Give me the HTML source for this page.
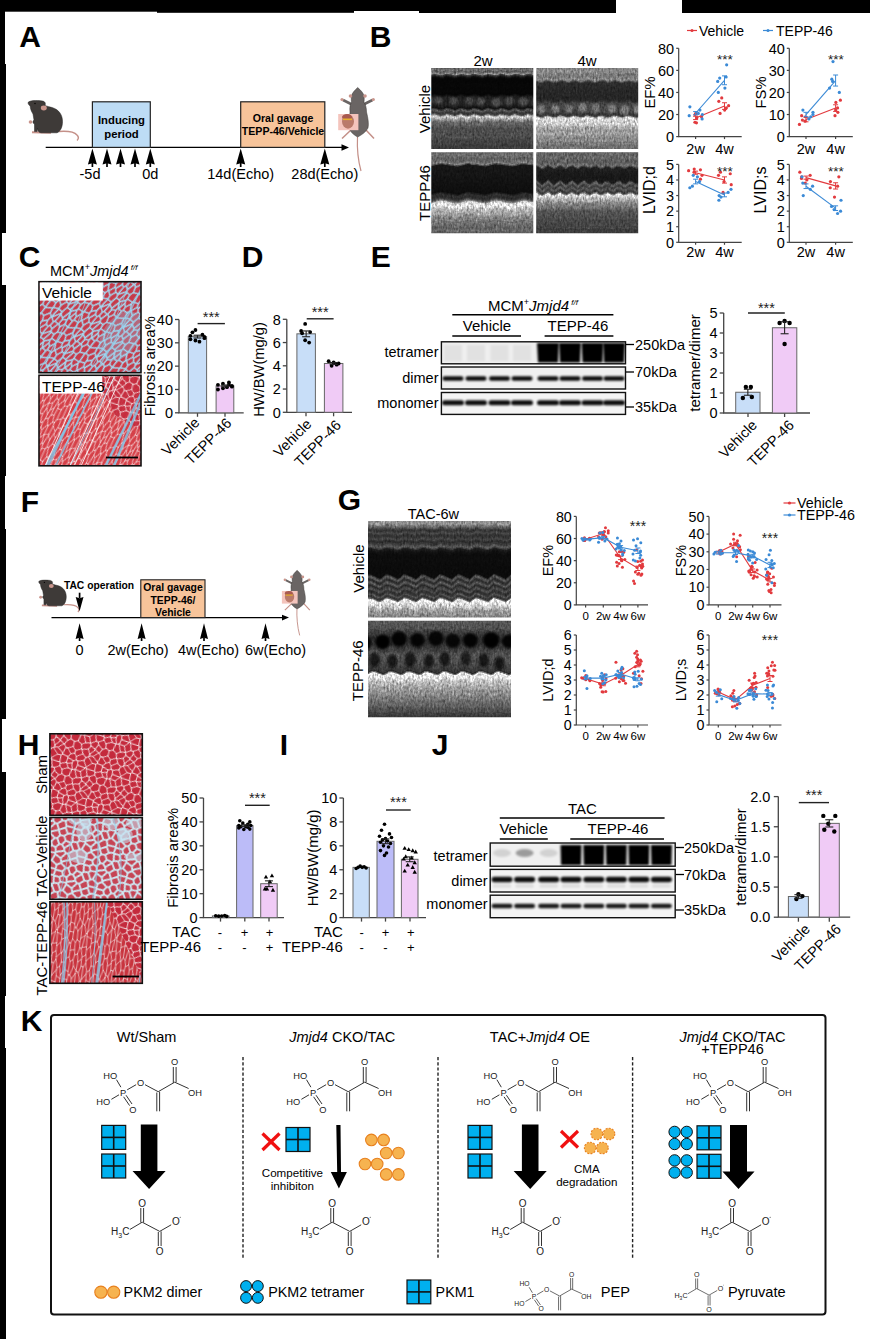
<!DOCTYPE html>
<html><head><meta charset="utf-8"><style>
html,body{margin:0;padding:0;background:#fff;}
body{width:870px;height:1339px;overflow:hidden;}
svg{display:block;font-family:"Liberation Sans", sans-serif;}
</style></head><body>
<svg width="870" height="1339" viewBox="0 0 870 1339">
<defs><filter id="eblur" x="-50%" y="-50%" width="200%" height="200%"><feGaussianBlur stdDeviation="1.3"/></filter>
<filter id="spk1" x="0" y="0" width="100%" height="100%" color-interpolation-filters="sRGB"><feTurbulence type="fractalNoise" baseFrequency="0.55 0.3" numOctaves="2" seed="5" result="t"/><feColorMatrix in="t" type="matrix" values="0.33 0.33 0.33 0 0  0.33 0.33 0.33 0 0  0.33 0.33 0.33 0 0  0 0 0 0 1" result="g"/><feComposite in="SourceGraphic" in2="g" operator="arithmetic" k1="1.7" k2="0.15" k3="0" k4="0"/></filter>
<filter id="noise1" x="0" y="0" width="100%" height="100%"><feTurbulence type="fractalNoise" baseFrequency="0.9 0.35" numOctaves="2" seed="3"/><feColorMatrix type="matrix" values="0 0 0 0 0  0 0 0 0 0  0 0 0 0 0  1.2 1.2 1.2 0 -1.2"/></filter>
<filter id="noise2" x="0" y="0" width="100%" height="100%"><feTurbulence type="fractalNoise" baseFrequency="0.6 0.25" numOctaves="2" seed="9"/><feColorMatrix type="saturate" values="0"/></filter>
<clipPath id="ecb1"><rect x="431.3" y="68" width="102" height="81"/></clipPath>
<linearGradient id="egb1" x1="0" y1="0" x2="0" y2="1"><stop offset="0" stop-color="rgb(95,95,95)"/><stop offset="0.03" stop-color="rgb(110,110,110)"/><stop offset="0.05" stop-color="rgb(85,85,85)"/><stop offset="0.07" stop-color="rgb(150,150,150)"/><stop offset="0.1" stop-color="rgb(40,40,40)"/><stop offset="0.13" stop-color="rgb(8,8,8)"/><stop offset="0.33" stop-color="rgb(8,8,8)"/><stop offset="0.37" stop-color="rgb(35,35,35)"/><stop offset="0.47" stop-color="rgb(35,35,35)"/><stop offset="0.5" stop-color="rgb(20,20,20)"/><stop offset="0.53" stop-color="rgb(95,95,95)"/><stop offset="0.56" stop-color="rgb(50,50,50)"/><stop offset="0.58" stop-color="rgb(80,80,80)"/><stop offset="0.6" stop-color="rgb(220,220,220)"/><stop offset="0.62" stop-color="rgb(180,180,180)"/><stop offset="0.67" stop-color="rgb(105,105,105)"/><stop offset="0.75" stop-color="rgb(75,75,75)"/><stop offset="0.85" stop-color="rgb(80,80,80)"/><stop offset="1" stop-color="rgb(60,60,60)"/></linearGradient>
<clipPath id="ecb2"><rect x="536.2" y="68" width="102" height="81"/></clipPath>
<linearGradient id="egb2" x1="0" y1="0" x2="0" y2="1"><stop offset="0" stop-color="rgb(125,125,125)"/><stop offset="0.05" stop-color="rgb(140,140,140)"/><stop offset="0.1" stop-color="rgb(115,115,115)"/><stop offset="0.15" stop-color="rgb(150,150,150)"/><stop offset="0.18" stop-color="rgb(45,45,45)"/><stop offset="0.4" stop-color="rgb(38,38,38)"/><stop offset="0.44" stop-color="rgb(70,70,70)"/><stop offset="0.55" stop-color="rgb(70,70,70)"/><stop offset="0.59" stop-color="rgb(45,45,45)"/><stop offset="0.62" stop-color="rgb(225,225,225)"/><stop offset="0.68" stop-color="rgb(215,215,215)"/><stop offset="0.74" stop-color="rgb(170,170,170)"/><stop offset="0.9" stop-color="rgb(135,135,135)"/><stop offset="1" stop-color="rgb(110,110,110)"/></linearGradient>
<clipPath id="ecb3"><rect x="431.3" y="152.3" width="102" height="81"/></clipPath>
<linearGradient id="egb3" x1="0" y1="0" x2="0" y2="1"><stop offset="0" stop-color="rgb(95,95,95)"/><stop offset="0.05" stop-color="rgb(110,110,110)"/><stop offset="0.1" stop-color="rgb(90,90,90)"/><stop offset="0.14" stop-color="rgb(130,130,130)"/><stop offset="0.17" stop-color="rgb(25,25,25)"/><stop offset="0.5" stop-color="rgb(15,15,15)"/><stop offset="0.54" stop-color="rgb(55,55,55)"/><stop offset="0.57" stop-color="rgb(40,40,40)"/><stop offset="0.6" stop-color="rgb(90,90,90)"/><stop offset="0.63" stop-color="rgb(240,240,240)"/><stop offset="0.66" stop-color="rgb(220,220,220)"/><stop offset="0.75" stop-color="rgb(165,165,165)"/><stop offset="0.85" stop-color="rgb(115,115,115)"/><stop offset="1" stop-color="rgb(95,95,95)"/></linearGradient>
<clipPath id="ecb4"><rect x="536.2" y="152.3" width="102" height="81"/></clipPath>
<linearGradient id="egb4" x1="0" y1="0" x2="0" y2="1"><stop offset="0" stop-color="rgb(90,90,90)"/><stop offset="0.05" stop-color="rgb(110,110,110)"/><stop offset="0.13" stop-color="rgb(90,90,90)"/><stop offset="0.17" stop-color="rgb(120,120,120)"/><stop offset="0.2" stop-color="rgb(35,35,35)"/><stop offset="0.37" stop-color="rgb(30,30,30)"/><stop offset="0.4" stop-color="rgb(110,110,110)"/><stop offset="0.43" stop-color="rgb(50,50,50)"/><stop offset="0.46" stop-color="rgb(100,100,100)"/><stop offset="0.49" stop-color="rgb(55,55,55)"/><stop offset="0.51" stop-color="rgb(70,70,70)"/><stop offset="0.53" stop-color="rgb(235,235,235)"/><stop offset="0.56" stop-color="rgb(205,205,205)"/><stop offset="0.62" stop-color="rgb(140,140,140)"/><stop offset="0.75" stop-color="rgb(85,85,85)"/><stop offset="1" stop-color="rgb(60,60,60)"/></linearGradient>
<pattern id="p_sham" patternUnits="userSpaceOnUse" width="36" height="36" patternTransform="rotate(15)"><rect width="36" height="36" fill="#c42a3c"/><path d="M-3.1,7.1L-0.8,7.3M-0.8,7.3L0.1,10.1M0.1,10.1L-2.3,14.9M-2.3,14.9L-7.0,13.0M20.7,18.2L21.2,18.5M20.7,18.2L15.3,21.3M21.2,18.5L23.2,22.8M23.2,22.8L17.5,26.9M15.3,21.3L15.0,24.2M17.5,26.9L15.0,24.2M11.9,18.2L7.1,20.9M11.9,18.2L15.3,21.3M7.1,20.9L11.7,25.7M11.7,25.7L15.0,24.2M2.9,36.6L3.8,37.7M2.9,36.6L2.5,29.4M3.8,37.7L9.3,35.3M9.3,35.3L9.8,30.1M2.5,29.4L3.6,28.1M3.6,28.1L9.3,29.2M9.3,29.2L9.8,30.1M-5.6,36.0L2.9,36.6M3.9,40.1L3.8,37.7M-6.4,34.6L-1.2,29.5M-1.2,29.5L2.5,29.4M12.5,39.9L10.1,35.8M10.1,35.8L9.3,35.3M10.1,35.8L15.0,34.5M15.0,34.5L15.8,31.8M15.8,31.8L9.8,30.1M11.7,25.7L9.3,29.2M18.4,30.3L15.8,31.8M18.4,30.3L17.5,26.9M15.0,34.5L16.9,40.6M-1.2,-6.5L-6.4,-1.4M20.1,31.0L21.1,34.9M20.1,31.0L26.0,28.8M21.1,34.9L29.0,35.8M26.0,28.8L29.6,34.6M29.6,34.6L29.6,35.4M29.0,35.8L29.6,35.4M19.7,39.8L21.1,34.9M18.4,30.3L20.1,31.0M27.1,25.4L23.2,22.8M27.1,25.4L26.0,28.8M25.4,40.5L29.0,35.8M29.4,24.2L27.1,25.4M29.4,24.2L34.8,29.5M34.8,29.5L29.6,34.6M3.5,27.0L-2.6,22.6M3.5,27.0L5.2,20.9M-2.6,22.6L2.5,17.8M5.2,20.9L2.7,17.8M2.7,17.8L2.5,17.8M7.1,20.9L5.2,20.9M3.6,28.1L3.5,27.0M5.2,13.3L0.1,10.1M5.2,13.3L2.7,17.8M-1.8,15.6L2.5,17.8M-1.8,15.6L-2.3,14.9M30.4,36.0L38.9,36.6M30.4,36.0L32.9,43.1M39.8,37.7L38.9,36.6M38.5,29.4L38.9,36.6M38.5,29.4L34.8,29.5M29.6,35.4L30.4,36.0M39.6,28.1L38.5,29.4M-1.2,29.5L-6.6,24.2M-1.8,15.6L-6.1,21.5M-2.6,22.6L-6.0,23.2M38.5,-6.6L38.9,0.6M39.8,1.7L38.9,0.6M2.9,0.6L2.5,-6.6M2.9,0.6L3.8,1.7M3.8,1.7L9.3,-0.7M9.3,-0.7L9.8,-5.9M-5.6,-0.0L2.9,0.6M-0.8,7.3L3.9,4.1M3.9,4.1L3.8,1.7M19.5,13.8L23.0,11.3M19.5,13.8L20.7,18.2M28.0,10.4L29.0,13.0M28.0,10.4L27.8,10.3M21.2,18.5L27.4,16.7M27.4,16.7L29.0,13.0M27.8,10.3L23.0,11.3M34.8,-6.5L29.6,-1.4M26.0,-7.2L29.6,-1.4M30.4,-0.0L38.9,0.6M30.4,-0.0L29.6,-0.6M29.6,-1.4L29.6,-0.6M28.0,10.4L32.9,7.1M30.4,-0.0L32.9,7.1M25.4,4.5L27.8,10.3M25.4,4.5L29.0,-0.2M29.6,-0.6L29.0,-0.2M36.1,10.1L35.2,7.3M36.1,10.1L41.2,13.3M35.2,7.3L39.9,4.1M32.9,7.1L35.2,7.3M29.0,13.0L33.7,14.9M33.7,14.9L36.1,10.1M41.2,20.9L38.7,17.8M38.7,17.8L41.2,13.3M30.0,23.2L29.9,21.5M30.0,23.2L33.4,22.6M29.9,21.5L34.2,15.6M33.4,22.6L38.5,17.8M38.5,17.8L34.2,15.6M29.4,24.2L30.0,23.2M27.4,16.7L29.9,21.5M39.5,27.0L33.4,22.6M33.7,14.9L34.2,15.6M38.7,17.8L38.5,17.8M16.5,4.9L12.5,3.9M16.5,4.9L15.3,11.4M12.5,3.9L6.9,7.0M15.3,11.4L11.9,12.8M11.9,12.8L8.0,11.4M8.0,11.4L6.9,7.0M3.9,4.1L6.9,7.0M9.3,-0.7L10.1,-0.2M10.1,-0.2L12.5,3.9M11.9,18.2L11.9,12.8M19.5,13.8L15.3,11.4M5.2,13.3L8.0,11.4M16.9,4.6L15.0,-1.5M16.9,4.6L19.6,3.9M19.6,3.9L19.7,3.8M19.7,3.8L21.1,-1.1M21.1,-1.1L20.1,-5.0M15.0,-1.5L15.8,-4.2M10.1,-0.2L15.0,-1.5M16.5,4.9L16.9,4.6M23.0,11.3L19.6,3.9M25.4,4.5L19.7,3.8M29.0,-0.2L21.1,-1.1" stroke="#f6e8ea" stroke-width="0.9" fill="none" stroke-linecap="round"/></pattern>
<pattern id="p_veh" patternUnits="userSpaceOnUse" width="40" height="30" patternTransform="rotate(-48)"><rect width="40" height="30" fill="#c63a4a"/><path d="M42.0,-0.7L42.6,-4.7M42.0,-0.7L49.9,-1.4M42.0,-0.7L41.8,-0.6M46.5,5.3L41.8,-0.6M-4.8,-0.0L1.8,-0.6M6.5,5.3L1.8,-0.6M6.5,5.3L1.2,6.7M-5.1,3.6L1.2,6.7M46.5,5.3L41.2,6.7M41.2,6.7L34.9,3.6M41.8,-0.6L35.2,-0.0M35.2,-0.0L34.9,3.6M7.0,5.4L12.7,4.1M7.0,5.4L10.1,10.2M10.1,10.2L13.9,9.5M13.9,9.5L16.7,5.4M12.7,4.1L16.0,4.8M16.7,5.4L16.0,4.8M6.5,5.3L7.0,5.4M9.9,-1.4L2.0,-0.7M9.9,-1.4L11.9,-0.7M1.8,-0.6L2.0,-0.7M11.9,-0.7L12.7,4.1M9.8,10.5L-1.0,10.0M9.8,10.5L10.1,10.2M-1.0,10.0L-1.0,10.0M-1.0,10.0L1.2,6.7M15.6,-1.4L22.2,1.0M15.6,-1.4L11.9,-0.7M22.2,1.0L16.0,4.8M-4.8,30.0L1.8,29.4M1.8,29.4L6.5,35.3M-9.7,18.6L-1.8,19.9M-1.8,19.9L-1.9,15.7M-3.5,14.8L-1.9,15.7M-8.3,24.9L-2.9,23.0M-2.9,23.0L-1.0,20.4M-1.0,20.4L-1.8,19.9M1.8,29.4L2.0,29.3M12.7,34.1L11.9,29.3M11.9,29.3L9.9,28.6M2.0,29.3L9.9,28.6M-2.9,23.0L2.6,25.3M2.0,29.3L2.6,25.3M-1.0,10.0L-5.9,9.6M-0.8,10.7L-1.0,10.0M-0.8,10.7L-3.5,14.8M9.9,-1.4L10.0,-5.5M15.6,-1.4L18.2,-4.2M34.3,-0.4L24.6,1.0M34.3,-0.4L31.7,-5.1M23.9,0.8L23.1,-5.3M23.9,0.8L24.6,1.0M35.2,-0.0L34.3,-0.4M22.2,1.0L23.9,0.8M46.5,35.3L41.8,29.4M34.9,33.6L35.2,30.0M41.8,29.4L35.2,30.0M41.2,6.7L39.0,10.0M49.8,10.5L39.0,10.0M39.0,10.0L39.0,10.0M26.9,36.1L24.6,31.0M16.0,34.8L22.2,31.0M22.2,31.0L23.9,30.8M23.9,30.8L24.6,31.0M34.3,29.6L35.2,30.0M34.3,29.6L24.6,31.0M15.6,28.6L11.9,29.3M15.6,28.6L22.2,31.0M31.7,24.9L34.3,29.6M31.7,24.9L27.6,23.7M23.1,24.7L27.6,23.7M23.1,24.7L23.9,30.8M2.0,-0.7L2.6,-4.7M41.8,29.4L42.0,29.3M49.9,28.6L42.0,29.3M15.6,28.6L18.2,25.8M9.9,28.6L10.0,24.5M18.2,25.8L10.0,24.5M23.1,24.7L21.3,24.6M18.2,25.8L21.3,24.6M39.0,10.0L39.2,10.7M39.2,10.7L48.3,15.2M39.2,10.7L36.5,14.8M47.4,15.7L38.1,15.7M38.1,15.7L36.5,14.8M47.1,23.6L42.6,25.3M42.6,25.3L37.1,23.0M44.3,20.1L39.0,20.4M39.0,20.4L37.1,23.0M42.0,29.3L42.6,25.3M31.7,24.9L37.1,23.0M38.2,19.9L38.1,15.7M38.2,19.9L39.0,20.4M2.6,25.3L7.1,23.6M10.0,24.5L9.8,24.1M7.1,23.6L9.8,24.1M-1.0,20.4L4.3,20.1M7.1,23.6L4.3,20.1M34.1,9.6L30.2,11.3M34.1,9.6L29.8,6.1M30.2,11.3L23.1,9.0M26.9,6.1L29.8,6.1M26.9,6.1L23.3,7.6M23.3,7.6L23.1,9.0M34.9,3.6L29.8,6.1M39.0,10.0L34.1,9.6M24.6,1.0L26.9,6.1M16.7,5.4L23.3,7.6M13.9,9.5L20.3,11.6M20.3,11.6L23.1,9.0M28.2,19.4L19.9,14.7M28.2,19.4L30.3,18.6M30.3,18.6L31.9,15.1M19.9,14.7L20.1,14.5M20.1,14.5L29.5,13.9M29.5,13.9L31.9,15.1M27.6,23.7L27.6,20.4M27.6,20.4L28.2,19.4M38.2,19.9L30.3,18.6M36.5,14.8L31.9,15.1M20.3,11.6L20.1,14.5M30.2,11.3L29.5,13.9M15.9,20.8L15.1,21.0M15.9,20.8L16.8,19.3M15.1,21.0L5.4,19.3M16.8,19.3L16.6,15.8M16.6,15.8L9.8,14.8M5.4,19.3L7.4,15.7M9.8,14.8L8.3,15.2M8.3,15.2L7.4,15.7M21.3,24.6L15.9,20.8M9.8,24.1L15.1,21.0M27.6,20.4L16.8,19.3M4.3,20.1L5.4,19.3M19.9,14.7L16.6,15.8M9.8,10.5L9.8,14.8M-1.9,15.7L7.4,15.7M-0.8,10.7L8.3,15.2" stroke="#a4d8f0" stroke-width="1.5" fill="none" stroke-linecap="round"/></pattern>
<pattern id="p_tepp" patternUnits="userSpaceOnUse" width="48" height="30" patternTransform="rotate(-62)"><rect width="48" height="30" fill="#d54048"/><path d="M-3.4,14.4L2.1,15.5M2.1,15.5L3.1,17.2M3.1,17.2L-3.3,18.8M11.4,18.9L3.1,17.2M11.4,18.9L7.8,21.8M-3.3,18.8L3.5,22.4M7.8,21.8L3.5,22.4M-5.2,32.7L2.5,32.9M2.9,36.6L2.5,32.9M8.1,30.2L0.8,29.2M8.1,30.2L5.9,31.9M0.8,29.2L-6.2,30.1M2.5,32.9L5.9,31.9M51.5,22.4L44.7,18.8M51.1,17.2L44.7,18.8M10.5,29.7L11.1,27.3M10.5,29.7L16.0,30.4M26.5,26.7L24.4,28.7M26.5,26.7L15.6,25.7M15.6,25.7L11.1,27.3M16.0,30.4L24.4,28.7M26.5,26.7L31.1,25.8M31.1,25.8L35.9,26.7M37.1,29.0L35.9,26.7M37.1,29.0L31.0,31.4M24.4,28.7L31.0,31.4M36.1,4.6L36.3,6.4M36.1,4.6L42.8,2.7M42.8,2.7L50.5,2.9M40.2,7.2L36.3,6.4M40.2,7.2L50.9,6.6M50.5,2.9L50.9,6.6M4.8,-4.3L11.1,-2.7M15.6,-4.3L11.1,-2.7M37.1,-1.0L35.9,-3.3M37.1,-1.0L41.8,0.1M46.0,-3.1L48.8,-0.8M48.8,-0.8L41.8,0.1M31.0,1.4L37.1,-1.0M31.0,1.4L24.4,-1.3M24.4,-1.3L26.5,-3.3M30.6,2.5L36.1,4.6M30.6,2.5L31.0,1.4M42.8,2.7L41.8,0.1M56.1,0.2L48.8,-0.8M50.5,2.9L53.9,1.9M11.4,18.9L15.7,18.2M2.1,15.5L11.7,12.9M15.7,18.2L16.7,14.9M16.7,14.9L11.7,12.9M11.7,12.9L11.2,11.3M11.2,11.3L9.1,10.7M9.1,10.7L-3.2,11.3M24.4,-1.3L16.0,0.4M11.1,-2.7L10.5,-0.3M16.0,0.4L10.5,-0.3M33.5,12.1L42.7,10.8M33.5,12.1L29.2,11.1M42.7,10.8L40.2,7.2M36.3,6.4L32.4,7.1M32.4,7.1L29.2,11.1M23.4,14.4L16.7,14.9M23.4,14.4L26.3,11.3M11.2,11.3L19.2,10.3M19.2,10.3L26.3,11.3M33.5,12.1L34.1,14.9M34.1,14.9L29.3,15.4M29.3,15.4L23.4,14.4M29.2,11.1L26.3,11.3M-2.0,-3.1L0.8,-0.8M-6.2,0.1L0.8,-0.8M10.5,-0.3L8.1,0.2M8.1,0.2L0.8,-0.8M24.1,19.6L25.3,19.3M24.1,19.6L24.5,22.0M25.3,19.3L37.9,19.2M24.5,22.0L30.4,24.0M30.4,24.0L38.5,21.8M38.5,21.8L37.9,19.2M15.7,18.2L24.1,19.6M29.3,15.4L25.3,19.3M15.6,23.7L7.8,21.8M15.6,23.7L24.5,22.0M34.1,14.9L37.4,15.5M37.4,15.5L38.9,18.8M38.9,18.8L37.9,19.2M31.1,25.8L30.4,24.0M15.6,25.7L15.6,23.7M-7.1,26.2L-2.0,26.9M-7.1,26.2L-2.5,23.0M-2.0,26.9L4.8,25.7M4.8,25.7L3.0,22.6M-2.5,23.0L3.0,22.6M0.8,29.2L-2.0,26.9M-9.5,21.8L-2.5,23.0M8.1,30.2L10.5,29.7M11.1,27.3L4.8,25.7M3.5,22.4L3.0,22.6M44.6,14.4L50.1,15.5M44.6,14.4L44.8,11.3M50.1,15.5L59.7,12.9M44.8,11.3L57.1,10.7M51.1,17.2L50.1,15.5M37.4,15.5L44.6,14.4M44.7,18.8L38.9,18.8M42.7,10.8L44.8,11.3M50.9,6.6L55.6,7.4M35.9,26.7L40.9,26.2M38.5,21.8L45.5,23.0M40.9,26.2L45.5,23.0M45.5,23.0L51.0,22.6M36.1,34.6L42.8,32.7M50.9,36.6L50.5,32.9M42.8,32.7L50.5,32.9M37.1,29.0L41.8,30.1M31.0,31.4L30.6,32.5M30.6,32.5L36.1,34.6M41.8,30.1L42.8,32.7M32.4,7.1L23.6,7.0M19.2,10.3L22.1,7.3M23.6,7.0L22.1,7.3M30.6,2.5L21.2,3.0M23.6,7.0L21.2,3.0M16.0,0.4L20.6,2.9M21.2,3.0L20.6,2.9M12.9,35.0L20.6,32.9M20.6,32.9L21.2,33.0M5.9,31.9L12.9,35.0M16.0,30.4L20.6,32.9M30.6,32.5L21.2,33.0M56.1,30.2L48.8,29.2M48.8,29.2L46.0,26.9M52.8,25.7L46.0,26.9M53.9,31.9L50.5,32.9M41.8,30.1L48.8,29.2M40.9,26.2L46.0,26.9M12.1,6.2L12.9,5.0M12.1,6.2L7.6,7.4M12.9,5.0L5.9,1.9M7.6,7.4L2.9,6.6M2.9,6.6L2.5,2.9M5.9,1.9L2.5,2.9M22.1,7.3L12.1,6.2M20.6,2.9L12.9,5.0M9.1,10.7L7.6,7.4M8.1,0.2L5.9,1.9M-7.8,7.2L2.9,6.6M-5.2,2.7L2.5,2.9" stroke="#f6e4e6" stroke-width="0.7" fill="none" stroke-linecap="round"/></pattern>
<pattern id="p_tacv" patternUnits="userSpaceOnUse" width="32" height="32" patternTransform="rotate(-20)"><rect width="32" height="32" fill="#c64454"/><path d="M-1.7,12.4L2.6,16.6M-1.7,12.4L-6.7,14.8M-5.7,18.9L2.2,17.3M2.2,17.3L2.6,16.6M-1.5,7.5L-1.7,12.4M-1.5,7.5L-5.0,5.4M-1.5,7.5L2.6,6.5M2.6,6.5L2.6,0.2M-4.3,-0.4L2.6,0.2M2.6,6.5L7.2,8.4M2.6,0.2L4.0,-1.1M11.0,3.5L4.0,-1.1M11.0,3.5L10.9,4.2M7.2,8.4L10.9,4.2M4.3,15.8L2.6,16.6M4.3,15.8L7.3,9.0M7.2,8.4L7.3,9.0M20.9,38.2L18.1,31.5M18.1,31.5L18.8,30.8M27.4,31.9L18.8,30.8M27.4,31.9L27.0,37.4M4.0,-1.1L4.9,-6.0M18.1,31.5L13.4,32.0M13.4,32.0L11.0,35.5M15.9,21.5L19.6,27.2M15.9,21.5L10.4,25.9M18.8,30.8L19.6,27.2M13.4,32.0L10.4,25.9M8.5,17.9L8.2,25.4M8.5,17.9L11.2,17.3M15.9,21.5L16.2,20.2M10.4,25.9L8.2,25.4M16.2,20.2L11.2,17.3M8.5,17.9L4.3,15.8M7.3,9.0L11.8,12.4M11.2,17.3L11.8,12.4M13.4,-0.0L11.0,3.5M13.4,-0.0L10.4,-6.1M18.1,-0.5L18.8,-1.2M18.1,-0.5L13.4,-0.0M19.6,-4.8L18.8,-1.2M28.0,-6.4L27.7,-0.4M27.7,-0.4L34.6,0.2M36.0,-1.1L34.6,0.2M27.4,-0.1L27.7,-0.4M27.4,-0.1L18.8,-1.2M27.0,5.4L27.4,-0.1M27.0,5.4L30.5,7.5M30.5,7.5L34.6,6.5M34.6,6.5L34.6,0.2M39.2,8.4L34.6,6.5M27.4,31.9L27.7,31.6M19.6,27.2L26.3,24.3M27.7,31.6L28.0,25.6M26.3,24.3L28.0,25.6M16.2,20.2L17.1,19.5M17.1,19.5L25.4,21.5M26.3,24.3L25.4,21.5M27.7,31.6L34.6,32.2M34.6,32.2L36.0,30.9M36.9,26.0L34.1,24.2M28.0,25.6L34.1,24.2M34.6,32.2L34.6,38.5M2.2,17.3L2.1,24.2M-4.0,25.6L2.1,24.2M11.0,35.5L4.0,30.9M8.2,25.4L4.9,26.0M4.0,30.9L4.9,26.0M2.1,24.2L4.9,26.0M15.8,12.0L18.4,15.2M15.8,12.0L16.6,8.1M18.4,15.2L23.0,13.3M23.0,13.3L23.2,7.1M16.6,8.1L20.9,6.2M23.2,7.1L20.9,6.2M11.8,12.4L15.8,12.0M17.1,19.5L18.4,15.2M10.9,4.2L16.6,8.1M18.1,-0.5L20.9,6.2M27.0,5.4L23.2,7.1M34.6,16.6L34.2,17.3M34.6,16.6L30.3,12.4M34.2,17.3L26.3,18.9M30.3,12.4L25.3,14.8M25.3,14.8L26.3,18.9M36.3,15.8L34.6,16.6M34.1,24.2L34.2,17.3M30.5,7.5L30.3,12.4M25.4,21.5L26.3,18.9M23.0,13.3L25.3,14.8M4.0,30.9L2.6,32.2M-4.3,31.6L2.6,32.2M2.6,38.5L2.6,32.2" stroke="#cfe6f0" stroke-width="1.9" fill="none" stroke-linecap="round"/></pattern>
<pattern id="p_tact" patternUnits="userSpaceOnUse" width="48" height="30" patternTransform="rotate(-82)"><rect width="48" height="30" fill="#c8343e"/><path d="M40.2,-2.8L37.4,-4.2M40.2,-2.8L38.3,0.0M25.0,-3.1L26.1,-0.5M26.1,-0.5L32.4,0.9M38.3,0.0L32.4,0.9M40.2,-2.8L49.0,-3.2M49.0,-3.2L54.4,-0.0M54.4,-0.0L42.2,0.7M38.3,0.0L42.2,0.7M42.2,0.7L45.6,4.6M31.9,2.5L32.4,0.9M31.9,2.5L33.4,3.2M45.6,4.6L33.4,3.2M55.7,2.8L47.6,5.3M45.6,4.6L47.6,5.3M23.6,4.4L31.9,2.5M23.6,4.4L26.2,7.8M26.2,7.8L31.6,7.9M31.6,7.9L34.2,7.3M33.4,3.2L34.2,7.3M59.5,13.5L50.9,15.4M55.7,18.5L50.9,15.4M-2.4,4.6L-5.8,0.7M-2.4,4.6L-14.6,3.2M26.1,-0.5L18.4,0.9M23.6,4.4L21.2,4.1M18.4,0.9L21.2,4.1M26.2,7.8L20.5,9.0M20.5,9.0L17.9,8.9M14.0,6.9L17.9,8.9M14.0,6.9L14.7,4.9M14.7,4.9L21.2,4.1M1.5,11.4L-4.7,11.0M1.5,11.4L7.5,10.8M7.5,10.8L1.3,6.7M-3.4,6.8L-0.6,6.2M-0.6,6.2L1.3,6.7M9.7,11.1L7.5,10.8M9.7,11.1L17.9,8.9M14.0,6.9L1.3,6.7M-0.4,5.3L-2.4,4.6M-0.4,5.3L-0.6,6.2M-0.4,5.3L7.7,2.8M7.7,2.8L14.7,4.9M20.5,9.0L25.3,13.1M31.6,7.9L35.3,11.3M35.3,11.3L25.3,13.1M1.5,11.4L-0.4,15.3M-0.4,15.3L-6.8,15.7M9.7,11.1L11.5,13.5M11.5,13.5L2.9,15.4M-0.4,15.3L2.9,15.4M44.6,6.8L47.4,6.2M44.6,6.8L43.3,11.0M43.3,11.0L49.5,11.4M47.4,6.2L49.3,6.7M49.3,6.7L55.5,10.8M49.5,11.4L55.5,10.8M47.6,5.3L47.4,6.2M34.2,7.3L44.6,6.8M38.7,11.9L35.3,11.3M38.7,11.9L43.3,11.0M47.6,15.3L41.2,15.7M47.6,15.3L49.5,11.4M41.2,15.7L40.7,15.6M40.7,15.6L38.7,11.9M62.0,6.9L49.3,6.7M47.6,15.3L50.9,15.4M55.7,18.5L47.6,19.0M41.2,15.7L40.7,17.5M47.6,19.0L40.7,17.5M26.6,17.6L20.3,18.8M26.6,17.6L28.7,15.4M15.9,14.6L16.0,17.9M15.9,14.6L24.8,13.6M16.0,17.9L20.3,18.8M24.8,13.6L28.7,15.4M40.7,15.6L28.7,15.4M36.3,19.6L40.7,17.5M36.3,19.6L26.6,17.6M11.5,13.5L15.9,14.6M25.3,13.1L24.8,13.6M6.4,-0.0L1.0,-3.2M6.4,-0.0L9.1,0.4M9.3,0.4L9.1,0.4M9.3,0.4L13.6,-2.8M13.6,-2.8L4.1,-5.3M-7.8,-2.8L1.0,-3.2M-5.8,0.7L6.4,-0.0M7.7,2.8L9.1,0.4M18.4,0.9L9.3,0.4M19.6,-4.2L13.6,-2.8M2.9,15.4L7.7,18.5M16.0,17.9L8.9,18.7M8.9,18.7L7.7,18.5M-7.6,22.6L-0.9,22.6M-0.9,22.6L-0.4,19.0M-7.3,17.5L-0.4,19.0M7.7,18.5L-0.4,19.0M18.4,30.9L21.2,34.1M18.4,30.9L9.3,30.4M7.7,32.8L14.7,34.9M7.7,32.8L9.1,30.4M9.1,30.4L9.3,30.4M-0.4,35.3L7.7,32.8M23.6,34.4L31.9,32.5M33.4,33.2L31.9,32.5M6.4,30.0L1.0,26.8M6.4,30.0L-5.8,30.7M1.0,26.8L-7.8,27.2M-2.4,34.6L-5.8,30.7M9.1,30.4L6.4,30.0M9.3,30.4L13.6,27.2M1.0,26.8L4.1,24.7M13.6,27.2L4.1,24.7M8.9,18.7L7.6,22.6M-0.9,22.6L4.1,23.2M7.6,22.6L4.1,23.2M4.1,23.2L4.1,24.7M18.4,30.9L26.1,29.5M31.9,32.5L32.4,30.9M26.1,29.5L32.4,30.9M13.6,27.2L19.6,25.8M7.6,22.6L17.8,23.2M19.6,25.8L17.8,23.2M26.1,29.5L25.0,26.9M19.6,25.8L25.0,26.9M20.3,18.8L22.2,21.6M22.2,21.6L17.8,23.2M54.4,30.0L42.2,30.7M55.7,32.8L47.6,35.3M42.2,30.7L45.6,34.6M32.4,30.9L38.3,30.0M38.3,30.0L42.2,30.7M38.3,30.0L40.2,27.2M54.4,30.0L49.0,26.8M40.2,27.2L49.0,26.8M49.0,26.8L52.1,24.7M47.6,19.0L47.1,22.6M47.1,22.6L52.1,23.2M29.9,25.9L28.8,21.9M29.9,25.9L37.4,25.8M37.4,25.8L40.4,22.6M40.4,22.6L35.9,21.1M35.9,21.1L28.8,21.9M25.0,26.9L29.9,25.9M22.2,21.6L28.8,21.9M40.2,27.2L37.4,25.8M47.1,22.6L40.4,22.6M36.3,19.6L35.9,21.1" stroke="#f2dcde" stroke-width="0.7" fill="none" stroke-linecap="round"/></pattern>
<filter id="bblur" x="-30%" y="-80%" width="160%" height="260%"><feGaussianBlur stdDeviation="0.9"/></filter>
<clipPath id="hcc1"><rect x="39" y="281.7" width="102" height="91"/></clipPath>
<clipPath id="hcc2"><rect x="39" y="375.3" width="102" height="90.5"/></clipPath>
<clipPath id="hcqc2"><path d="M95.1,375.3 L141,375.3 L141,429.6 L115.5,416.03 Z"/></clipPath>
<clipPath id="hch1"><rect x="49.9" y="733.8" width="92.4" height="81.5"/></clipPath>
<clipPath id="hch2"><rect x="49.9" y="817.5" width="92.4" height="81.8"/></clipPath>
<clipPath id="hch3"><rect x="49.9" y="901.8" width="92.4" height="81.5"/></clipPath>
<clipPath id="hcqh3"><path d="M107.19,901.8 L142.3,901.8 L142.3,979.22 Z"/></clipPath>
<clipPath id="ecg1"><rect x="368" y="521" width="143" height="96.5"/></clipPath>
<linearGradient id="egg1" x1="0" y1="0" x2="0" y2="1"><stop offset="0" stop-color="rgb(140,140,140)"/><stop offset="0.04" stop-color="rgb(150,150,150)"/><stop offset="0.07" stop-color="rgb(95,95,95)"/><stop offset="0.1" stop-color="rgb(50,50,50)"/><stop offset="0.13" stop-color="rgb(75,75,75)"/><stop offset="0.16" stop-color="rgb(45,45,45)"/><stop offset="0.19" stop-color="rgb(70,70,70)"/><stop offset="0.22" stop-color="rgb(45,45,45)"/><stop offset="0.25" stop-color="rgb(65,65,65)"/><stop offset="0.27" stop-color="rgb(100,100,100)"/><stop offset="0.3" stop-color="rgb(30,30,30)"/><stop offset="0.33" stop-color="rgb(15,15,15)"/><stop offset="0.57" stop-color="rgb(12,12,12)"/><stop offset="0.6" stop-color="rgb(100,100,100)"/><stop offset="0.63" stop-color="rgb(35,35,35)"/><stop offset="0.66" stop-color="rgb(95,95,95)"/><stop offset="0.69" stop-color="rgb(35,35,35)"/><stop offset="0.72" stop-color="rgb(85,85,85)"/><stop offset="0.75" stop-color="rgb(40,40,40)"/><stop offset="0.78" stop-color="rgb(80,80,80)"/><stop offset="0.81" stop-color="rgb(45,45,45)"/><stop offset="0.83" stop-color="rgb(250,250,250)"/><stop offset="0.87" stop-color="rgb(230,230,230)"/><stop offset="0.92" stop-color="rgb(170,170,170)"/><stop offset="1" stop-color="rgb(130,130,130)"/></linearGradient>
<clipPath id="ecg2"><rect x="368" y="620.7" width="143" height="96.5"/></clipPath>
<linearGradient id="egg2" x1="0" y1="0" x2="0" y2="1"><stop offset="0" stop-color="rgb(90,90,90)"/><stop offset="0.08" stop-color="rgb(85,85,85)"/><stop offset="0.12" stop-color="rgb(65,65,65)"/><stop offset="0.2" stop-color="rgb(45,45,45)"/><stop offset="0.3" stop-color="rgb(60,60,60)"/><stop offset="0.35" stop-color="rgb(85,85,85)"/><stop offset="0.45" stop-color="rgb(70,70,70)"/><stop offset="0.52" stop-color="rgb(55,55,55)"/><stop offset="0.54" stop-color="rgb(30,30,30)"/><stop offset="0.56" stop-color="rgb(250,250,250)"/><stop offset="0.6" stop-color="rgb(215,215,215)"/><stop offset="0.7" stop-color="rgb(160,160,160)"/><stop offset="0.85" stop-color="rgb(105,105,105)"/><stop offset="1" stop-color="rgb(55,55,55)"/></linearGradient></defs>
<rect width="870" height="1339" fill="#fff"/>
<rect x="0" y="0" width="157" height="11.7" fill="#000"/>
<rect x="157" y="0" width="197" height="12.8" fill="#000"/>
<rect x="354" y="0" width="65" height="11" fill="#000"/>
<rect x="419" y="0" width="197" height="13" fill="#000"/>
<rect x="682" y="0" width="188" height="13" fill="#000"/>
<rect x="0" y="0" width="5" height="64" fill="#000"/>
<rect x="0" y="64" width="6" height="169" fill="#000"/>
<rect x="0" y="233" width="2" height="52" fill="#000"/>
<rect x="0" y="285" width="6" height="191" fill="#000"/>
<rect x="0" y="476" width="5" height="53" fill="#000"/>
<rect x="0" y="529" width="6" height="190" fill="#000"/>
<rect x="0" y="719" width="2" height="53" fill="#000"/>
<rect x="0" y="772" width="6" height="224" fill="#000"/>
<rect x="0" y="996" width="5" height="52" fill="#000"/>
<rect x="0" y="1048" width="6" height="291" fill="#000"/>
<text x="19.3" y="46.9" font-size="30" text-anchor="start" font-weight="bold" fill="#000">A</text>
<text x="369.8" y="46.9" font-size="30" text-anchor="start" font-weight="bold" fill="#000">B</text>
<text x="18.8" y="266.9" font-size="30" text-anchor="start" font-weight="bold" fill="#000">C</text>
<text x="241.8" y="266.9" font-size="30" text-anchor="start" font-weight="bold" fill="#000">D</text>
<text x="370.8" y="266.9" font-size="30" text-anchor="start" font-weight="bold" fill="#000">E</text>
<text x="20.8" y="511.9" font-size="30" text-anchor="start" font-weight="bold" fill="#000">F</text>
<text x="337.8" y="509.9" font-size="30" text-anchor="start" font-weight="bold" fill="#000">G</text>
<text x="17.8" y="754.9" font-size="30" text-anchor="start" font-weight="bold" fill="#000">H</text>
<text x="279.8" y="754.9" font-size="30" text-anchor="start" font-weight="bold" fill="#000">I</text>
<text x="431.8" y="754.9" font-size="30" text-anchor="start" font-weight="bold" fill="#000">J</text>
<text x="20.8" y="1030.9" font-size="30" text-anchor="start" font-weight="bold" fill="#000">K</text>
<g transform="translate(24 93) scale(1)">
<path d="M35,38.5 C42,38 50,38.5 53,42 C55,44 54.5,46 53,47.5" fill="none" stroke="#c49088" stroke-width="1.4"/>
<path d="M8,39.2 L27,39.8" fill="none" stroke="#c49088" stroke-width="2"/>
<path d="M4,9.5 C6,7.3 12,7.3 18.5,8 C21,8.3 22,10.5 21,12.5 C24,13.5 26,14 28,14.5 C35,16.5 38.5,22 38.5,28.5 C38.5,34 36.5,38.5 33,39.8 L17,39.8 C14.5,39.5 13.5,37.5 13.5,35 L13.2,38.5 L10.5,38.5 L10.5,31 C8.5,30.5 8.5,28 10,27 L9,21 C7,18 6.3,15 6.2,13.2 C5,12 4,11 4,9.5 Z" fill="#3e3a38" stroke="#222" stroke-width="0.5"/>
<ellipse cx="19.8" cy="15" rx="3" ry="2.4" fill="#c9958c"/>
<circle cx="6.5" cy="29" r="1.8" fill="#c9958c"/>
<circle cx="11" cy="10.5" r="0.7" fill="#000"/>
</g>
<line x1="45.7" y1="147.4" x2="343" y2="147.4" stroke="#000" stroke-width="1.2"/>
<path d="M349,147.5 L341.5,144.3 L341.5,150.7 Z" fill="#000"/>
<rect x="92.4" y="101.8" width="57.9" height="45.6" fill="#bddcf5" stroke="#222" stroke-width="1.2"/>
<text x="121.5" y="124" font-size="11.3" text-anchor="middle" font-weight="bold" fill="#000">Inducing</text>
<text x="121.5" y="137.5" font-size="11.3" text-anchor="middle" font-weight="bold" fill="#000">period</text>
<rect x="240.7" y="101.8" width="84.1" height="45.6" fill="#f7c49a" stroke="#222" stroke-width="1.2"/>
<text x="283" y="122" font-size="10.6" text-anchor="middle" font-weight="bold" fill="#000">Oral gavage</text>
<text x="283" y="134.5" font-size="10.6" text-anchor="middle" font-weight="bold" fill="#000">TEPP-46/Vehicle</text>
<path d="M92.4,148.5 L96.9,164.5 L92.4,163.3 L87.9,164.5 Z" fill="#000"/>
<line x1="92.4" y1="163" x2="92.4" y2="167" stroke="#000" stroke-width="1.7"/>
<path d="M107,148.5 L111.5,164.5 L107,163.3 L102.5,164.5 Z" fill="#000"/>
<line x1="107" y1="163" x2="107" y2="167" stroke="#000" stroke-width="1.7"/>
<path d="M120.5,148.5 L125,164.5 L120.5,163.3 L116,164.5 Z" fill="#000"/>
<line x1="120.5" y1="163" x2="120.5" y2="167" stroke="#000" stroke-width="1.7"/>
<path d="M135,148.5 L139.5,164.5 L135,163.3 L130.5,164.5 Z" fill="#000"/>
<line x1="135" y1="163" x2="135" y2="167" stroke="#000" stroke-width="1.7"/>
<path d="M150.3,148.5 L154.8,164.5 L150.3,163.3 L145.8,164.5 Z" fill="#000"/>
<line x1="150.3" y1="163" x2="150.3" y2="167" stroke="#000" stroke-width="1.7"/>
<path d="M240.7,148.5 L245.2,164.5 L240.7,163.3 L236.2,164.5 Z" fill="#000"/>
<line x1="240.7" y1="163" x2="240.7" y2="167" stroke="#000" stroke-width="1.7"/>
<path d="M324.8,148.5 L329.3,164.5 L324.8,163.3 L320.3,164.5 Z" fill="#000"/>
<line x1="324.8" y1="163" x2="324.8" y2="167" stroke="#000" stroke-width="1.7"/>
<text x="90" y="179" font-size="14.5" text-anchor="middle" fill="#000">-5d</text>
<text x="150.3" y="179" font-size="14.5" text-anchor="middle" fill="#000">0d</text>
<text x="240.7" y="179" font-size="14.5" text-anchor="middle" fill="#000">14d(Echo)</text>
<text x="324.8" y="179" font-size="14.5" text-anchor="middle" fill="#000">28d(Echo)</text>
<g transform="translate(330 82) scale(1)">
<path d="M27.5,55 C27,65 28,78 31,89" fill="none" stroke="#c49088" stroke-width="1.2"/>
<path d="M21,48 L12,56.5 M36,48 L44,56.5" fill="none" stroke="#c49088" stroke-width="1.5"/>
<path d="M22,22.5 L13,18 M33.5,22.5 L42.5,18" fill="none" stroke="#6a6564" stroke-width="2.6"/>
<circle cx="12" cy="17.5" r="1.6" fill="#c9958c"/>
<circle cx="43.3" cy="17.5" r="1.6" fill="#c9958c"/>
<path d="M27.7,5.5 C25,8 22,11 21.5,14 C21,17 21.5,19 21.5,20.5 C20,22 19.5,26 20,30 C19.5,36 19,42 19.5,46 C20,50 24,53 27.7,55 C31.5,53 36,50 38,46 C39,42 38,36 36.5,30 C36.5,26 35.5,22 34,20.5 C34,19 34.5,17 34,14 C33.5,11 30.5,8 27.7,5.5 Z" fill="#6a6564" stroke="#3a3634" stroke-width="0.5"/>
<circle cx="20.5" cy="14" r="1.8" fill="#c9958c"/>
<circle cx="35" cy="14" r="1.8" fill="#c9958c"/>
<rect x="8.2" y="32" width="20.2" height="16.2" fill="#f4c4bc"/>
<ellipse cx="18" cy="39.5" rx="6" ry="7.2" fill="#b97a6a"/>
<ellipse cx="17" cy="35" rx="5" ry="3" fill="#a85a50"/>
<rect x="13" y="36.5" width="9" height="1.6" fill="#e6b030"/>
</g>
<g transform="translate(35.5 574) scale(0.8)">
<path d="M35,38.5 C42,38 50,38.5 53,42 C55,44 54.5,46 53,47.5" fill="none" stroke="#c49088" stroke-width="1.4"/>
<path d="M8,39.2 L27,39.8" fill="none" stroke="#c49088" stroke-width="2"/>
<path d="M4,9.5 C6,7.3 12,7.3 18.5,8 C21,8.3 22,10.5 21,12.5 C24,13.5 26,14 28,14.5 C35,16.5 38.5,22 38.5,28.5 C38.5,34 36.5,38.5 33,39.8 L17,39.8 C14.5,39.5 13.5,37.5 13.5,35 L13.2,38.5 L10.5,38.5 L10.5,31 C8.5,30.5 8.5,28 10,27 L9,21 C7,18 6.3,15 6.2,13.2 C5,12 4,11 4,9.5 Z" fill="#3e3a38" stroke="#222" stroke-width="0.5"/>
<ellipse cx="19.8" cy="15" rx="3" ry="2.4" fill="#c9958c"/>
<circle cx="6.5" cy="29" r="1.8" fill="#c9958c"/>
<circle cx="11" cy="10.5" r="0.7" fill="#000"/>
</g>
<line x1="51.5" y1="617.6" x2="283" y2="617.6" stroke="#000" stroke-width="1.2"/>
<path d="M289,617.6 L282,614.8 L282,620.4 Z" fill="#000"/>
<rect x="140.8" y="579.8" width="64.2" height="37.8" fill="#f7c49a" stroke="#222" stroke-width="1.1"/>
<text x="173" y="591" font-size="10.4" text-anchor="middle" font-weight="bold" fill="#000">Oral gavage</text>
<text x="173" y="603.5" font-size="10.4" text-anchor="middle" font-weight="bold" fill="#000">TEPP-46/</text>
<text x="173" y="616" font-size="10.4" text-anchor="middle" font-weight="bold" fill="#000">Vehicle</text>
<text x="99" y="589" font-size="10.3" text-anchor="middle" font-weight="bold" fill="#000">TAC operation</text>
<line x1="79.6" y1="592.7" x2="79.6" y2="598" stroke="#000" stroke-width="1.7"/>
<path d="M79.6,611.3 L75.7,597 L79.6,598.2 L83.5,597 Z" fill="#000"/>
<path d="M79.6,623.3 L83.6,639 L79.6,637.8 L75.6,639 Z" fill="#000"/>
<line x1="79.6" y1="637.5" x2="79.6" y2="641" stroke="#000" stroke-width="1.7"/>
<path d="M141.6,623.3 L145.6,639 L141.6,637.8 L137.6,639 Z" fill="#000"/>
<line x1="141.6" y1="637.5" x2="141.6" y2="641" stroke="#000" stroke-width="1.7"/>
<path d="M204,623.3 L208,639 L204,637.8 L200,639 Z" fill="#000"/>
<line x1="204" y1="637.5" x2="204" y2="641" stroke="#000" stroke-width="1.7"/>
<path d="M265.5,623.3 L269.5,639 L265.5,637.8 L261.5,639 Z" fill="#000"/>
<line x1="265.5" y1="637.5" x2="265.5" y2="641" stroke="#000" stroke-width="1.7"/>
<text x="79.6" y="654.5" font-size="14.5" text-anchor="middle" fill="#000">0</text>
<text x="138" y="654.5" font-size="14.5" text-anchor="middle" fill="#000">2w(Echo)</text>
<text x="208.5" y="654.5" font-size="14.5" text-anchor="middle" fill="#000">4w(Echo)</text>
<text x="275.5" y="654.5" font-size="14.5" text-anchor="middle" fill="#000">6w(Echo)</text>
<g transform="translate(275.5 566) scale(0.78)">
<path d="M27.5,55 C27,65 28,78 31,89" fill="none" stroke="#c49088" stroke-width="1.2"/>
<path d="M21,48 L12,56.5 M36,48 L44,56.5" fill="none" stroke="#c49088" stroke-width="1.5"/>
<path d="M22,22.5 L13,18 M33.5,22.5 L42.5,18" fill="none" stroke="#6a6564" stroke-width="2.6"/>
<circle cx="12" cy="17.5" r="1.6" fill="#c9958c"/>
<circle cx="43.3" cy="17.5" r="1.6" fill="#c9958c"/>
<path d="M27.7,5.5 C25,8 22,11 21.5,14 C21,17 21.5,19 21.5,20.5 C20,22 19.5,26 20,30 C19.5,36 19,42 19.5,46 C20,50 24,53 27.7,55 C31.5,53 36,50 38,46 C39,42 38,36 36.5,30 C36.5,26 35.5,22 34,20.5 C34,19 34.5,17 34,14 C33.5,11 30.5,8 27.7,5.5 Z" fill="#6a6564" stroke="#3a3634" stroke-width="0.5"/>
<circle cx="20.5" cy="14" r="1.8" fill="#c9958c"/>
<circle cx="35" cy="14" r="1.8" fill="#c9958c"/>
<rect x="8.2" y="32" width="20.2" height="16.2" fill="#f4c4bc"/>
<ellipse cx="18" cy="39.5" rx="6" ry="7.2" fill="#b97a6a"/>
<ellipse cx="17" cy="35" rx="5" ry="3" fill="#a85a50"/>
<rect x="13" y="36.5" width="9" height="1.6" fill="#e6b030"/>
</g>
<text x="483" y="66" font-size="15" text-anchor="middle" fill="#000">2w</text>
<text x="587" y="66" font-size="15" text-anchor="middle" fill="#000">4w</text>
<text x="430" y="109" font-size="15" text-anchor="middle" fill="#000" transform="rotate(-90 430 109)">Vehicle</text>
<text x="430" y="193" font-size="15" text-anchor="middle" fill="#000" transform="rotate(-90 430 193)">TEPP46</text>
<g clip-path="url(#ecb1)"><g filter="url(#spk1)" fill="none">
<rect x="430.3" y="67" width="104" height="83" fill="url(#egb1)"/>
<path d="M428.3,65.1l3,-1 3,-.7 3,0.7 3,0.7 3,-.1 3,-1.3 3,0.4 3,0.7 3,0.6 3,-1 3,-.7 3,0.7 3,0.7 3,-.1 3,-1.3 3,0.4 3,0.7 3,0.6 3,-1 3,-.7 3,0.7 3,0.7 3,-.1 3,-1.3 3,0.4 3,0.7 3,0.6 3,-1 3,-.7 3,0.7 3,0.7 3,-.1 3,-1.3 3,0.4 3,0.7 3,0.6" stroke="rgb(97,97,97)" stroke-width="1.8"/>
<path d="M428.3,66.4l3,-1.1 3,-.6 3,0.7 3,0.7 3,-.1 3,-1.3 3,0.3 3,0.7 3,0.7 3,-1.1 3,-.6 3,0.7 3,0.7 3,-.1 3,-1.3 3,0.3 3,0.7 3,0.7 3,-1.1 3,-.6 3,0.7 3,0.7 3,-.1 3,-1.3 3,0.3 3,0.7 3,0.7 3,-1.1 3,-.6 3,0.7 3,0.7 3,-.1 3,-1.3 3,0.3 3,0.7 3,0.7" stroke="rgb(94,94,94)" stroke-width="1.8"/>
<path d="M428.3,67.7l3,-1.1 3,-.6 3,0.6 3,0.7 3,-.1 3,-1.2 3,0.3 3,0.7 3,0.7 3,-1.1 3,-.6 3,0.6 3,0.7 3,-.1 3,-1.2 3,0.3 3,0.7 3,0.7 3,-1.1 3,-.6 3,0.6 3,0.7 3,-.1 3,-1.2 3,0.3 3,0.7 3,0.7 3,-1.1 3,-.6 3,0.6 3,0.7 3,-.1 3,-1.2 3,0.3 3,0.7 3,0.7" stroke="rgb(94,94,94)" stroke-width="1.8"/>
<path d="M428.3,68.9l3,-1 3,-.7 3,0.7 3,0.7 3,-.1 3,-1.3 3,0.4 3,0.6 3,0.7 3,-1 3,-.7 3,0.7 3,0.7 3,-.1 3,-1.3 3,0.4 3,0.6 3,0.7 3,-1 3,-.7 3,0.7 3,0.7 3,-.1 3,-1.3 3,0.4 3,0.6 3,0.7 3,-1 3,-.7 3,0.7 3,0.7 3,-.1 3,-1.3 3,0.4 3,0.6 3,0.7" stroke="rgb(91,91,91)" stroke-width="1.8"/>
<path d="M428.3,70.2l3,-1.1 3,-.6 3,0.7 3,0.7 3,-.1 3,-1.3 3,0.3 3,0.7 3,0.7 3,-1.1 3,-.6 3,0.7 3,0.7 3,-.1 3,-1.3 3,0.3 3,0.7 3,0.7 3,-1.1 3,-.6 3,0.7 3,0.7 3,-.1 3,-1.3 3,0.3 3,0.7 3,0.7 3,-1.1 3,-.6 3,0.7 3,0.7 3,-.1 3,-1.3 3,0.3 3,0.7 3,0.7" stroke="rgb(105,105,105)" stroke-width="1.8"/>
<path d="M428.3,71.5l3,-1.1 3,-.6 3,0.6 3,0.7 3,-.1 3,-1.2 3,0.3 3,0.7 3,0.7 3,-1.1 3,-.6 3,0.6 3,0.7 3,-.1 3,-1.2 3,0.3 3,0.7 3,0.7 3,-1.1 3,-.6 3,0.6 3,0.7 3,-.1 3,-1.2 3,0.3 3,0.7 3,0.7 3,-1.1 3,-.6 3,0.6 3,0.7 3,-.1 3,-1.2 3,0.3 3,0.7 3,0.7" stroke="rgb(115,115,115)" stroke-width="1.8"/>
<path d="M428.3,72.7l3,-1 3,-.7 3,0.7 3,0.7 3,-.1 3,-1.3 3,0.4 3,0.6 3,0.7 3,-1 3,-.7 3,0.7 3,0.7 3,-.1 3,-1.3 3,0.4 3,0.6 3,0.7 3,-1 3,-.7 3,0.7 3,0.7 3,-.1 3,-1.3 3,0.4 3,0.6 3,0.7 3,-1 3,-.7 3,0.7 3,0.7 3,-.1 3,-1.3 3,0.4 3,0.6 3,0.7" stroke="rgb(88,88,88)" stroke-width="1.8"/>
<path d="M428.3,74.0l3,-1.1 3,-.6 3,0.7 3,0.7 3,-.1 3,-1.3 3,0.3 3,0.7 3,0.7 3,-1.1 3,-.6 3,0.7 3,0.7 3,-.1 3,-1.3 3,0.3 3,0.7 3,0.7 3,-1.1 3,-.6 3,0.7 3,0.7 3,-.1 3,-1.3 3,0.3 3,0.7 3,0.7 3,-1.1 3,-.6 3,0.7 3,0.7 3,-.1 3,-1.3 3,0.3 3,0.7 3,0.7" stroke="rgb(115,115,115)" stroke-width="1.8"/>
<path d="M428.3,75.3l3,-1.1 3,-.6 3,0.6 3,0.7 3,-.1 3,-1.2 3,0.3 3,0.7 3,0.7 3,-1.1 3,-.6 3,0.6 3,0.7 3,-.1 3,-1.2 3,0.3 3,0.7 3,0.7 3,-1.1 3,-.6 3,0.6 3,0.7 3,-.1 3,-1.2 3,0.3 3,0.7 3,0.7 3,-1.1 3,-.6 3,0.6 3,0.7 3,-.1 3,-1.2 3,0.3 3,0.7 3,0.7" stroke="rgb(141,141,141)" stroke-width="1.8"/>
<path d="M428.3,76.5l3,-1 3,-.7 3,0.7 3,0.7 3,-.1 3,-1.3 3,0.4 3,0.6 3,0.7 3,-1 3,-.7 3,0.7 3,0.7 3,-.1 3,-1.3 3,0.4 3,0.6 3,0.7 3,-1 3,-.7 3,0.7 3,0.7 3,-.1 3,-1.3 3,0.4 3,0.6 3,0.7 3,-1 3,-.7 3,0.7 3,0.7 3,-.1 3,-1.3 3,0.4 3,0.6 3,0.7" stroke="rgb(61,61,61)" stroke-width="1.8"/>
<path d="M428.3,77.8l3,-1.1 3,-.6 3,0.7 3,0.6 3,0 3,-1.3 3,0.3 3,0.7 3,0.7 3,-1.1 3,-.6 3,0.7 3,0.6 3,0 3,-1.3 3,0.3 3,0.7 3,0.7 3,-1.1 3,-.6 3,0.7 3,0.6 3,0 3,-1.3 3,0.3 3,0.7 3,0.7 3,-1.1 3,-.6 3,0.7 3,0.6 3,0 3,-1.3 3,0.3 3,0.7 3,0.7" stroke="rgb(29,29,29)" stroke-width="1.8"/>
<path d="M428.3,79.1l3,-1.1 3,-.7 3,0.7 3,0.7 3,-.1 3,-1.3 3,0.4 3,0.7 3,0.7 3,-1.1 3,-.7 3,0.7 3,0.7 3,-.1 3,-1.3 3,0.4 3,0.7 3,0.7 3,-1.1 3,-.7 3,0.7 3,0.7 3,-.1 3,-1.3 3,0.4 3,0.7 3,0.7 3,-1.1 3,-.7 3,0.7 3,0.7 3,-.1 3,-1.3 3,0.4 3,0.7 3,0.7" stroke="rgb(12,12,12)" stroke-width="1.8"/>
<path d="M428.3,80.3l3,-1.1 3,-.6 3,0.7 3,0.7 3,-.1 3,-1.3 3,0.4 3,0.6 3,0.7 3,-1.1 3,-.6 3,0.7 3,0.7 3,-.1 3,-1.3 3,0.4 3,0.6 3,0.7 3,-1.1 3,-.6 3,0.7 3,0.7 3,-.1 3,-1.3 3,0.4 3,0.6 3,0.7 3,-1.1 3,-.6 3,0.7 3,0.7 3,-.1 3,-1.3 3,0.4 3,0.6 3,0.7" stroke="rgb(7,7,7)" stroke-width="1.8"/>
<path d="M428.3,81.6l3,-1.1 3,-.6 3,0.7 3,0.6 3,-.1 3,-1.2 3,0.3 3,0.7 3,0.7 3,-1.1 3,-.6 3,0.7 3,0.6 3,-.1 3,-1.2 3,0.3 3,0.7 3,0.7 3,-1.1 3,-.6 3,0.7 3,0.6 3,-.1 3,-1.2 3,0.3 3,0.7 3,0.7 3,-1.1 3,-.6 3,0.7 3,0.6 3,-.1 3,-1.2 3,0.3 3,0.7 3,0.7" stroke="rgb(7,7,7)" stroke-width="1.8"/>
<path d="M428.3,82.9l3,-1.1 3,-.7 3,0.7 3,0.7 3,-.1 3,-1.3 3,0.4 3,0.7 3,0.7 3,-1.1 3,-.7 3,0.7 3,0.7 3,-.1 3,-1.3 3,0.4 3,0.7 3,0.7 3,-1.1 3,-.7 3,0.7 3,0.7 3,-.1 3,-1.3 3,0.4 3,0.7 3,0.7 3,-1.1 3,-.7 3,0.7 3,0.7 3,-.1 3,-1.3 3,0.4 3,0.7 3,0.7" stroke="rgb(7,7,7)" stroke-width="1.8"/>
<path d="M428.3,84.1l3,-1.1 3,-.6 3,0.7 3,0.7 3,-.1 3,-1.3 3,0.4 3,0.6 3,0.7 3,-1.1 3,-.6 3,0.7 3,0.7 3,-.1 3,-1.3 3,0.4 3,0.6 3,0.7 3,-1.1 3,-.6 3,0.7 3,0.7 3,-.1 3,-1.3 3,0.4 3,0.6 3,0.7 3,-1.1 3,-.6 3,0.7 3,0.7 3,-.1 3,-1.3 3,0.4 3,0.6 3,0.7" stroke="rgb(7,7,7)" stroke-width="1.8"/>
<path d="M428.3,85.4l3,-1.1 3,-.6 3,0.7 3,0.6 3,-.1 3,-1.2 3,0.3 3,0.7 3,0.7 3,-1.1 3,-.6 3,0.7 3,0.6 3,-.1 3,-1.2 3,0.3 3,0.7 3,0.7 3,-1.1 3,-.6 3,0.7 3,0.6 3,-.1 3,-1.2 3,0.3 3,0.7 3,0.7 3,-1.1 3,-.6 3,0.7 3,0.6 3,-.1 3,-1.2 3,0.3 3,0.7 3,0.7" stroke="rgb(8,8,8)" stroke-width="1.8"/>
<path d="M428.3,86.7l3,-1.1 3,-.7 3,0.7 3,0.7 3,-.1 3,-1.3 3,0.4 3,0.7 3,0.7 3,-1.1 3,-.7 3,0.7 3,0.7 3,-.1 3,-1.3 3,0.4 3,0.7 3,0.7 3,-1.1 3,-.7 3,0.7 3,0.7 3,-.1 3,-1.3 3,0.4 3,0.7 3,0.7 3,-1.1 3,-.7 3,0.7 3,0.7 3,-.1 3,-1.3 3,0.4 3,0.7 3,0.7" stroke="rgb(8,8,8)" stroke-width="1.8"/>
<path d="M428.3,87.9l3,-1.1 3,-.6 3,0.7 3,0.7 3,-.1 3,-1.3 3,0.3 3,0.7 3,0.7 3,-1.1 3,-.6 3,0.7 3,0.7 3,-.1 3,-1.3 3,0.3 3,0.7 3,0.7 3,-1.1 3,-.6 3,0.7 3,0.7 3,-.1 3,-1.3 3,0.3 3,0.7 3,0.7 3,-1.1 3,-.6 3,0.7 3,0.7 3,-.1 3,-1.3 3,0.3 3,0.7 3,0.7" stroke="rgb(8,8,8)" stroke-width="1.8"/>
<path d="M428.3,89.2l3,-1.1 3,-.7 3,0.8 3,0.7 3,-.1 3,-1.4 3,0.4 3,0.7 3,0.7 3,-1.1 3,-.7 3,0.8 3,0.7 3,-.1 3,-1.4 3,0.4 3,0.7 3,0.7 3,-1.1 3,-.7 3,0.8 3,0.7 3,-.1 3,-1.4 3,0.4 3,0.7 3,0.7 3,-1.1 3,-.7 3,0.8 3,0.7 3,-.1 3,-1.4 3,0.4 3,0.7 3,0.7" stroke="rgb(7,7,7)" stroke-width="1.8"/>
<path d="M428.3,90.5l3,-1.1 3,-.7 3,0.7 3,0.7 3,-.1 3,-1.3 3,0.4 3,0.7 3,0.7 3,-1.1 3,-.7 3,0.7 3,0.7 3,-.1 3,-1.3 3,0.4 3,0.7 3,0.7 3,-1.1 3,-.7 3,0.7 3,0.7 3,-.1 3,-1.3 3,0.4 3,0.7 3,0.7 3,-1.1 3,-.7 3,0.7 3,0.7 3,-.1 3,-1.3 3,0.4 3,0.7 3,0.7" stroke="rgb(7,7,7)" stroke-width="1.8"/>
<path d="M428.3,91.8l3,-1.2 3,-.7 3,0.8 3,0.7 3,-.1 3,-1.4 3,0.4 3,0.7 3,0.8 3,-1.2 3,-.7 3,0.8 3,0.7 3,-.1 3,-1.4 3,0.4 3,0.7 3,0.8 3,-1.2 3,-.7 3,0.8 3,0.7 3,-.1 3,-1.4 3,0.4 3,0.7 3,0.8 3,-1.2 3,-.7 3,0.8 3,0.7 3,-.1 3,-1.4 3,0.4 3,0.7 3,0.8" stroke="rgb(8,8,8)" stroke-width="1.8"/>
<path d="M428.3,93.1l3,-1.2 3,-.7 3,0.7 3,0.8 3,-.1 3,-1.4 3,0.4 3,0.7 3,0.8 3,-1.2 3,-.7 3,0.7 3,0.8 3,-.1 3,-1.4 3,0.4 3,0.7 3,0.8 3,-1.2 3,-.7 3,0.7 3,0.8 3,-.1 3,-1.4 3,0.4 3,0.7 3,0.8 3,-1.2 3,-.7 3,0.7 3,0.8 3,-.1 3,-1.4 3,0.4 3,0.7 3,0.8" stroke="rgb(8,8,8)" stroke-width="1.8"/>
<path d="M428.3,94.3l3,-1.1 3,-.8 3,0.8 3,0.8 3,-.1 3,-1.5 3,0.4 3,0.8 3,0.7 3,-1.1 3,-.8 3,0.8 3,0.8 3,-.1 3,-1.5 3,0.4 3,0.8 3,0.7 3,-1.1 3,-.8 3,0.8 3,0.8 3,-.1 3,-1.5 3,0.4 3,0.8 3,0.7 3,-1.1 3,-.8 3,0.8 3,0.8 3,-.1 3,-1.5 3,0.4 3,0.8 3,0.7" stroke="rgb(7,7,7)" stroke-width="1.8"/>
<path d="M428.3,95.6l3,-1.2 3,-.7 3,0.8 3,0.7 3,-.1 3,-1.4 3,0.4 3,0.8 3,0.7 3,-1.2 3,-.7 3,0.8 3,0.7 3,-.1 3,-1.4 3,0.4 3,0.8 3,0.7 3,-1.2 3,-.7 3,0.8 3,0.7 3,-.1 3,-1.4 3,0.4 3,0.8 3,0.7 3,-1.2 3,-.7 3,0.8 3,0.7 3,-.1 3,-1.4 3,0.4 3,0.8 3,0.7" stroke="rgb(7,7,7)" stroke-width="1.8"/>
<path d="M428.3,96.9l3,-1.2 3,-.7 3,0.7 3,0.8 3,-.1 3,-1.4 3,0.3 3,0.8 3,0.8 3,-1.2 3,-.7 3,0.7 3,0.8 3,-.1 3,-1.4 3,0.3 3,0.8 3,0.8 3,-1.2 3,-.7 3,0.7 3,0.8 3,-.1 3,-1.4 3,0.3 3,0.8 3,0.8 3,-1.2 3,-.7 3,0.7 3,0.8 3,-.1 3,-1.4 3,0.3 3,0.8 3,0.8" stroke="rgb(16,16,16)" stroke-width="1.8"/>
<path d="M428.3,98.2l3,-1.3 3,-.7 3,0.8 3,0.8 3,-.1 3,-1.5 3,0.4 3,0.8 3,0.8 3,-1.3 3,-.7 3,0.8 3,0.8 3,-.1 3,-1.5 3,0.4 3,0.8 3,0.8 3,-1.3 3,-.7 3,0.8 3,0.8 3,-.1 3,-1.5 3,0.4 3,0.8 3,0.8 3,-1.3 3,-.7 3,0.8 3,0.8 3,-.1 3,-1.5 3,0.4 3,0.8 3,0.8" stroke="rgb(29,29,29)" stroke-width="1.8"/>
<path d="M428.3,99.5l3,-1.3 3,-.7 3,0.8 3,0.8 3,-.1 3,-1.5 3,0.4 3,0.8 3,0.8 3,-1.3 3,-.7 3,0.8 3,0.8 3,-.1 3,-1.5 3,0.4 3,0.8 3,0.8 3,-1.3 3,-.7 3,0.8 3,0.8 3,-.1 3,-1.5 3,0.4 3,0.8 3,0.8 3,-1.3 3,-.7 3,0.8 3,0.8 3,-.1 3,-1.5 3,0.4 3,0.8 3,0.8" stroke="rgb(34,34,34)" stroke-width="1.8"/>
<path d="M428.3,100.7l3,-1.2 3,-.8 3,0.8 3,0.8 3,-.1 3,-1.5 3,0.4 3,0.8 3,0.8 3,-1.2 3,-.8 3,0.8 3,0.8 3,-.1 3,-1.5 3,0.4 3,0.8 3,0.8 3,-1.2 3,-.8 3,0.8 3,0.8 3,-.1 3,-1.5 3,0.4 3,0.8 3,0.8 3,-1.2 3,-.8 3,0.8 3,0.8 3,-.1 3,-1.5 3,0.4 3,0.8 3,0.8" stroke="rgb(33,33,33)" stroke-width="1.8"/>
<path d="M428.3,102.0l3,-1.3 3,-.7 3,0.8 3,0.8 3,-.1 3,-1.5 3,0.4 3,0.8 3,0.8 3,-1.3 3,-.7 3,0.8 3,0.8 3,-.1 3,-1.5 3,0.4 3,0.8 3,0.8 3,-1.3 3,-.7 3,0.8 3,0.8 3,-.1 3,-1.5 3,0.4 3,0.8 3,0.8 3,-1.3 3,-.7 3,0.8 3,0.8 3,-.1 3,-1.5 3,0.4 3,0.8 3,0.8" stroke="rgb(36,36,36)" stroke-width="1.8"/>
<path d="M428.3,103.3l3,-1.3 3,-.8 3,0.9 3,0.8 3,-.1 3,-1.6 3,0.4 3,0.9 3,0.8 3,-1.3 3,-.8 3,0.9 3,0.8 3,-.1 3,-1.6 3,0.4 3,0.9 3,0.8 3,-1.3 3,-.8 3,0.9 3,0.8 3,-.1 3,-1.6 3,0.4 3,0.9 3,0.8 3,-1.3 3,-.8 3,0.9 3,0.8 3,-.1 3,-1.6 3,0.4 3,0.9 3,0.8" stroke="rgb(34,34,34)" stroke-width="1.8"/>
<path d="M428.3,104.6l3,-1.3 3,-.8 3,0.8 3,0.9 3,-.2 3,-1.5 3,0.4 3,0.8 3,0.9 3,-1.3 3,-.8 3,0.8 3,0.9 3,-.2 3,-1.5 3,0.4 3,0.8 3,0.9 3,-1.3 3,-.8 3,0.8 3,0.9 3,-.2 3,-1.5 3,0.4 3,0.8 3,0.9 3,-1.3 3,-.8 3,0.8 3,0.9 3,-.2 3,-1.5 3,0.4 3,0.8 3,0.9" stroke="rgb(35,35,35)" stroke-width="1.8"/>
<path d="M428.3,105.9l3,-1.4 3,-.8 3,0.9 3,0.8 3,-.1 3,-1.6 3,0.5 3,0.8 3,0.9 3,-1.4 3,-.8 3,0.9 3,0.8 3,-.1 3,-1.6 3,0.5 3,0.8 3,0.9 3,-1.4 3,-.8 3,0.9 3,0.8 3,-.1 3,-1.6 3,0.5 3,0.8 3,0.9 3,-1.4 3,-.8 3,0.9 3,0.8 3,-.1 3,-1.6 3,0.5 3,0.8 3,0.9" stroke="rgb(35,35,35)" stroke-width="1.8"/>
<path d="M428.3,107.2l3,-1.4 3,-.8 3,0.8 3,0.9 3,-.1 3,-1.6 3,0.4 3,0.9 3,0.9 3,-1.4 3,-.8 3,0.8 3,0.9 3,-.1 3,-1.6 3,0.4 3,0.9 3,0.9 3,-1.4 3,-.8 3,0.8 3,0.9 3,-.1 3,-1.6 3,0.4 3,0.9 3,0.9 3,-1.4 3,-.8 3,0.8 3,0.9 3,-.1 3,-1.6 3,0.4 3,0.9 3,0.9" stroke="rgb(34,34,34)" stroke-width="1.8"/>
<path d="M428.3,108.4l3,-1.3 3,-.9 3,0.9 3,0.9 3,-.1 3,-1.7 3,0.5 3,0.9 3,0.8 3,-1.3 3,-.9 3,0.9 3,0.9 3,-.1 3,-1.7 3,0.5 3,0.9 3,0.8 3,-1.3 3,-.9 3,0.9 3,0.9 3,-.1 3,-1.7 3,0.5 3,0.9 3,0.8 3,-1.3 3,-.9 3,0.9 3,0.9 3,-.1 3,-1.7 3,0.5 3,0.9 3,0.8" stroke="rgb(25,25,25)" stroke-width="1.8"/>
<path d="M428.3,109.7l3,-1.4 3,-.8 3,0.9 3,0.9 3,-.2 3,-1.6 3,0.4 3,0.9 3,0.9 3,-1.4 3,-.8 3,0.9 3,0.9 3,-.2 3,-1.6 3,0.4 3,0.9 3,0.9 3,-1.4 3,-.8 3,0.9 3,0.9 3,-.2 3,-1.6 3,0.4 3,0.9 3,0.9 3,-1.4 3,-.8 3,0.9 3,0.9 3,-.2 3,-1.6 3,0.4 3,0.9 3,0.9" stroke="rgb(19,19,19)" stroke-width="1.8"/>
<path d="M428.3,111.0l3,-1.4 3,-.8 3,0.8 3,0.9 3,-.1 3,-1.6 3,0.4 3,0.9 3,0.9 3,-1.4 3,-.8 3,0.8 3,0.9 3,-.1 3,-1.6 3,0.4 3,0.9 3,0.9 3,-1.4 3,-.8 3,0.8 3,0.9 3,-.1 3,-1.6 3,0.4 3,0.9 3,0.9 3,-1.4 3,-.8 3,0.8 3,0.9 3,-.1 3,-1.6 3,0.4 3,0.9 3,0.9" stroke="rgb(60,60,60)" stroke-width="1.8"/>
<path d="M428.3,112.2l3,-1.4 3,-.8 3,0.9 3,0.9 3,-.1 3,-1.7 3,0.5 3,0.8 3,0.9 3,-1.4 3,-.8 3,0.9 3,0.9 3,-.1 3,-1.7 3,0.5 3,0.8 3,0.9 3,-1.4 3,-.8 3,0.9 3,0.9 3,-.1 3,-1.7 3,0.5 3,0.8 3,0.9 3,-1.4 3,-.8 3,0.9 3,0.9 3,-.1 3,-1.7 3,0.5 3,0.8 3,0.9" stroke="rgb(91,91,91)" stroke-width="1.8"/>
<path d="M428.3,113.5l3,-1.4 3,-.8 3,0.9 3,0.8 3,-.1 3,-1.6 3,0.4 3,0.9 3,0.9 3,-1.4 3,-.8 3,0.9 3,0.8 3,-.1 3,-1.6 3,0.4 3,0.9 3,0.9 3,-1.4 3,-.8 3,0.9 3,0.8 3,-.1 3,-1.6 3,0.4 3,0.9 3,0.9 3,-1.4 3,-.8 3,0.9 3,0.8 3,-.1 3,-1.6 3,0.4 3,0.9 3,0.9" stroke="rgb(68,68,68)" stroke-width="1.8"/>
<path d="M428.3,114.7l3,-1.3 3,-.8 3,0.8 3,0.9 3,-.1 3,-1.6 3,0.4 3,0.9 3,0.8 3,-1.3 3,-.8 3,0.8 3,0.9 3,-.1 3,-1.6 3,0.4 3,0.9 3,0.8 3,-1.3 3,-.8 3,0.8 3,0.9 3,-.1 3,-1.6 3,0.4 3,0.9 3,0.8 3,-1.3 3,-.8 3,0.8 3,0.9 3,-.1 3,-1.6 3,0.4 3,0.9 3,0.8" stroke="rgb(53,53,53)" stroke-width="1.8"/>
<path d="M428.3,116.0l3,-1.4 3,-.7 3,0.8 3,0.9 3,-.2 3,-1.5 3,0.4 3,0.8 3,0.9 3,-1.4 3,-.7 3,0.8 3,0.9 3,-.2 3,-1.5 3,0.4 3,0.8 3,0.9 3,-1.4 3,-.7 3,0.8 3,0.9 3,-.2 3,-1.5 3,0.4 3,0.8 3,0.9 3,-1.4 3,-.7 3,0.8 3,0.9 3,-.2 3,-1.5 3,0.4 3,0.8 3,0.9" stroke="rgb(76,76,76)" stroke-width="1.8"/>
<path d="M428.3,117.2l3,-1.3 3,-.8 3,0.9 3,0.8 3,-.1 3,-1.6 3,0.5 3,0.8 3,0.8 3,-1.3 3,-.8 3,0.9 3,0.8 3,-.1 3,-1.6 3,0.5 3,0.8 3,0.8 3,-1.3 3,-.8 3,0.9 3,0.8 3,-.1 3,-1.6 3,0.5 3,0.8 3,0.8 3,-1.3 3,-.8 3,0.9 3,0.8 3,-.1 3,-1.6 3,0.5 3,0.8 3,0.8" stroke="rgb(169,169,169)" stroke-width="1.8"/>
<path d="M428.3,118.5l3,-1.3 3,-.8 3,0.8 3,0.9 3,-.1 3,-1.6 3,0.4 3,0.9 3,0.8 3,-1.3 3,-.8 3,0.8 3,0.9 3,-.1 3,-1.6 3,0.4 3,0.9 3,0.8 3,-1.3 3,-.8 3,0.8 3,0.9 3,-.1 3,-1.6 3,0.4 3,0.9 3,0.8 3,-1.3 3,-.8 3,0.8 3,0.9 3,-.1 3,-1.6 3,0.4 3,0.9 3,0.8" stroke="rgb(215,215,215)" stroke-width="1.8"/>
<path d="M428.3,119.8l3,-1.3 3,-.8 3,0.8 3,0.8 3,-.1 3,-1.5 3,0.4 3,0.8 3,0.9 3,-1.3 3,-.8 3,0.8 3,0.8 3,-.1 3,-1.5 3,0.4 3,0.8 3,0.9 3,-1.3 3,-.8 3,0.8 3,0.8 3,-.1 3,-1.5 3,0.4 3,0.8 3,0.9 3,-1.3 3,-.8 3,0.8 3,0.8 3,-.1 3,-1.5 3,0.4 3,0.8 3,0.9" stroke="rgb(183,183,183)" stroke-width="1.8"/>
<path d="M428.3,121.0l3,-1.3 3,-.7 3,0.8 3,0.8 3,-.1 3,-1.5 3,0.4 3,0.8 3,0.8 3,-1.3 3,-.7 3,0.8 3,0.8 3,-.1 3,-1.5 3,0.4 3,0.8 3,0.8 3,-1.3 3,-.7 3,0.8 3,0.8 3,-.1 3,-1.5 3,0.4 3,0.8 3,0.8 3,-1.3 3,-.7 3,0.8 3,0.8 3,-.1 3,-1.5 3,0.4 3,0.8 3,0.8" stroke="rgb(150,150,150)" stroke-width="1.8"/>
<path d="M428.3,122.3l3,-1.3 3,-.8 3,0.8 3,0.9 3,-.2 3,-1.5 3,0.4 3,0.9 3,0.8 3,-1.3 3,-.8 3,0.8 3,0.9 3,-.2 3,-1.5 3,0.4 3,0.9 3,0.8 3,-1.3 3,-.8 3,0.8 3,0.9 3,-.2 3,-1.5 3,0.4 3,0.9 3,0.8 3,-1.3 3,-.8 3,0.8 3,0.9 3,-.2 3,-1.5 3,0.4 3,0.9 3,0.8" stroke="rgb(132,132,132)" stroke-width="1.8"/>
<path d="M428.3,123.5l3,-1.2 3,-.8 3,0.8 3,0.8 3,-.1 3,-1.5 3,0.4 3,0.8 3,0.8 3,-1.2 3,-.8 3,0.8 3,0.8 3,-.1 3,-1.5 3,0.4 3,0.8 3,0.8 3,-1.2 3,-.8 3,0.8 3,0.8 3,-.1 3,-1.5 3,0.4 3,0.8 3,0.8 3,-1.2 3,-.8 3,0.8 3,0.8 3,-.1 3,-1.5 3,0.4 3,0.8 3,0.8" stroke="rgb(104,104,104)" stroke-width="1.8"/>
<path d="M428.3,124.7l3,-1.2 3,-.7 3,0.8 3,0.8 3,-.2 3,-1.4 3,0.4 3,0.8 3,0.7 3,-1.2 3,-.7 3,0.8 3,0.8 3,-.2 3,-1.4 3,0.4 3,0.8 3,0.7 3,-1.2 3,-.7 3,0.8 3,0.8 3,-.2 3,-1.4 3,0.4 3,0.8 3,0.7 3,-1.2 3,-.7 3,0.8 3,0.8 3,-.2 3,-1.4 3,0.4 3,0.8 3,0.7" stroke="rgb(97,97,97)" stroke-width="1.8"/>
<path d="M428.3,126.0l3,-1.2 3,-.7 3,0.7 3,0.8 3,-.1 3,-1.4 3,0.4 3,0.7 3,0.8 3,-1.2 3,-.7 3,0.7 3,0.8 3,-.1 3,-1.4 3,0.4 3,0.7 3,0.8 3,-1.2 3,-.7 3,0.7 3,0.8 3,-.1 3,-1.4 3,0.4 3,0.7 3,0.8 3,-1.2 3,-.7 3,0.7 3,0.8 3,-.1 3,-1.4 3,0.4 3,0.7 3,0.8" stroke="rgb(96,96,96)" stroke-width="1.8"/>
<path d="M428.3,127.2l3,-1.1 3,-.7 3,0.7 3,0.8 3,-.1 3,-1.4 3,0.3 3,0.8 3,0.7 3,-1.1 3,-.7 3,0.7 3,0.8 3,-.1 3,-1.4 3,0.3 3,0.8 3,0.7 3,-1.1 3,-.7 3,0.7 3,0.8 3,-.1 3,-1.4 3,0.3 3,0.8 3,0.7 3,-1.1 3,-.7 3,0.7 3,0.8 3,-.1 3,-1.4 3,0.3 3,0.8 3,0.7" stroke="rgb(88,88,88)" stroke-width="1.8"/>
<path d="M428.3,128.5l3,-1.2 3,-.6 3,0.7 3,0.7 3,-.1 3,-1.3 3,0.3 3,0.7 3,0.8 3,-1.2 3,-.6 3,0.7 3,0.7 3,-.1 3,-1.3 3,0.3 3,0.7 3,0.8 3,-1.2 3,-.6 3,0.7 3,0.7 3,-.1 3,-1.3 3,0.3 3,0.7 3,0.8 3,-1.2 3,-.6 3,0.7 3,0.7 3,-.1 3,-1.3 3,0.3 3,0.7 3,0.8" stroke="rgb(87,87,87)" stroke-width="1.8"/>
<path d="M428.3,129.7l3,-1.1 3,-.6 3,0.7 3,0.7 3,-.1 3,-1.3 3,0.3 3,0.7 3,0.7 3,-1.1 3,-.6 3,0.7 3,0.7 3,-.1 3,-1.3 3,0.3 3,0.7 3,0.7 3,-1.1 3,-.6 3,0.7 3,0.7 3,-.1 3,-1.3 3,0.3 3,0.7 3,0.7 3,-1.1 3,-.6 3,0.7 3,0.7 3,-.1 3,-1.3 3,0.3 3,0.7 3,0.7" stroke="rgb(78,78,78)" stroke-width="1.8"/>
<path d="M428.3,130.9l3,-1 3,-.7 3,0.7 3,0.7 3,-.1 3,-1.3 3,0.4 3,0.7 3,0.6 3,-1 3,-.7 3,0.7 3,0.7 3,-.1 3,-1.3 3,0.4 3,0.7 3,0.6 3,-1 3,-.7 3,0.7 3,0.7 3,-.1 3,-1.3 3,0.4 3,0.7 3,0.6 3,-1 3,-.7 3,0.7 3,0.7 3,-.1 3,-1.3 3,0.4 3,0.7 3,0.6" stroke="rgb(76,76,76)" stroke-width="1.8"/>
<path d="M428.3,132.2l3,-1.1 3,-.6 3,0.7 3,0.7 3,-.1 3,-1.3 3,0.4 3,0.6 3,0.7 3,-1.1 3,-.6 3,0.7 3,0.7 3,-.1 3,-1.3 3,0.4 3,0.6 3,0.7 3,-1.1 3,-.6 3,0.7 3,0.7 3,-.1 3,-1.3 3,0.4 3,0.6 3,0.7 3,-1.1 3,-.6 3,0.7 3,0.7 3,-.1 3,-1.3 3,0.4 3,0.6 3,0.7" stroke="rgb(78,78,78)" stroke-width="1.8"/>
<path d="M428.3,133.4l3,-1 3,-.6 3,0.7 3,0.6 3,-.1 3,-1.2 3,0.3 3,0.7 3,0.6 3,-1 3,-.6 3,0.7 3,0.6 3,-.1 3,-1.2 3,0.3 3,0.7 3,0.6 3,-1 3,-.6 3,0.7 3,0.6 3,-.1 3,-1.2 3,0.3 3,0.7 3,0.6 3,-1 3,-.6 3,0.7 3,0.6 3,-.1 3,-1.2 3,0.3 3,0.7 3,0.6" stroke="rgb(74,74,74)" stroke-width="1.8"/>
<path d="M428.3,134.7l3,-1 3,-.6 3,0.6 3,0.7 3,-.1 3,-1.2 3,0.3 3,0.6 3,0.7 3,-1 3,-.6 3,0.6 3,0.7 3,-.1 3,-1.2 3,0.3 3,0.6 3,0.7 3,-1 3,-.6 3,0.6 3,0.7 3,-.1 3,-1.2 3,0.3 3,0.6 3,0.7 3,-1 3,-.6 3,0.6 3,0.7 3,-.1 3,-1.2 3,0.3 3,0.6 3,0.7" stroke="rgb(82,82,82)" stroke-width="1.8"/>
<path d="M428.3,135.9l3,-.9 3,-.6 3,0.6 3,0.6 3,-.1 3,-1.1 3,0.3 3,0.6 3,0.6 3,-.9 3,-.6 3,0.6 3,0.6 3,-.1 3,-1.1 3,0.3 3,0.6 3,0.6 3,-.9 3,-.6 3,0.6 3,0.6 3,-.1 3,-1.1 3,0.3 3,0.6 3,0.6 3,-.9 3,-.6 3,0.6 3,0.6 3,-.1 3,-1.1 3,0.3 3,0.6 3,0.6" stroke="rgb(75,75,75)" stroke-width="1.8"/>
<path d="M428.3,137.2l3,-1 3,-.5 3,0.6 3,0.6 3,-.1 3,-1.1 3,0.3 3,0.6 3,0.6 3,-1 3,-.5 3,0.6 3,0.6 3,-.1 3,-1.1 3,0.3 3,0.6 3,0.6 3,-1 3,-.5 3,0.6 3,0.6 3,-.1 3,-1.1 3,0.3 3,0.6 3,0.6 3,-1 3,-.5 3,0.6 3,0.6 3,-.1 3,-1.1 3,0.3 3,0.6 3,0.6" stroke="rgb(78,78,78)" stroke-width="1.8"/>
<path d="M428.3,138.4l3,-.9 3,-.5 3,0.5 3,0.6 3,-.1 3,-1 3,0.2 3,0.6 3,0.6 3,-.9 3,-.5 3,0.5 3,0.6 3,-.1 3,-1 3,0.2 3,0.6 3,0.6 3,-.9 3,-.5 3,0.5 3,0.6 3,-.1 3,-1 3,0.2 3,0.6 3,0.6 3,-.9 3,-.5 3,0.5 3,0.6 3,-.1 3,-1 3,0.2 3,0.6 3,0.6" stroke="rgb(80,80,80)" stroke-width="1.8"/>
<path d="M428.3,139.6l3,-.8 3,-.6 3,0.6 3,0.6 3,-.1 3,-1.1 3,0.3 3,0.6 3,0.5 3,-.8 3,-.6 3,0.6 3,0.6 3,-.1 3,-1.1 3,0.3 3,0.6 3,0.5 3,-.8 3,-.6 3,0.6 3,0.6 3,-.1 3,-1.1 3,0.3 3,0.6 3,0.5 3,-.8 3,-.6 3,0.6 3,0.6 3,-.1 3,-1.1 3,0.3 3,0.6 3,0.5" stroke="rgb(70,70,70)" stroke-width="1.8"/>
<path d="M428.3,140.9l3,-.9 3,-.5 3,0.6 3,0.5 3,-.1 3,-1 3,0.3 3,0.5 3,0.6 3,-.9 3,-.5 3,0.6 3,0.5 3,-.1 3,-1 3,0.3 3,0.5 3,0.6 3,-.9 3,-.5 3,0.6 3,0.5 3,-.1 3,-1 3,0.3 3,0.5 3,0.6 3,-.9 3,-.5 3,0.6 3,0.5 3,-.1 3,-1 3,0.3 3,0.5 3,0.6" stroke="rgb(71,71,71)" stroke-width="1.8"/>
<path d="M428.3,142.1l3,-.8 3,-.5 3,0.5 3,0.6 3,-.1 3,-1 3,0.3 3,0.5 3,0.5 3,-.8 3,-.5 3,0.5 3,0.6 3,-.1 3,-1 3,0.3 3,0.5 3,0.5 3,-.8 3,-.5 3,0.5 3,0.6 3,-.1 3,-1 3,0.3 3,0.5 3,0.5 3,-.8 3,-.5 3,0.5 3,0.6 3,-.1 3,-1 3,0.3 3,0.5 3,0.5" stroke="rgb(67,67,67)" stroke-width="1.8"/>
<path d="M428.3,143.4l3,-.8 3,-.5 3,0.5 3,0.5 3,-.1 3,-.9 3,0.3 3,0.5 3,0.5 3,-.8 3,-.5 3,0.5 3,0.5 3,-.1 3,-.9 3,0.3 3,0.5 3,0.5 3,-.8 3,-.5 3,0.5 3,0.5 3,-.1 3,-.9 3,0.3 3,0.5 3,0.5 3,-.8 3,-.5 3,0.5 3,0.5 3,-.1 3,-.9 3,0.3 3,0.5 3,0.5" stroke="rgb(67,67,67)" stroke-width="1.8"/>
<path d="M428.3,144.6l3,-.8 3,-.4 3,0.5 3,0.5 3,-.1 3,-.9 3,0.2 3,0.5 3,0.5 3,-.8 3,-.4 3,0.5 3,0.5 3,-.1 3,-.9 3,0.2 3,0.5 3,0.5 3,-.8 3,-.4 3,0.5 3,0.5 3,-.1 3,-.9 3,0.2 3,0.5 3,0.5 3,-.8 3,-.4 3,0.5 3,0.5 3,-.1 3,-.9 3,0.2 3,0.5 3,0.5" stroke="rgb(68,68,68)" stroke-width="1.8"/>
<path d="M428.3,145.8l3,-.7 3,-.4 3,0.4 3,0.5 3,-.1 3,-.8 3,0.2 3,0.5 3,0.4 3,-.7 3,-.4 3,0.4 3,0.5 3,-.1 3,-.8 3,0.2 3,0.5 3,0.4 3,-.7 3,-.4 3,0.4 3,0.5 3,-.1 3,-.8 3,0.2 3,0.5 3,0.4 3,-.7 3,-.4 3,0.4 3,0.5 3,-.1 3,-.8 3,0.2 3,0.5 3,0.4" stroke="rgb(63,63,63)" stroke-width="1.8"/>
<path d="M428.3,147.1l3,-.7 3,-.4 3,0.4 3,0.5 3,-.1 3,-.8 3,0.2 3,0.4 3,0.5 3,-.7 3,-.4 3,0.4 3,0.5 3,-.1 3,-.8 3,0.2 3,0.4 3,0.5 3,-.7 3,-.4 3,0.4 3,0.5 3,-.1 3,-.8 3,0.2 3,0.4 3,0.5 3,-.7 3,-.4 3,0.4 3,0.5 3,-.1 3,-.8 3,0.2 3,0.4 3,0.5" stroke="rgb(59,59,59)" stroke-width="1.8"/>
<path d="M428.3,148.3l3,-.7 3,-.4 3,0.5 3,0.4 3,-.1 3,-.8 3,0.3 3,0.4 3,0.4 3,-.7 3,-.4 3,0.5 3,0.4 3,-.1 3,-.8 3,0.3 3,0.4 3,0.4 3,-.7 3,-.4 3,0.5 3,0.4 3,-.1 3,-.8 3,0.3 3,0.4 3,0.4 3,-.7 3,-.4 3,0.5 3,0.4 3,-.1 3,-.8 3,0.3 3,0.4 3,0.4" stroke="rgb(62,62,62)" stroke-width="1.8"/>
<path d="M428.3,149.6l3,-.7 3,-.4 3,0.4 3,0.5 3,-.1 3,-.8 3,0.2 3,0.4 3,0.5 3,-.7 3,-.4 3,0.4 3,0.5 3,-.1 3,-.8 3,0.2 3,0.4 3,0.5 3,-.7 3,-.4 3,0.4 3,0.5 3,-.1 3,-.8 3,0.2 3,0.4 3,0.5 3,-.7 3,-.4 3,0.4 3,0.5 3,-.1 3,-.8 3,0.2 3,0.4 3,0.5" stroke="rgb(63,63,63)" stroke-width="1.8"/>
<path d="M428.3,150.8l3,-.6 3,-.4 3,0.4 3,0.4 3,0 3,-.8 3,0.2 3,0.4 3,0.4 3,-.6 3,-.4 3,0.4 3,0.4 3,0 3,-.8 3,0.2 3,0.4 3,0.4 3,-.6 3,-.4 3,0.4 3,0.4 3,0 3,-.8 3,0.2 3,0.4 3,0.4 3,-.6 3,-.4 3,0.4 3,0.4 3,0 3,-.8 3,0.2 3,0.4 3,0.4" stroke="rgb(60,60,60)" stroke-width="1.8"/>
<path d="M428.3,152.1l3,-.7 3,-.3 3,0.4 3,0.4 3,-.1 3,-.7 3,0.2 3,0.4 3,0.4 3,-.7 3,-.3 3,0.4 3,0.4 3,-.1 3,-.7 3,0.2 3,0.4 3,0.4 3,-.7 3,-.3 3,0.4 3,0.4 3,-.1 3,-.7 3,0.2 3,0.4 3,0.4 3,-.7 3,-.3 3,0.4 3,0.4 3,-.1 3,-.7 3,0.2 3,0.4 3,0.4" stroke="rgb(62,62,62)" stroke-width="1.8"/>
<path d="M428.3,153.4l3,-.7 3,-.4 3,0.4 3,0.5 3,-.1 3,-.8 3,0.2 3,0.4 3,0.5 3,-.7 3,-.4 3,0.4 3,0.5 3,-.1 3,-.8 3,0.2 3,0.4 3,0.5 3,-.7 3,-.4 3,0.4 3,0.5 3,-.1 3,-.8 3,0.2 3,0.4 3,0.5 3,-.7 3,-.4 3,0.4 3,0.5 3,-.1 3,-.8 3,0.2 3,0.4 3,0.5" stroke="rgb(61,61,61)" stroke-width="1.8"/>
<ellipse cx="428.13" cy="101.07" rx="4.66" ry="4.14" fill="#7a7a7a" opacity="0.46" filter="url(#eblur)"/>
<ellipse cx="438.57" cy="100.42" rx="4.39" ry="3.9" fill="#7a7a7a" opacity="0.45" filter="url(#eblur)"/>
<ellipse cx="453.77" cy="100.88" rx="4.08" ry="3.63" fill="#7a7a7a" opacity="0.47" filter="url(#eblur)"/>
<ellipse cx="469.77" cy="100.67" rx="4.08" ry="3.62" fill="#7a7a7a" opacity="0.44" filter="url(#eblur)"/>
<ellipse cx="480.58" cy="101.4" rx="4.12" ry="3.67" fill="#7a7a7a" opacity="0.49" filter="url(#eblur)"/>
<ellipse cx="496.61" cy="102.25" rx="4.85" ry="4.31" fill="#7a7a7a" opacity="0.48" filter="url(#eblur)"/>
<ellipse cx="509.44" cy="100.77" rx="4.73" ry="4.2" fill="#7a7a7a" opacity="0.43" filter="url(#eblur)"/>
<ellipse cx="523.52" cy="101.47" rx="4.89" ry="4.35" fill="#7a7a7a" opacity="0.48" filter="url(#eblur)"/>
<ellipse cx="536.29" cy="101.31" rx="4.17" ry="3.71" fill="#7a7a7a" opacity="0.43" filter="url(#eblur)"/>
</g></g>
<g clip-path="url(#ecb2)"><g filter="url(#spk1)" fill="none">
<rect x="535.2" y="67" width="104" height="83" fill="url(#egb2)"/>
<path d="M533.2,63.5l3,0.5 3,0.6 3,0.2 3,-1 3,-.1 3,0.6 3,0.5 3,-.5 3,-.8 3,0.5 3,0.6 3,0.2 3,-1 3,-.1 3,0.6 3,0.5 3,-.5 3,-.8 3,0.5 3,0.6 3,0.2 3,-1 3,-.1 3,0.6 3,0.5 3,-.5 3,-.8 3,0.5 3,0.6 3,0.2 3,-1 3,-.1 3,0.6 3,0.5 3,-.5 3,-.8" stroke="rgb(128,128,128)" stroke-width="1.8"/>
<path d="M533.2,64.7l3,0.6 3,0.5 3,0.3 3,-1.1 3,0 3,0.6 3,0.5 3,-.5 3,-.9 3,0.6 3,0.5 3,0.3 3,-1.1 3,0 3,0.6 3,0.5 3,-.5 3,-.9 3,0.6 3,0.5 3,0.3 3,-1.1 3,0 3,0.6 3,0.5 3,-.5 3,-.9 3,0.6 3,0.5 3,0.3 3,-1.1 3,0 3,0.6 3,0.5 3,-.5 3,-.9" stroke="rgb(126,126,126)" stroke-width="1.8"/>
<path d="M533.2,66.0l3,0.5 3,0.6 3,0.2 3,-1 3,0 3,0.5 3,0.6 3,-.6 3,-.8 3,0.5 3,0.6 3,0.2 3,-1 3,0 3,0.5 3,0.6 3,-.6 3,-.8 3,0.5 3,0.6 3,0.2 3,-1 3,0 3,0.5 3,0.6 3,-.6 3,-.8 3,0.5 3,0.6 3,0.2 3,-1 3,0 3,0.5 3,0.6 3,-.6 3,-.8" stroke="rgb(120,120,120)" stroke-width="1.8"/>
<path d="M533.2,67.3l3,0.5 3,0.6 3,0.2 3,-1 3,-.1 3,0.6 3,0.5 3,-.5 3,-.8 3,0.5 3,0.6 3,0.2 3,-1 3,-.1 3,0.6 3,0.5 3,-.5 3,-.8 3,0.5 3,0.6 3,0.2 3,-1 3,-.1 3,0.6 3,0.5 3,-.5 3,-.8 3,0.5 3,0.6 3,0.2 3,-1 3,-.1 3,0.6 3,0.5 3,-.5 3,-.8" stroke="rgb(126,126,126)" stroke-width="1.8"/>
<path d="M533.2,68.5l3,0.6 3,0.5 3,0.3 3,-1.1 3,0 3,0.6 3,0.5 3,-.5 3,-.9 3,0.6 3,0.5 3,0.3 3,-1.1 3,0 3,0.6 3,0.5 3,-.5 3,-.9 3,0.6 3,0.5 3,0.3 3,-1.1 3,0 3,0.6 3,0.5 3,-.5 3,-.9 3,0.6 3,0.5 3,0.3 3,-1.1 3,0 3,0.6 3,0.5 3,-.5 3,-.9" stroke="rgb(132,132,132)" stroke-width="1.8"/>
<path d="M533.2,69.7l3,0.6 3,0.6 3,0.3 3,-1.1 3,-.1 3,0.6 3,0.6 3,-.6 3,-.9 3,0.6 3,0.6 3,0.3 3,-1.1 3,-.1 3,0.6 3,0.6 3,-.6 3,-.9 3,0.6 3,0.6 3,0.3 3,-1.1 3,-.1 3,0.6 3,0.6 3,-.6 3,-.9 3,0.6 3,0.6 3,0.3 3,-1.1 3,-.1 3,0.6 3,0.6 3,-.6 3,-.9" stroke="rgb(138,138,138)" stroke-width="1.8"/>
<path d="M533.2,71.0l3,0.6 3,0.6 3,0.3 3,-1.2 3,0 3,0.6 3,0.6 3,-.6 3,-.9 3,0.6 3,0.6 3,0.3 3,-1.2 3,0 3,0.6 3,0.6 3,-.6 3,-.9 3,0.6 3,0.6 3,0.3 3,-1.2 3,0 3,0.6 3,0.6 3,-.6 3,-.9 3,0.6 3,0.6 3,0.3 3,-1.2 3,0 3,0.6 3,0.6 3,-.6 3,-.9" stroke="rgb(138,138,138)" stroke-width="1.8"/>
<path d="M533.2,72.2l3,0.6 3,0.7 3,0.3 3,-1.2 3,-.1 3,0.7 3,0.6 3,-.6 3,-1 3,0.6 3,0.7 3,0.3 3,-1.2 3,-.1 3,0.7 3,0.6 3,-.6 3,-1 3,0.6 3,0.7 3,0.3 3,-1.2 3,-.1 3,0.7 3,0.6 3,-.6 3,-1 3,0.6 3,0.7 3,0.3 3,-1.2 3,-.1 3,0.7 3,0.6 3,-.6 3,-1" stroke="rgb(138,138,138)" stroke-width="1.8"/>
<path d="M533.2,73.5l3,0.6 3,0.7 3,0.2 3,-1.2 3,0 3,0.6 3,0.7 3,-.7 3,-.9 3,0.6 3,0.7 3,0.2 3,-1.2 3,0 3,0.6 3,0.7 3,-.7 3,-.9 3,0.6 3,0.7 3,0.2 3,-1.2 3,0 3,0.6 3,0.7 3,-.7 3,-.9 3,0.6 3,0.7 3,0.2 3,-1.2 3,0 3,0.6 3,0.7 3,-.7 3,-.9" stroke="rgb(122,122,122)" stroke-width="1.8"/>
<path d="M533.2,74.7l3,0.7 3,0.6 3,0.3 3,-1.2 3,-.1 3,0.7 3,0.7 3,-.7 3,-1 3,0.7 3,0.6 3,0.3 3,-1.2 3,-.1 3,0.7 3,0.7 3,-.7 3,-1 3,0.7 3,0.6 3,0.3 3,-1.2 3,-.1 3,0.7 3,0.7 3,-.7 3,-1 3,0.7 3,0.6 3,0.3 3,-1.2 3,-.1 3,0.7 3,0.7 3,-.7 3,-1" stroke="rgb(121,121,121)" stroke-width="1.8"/>
<path d="M533.2,75.9l3,0.7 3,0.7 3,0.3 3,-1.3 3,0 3,0.7 3,0.7 3,-.7 3,-1.1 3,0.7 3,0.7 3,0.3 3,-1.3 3,0 3,0.7 3,0.7 3,-.7 3,-1.1 3,0.7 3,0.7 3,0.3 3,-1.3 3,0 3,0.7 3,0.7 3,-.7 3,-1.1 3,0.7 3,0.7 3,0.3 3,-1.3 3,0 3,0.7 3,0.7 3,-.7 3,-1.1" stroke="rgb(122,122,122)" stroke-width="1.8"/>
<path d="M533.2,77.2l3,0.7 3,0.7 3,0.3 3,-1.3 3,-.1 3,0.7 3,0.8 3,-.8 3,-1 3,0.7 3,0.7 3,0.3 3,-1.3 3,-.1 3,0.7 3,0.8 3,-.8 3,-1 3,0.7 3,0.7 3,0.3 3,-1.3 3,-.1 3,0.7 3,0.8 3,-.8 3,-1 3,0.7 3,0.7 3,0.3 3,-1.3 3,-.1 3,0.7 3,0.8 3,-.8 3,-1" stroke="rgb(124,124,124)" stroke-width="1.8"/>
<path d="M533.2,78.4l3,0.7 3,0.8 3,0.3 3,-1.4 3,0 3,0.7 3,0.8 3,-.8 3,-1.1 3,0.7 3,0.8 3,0.3 3,-1.4 3,0 3,0.7 3,0.8 3,-.8 3,-1.1 3,0.7 3,0.8 3,0.3 3,-1.4 3,0 3,0.7 3,0.8 3,-.8 3,-1.1 3,0.7 3,0.8 3,0.3 3,-1.4 3,0 3,0.7 3,0.8 3,-.8 3,-1.1" stroke="rgb(140,140,140)" stroke-width="1.8"/>
<path d="M533.2,79.6l3,0.8 3,0.8 3,0.3 3,-1.4 3,-.1 3,0.8 3,0.7 3,-.7 3,-1.2 3,0.8 3,0.8 3,0.3 3,-1.4 3,-.1 3,0.8 3,0.7 3,-.7 3,-1.2 3,0.8 3,0.8 3,0.3 3,-1.4 3,-.1 3,0.8 3,0.7 3,-.7 3,-1.2 3,0.8 3,0.8 3,0.3 3,-1.4 3,-.1 3,0.8 3,0.7 3,-.7 3,-1.2" stroke="rgb(125,125,125)" stroke-width="1.8"/>
<path d="M533.2,80.9l3,0.8 3,0.7 3,0.4 3,-1.5 3,0 3,0.7 3,0.8 3,-.8 3,-1.1 3,0.8 3,0.7 3,0.4 3,-1.5 3,0 3,0.7 3,0.8 3,-.8 3,-1.1 3,0.8 3,0.7 3,0.4 3,-1.5 3,0 3,0.7 3,0.8 3,-.8 3,-1.1 3,0.8 3,0.7 3,0.4 3,-1.5 3,0 3,0.7 3,0.8 3,-.8 3,-1.1" stroke="rgb(77,77,77)" stroke-width="1.8"/>
<path d="M533.2,82.1l3,0.8 3,0.8 3,0.4 3,-1.5 3,-.1 3,0.8 3,0.8 3,-.8 3,-1.2 3,0.8 3,0.8 3,0.4 3,-1.5 3,-.1 3,0.8 3,0.8 3,-.8 3,-1.2 3,0.8 3,0.8 3,0.4 3,-1.5 3,-.1 3,0.8 3,0.8 3,-.8 3,-1.2 3,0.8 3,0.8 3,0.4 3,-1.5 3,-.1 3,0.8 3,0.8 3,-.8 3,-1.2" stroke="rgb(46,46,46)" stroke-width="1.8"/>
<path d="M533.2,83.4l3,0.8 3,0.8 3,0.3 3,-1.5 3,0 3,0.8 3,0.8 3,-.8 3,-1.2 3,0.8 3,0.8 3,0.3 3,-1.5 3,0 3,0.8 3,0.8 3,-.8 3,-1.2 3,0.8 3,0.8 3,0.3 3,-1.5 3,0 3,0.8 3,0.8 3,-.8 3,-1.2 3,0.8 3,0.8 3,0.3 3,-1.5 3,0 3,0.8 3,0.8 3,-.8 3,-1.2" stroke="rgb(44,44,44)" stroke-width="1.8"/>
<path d="M533.2,84.6l3,0.8 3,0.9 3,0.3 3,-1.5 3,-.1 3,0.9 3,0.8 3,-.8 3,-1.3 3,0.8 3,0.9 3,0.3 3,-1.5 3,-.1 3,0.9 3,0.8 3,-.8 3,-1.3 3,0.8 3,0.9 3,0.3 3,-1.5 3,-.1 3,0.9 3,0.8 3,-.8 3,-1.3 3,0.8 3,0.9 3,0.3 3,-1.5 3,-.1 3,0.9 3,0.8 3,-.8 3,-1.3" stroke="rgb(44,44,44)" stroke-width="1.8"/>
<path d="M533.2,85.9l3,0.8 3,0.8 3,0.4 3,-1.5 3,-.1 3,0.8 3,0.8 3,-.8 3,-1.2 3,0.8 3,0.8 3,0.4 3,-1.5 3,-.1 3,0.8 3,0.8 3,-.8 3,-1.2 3,0.8 3,0.8 3,0.4 3,-1.5 3,-.1 3,0.8 3,0.8 3,-.8 3,-1.2 3,0.8 3,0.8 3,0.4 3,-1.5 3,-.1 3,0.8 3,0.8 3,-.8 3,-1.2" stroke="rgb(44,44,44)" stroke-width="1.8"/>
<path d="M533.2,87.2l3,0.8 3,0.8 3,0.3 3,-1.5 3,0 3,0.8 3,0.8 3,-.8 3,-1.2 3,0.8 3,0.8 3,0.3 3,-1.5 3,0 3,0.8 3,0.8 3,-.8 3,-1.2 3,0.8 3,0.8 3,0.3 3,-1.5 3,0 3,0.8 3,0.8 3,-.8 3,-1.2 3,0.8 3,0.8 3,0.3 3,-1.5 3,0 3,0.8 3,0.8 3,-.8 3,-1.2" stroke="rgb(40,40,40)" stroke-width="1.8"/>
<path d="M533.2,88.4l3,0.8 3,0.9 3,0.3 3,-1.5 3,-.1 3,0.8 3,0.9 3,-.9 3,-1.2 3,0.8 3,0.9 3,0.3 3,-1.5 3,-.1 3,0.8 3,0.9 3,-.9 3,-1.2 3,0.8 3,0.9 3,0.3 3,-1.5 3,-.1 3,0.8 3,0.9 3,-.9 3,-1.2 3,0.8 3,0.9 3,0.3 3,-1.5 3,-.1 3,0.8 3,0.9 3,-.9 3,-1.2" stroke="rgb(41,41,41)" stroke-width="1.8"/>
<path d="M533.2,89.7l3,0.8 3,0.8 3,0.4 3,-1.5 3,-.1 3,0.8 3,0.8 3,-.8 3,-1.2 3,0.8 3,0.8 3,0.4 3,-1.5 3,-.1 3,0.8 3,0.8 3,-.8 3,-1.2 3,0.8 3,0.8 3,0.4 3,-1.5 3,-.1 3,0.8 3,0.8 3,-.8 3,-1.2 3,0.8 3,0.8 3,0.4 3,-1.5 3,-.1 3,0.8 3,0.8 3,-.8 3,-1.2" stroke="rgb(41,41,41)" stroke-width="1.8"/>
<path d="M533.2,90.9l3,0.9 3,0.8 3,0.3 3,-1.5 3,0 3,0.8 3,0.8 3,-.8 3,-1.3 3,0.9 3,0.8 3,0.3 3,-1.5 3,0 3,0.8 3,0.8 3,-.8 3,-1.3 3,0.9 3,0.8 3,0.3 3,-1.5 3,0 3,0.8 3,0.8 3,-.8 3,-1.3 3,0.9 3,0.8 3,0.3 3,-1.5 3,0 3,0.8 3,0.8 3,-.8 3,-1.3" stroke="rgb(42,42,42)" stroke-width="1.8"/>
<path d="M533.2,92.2l3,0.8 3,0.9 3,0.3 3,-1.5 3,-.1 3,0.8 3,0.9 3,-.9 3,-1.2 3,0.8 3,0.9 3,0.3 3,-1.5 3,-.1 3,0.8 3,0.9 3,-.9 3,-1.2 3,0.8 3,0.9 3,0.3 3,-1.5 3,-.1 3,0.8 3,0.9 3,-.9 3,-1.2 3,0.8 3,0.9 3,0.3 3,-1.5 3,-.1 3,0.8 3,0.9 3,-.9 3,-1.2" stroke="rgb(39,39,39)" stroke-width="1.8"/>
<path d="M533.2,93.5l3,0.8 3,0.8 3,0.4 3,-1.6 3,0 3,0.8 3,0.8 3,-.8 3,-1.2 3,0.8 3,0.8 3,0.4 3,-1.6 3,0 3,0.8 3,0.8 3,-.8 3,-1.2 3,0.8 3,0.8 3,0.4 3,-1.6 3,0 3,0.8 3,0.8 3,-.8 3,-1.2 3,0.8 3,0.8 3,0.4 3,-1.6 3,0 3,0.8 3,0.8 3,-.8 3,-1.2" stroke="rgb(40,40,40)" stroke-width="1.8"/>
<path d="M533.2,94.7l3,0.9 3,0.8 3,0.3 3,-1.5 3,0 3,0.8 3,0.8 3,-.8 3,-1.3 3,0.9 3,0.8 3,0.3 3,-1.5 3,0 3,0.8 3,0.8 3,-.8 3,-1.3 3,0.9 3,0.8 3,0.3 3,-1.5 3,0 3,0.8 3,0.8 3,-.8 3,-1.3 3,0.9 3,0.8 3,0.3 3,-1.5 3,0 3,0.8 3,0.8 3,-.8 3,-1.3" stroke="rgb(41,41,41)" stroke-width="1.8"/>
<path d="M533.2,96.0l3,0.8 3,0.9 3,0.3 3,-1.5 3,-.1 3,0.8 3,0.9 3,-.9 3,-1.2 3,0.8 3,0.9 3,0.3 3,-1.5 3,-.1 3,0.8 3,0.9 3,-.9 3,-1.2 3,0.8 3,0.9 3,0.3 3,-1.5 3,-.1 3,0.8 3,0.9 3,-.9 3,-1.2 3,0.8 3,0.9 3,0.3 3,-1.5 3,-.1 3,0.8 3,0.9 3,-.9 3,-1.2" stroke="rgb(37,37,37)" stroke-width="1.8"/>
<path d="M533.2,97.3l3,0.8 3,0.8 3,0.4 3,-1.6 3,0 3,0.8 3,0.8 3,-.8 3,-1.2 3,0.8 3,0.8 3,0.4 3,-1.6 3,0 3,0.8 3,0.8 3,-.8 3,-1.2 3,0.8 3,0.8 3,0.4 3,-1.6 3,0 3,0.8 3,0.8 3,-.8 3,-1.2 3,0.8 3,0.8 3,0.4 3,-1.6 3,0 3,0.8 3,0.8 3,-.8 3,-1.2" stroke="rgb(37,37,37)" stroke-width="1.8"/>
<path d="M533.2,98.5l3,0.9 3,0.8 3,0.3 3,-1.5 3,0 3,0.8 3,0.8 3,-.8 3,-1.3 3,0.9 3,0.8 3,0.3 3,-1.5 3,0 3,0.8 3,0.8 3,-.8 3,-1.3 3,0.9 3,0.8 3,0.3 3,-1.5 3,0 3,0.8 3,0.8 3,-.8 3,-1.3 3,0.9 3,0.8 3,0.3 3,-1.5 3,0 3,0.8 3,0.8 3,-.8 3,-1.3" stroke="rgb(40,40,40)" stroke-width="1.8"/>
<path d="M533.2,99.8l3,0.8 3,0.8 3,0.4 3,-1.5 3,-.1 3,0.8 3,0.9 3,-.9 3,-1.2 3,0.8 3,0.8 3,0.4 3,-1.5 3,-.1 3,0.8 3,0.9 3,-.9 3,-1.2 3,0.8 3,0.8 3,0.4 3,-1.5 3,-.1 3,0.8 3,0.9 3,-.9 3,-1.2 3,0.8 3,0.8 3,0.4 3,-1.5 3,-.1 3,0.8 3,0.9 3,-.9 3,-1.2" stroke="rgb(43,43,43)" stroke-width="1.8"/>
<path d="M533.2,101.1l3,0.8 3,0.8 3,0.4 3,-1.6 3,0 3,0.8 3,0.8 3,-.8 3,-1.2 3,0.8 3,0.8 3,0.4 3,-1.6 3,0 3,0.8 3,0.8 3,-.8 3,-1.2 3,0.8 3,0.8 3,0.4 3,-1.6 3,0 3,0.8 3,0.8 3,-.8 3,-1.2 3,0.8 3,0.8 3,0.4 3,-1.6 3,0 3,0.8 3,0.8 3,-.8 3,-1.2" stroke="rgb(54,54,54)" stroke-width="1.8"/>
<path d="M533.2,102.3l3,0.9 3,0.8 3,0.3 3,-1.5 3,0 3,0.8 3,0.8 3,-.8 3,-1.3 3,0.9 3,0.8 3,0.3 3,-1.5 3,0 3,0.8 3,0.8 3,-.8 3,-1.3 3,0.9 3,0.8 3,0.3 3,-1.5 3,0 3,0.8 3,0.8 3,-.8 3,-1.3 3,0.9 3,0.8 3,0.3 3,-1.5 3,0 3,0.8 3,0.8 3,-.8 3,-1.3" stroke="rgb(68,68,68)" stroke-width="1.8"/>
<path d="M533.2,103.6l3,0.8 3,0.8 3,0.4 3,-1.5 3,-.1 3,0.8 3,0.9 3,-.9 3,-1.2 3,0.8 3,0.8 3,0.4 3,-1.5 3,-.1 3,0.8 3,0.9 3,-.9 3,-1.2 3,0.8 3,0.8 3,0.4 3,-1.5 3,-.1 3,0.8 3,0.9 3,-.9 3,-1.2 3,0.8 3,0.8 3,0.4 3,-1.5 3,-.1 3,0.8 3,0.9 3,-.9 3,-1.2" stroke="rgb(64,64,64)" stroke-width="1.8"/>
<path d="M533.2,104.9l3,0.8 3,0.8 3,0.4 3,-1.6 3,0 3,0.8 3,0.8 3,-.8 3,-1.2 3,0.8 3,0.8 3,0.4 3,-1.6 3,0 3,0.8 3,0.8 3,-.8 3,-1.2 3,0.8 3,0.8 3,0.4 3,-1.6 3,0 3,0.8 3,0.8 3,-.8 3,-1.2 3,0.8 3,0.8 3,0.4 3,-1.6 3,0 3,0.8 3,0.8 3,-.8 3,-1.2" stroke="rgb(71,71,71)" stroke-width="1.8"/>
<path d="M533.2,106.1l3,0.9 3,0.8 3,0.3 3,-1.5 3,-.1 3,0.9 3,0.8 3,-.8 3,-1.3 3,0.9 3,0.8 3,0.3 3,-1.5 3,-.1 3,0.9 3,0.8 3,-.8 3,-1.3 3,0.9 3,0.8 3,0.3 3,-1.5 3,-.1 3,0.9 3,0.8 3,-.8 3,-1.3 3,0.9 3,0.8 3,0.3 3,-1.5 3,-.1 3,0.9 3,0.8 3,-.8 3,-1.3" stroke="rgb(71,71,71)" stroke-width="1.8"/>
<path d="M533.2,107.4l3,0.8 3,0.8 3,0.4 3,-1.5 3,-.1 3,0.8 3,0.9 3,-.9 3,-1.2 3,0.8 3,0.8 3,0.4 3,-1.5 3,-.1 3,0.8 3,0.9 3,-.9 3,-1.2 3,0.8 3,0.8 3,0.4 3,-1.5 3,-.1 3,0.8 3,0.9 3,-.9 3,-1.2 3,0.8 3,0.8 3,0.4 3,-1.5 3,-.1 3,0.8 3,0.9 3,-.9 3,-1.2" stroke="rgb(67,67,67)" stroke-width="1.8"/>
<path d="M533.2,108.7l3,0.8 3,0.8 3,0.4 3,-1.6 3,0 3,0.8 3,0.8 3,-.8 3,-1.2 3,0.8 3,0.8 3,0.4 3,-1.6 3,0 3,0.8 3,0.8 3,-.8 3,-1.2 3,0.8 3,0.8 3,0.4 3,-1.6 3,0 3,0.8 3,0.8 3,-.8 3,-1.2 3,0.8 3,0.8 3,0.4 3,-1.6 3,0 3,0.8 3,0.8 3,-.8 3,-1.2" stroke="rgb(70,70,70)" stroke-width="1.8"/>
<path d="M533.2,109.9l3,0.9 3,0.8 3,0.3 3,-1.5 3,-.1 3,0.9 3,0.8 3,-.8 3,-1.3 3,0.9 3,0.8 3,0.3 3,-1.5 3,-.1 3,0.9 3,0.8 3,-.8 3,-1.3 3,0.9 3,0.8 3,0.3 3,-1.5 3,-.1 3,0.9 3,0.8 3,-.8 3,-1.3 3,0.9 3,0.8 3,0.3 3,-1.5 3,-.1 3,0.9 3,0.8 3,-.8 3,-1.3" stroke="rgb(67,67,67)" stroke-width="1.8"/>
<path d="M533.2,111.2l3,0.8 3,0.8 3,0.4 3,-1.5 3,-.1 3,0.8 3,0.9 3,-.9 3,-1.2 3,0.8 3,0.8 3,0.4 3,-1.5 3,-.1 3,0.8 3,0.9 3,-.9 3,-1.2 3,0.8 3,0.8 3,0.4 3,-1.5 3,-.1 3,0.8 3,0.9 3,-.9 3,-1.2 3,0.8 3,0.8 3,0.4 3,-1.5 3,-.1 3,0.8 3,0.9 3,-.9 3,-1.2" stroke="rgb(69,69,69)" stroke-width="1.8"/>
<path d="M533.2,112.5l3,0.8 3,0.8 3,0.3 3,-1.5 3,0 3,0.8 3,0.8 3,-.8 3,-1.2 3,0.8 3,0.8 3,0.3 3,-1.5 3,0 3,0.8 3,0.8 3,-.8 3,-1.2 3,0.8 3,0.8 3,0.3 3,-1.5 3,0 3,0.8 3,0.8 3,-.8 3,-1.2 3,0.8 3,0.8 3,0.3 3,-1.5 3,0 3,0.8 3,0.8 3,-.8 3,-1.2" stroke="rgb(62,62,62)" stroke-width="1.8"/>
<path d="M533.2,113.8l3,0.8 3,0.8 3,0.3 3,-1.5 3,0 3,0.8 3,0.8 3,-.8 3,-1.2 3,0.8 3,0.8 3,0.3 3,-1.5 3,0 3,0.8 3,0.8 3,-.8 3,-1.2 3,0.8 3,0.8 3,0.3 3,-1.5 3,0 3,0.8 3,0.8 3,-.8 3,-1.2 3,0.8 3,0.8 3,0.3 3,-1.5 3,0 3,0.8 3,0.8 3,-.8 3,-1.2" stroke="rgb(52,52,52)" stroke-width="1.8"/>
<path d="M533.2,115.0l3,0.8 3,0.8 3,0.3 3,-1.4 3,-.1 3,0.8 3,0.8 3,-.8 3,-1.2 3,0.8 3,0.8 3,0.3 3,-1.4 3,-.1 3,0.8 3,0.8 3,-.8 3,-1.2 3,0.8 3,0.8 3,0.3 3,-1.4 3,-.1 3,0.8 3,0.8 3,-.8 3,-1.2 3,0.8 3,0.8 3,0.3 3,-1.4 3,-.1 3,0.8 3,0.8 3,-.8 3,-1.2" stroke="rgb(69,69,69)" stroke-width="1.8"/>
<path d="M533.2,116.3l3,0.8 3,0.8 3,0.3 3,-1.4 3,-.1 3,0.8 3,0.8 3,-.8 3,-1.2 3,0.8 3,0.8 3,0.3 3,-1.4 3,-.1 3,0.8 3,0.8 3,-.8 3,-1.2 3,0.8 3,0.8 3,0.3 3,-1.4 3,-.1 3,0.8 3,0.8 3,-.8 3,-1.2 3,0.8 3,0.8 3,0.3 3,-1.4 3,-.1 3,0.8 3,0.8 3,-.8 3,-1.2" stroke="rgb(167,167,167)" stroke-width="1.8"/>
<path d="M533.2,117.6l3,0.8 3,0.7 3,0.3 3,-1.4 3,0 3,0.7 3,0.8 3,-.8 3,-1.1 3,0.8 3,0.7 3,0.3 3,-1.4 3,0 3,0.7 3,0.8 3,-.8 3,-1.1 3,0.8 3,0.7 3,0.3 3,-1.4 3,0 3,0.7 3,0.8 3,-.8 3,-1.1 3,0.8 3,0.7 3,0.3 3,-1.4 3,0 3,0.7 3,0.8 3,-.8 3,-1.1" stroke="rgb(223,223,223)" stroke-width="1.8"/>
<path d="M533.2,118.9l3,0.7 3,0.8 3,0.3 3,-1.4 3,0 3,0.7 3,0.7 3,-.7 3,-1.1 3,0.7 3,0.8 3,0.3 3,-1.4 3,0 3,0.7 3,0.7 3,-.7 3,-1.1 3,0.7 3,0.8 3,0.3 3,-1.4 3,0 3,0.7 3,0.7 3,-.7 3,-1.1 3,0.7 3,0.8 3,0.3 3,-1.4 3,0 3,0.7 3,0.7 3,-.7 3,-1.1" stroke="rgb(219,219,219)" stroke-width="1.8"/>
<path d="M533.2,120.2l3,0.7 3,0.7 3,0.3 3,-1.3 3,0 3,0.7 3,0.7 3,-.7 3,-1.1 3,0.7 3,0.7 3,0.3 3,-1.3 3,0 3,0.7 3,0.7 3,-.7 3,-1.1 3,0.7 3,0.7 3,0.3 3,-1.3 3,0 3,0.7 3,0.7 3,-.7 3,-1.1 3,0.7 3,0.7 3,0.3 3,-1.3 3,0 3,0.7 3,0.7 3,-.7 3,-1.1" stroke="rgb(210,210,210)" stroke-width="1.8"/>
<path d="M533.2,121.5l3,0.7 3,0.7 3,0.3 3,-1.3 3,-.1 3,0.7 3,0.7 3,-.7 3,-1 3,0.7 3,0.7 3,0.3 3,-1.3 3,-.1 3,0.7 3,0.7 3,-.7 3,-1 3,0.7 3,0.7 3,0.3 3,-1.3 3,-.1 3,0.7 3,0.7 3,-.7 3,-1 3,0.7 3,0.7 3,0.3 3,-1.3 3,-.1 3,0.7 3,0.7 3,-.7 3,-1" stroke="rgb(198,198,198)" stroke-width="1.8"/>
<path d="M533.2,122.8l3,0.7 3,0.6 3,0.3 3,-1.2 3,-.1 3,0.7 3,0.7 3,-.7 3,-1 3,0.7 3,0.6 3,0.3 3,-1.2 3,-.1 3,0.7 3,0.7 3,-.7 3,-1 3,0.7 3,0.6 3,0.3 3,-1.2 3,-.1 3,0.7 3,0.7 3,-.7 3,-1 3,0.7 3,0.6 3,0.3 3,-1.2 3,-.1 3,0.7 3,0.7 3,-.7 3,-1" stroke="rgb(220,220,220)" stroke-width="1.8"/>
<path d="M533.2,124.0l3,0.7 3,0.7 3,0.3 3,-1.3 3,0 3,0.7 3,0.6 3,-.6 3,-1.1 3,0.7 3,0.7 3,0.3 3,-1.3 3,0 3,0.7 3,0.6 3,-.6 3,-1.1 3,0.7 3,0.7 3,0.3 3,-1.3 3,0 3,0.7 3,0.6 3,-.6 3,-1.1 3,0.7 3,0.7 3,0.3 3,-1.3 3,0 3,0.7 3,0.6 3,-.6 3,-1.1" stroke="rgb(207,207,207)" stroke-width="1.8"/>
<path d="M533.2,125.3l3,0.7 3,0.7 3,0.2 3,-1.2 3,0 3,0.6 3,0.7 3,-.7 3,-1 3,0.7 3,0.7 3,0.2 3,-1.2 3,0 3,0.6 3,0.7 3,-.7 3,-1 3,0.7 3,0.7 3,0.2 3,-1.2 3,0 3,0.6 3,0.7 3,-.7 3,-1 3,0.7 3,0.7 3,0.2 3,-1.2 3,0 3,0.6 3,0.7 3,-.7 3,-1" stroke="rgb(190,190,190)" stroke-width="1.8"/>
<path d="M533.2,126.6l3,0.7 3,0.6 3,0.3 3,-1.2 3,-.1 3,0.7 3,0.6 3,-.6 3,-1 3,0.7 3,0.6 3,0.3 3,-1.2 3,-.1 3,0.7 3,0.6 3,-.6 3,-1 3,0.7 3,0.6 3,0.3 3,-1.2 3,-.1 3,0.7 3,0.6 3,-.6 3,-1 3,0.7 3,0.6 3,0.3 3,-1.2 3,-.1 3,0.7 3,0.6 3,-.6 3,-1" stroke="rgb(170,170,170)" stroke-width="1.8"/>
<path d="M533.2,127.9l3,0.6 3,0.7 3,0.2 3,-1.1 3,-.1 3,0.7 3,0.6 3,-.6 3,-1 3,0.6 3,0.7 3,0.2 3,-1.1 3,-.1 3,0.7 3,0.6 3,-.6 3,-1 3,0.6 3,0.7 3,0.2 3,-1.1 3,-.1 3,0.7 3,0.6 3,-.6 3,-1 3,0.6 3,0.7 3,0.2 3,-1.1 3,-.1 3,0.7 3,0.6 3,-.6 3,-1" stroke="rgb(167,167,167)" stroke-width="1.8"/>
<path d="M533.2,129.2l3,0.6 3,0.6 3,0.3 3,-1.2 3,0 3,0.6 3,0.6 3,-.6 3,-.9 3,0.6 3,0.6 3,0.3 3,-1.2 3,0 3,0.6 3,0.6 3,-.6 3,-.9 3,0.6 3,0.6 3,0.3 3,-1.2 3,0 3,0.6 3,0.6 3,-.6 3,-.9 3,0.6 3,0.6 3,0.3 3,-1.2 3,0 3,0.6 3,0.6 3,-.6 3,-.9" stroke="rgb(158,158,158)" stroke-width="1.8"/>
<path d="M533.2,130.5l3,0.6 3,0.6 3,0.2 3,-1.1 3,0 3,0.6 3,0.6 3,-.6 3,-.9 3,0.6 3,0.6 3,0.2 3,-1.1 3,0 3,0.6 3,0.6 3,-.6 3,-.9 3,0.6 3,0.6 3,0.2 3,-1.1 3,0 3,0.6 3,0.6 3,-.6 3,-.9 3,0.6 3,0.6 3,0.2 3,-1.1 3,0 3,0.6 3,0.6 3,-.6 3,-.9" stroke="rgb(155,155,155)" stroke-width="1.8"/>
<path d="M533.2,131.8l3,0.5 3,0.6 3,0.3 3,-1.1 3,-.1 3,0.6 3,0.6 3,-.6 3,-.8 3,0.5 3,0.6 3,0.3 3,-1.1 3,-.1 3,0.6 3,0.6 3,-.6 3,-.8 3,0.5 3,0.6 3,0.3 3,-1.1 3,-.1 3,0.6 3,0.6 3,-.6 3,-.8 3,0.5 3,0.6 3,0.3 3,-1.1 3,-.1 3,0.6 3,0.6 3,-.6 3,-.8" stroke="rgb(162,162,162)" stroke-width="1.8"/>
<path d="M533.2,133.0l3,0.6 3,0.6 3,0.2 3,-1 3,-.1 3,0.6 3,0.6 3,-.6 3,-.9 3,0.6 3,0.6 3,0.2 3,-1 3,-.1 3,0.6 3,0.6 3,-.6 3,-.9 3,0.6 3,0.6 3,0.2 3,-1 3,-.1 3,0.6 3,0.6 3,-.6 3,-.9 3,0.6 3,0.6 3,0.2 3,-1 3,-.1 3,0.6 3,0.6 3,-.6 3,-.9" stroke="rgb(162,162,162)" stroke-width="1.8"/>
<path d="M533.2,134.3l3,0.6 3,0.6 3,0.2 3,-1.1 3,0 3,0.6 3,0.5 3,-.5 3,-.9 3,0.6 3,0.6 3,0.2 3,-1.1 3,0 3,0.6 3,0.5 3,-.5 3,-.9 3,0.6 3,0.6 3,0.2 3,-1.1 3,0 3,0.6 3,0.5 3,-.5 3,-.9 3,0.6 3,0.6 3,0.2 3,-1.1 3,0 3,0.6 3,0.5 3,-.5 3,-.9" stroke="rgb(157,157,157)" stroke-width="1.8"/>
<path d="M533.2,135.6l3,0.6 3,0.5 3,0.2 3,-1 3,0 3,0.5 3,0.6 3,-.6 3,-.8 3,0.6 3,0.5 3,0.2 3,-1 3,0 3,0.5 3,0.6 3,-.6 3,-.8 3,0.6 3,0.5 3,0.2 3,-1 3,0 3,0.5 3,0.6 3,-.6 3,-.8 3,0.6 3,0.5 3,0.2 3,-1 3,0 3,0.5 3,0.6 3,-.6 3,-.8" stroke="rgb(146,146,146)" stroke-width="1.8"/>
<path d="M533.2,136.9l3,0.5 3,0.6 3,0.2 3,-1 3,0 3,0.5 3,0.5 3,-.5 3,-.8 3,0.5 3,0.6 3,0.2 3,-1 3,0 3,0.5 3,0.5 3,-.5 3,-.8 3,0.5 3,0.6 3,0.2 3,-1 3,0 3,0.5 3,0.5 3,-.5 3,-.8 3,0.5 3,0.6 3,0.2 3,-1 3,0 3,0.5 3,0.5 3,-.5 3,-.8" stroke="rgb(144,144,144)" stroke-width="1.8"/>
<path d="M533.2,138.2l3,0.5 3,0.5 3,0.2 3,-.9 3,-.1 3,0.6 3,0.5 3,-.5 3,-.8 3,0.5 3,0.5 3,0.2 3,-.9 3,-.1 3,0.6 3,0.5 3,-.5 3,-.8 3,0.5 3,0.5 3,0.2 3,-.9 3,-.1 3,0.6 3,0.5 3,-.5 3,-.8 3,0.5 3,0.5 3,0.2 3,-.9 3,-.1 3,0.6 3,0.5 3,-.5 3,-.8" stroke="rgb(135,135,135)" stroke-width="1.8"/>
<path d="M533.2,139.5l3,0.5 3,0.5 3,0.2 3,-1 3,0 3,0.5 3,0.5 3,-.5 3,-.7 3,0.5 3,0.5 3,0.2 3,-1 3,0 3,0.5 3,0.5 3,-.5 3,-.7 3,0.5 3,0.5 3,0.2 3,-1 3,0 3,0.5 3,0.5 3,-.5 3,-.7 3,0.5 3,0.5 3,0.2 3,-1 3,0 3,0.5 3,0.5 3,-.5 3,-.7" stroke="rgb(140,140,140)" stroke-width="1.8"/>
<path d="M533.2,140.7l3,0.5 3,0.5 3,0.2 3,-.9 3,0 3,0.5 3,0.5 3,-.5 3,-.8 3,0.5 3,0.5 3,0.2 3,-.9 3,0 3,0.5 3,0.5 3,-.5 3,-.8 3,0.5 3,0.5 3,0.2 3,-.9 3,0 3,0.5 3,0.5 3,-.5 3,-.8 3,0.5 3,0.5 3,0.2 3,-.9 3,0 3,0.5 3,0.5 3,-.5 3,-.8" stroke="rgb(138,138,138)" stroke-width="1.8"/>
<path d="M533.2,142.0l3,0.5 3,0.5 3,0.2 3,-.9 3,0 3,0.5 3,0.4 3,-.4 3,-.8 3,0.5 3,0.5 3,0.2 3,-.9 3,0 3,0.5 3,0.4 3,-.4 3,-.8 3,0.5 3,0.5 3,0.2 3,-.9 3,0 3,0.5 3,0.4 3,-.4 3,-.8 3,0.5 3,0.5 3,0.2 3,-.9 3,0 3,0.5 3,0.4 3,-.4 3,-.8" stroke="rgb(120,120,120)" stroke-width="1.8"/>
<path d="M533.2,143.3l3,0.5 3,0.4 3,0.2 3,-.8 3,-.1 3,0.5 3,0.5 3,-.5 3,-.7 3,0.5 3,0.4 3,0.2 3,-.8 3,-.1 3,0.5 3,0.5 3,-.5 3,-.7 3,0.5 3,0.4 3,0.2 3,-.8 3,-.1 3,0.5 3,0.5 3,-.5 3,-.7 3,0.5 3,0.4 3,0.2 3,-.8 3,-.1 3,0.5 3,0.5 3,-.5 3,-.7" stroke="rgb(126,126,126)" stroke-width="1.8"/>
<path d="M533.2,144.6l3,0.5 3,0.4 3,0.2 3,-.8 3,-.1 3,0.5 3,0.4 3,-.4 3,-.7 3,0.5 3,0.4 3,0.2 3,-.8 3,-.1 3,0.5 3,0.4 3,-.4 3,-.7 3,0.5 3,0.4 3,0.2 3,-.8 3,-.1 3,0.5 3,0.4 3,-.4 3,-.7 3,0.5 3,0.4 3,0.2 3,-.8 3,-.1 3,0.5 3,0.4 3,-.4 3,-.7" stroke="rgb(114,114,114)" stroke-width="1.8"/>
<path d="M533.2,145.9l3,0.4 3,0.5 3,0.1 3,-.8 3,0 3,0.4 3,0.5 3,-.5 3,-.6 3,0.4 3,0.5 3,0.1 3,-.8 3,0 3,0.4 3,0.5 3,-.5 3,-.6 3,0.4 3,0.5 3,0.1 3,-.8 3,0 3,0.4 3,0.5 3,-.5 3,-.6 3,0.4 3,0.5 3,0.1 3,-.8 3,0 3,0.4 3,0.5 3,-.5 3,-.6" stroke="rgb(113,113,113)" stroke-width="1.8"/>
<path d="M533.2,147.2l3,0.4 3,0.4 3,0.2 3,-.8 3,0 3,0.4 3,0.4 3,-.4 3,-.6 3,0.4 3,0.4 3,0.2 3,-.8 3,0 3,0.4 3,0.4 3,-.4 3,-.6 3,0.4 3,0.4 3,0.2 3,-.8 3,0 3,0.4 3,0.4 3,-.4 3,-.6 3,0.4 3,0.4 3,0.2 3,-.8 3,0 3,0.4 3,0.4 3,-.4 3,-.6" stroke="rgb(114,114,114)" stroke-width="1.8"/>
<path d="M533.2,148.5l3,0.4 3,0.4 3,0.1 3,-.7 3,0 3,0.4 3,0.4 3,-.4 3,-.6 3,0.4 3,0.4 3,0.1 3,-.7 3,0 3,0.4 3,0.4 3,-.4 3,-.6 3,0.4 3,0.4 3,0.1 3,-.7 3,0 3,0.4 3,0.4 3,-.4 3,-.6 3,0.4 3,0.4 3,0.1 3,-.7 3,0 3,0.4 3,0.4 3,-.4 3,-.6" stroke="rgb(113,113,113)" stroke-width="1.8"/>
<path d="M533.2,149.7l3,0.4 3,0.4 3,0.2 3,-.7 3,-.1 3,0.4 3,0.4 3,-.4 3,-.6 3,0.4 3,0.4 3,0.2 3,-.7 3,-.1 3,0.4 3,0.4 3,-.4 3,-.6 3,0.4 3,0.4 3,0.2 3,-.7 3,-.1 3,0.4 3,0.4 3,-.4 3,-.6 3,0.4 3,0.4 3,0.2 3,-.7 3,-.1 3,0.4 3,0.4 3,-.4 3,-.6" stroke="rgb(104,104,104)" stroke-width="1.8"/>
<path d="M533.2,151.0l3,0.4 3,0.4 3,0.2 3,-.8 3,0 3,0.4 3,0.4 3,-.4 3,-.6 3,0.4 3,0.4 3,0.2 3,-.8 3,0 3,0.4 3,0.4 3,-.4 3,-.6 3,0.4 3,0.4 3,0.2 3,-.8 3,0 3,0.4 3,0.4 3,-.4 3,-.6 3,0.4 3,0.4 3,0.2 3,-.8 3,0 3,0.4 3,0.4 3,-.4 3,-.6" stroke="rgb(107,107,107)" stroke-width="1.8"/>
<path d="M533.2,152.2l3,0.5 3,0.4 3,0.1 3,-.7 3,0 3,0.4 3,0.4 3,-.4 3,-.7 3,0.5 3,0.4 3,0.1 3,-.7 3,0 3,0.4 3,0.4 3,-.4 3,-.7 3,0.5 3,0.4 3,0.1 3,-.7 3,0 3,0.4 3,0.4 3,-.4 3,-.7 3,0.5 3,0.4 3,0.1 3,-.7 3,0 3,0.4 3,0.4 3,-.4 3,-.7" stroke="rgb(104,104,104)" stroke-width="1.8"/>
<ellipse cx="529.52" cy="108.03" rx="4.38" ry="4.92" fill="#a0a0a0" opacity="0.58" filter="url(#eblur)"/>
<ellipse cx="541.5" cy="109.12" rx="3.76" ry="4.23" fill="#a0a0a0" opacity="0.59" filter="url(#eblur)"/>
<ellipse cx="555.53" cy="108.75" rx="3.86" ry="4.34" fill="#a0a0a0" opacity="0.53" filter="url(#eblur)"/>
<ellipse cx="569.15" cy="108.64" rx="3.66" ry="4.11" fill="#a0a0a0" opacity="0.51" filter="url(#eblur)"/>
<ellipse cx="582.65" cy="107.48" rx="4.31" ry="4.85" fill="#a0a0a0" opacity="0.57" filter="url(#eblur)"/>
<ellipse cx="595.57" cy="108.14" rx="4.25" ry="4.78" fill="#a0a0a0" opacity="0.52" filter="url(#eblur)"/>
<ellipse cx="611.63" cy="108.42" rx="4.34" ry="4.88" fill="#a0a0a0" opacity="0.59" filter="url(#eblur)"/>
<ellipse cx="624.7" cy="110.02" rx="4.37" ry="4.92" fill="#a0a0a0" opacity="0.57" filter="url(#eblur)"/>
<ellipse cx="636.89" cy="109.26" rx="3.99" ry="4.48" fill="#a0a0a0" opacity="0.58" filter="url(#eblur)"/>
<ellipse cx="651" cy="106.09" rx="4.32" ry="4.86" fill="#a0a0a0" opacity="0.57" filter="url(#eblur)"/>
</g></g>
<g clip-path="url(#ecb3)"><g filter="url(#spk1)" fill="none">
<rect x="430.3" y="151.3" width="104" height="83" fill="url(#egb3)"/>
<path d="M428.3,149.3l3,-.1 3,-.6 3,-.6 3,-.4 3,0.3 3,0.3 3,0.4 3,0.3 3,0.3 3,0.2 3,-.6 3,-.7 3,-.6 3,0.3 3,0.4 3,0.3 3,0.3 3,0.3 3,0.4 3,-.6 3,-.6 3,-.6 3,0 3,0.4 3,0.3 3,0.3 3,0.4 3,0.3 3,-.3 3,-.6 3,-.6 3,-.3 3,0.4 3,0.3 3,0.3 3,0.4" stroke="rgb(98,98,98)" stroke-width="1.8"/>
<path d="M428.3,150.6l3,-.1 3,-.6 3,-.7 3,-.4 3,0.4 3,0.3 3,0.3 3,0.4 3,0.3 3,0.1 3,-.6 3,-.6 3,-.6 3,0.3 3,0.3 3,0.3 3,0.4 3,0.3 3,0.3 3,-.5 3,-.6 3,-.6 3,0 3,0.3 3,0.4 3,0.3 3,0.3 3,0.4 3,-.3 3,-.7 3,-.6 3,-.2 3,0.3 3,0.4 3,0.3 3,0.3" stroke="rgb(90,90,90)" stroke-width="1.8"/>
<path d="M428.3,151.9l3,-.2 3,-.6 3,-.6 3,-.4 3,0.3 3,0.4 3,0.3 3,0.3 3,0.4 3,0.1 3,-.6 3,-.6 3,-.6 3,0.3 3,0.3 3,0.3 3,0.3 3,0.4 3,0.3 3,-.5 3,-.7 3,-.6 3,0.1 3,0.3 3,0.3 3,0.4 3,0.3 3,0.3 3,-.3 3,-.6 3,-.6 3,-.2 3,0.3 3,0.3 3,0.4 3,0.3" stroke="rgb(94,94,94)" stroke-width="1.8"/>
<path d="M428.3,153.1l3,-.1 3,-.6 3,-.6 3,-.4 3,0.3 3,0.3 3,0.4 3,0.3 3,0.3 3,0.2 3,-.6 3,-.7 3,-.6 3,0.3 3,0.3 3,0.4 3,0.3 3,0.3 3,0.4 3,-.6 3,-.6 3,-.6 3,0 3,0.4 3,0.3 3,0.3 3,0.4 3,0.3 3,-.3 3,-.6 3,-.6 3,-.3 3,0.4 3,0.3 3,0.3 3,0.4" stroke="rgb(93,93,93)" stroke-width="1.8"/>
<path d="M428.3,154.4l3,-.1 3,-.6 3,-.7 3,-.4 3,0.4 3,0.3 3,0.3 3,0.4 3,0.3 3,0.2 3,-.7 3,-.6 3,-.6 3,0.3 3,0.3 3,0.3 3,0.4 3,0.3 3,0.4 3,-.6 3,-.6 3,-.7 3,0.1 3,0.3 3,0.4 3,0.3 3,0.3 3,0.4 3,-.3 3,-.7 3,-.6 3,-.2 3,0.3 3,0.4 3,0.3 3,0.3" stroke="rgb(103,103,103)" stroke-width="1.8"/>
<path d="M428.3,155.7l3,-.1 3,-.7 3,-.6 3,-.4 3,0.3 3,0.4 3,0.3 3,0.4 3,0.3 3,0.2 3,-.7 3,-.6 3,-.7 3,0.3 3,0.4 3,0.3 3,0.4 3,0.3 3,0.4 3,-.6 3,-.7 3,-.6 3,0 3,0.4 3,0.3 3,0.4 3,0.3 3,0.4 3,-.4 3,-.6 3,-.6 3,-.3 3,0.4 3,0.3 3,0.4 3,0.3" stroke="rgb(112,112,112)" stroke-width="1.8"/>
<path d="M428.3,157.0l3,-.1 3,-.7 3,-.7 3,-.4 3,0.4 3,0.3 3,0.4 3,0.3 3,0.4 3,0.1 3,-.6 3,-.7 3,-.6 3,0.3 3,0.3 3,0.4 3,0.3 3,0.4 3,0.3 3,-.5 3,-.7 3,-.7 3,0.1 3,0.3 3,0.4 3,0.3 3,0.4 3,0.3 3,-.3 3,-.6 3,-.7 3,-.2 3,0.3 3,0.4 3,0.3 3,0.4" stroke="rgb(107,107,107)" stroke-width="1.8"/>
<path d="M428.3,158.3l3,-.2 3,-.6 3,-.7 3,-.5 3,0.4 3,0.4 3,0.3 3,0.4 3,0.4 3,0.1 3,-.7 3,-.6 3,-.7 3,0.3 3,0.4 3,0.3 3,0.4 3,0.4 3,0.3 3,-.6 3,-.6 3,-.7 3,0 3,0.4 3,0.3 3,0.4 3,0.4 3,0.3 3,-.3 3,-.7 3,-.6 3,-.3 3,0.4 3,0.3 3,0.4 3,0.4" stroke="rgb(109,109,109)" stroke-width="1.8"/>
<path d="M428.3,159.5l3,-.1 3,-.7 3,-.7 3,-.4 3,0.4 3,0.3 3,0.4 3,0.4 3,0.3 3,0.2 3,-.7 3,-.7 3,-.7 3,0.4 3,0.3 3,0.4 3,0.4 3,0.3 3,0.4 3,-.6 3,-.7 3,-.7 3,0.1 3,0.3 3,0.4 3,0.4 3,0.3 3,0.4 3,-.3 3,-.7 3,-.7 3,-.2 3,0.3 3,0.4 3,0.4 3,0.4" stroke="rgb(96,96,96)" stroke-width="1.8"/>
<path d="M428.3,160.8l3,-.1 3,-.7 3,-.7 3,-.5 3,0.4 3,0.4 3,0.4 3,0.4 3,0.3 3,0.2 3,-.7 3,-.7 3,-.7 3,0.3 3,0.4 3,0.4 3,0.4 3,0.3 3,0.4 3,-.6 3,-.7 3,-.7 3,0 3,0.4 3,0.4 3,0.3 3,0.4 3,0.4 3,-.3 3,-.7 3,-.7 3,-.3 3,0.4 3,0.4 3,0.3 3,0.4" stroke="rgb(98,98,98)" stroke-width="1.8"/>
<path d="M428.3,162.1l3,-.1 3,-.7 3,-.7 3,-.5 3,0.4 3,0.4 3,0.3 3,0.4 3,0.4 3,0.2 3,-.7 3,-.8 3,-.7 3,0.4 3,0.4 3,0.3 3,0.4 3,0.4 3,0.4 3,-.6 3,-.8 3,-.7 3,0.1 3,0.3 3,0.4 3,0.4 3,0.4 3,0.4 3,-.4 3,-.7 3,-.7 3,-.2 3,0.3 3,0.4 3,0.4 3,0.4" stroke="rgb(100,100,100)" stroke-width="1.8"/>
<path d="M428.3,163.4l3,-.1 3,-.8 3,-.7 3,-.5 3,0.4 3,0.4 3,0.4 3,0.4 3,0.4 3,0.2 3,-.8 3,-.7 3,-.7 3,0.3 3,0.4 3,0.4 3,0.4 3,0.4 3,0.4 3,-.7 3,-.7 3,-.7 3,0 3,0.4 3,0.4 3,0.4 3,0.4 3,0.4 3,-.4 3,-.7 3,-.7 3,-.3 3,0.4 3,0.4 3,0.4 3,0.4" stroke="rgb(109,109,109)" stroke-width="1.8"/>
<path d="M428.3,164.7l3,-.1 3,-.8 3,-.7 3,-.5 3,0.4 3,0.4 3,0.4 3,0.4 3,0.4 3,0.2 3,-.8 3,-.7 3,-.8 3,0.4 3,0.4 3,0.4 3,0.4 3,0.4 3,0.4 3,-.7 3,-.7 3,-.8 3,0.1 3,0.4 3,0.4 3,0.4 3,0.4 3,0.4 3,-.4 3,-.7 3,-.8 3,-.3 3,0.5 3,0.4 3,0.4 3,0.4" stroke="rgb(129,129,129)" stroke-width="1.8"/>
<path d="M428.3,166.0l3,-.2 3,-.7 3,-.8 3,-.5 3,0.4 3,0.4 3,0.4 3,0.5 3,0.4 3,0.1 3,-.7 3,-.8 3,-.7 3,0.3 3,0.4 3,0.4 3,0.4 3,0.5 3,0.4 3,-.7 3,-.8 3,-.7 3,0 3,0.4 3,0.4 3,0.4 3,0.4 3,0.5 3,-.4 3,-.8 3,-.7 3,-.3 3,0.4 3,0.4 3,0.4 3,0.4" stroke="rgb(82,82,82)" stroke-width="1.8"/>
<path d="M428.3,167.3l3,-.2 3,-.8 3,-.7 3,-.5 3,0.4 3,0.4 3,0.4 3,0.4 3,0.4 3,0.2 3,-.7 3,-.8 3,-.8 3,0.4 3,0.4 3,0.4 3,0.4 3,0.4 3,0.5 3,-.7 3,-.8 3,-.8 3,0.1 3,0.4 3,0.4 3,0.4 3,0.4 3,0.4 3,-.3 3,-.8 3,-.8 3,-.3 3,0.5 3,0.4 3,0.4 3,0.4" stroke="rgb(25,25,25)" stroke-width="1.8"/>
<path d="M428.3,168.5l3,-.1 3,-.8 3,-.8 3,-.5 3,0.4 3,0.5 3,0.4 3,0.4 3,0.4 3,0.2 3,-.8 3,-.8 3,-.8 3,0.4 3,0.4 3,0.5 3,0.4 3,0.4 3,0.4 3,-.7 3,-.8 3,-.7 3,0 3,0.4 3,0.4 3,0.5 3,0.4 3,0.4 3,-.4 3,-.7 3,-.8 3,-.3 3,0.4 3,0.4 3,0.5 3,0.4" stroke="rgb(23,23,23)" stroke-width="1.8"/>
<path d="M428.3,169.8l3,-.1 3,-.8 3,-.8 3,-.6 3,0.5 3,0.4 3,0.4 3,0.5 3,0.4 3,0.2 3,-.8 3,-.8 3,-.8 3,0.4 3,0.4 3,0.4 3,0.5 3,0.4 3,0.4 3,-.7 3,-.8 3,-.8 3,0 3,0.5 3,0.4 3,0.4 3,0.5 3,0.4 3,-.4 3,-.8 3,-.8 3,-.3 3,0.5 3,0.4 3,0.4 3,0.5" stroke="rgb(23,23,23)" stroke-width="1.8"/>
<path d="M428.3,171.1l3,-.1 3,-.9 3,-.8 3,-.5 3,0.4 3,0.5 3,0.4 3,0.4 3,0.5 3,0.2 3,-.8 3,-.8 3,-.9 3,0.4 3,0.5 3,0.4 3,0.4 3,0.5 3,0.4 3,-.7 3,-.8 3,-.8 3,0 3,0.4 3,0.5 3,0.4 3,0.4 3,0.5 3,-.4 3,-.8 3,-.8 3,-.3 3,0.4 3,0.5 3,0.4 3,0.4" stroke="rgb(23,23,23)" stroke-width="1.8"/>
<path d="M428.3,172.4l3,-.2 3,-.8 3,-.8 3,-.5 3,0.4 3,0.4 3,0.5 3,0.4 3,0.5 3,0.1 3,-.8 3,-.8 3,-.8 3,0.4 3,0.4 3,0.5 3,0.4 3,0.4 3,0.5 3,-.8 3,-.8 3,-.8 3,0.1 3,0.4 3,0.4 3,0.5 3,0.4 3,0.5 3,-.4 3,-.8 3,-.9 3,-.3 3,0.5 3,0.4 3,0.5 3,0.4" stroke="rgb(22,22,22)" stroke-width="1.8"/>
<path d="M428.3,173.6l3,-.1 3,-.8 3,-.8 3,-.6 3,0.5 3,0.4 3,0.4 3,0.5 3,0.4 3,0.2 3,-.8 3,-.8 3,-.8 3,0.3 3,0.5 3,0.4 3,0.5 3,0.4 3,0.5 3,-.8 3,-.8 3,-.8 3,0 3,0.5 3,0.4 3,0.4 3,0.5 3,0.4 3,-.4 3,-.8 3,-.8 3,-.3 3,0.4 3,0.5 3,0.4 3,0.5" stroke="rgb(23,23,23)" stroke-width="1.8"/>
<path d="M428.3,174.9l3,-.1 3,-.9 3,-.8 3,-.5 3,0.4 3,0.5 3,0.4 3,0.5 3,0.4 3,0.2 3,-.8 3,-.9 3,-.8 3,0.4 3,0.4 3,0.5 3,0.4 3,0.5 3,0.4 3,-.7 3,-.8 3,-.9 3,0.1 3,0.4 3,0.5 3,0.4 3,0.5 3,0.4 3,-.4 3,-.8 3,-.9 3,-.2 3,0.4 3,0.5 3,0.4 3,0.4" stroke="rgb(22,22,22)" stroke-width="1.8"/>
<path d="M428.3,176.2l3,-.1 3,-.9 3,-.8 3,-.6 3,0.5 3,0.4 3,0.5 3,0.4 3,0.5 3,0.2 3,-.9 3,-.8 3,-.8 3,0.4 3,0.4 3,0.5 3,0.4 3,0.5 3,0.4 3,-.7 3,-.9 3,-.8 3,0 3,0.5 3,0.4 3,0.5 3,0.4 3,0.5 3,-.4 3,-.9 3,-.8 3,-.3 3,0.5 3,0.4 3,0.5 3,0.4" stroke="rgb(22,22,22)" stroke-width="1.8"/>
<path d="M428.3,177.5l3,-.2 3,-.8 3,-.9 3,-.5 3,0.4 3,0.5 3,0.4 3,0.5 3,0.5 3,0.2 3,-.9 3,-.8 3,-.9 3,0.4 3,0.5 3,0.4 3,0.5 3,0.4 3,0.5 3,-.8 3,-.8 3,-.9 3,0.1 3,0.4 3,0.5 3,0.5 3,0.4 3,0.5 3,-.4 3,-.9 3,-.8 3,-.3 3,0.4 3,0.5 3,0.4 3,0.5" stroke="rgb(21,21,21)" stroke-width="1.8"/>
<path d="M428.3,178.8l3,-.2 3,-.9 3,-.8 3,-.6 3,0.5 3,0.4 3,0.5 3,0.5 3,0.4 3,0.2 3,-.8 3,-.9 3,-.8 3,0.4 3,0.4 3,0.5 3,0.4 3,0.5 3,0.5 3,-.8 3,-.9 3,-.8 3,0 3,0.5 3,0.5 3,0.4 3,0.5 3,0.4 3,-.4 3,-.8 3,-.9 3,-.3 3,0.5 3,0.4 3,0.5 3,0.5" stroke="rgb(20,20,20)" stroke-width="1.8"/>
<path d="M428.3,180.0l3,-.1 3,-.9 3,-.8 3,-.6 3,0.4 3,0.5 3,0.5 3,0.4 3,0.5 3,0.2 3,-.9 3,-.8 3,-.9 3,0.4 3,0.5 3,0.5 3,0.4 3,0.5 3,0.4 3,-.7 3,-.9 3,-.8 3,0 3,0.5 3,0.4 3,0.5 3,0.5 3,0.4 3,-.4 3,-.9 3,-.8 3,-.3 3,0.4 3,0.5 3,0.5 3,0.4" stroke="rgb(19,19,19)" stroke-width="1.8"/>
<path d="M428.3,181.3l3,-.2 3,-.8 3,-.9 3,-.6 3,0.5 3,0.5 3,0.4 3,0.5 3,0.5 3,0.2 3,-.9 3,-.9 3,-.8 3,0.4 3,0.4 3,0.5 3,0.5 3,0.5 3,0.4 3,-.8 3,-.8 3,-.9 3,0.1 3,0.4 3,0.5 3,0.5 3,0.4 3,0.5 3,-.4 3,-.9 3,-.9 3,-.3 3,0.5 3,0.5 3,0.4 3,0.5" stroke="rgb(19,19,19)" stroke-width="1.8"/>
<path d="M428.3,182.6l3,-.2 3,-.9 3,-.8 3,-.6 3,0.5 3,0.4 3,0.5 3,0.5 3,0.5 3,0.2 3,-.9 3,-.9 3,-.9 3,0.4 3,0.5 3,0.5 3,0.5 3,0.4 3,0.5 3,-.8 3,-.9 3,-.8 3,0 3,0.5 3,0.5 3,0.4 3,0.5 3,0.5 3,-.5 3,-.8 3,-.9 3,-.3 3,0.5 3,0.4 3,0.5 3,0.5" stroke="rgb(20,20,20)" stroke-width="1.8"/>
<path d="M428.3,183.9l3,-.2 3,-.9 3,-.9 3,-.6 3,0.5 3,0.5 3,0.5 3,0.4 3,0.5 3,0.2 3,-.8 3,-.9 3,-.9 3,0.4 3,0.5 3,0.4 3,0.5 3,0.5 3,0.5 3,-.8 3,-.9 3,-.9 3,0.1 3,0.4 3,0.5 3,0.5 3,0.5 3,0.4 3,-.4 3,-.9 3,-.8 3,-.4 3,0.5 3,0.5 3,0.5 3,0.4" stroke="rgb(19,19,19)" stroke-width="1.8"/>
<path d="M428.3,185.1l3,-.1 3,-.9 3,-.9 3,-.6 3,0.5 3,0.5 3,0.4 3,0.5 3,0.5 3,0.2 3,-.9 3,-.9 3,-.9 3,0.5 3,0.4 3,0.5 3,0.5 3,0.5 3,0.5 3,-.8 3,-.9 3,-.9 3,0 3,0.5 3,0.5 3,0.5 3,0.4 3,0.5 3,-.4 3,-.9 3,-.9 3,-.3 3,0.5 3,0.5 3,0.4 3,0.5" stroke="rgb(17,17,17)" stroke-width="1.8"/>
<path d="M428.3,186.4l3,-.2 3,-.9 3,-.8 3,-.6 3,0.4 3,0.5 3,0.5 3,0.5 3,0.5 3,0.2 3,-.9 3,-.9 3,-.9 3,0.4 3,0.5 3,0.5 3,0.5 3,0.4 3,0.5 3,-.8 3,-.9 3,-.9 3,0.1 3,0.5 3,0.4 3,0.5 3,0.5 3,0.5 3,-.4 3,-.9 3,-.9 3,-.3 3,0.4 3,0.5 3,0.5 3,0.5" stroke="rgb(18,18,18)" stroke-width="1.8"/>
<path d="M428.3,187.7l3,-.2 3,-.9 3,-.9 3,-.6 3,0.5 3,0.5 3,0.5 3,0.5 3,0.4 3,0.3 3,-.9 3,-.9 3,-1 3,0.5 3,0.5 3,0.4 3,0.5 3,0.5 3,0.5 3,-.8 3,-.9 3,-.9 3,0 3,0.5 3,0.5 3,0.5 3,0.5 3,0.5 3,-.5 3,-.9 3,-.9 3,-.3 3,0.5 3,0.5 3,0.5 3,0.5" stroke="rgb(17,17,17)" stroke-width="1.8"/>
<path d="M428.3,189.0l3,-.2 3,-.9 3,-.9 3,-.6 3,0.5 3,0.4 3,0.5 3,0.5 3,0.5 3,0.2 3,-.9 3,-.9 3,-.9 3,0.4 3,0.5 3,0.5 3,0.5 3,0.5 3,0.5 3,-.8 3,-.9 3,-1 3,0.1 3,0.5 3,0.5 3,0.5 3,0.5 3,0.5 3,-.5 3,-.9 3,-.9 3,-.3 3,0.5 3,0.4 3,0.5 3,0.5" stroke="rgb(16,16,16)" stroke-width="1.8"/>
<path d="M428.3,190.2l3,-.1 3,-1 3,-.9 3,-.6 3,0.5 3,0.5 3,0.5 3,0.5 3,0.5 3,0.2 3,-.9 3,-.9 3,-.9 3,0.4 3,0.5 3,0.5 3,0.5 3,0.5 3,0.5 3,-.9 3,-.9 3,-.9 3,0.1 3,0.4 3,0.5 3,0.5 3,0.5 3,0.5 3,-.4 3,-.9 3,-1 3,-.3 3,0.5 3,0.5 3,0.5 3,0.5" stroke="rgb(16,16,16)" stroke-width="1.8"/>
<path d="M428.3,191.5l3,-.2 3,-.9 3,-.9 3,-.6 3,0.5 3,0.5 3,0.5 3,0.5 3,0.5 3,0.2 3,-.9 3,-1 3,-.9 3,0.4 3,0.5 3,0.5 3,0.5 3,0.5 3,0.5 3,-.8 3,-.9 3,-.9 3,0 3,0.5 3,0.5 3,0.5 3,0.5 3,0.5 3,-.4 3,-1 3,-.9 3,-.3 3,0.5 3,0.5 3,0.5 3,0.5" stroke="rgb(16,16,16)" stroke-width="1.8"/>
<path d="M428.3,192.8l3,-.2 3,-.9 3,-1 3,-.6 3,0.5 3,0.5 3,0.5 3,0.5 3,0.5 3,0.3 3,-1 3,-.9 3,-.9 3,0.4 3,0.5 3,0.5 3,0.5 3,0.5 3,0.5 3,-.8 3,-1 3,-.9 3,0.1 3,0.5 3,0.5 3,0.5 3,0.5 3,0.5 3,-.5 3,-.9 3,-.9 3,-.4 3,0.5 3,0.5 3,0.5 3,0.5" stroke="rgb(15,15,15)" stroke-width="1.8"/>
<path d="M428.3,194.1l3,-.2 3,-1 3,-.9 3,-.6 3,0.5 3,0.5 3,0.5 3,0.5 3,0.5 3,0.2 3,-.9 3,-.9 3,-1 3,0.5 3,0.5 3,0.5 3,0.5 3,0.5 3,0.5 3,-.8 3,-1 3,-.9 3,0 3,0.5 3,0.5 3,0.5 3,0.5 3,0.6 3,-.5 3,-.9 3,-1 3,-.3 3,0.5 3,0.5 3,0.5 3,0.5" stroke="rgb(14,14,14)" stroke-width="1.8"/>
<path d="M428.3,195.3l3,-.1 3,-1 3,-.9 3,-.7 3,0.6 3,0.5 3,0.5 3,0.5 3,0.5 3,0.2 3,-.9 3,-1 3,-.9 3,0.4 3,0.5 3,0.5 3,0.5 3,0.6 3,0.5 3,-.9 3,-.9 3,-1 3,0.1 3,0.5 3,0.5 3,0.5 3,0.5 3,0.5 3,-.4 3,-1 3,-.9 3,-.4 3,0.6 3,0.5 3,0.5 3,0.5" stroke="rgb(29,29,29)" stroke-width="1.8"/>
<path d="M428.3,196.6l3,-.2 3,-.9 3,-1 3,-.6 3,0.5 3,0.5 3,0.5 3,0.6 3,0.5 3,0.2 3,-1 3,-.9 3,-1 3,0.5 3,0.5 3,0.5 3,0.5 3,0.5 3,0.5 3,-.8 3,-1 3,-.9 3,0 3,0.6 3,0.5 3,0.5 3,0.5 3,0.5 3,-.5 3,-.9 3,-1 3,-.3 3,0.5 3,0.5 3,0.5 3,0.6" stroke="rgb(47,47,47)" stroke-width="1.8"/>
<path d="M428.3,197.9l3,-.2 3,-1 3,-.9 3,-.6 3,0.5 3,0.5 3,0.5 3,0.5 3,0.5 3,0.3 3,-1 3,-1 3,-.9 3,0.4 3,0.5 3,0.6 3,0.5 3,0.5 3,0.5 3,-.8 3,-1 3,-1 3,0.1 3,0.5 3,0.5 3,0.5 3,0.6 3,0.5 3,-.5 3,-.9 3,-1 3,-.3 3,0.5 3,0.5 3,0.5 3,0.5" stroke="rgb(47,47,47)" stroke-width="1.8"/>
<path d="M428.3,199.2l3,-.2 3,-1 3,-1 3,-.6 3,0.5 3,0.5 3,0.6 3,0.5 3,0.5 3,0.2 3,-.9 3,-1 3,-1 3,0.5 3,0.5 3,0.5 3,0.6 3,0.5 3,0.5 3,-.9 3,-.9 3,-1 3,0 3,0.6 3,0.5 3,0.5 3,0.5 3,0.6 3,-.5 3,-1 3,-.9 3,-.4 3,0.5 3,0.6 3,0.5 3,0.5" stroke="rgb(44,44,44)" stroke-width="1.8"/>
<path d="M428.3,200.4l3,-.1 3,-1 3,-1 3,-.6 3,0.5 3,0.5 3,0.5 3,0.6 3,0.5 3,0.2 3,-1 3,-.9 3,-1 3,0.4 3,0.6 3,0.5 3,0.5 3,0.5 3,0.6 3,-.9 3,-1 3,-.9 3,0 3,0.5 3,0.6 3,0.5 3,0.5 3,0.5 3,-.4 3,-1 3,-1 3,-.3 3,0.5 3,0.5 3,0.5 3,0.6" stroke="rgb(53,53,53)" stroke-width="1.8"/>
<path d="M428.3,201.7l3,-.2 3,-1 3,-.9 3,-.7 3,0.5 3,0.6 3,0.5 3,0.5 3,0.6 3,0.2 3,-1 3,-1 3,-1 3,0.5 3,0.5 3,0.6 3,0.5 3,0.5 3,0.6 3,-.9 3,-1 3,-1 3,0.1 3,0.5 3,0.5 3,0.6 3,0.5 3,0.5 3,-.5 3,-.9 3,-1 3,-.4 3,0.6 3,0.5 3,0.5 3,0.5" stroke="rgb(78,78,78)" stroke-width="1.8"/>
<path d="M428.3,203.0l3,-.2 3,-1 3,-1 3,-.6 3,0.5 3,0.5 3,0.6 3,0.5 3,0.5 3,0.3 3,-1 3,-1 3,-1 3,0.5 3,0.5 3,0.5 3,0.6 3,0.5 3,0.5 3,-.9 3,-.9 3,-1 3,0 3,0.6 3,0.5 3,0.5 3,0.5 3,0.6 3,-.5 3,-1 3,-1 3,-.3 3,0.5 3,0.5 3,0.6 3,0.5" stroke="rgb(126,126,126)" stroke-width="1.8"/>
<path d="M428.3,204.2l3,-.2 3,-.9 3,-1 3,-.6 3,0.5 3,0.5 3,0.5 3,0.6 3,0.5 3,0.2 3,-1 3,-.9 3,-1 3,0.5 3,0.5 3,0.5 3,0.5 3,0.5 3,0.6 3,-.9 3,-1 3,-.9 3,0 3,0.5 3,0.6 3,0.5 3,0.5 3,0.5 3,-.5 3,-.9 3,-1 3,-.3 3,0.5 3,0.5 3,0.5 3,0.6" stroke="rgb(213,213,213)" stroke-width="1.8"/>
<path d="M428.3,205.5l3,-.2 3,-1 3,-.9 3,-.6 3,0.5 3,0.5 3,0.5 3,0.5 3,0.5 3,0.2 3,-.9 3,-1 3,-.9 3,0.4 3,0.5 3,0.6 3,0.5 3,0.5 3,0.5 3,-.9 3,-.9 3,-1 3,0.1 3,0.5 3,0.5 3,0.5 3,0.5 3,0.6 3,-.5 3,-.9 3,-1 3,-.3 3,0.5 3,0.5 3,0.5 3,0.5" stroke="rgb(225,225,225)" stroke-width="1.8"/>
<path d="M428.3,206.7l3,-.2 3,-.9 3,-.9 3,-.6 3,0.5 3,0.5 3,0.5 3,0.5 3,0.5 3,0.2 3,-.9 3,-1 3,-.9 3,0.4 3,0.5 3,0.5 3,0.5 3,0.5 3,0.5 3,-.8 3,-.9 3,-1 3,0.1 3,0.5 3,0.5 3,0.5 3,0.5 3,0.5 3,-.4 3,-1 3,-.9 3,-.3 3,0.5 3,0.5 3,0.5 3,0.5" stroke="rgb(235,235,235)" stroke-width="1.8"/>
<path d="M428.3,207.9l3,-.1 3,-.9 3,-1 3,-.6 3,0.5 3,0.5 3,0.5 3,0.5 3,0.5 3,0.2 3,-.9 3,-.9 3,-.9 3,0.4 3,0.5 3,0.5 3,0.5 3,0.5 3,0.5 3,-.8 3,-1 3,-.9 3,0.1 3,0.5 3,0.5 3,0.5 3,0.5 3,0.4 3,-.4 3,-.9 3,-.9 3,-.4 3,0.5 3,0.5 3,0.5 3,0.5" stroke="rgb(233,233,233)" stroke-width="1.8"/>
<path d="M428.3,209.2l3,-.2 3,-.9 3,-.9 3,-.6 3,0.5 3,0.5 3,0.5 3,0.5 3,0.5 3,0.2 3,-.9 3,-.9 3,-.9 3,0.4 3,0.5 3,0.5 3,0.4 3,0.5 3,0.5 3,-.8 3,-.9 3,-.9 3,0.1 3,0.4 3,0.5 3,0.5 3,0.5 3,0.5 3,-.4 3,-1 3,-.9 3,-.3 3,0.5 3,0.5 3,0.5 3,0.5" stroke="rgb(206,206,206)" stroke-width="1.8"/>
<path d="M428.3,210.4l3,-.1 3,-.9 3,-.9 3,-.6 3,0.5 3,0.5 3,0.5 3,0.4 3,0.5 3,0.2 3,-.9 3,-.9 3,-.9 3,0.5 3,0.4 3,0.5 3,0.5 3,0.5 3,0.5 3,-.8 3,-.9 3,-.9 3,0 3,0.5 3,0.5 3,0.5 3,0.5 3,0.4 3,-.4 3,-.9 3,-.9 3,-.3 3,0.5 3,0.5 3,0.4 3,0.5" stroke="rgb(193,193,193)" stroke-width="1.8"/>
<path d="M428.3,211.7l3,-.2 3,-.8 3,-.9 3,-.6 3,0.5 3,0.4 3,0.5 3,0.5 3,0.5 3,0.2 3,-.9 3,-.9 3,-.9 3,0.4 3,0.5 3,0.5 3,0.5 3,0.4 3,0.5 3,-.8 3,-.9 3,-.8 3,0 3,0.5 3,0.5 3,0.4 3,0.5 3,0.5 3,-.4 3,-.9 3,-.9 3,-.3 3,0.5 3,0.4 3,0.5 3,0.5" stroke="rgb(175,175,175)" stroke-width="1.8"/>
<path d="M428.3,212.9l3,-.1 3,-.9 3,-.8 3,-.6 3,0.5 3,0.4 3,0.5 3,0.4 3,0.5 3,0.2 3,-.8 3,-.9 3,-.9 3,0.4 3,0.5 3,0.5 3,0.4 3,0.5 3,0.5 3,-.8 3,-.9 3,-.8 3,0 3,0.5 3,0.4 3,0.5 3,0.5 3,0.4 3,-.4 3,-.9 3,-.8 3,-.3 3,0.4 3,0.5 3,0.5 3,0.4" stroke="rgb(174,174,174)" stroke-width="1.8"/>
<path d="M428.3,214.2l3,-.2 3,-.8 3,-.9 3,-.5 3,0.4 3,0.5 3,0.4 3,0.5 3,0.5 3,0.2 3,-.9 3,-.8 3,-.9 3,0.4 3,0.5 3,0.4 3,0.5 3,0.4 3,0.5 3,-.8 3,-.8 3,-.9 3,0.1 3,0.4 3,0.5 3,0.5 3,0.4 3,0.5 3,-.4 3,-.9 3,-.8 3,-.3 3,0.4 3,0.5 3,0.4 3,0.5" stroke="rgb(164,164,164)" stroke-width="1.8"/>
<path d="M428.3,215.4l3,-.1 3,-.9 3,-.8 3,-.5 3,0.4 3,0.5 3,0.4 3,0.5 3,0.4 3,0.2 3,-.8 3,-.9 3,-.8 3,0.4 3,0.4 3,0.5 3,0.4 3,0.5 3,0.4 3,-.7 3,-.8 3,-.9 3,0.1 3,0.4 3,0.5 3,0.4 3,0.5 3,0.4 3,-.4 3,-.8 3,-.9 3,-.2 3,0.4 3,0.5 3,0.4 3,0.4" stroke="rgb(168,168,168)" stroke-width="1.8"/>
<path d="M428.3,216.7l3,-.2 3,-.8 3,-.8 3,-.5 3,0.4 3,0.4 3,0.5 3,0.4 3,0.5 3,0.1 3,-.8 3,-.8 3,-.8 3,0.4 3,0.4 3,0.5 3,0.4 3,0.4 3,0.5 3,-.8 3,-.8 3,-.8 3,0.1 3,0.4 3,0.4 3,0.5 3,0.4 3,0.5 3,-.4 3,-.9 3,-.8 3,-.3 3,0.5 3,0.4 3,0.5 3,0.4" stroke="rgb(155,155,155)" stroke-width="1.8"/>
<path d="M428.3,217.9l3,-.1 3,-.8 3,-.8 3,-.6 3,0.5 3,0.4 3,0.4 3,0.5 3,0.4 3,0.2 3,-.8 3,-.8 3,-.8 3,0.4 3,0.4 3,0.4 3,0.5 3,0.4 3,0.4 3,-.7 3,-.8 3,-.8 3,0 3,0.5 3,0.4 3,0.4 3,0.5 3,0.4 3,-.4 3,-.8 3,-.8 3,-.3 3,0.5 3,0.4 3,0.4 3,0.5" stroke="rgb(138,138,138)" stroke-width="1.8"/>
<path d="M428.3,219.2l3,-.2 3,-.8 3,-.8 3,-.5 3,0.5 3,0.4 3,0.4 3,0.4 3,0.5 3,0.1 3,-.8 3,-.7 3,-.8 3,0.3 3,0.5 3,0.4 3,0.4 3,0.4 3,0.5 3,-.7 3,-.8 3,-.8 3,0 3,0.4 3,0.5 3,0.4 3,0.4 3,0.5 3,-.4 3,-.8 3,-.8 3,-.3 3,0.4 3,0.5 3,0.4 3,0.4" stroke="rgb(135,135,135)" stroke-width="1.8"/>
<path d="M428.3,220.4l3,-.1 3,-.8 3,-.8 3,-.5 3,0.4 3,0.4 3,0.5 3,0.4 3,0.4 3,0.2 3,-.8 3,-.8 3,-.7 3,0.3 3,0.4 3,0.5 3,0.4 3,0.4 3,0.4 3,-.7 3,-.8 3,-.7 3,0 3,0.4 3,0.4 3,0.5 3,0.4 3,0.4 3,-.4 3,-.8 3,-.7 3,-.3 3,0.4 3,0.4 3,0.4 3,0.5" stroke="rgb(125,125,125)" stroke-width="1.8"/>
<path d="M428.3,221.7l3,-.2 3,-.7 3,-.8 3,-.5 3,0.4 3,0.4 3,0.4 3,0.4 3,0.4 3,0.2 3,-.7 3,-.8 3,-.8 3,0.4 3,0.4 3,0.4 3,0.4 3,0.4 3,0.4 3,-.6 3,-.8 3,-.8 3,0.1 3,0.4 3,0.4 3,0.4 3,0.4 3,0.4 3,-.3 3,-.8 3,-.7 3,-.3 3,0.4 3,0.4 3,0.4 3,0.4" stroke="rgb(129,129,129)" stroke-width="1.8"/>
<path d="M428.3,222.9l3,-.1 3,-.8 3,-.7 3,-.5 3,0.4 3,0.4 3,0.4 3,0.4 3,0.4 3,0.2 3,-.8 3,-.7 3,-.8 3,0.4 3,0.4 3,0.4 3,0.4 3,0.4 3,0.4 3,-.7 3,-.7 3,-.8 3,0.1 3,0.4 3,0.4 3,0.4 3,0.4 3,0.4 3,-.4 3,-.7 3,-.8 3,-.2 3,0.4 3,0.4 3,0.4 3,0.4" stroke="rgb(107,107,107)" stroke-width="1.8"/>
<path d="M428.3,224.2l3,-.2 3,-.7 3,-.7 3,-.5 3,0.4 3,0.4 3,0.4 3,0.4 3,0.3 3,0.2 3,-.7 3,-.7 3,-.8 3,0.4 3,0.4 3,0.4 3,0.3 3,0.4 3,0.4 3,-.6 3,-.8 3,-.7 3,0.1 3,0.4 3,0.3 3,0.4 3,0.4 3,0.4 3,-.3 3,-.8 3,-.7 3,-.2 3,0.3 3,0.4 3,0.4 3,0.4" stroke="rgb(119,119,119)" stroke-width="1.8"/>
<path d="M428.3,225.4l3,-.1 3,-.7 3,-.8 3,-.4 3,0.3 3,0.4 3,0.4 3,0.4 3,0.4 3,0.2 3,-.8 3,-.7 3,-.7 3,0.3 3,0.4 3,0.4 3,0.4 3,0.4 3,0.4 3,-.7 3,-.7 3,-.7 3,0 3,0.4 3,0.4 3,0.4 3,0.4 3,0.4 3,-.4 3,-.7 3,-.7 3,-.3 3,0.4 3,0.4 3,0.4 3,0.4" stroke="rgb(111,111,111)" stroke-width="1.8"/>
<path d="M428.3,226.6l3,-.1 3,-.7 3,-.7 3,-.5 3,0.4 3,0.4 3,0.4 3,0.4 3,0.3 3,0.2 3,-.7 3,-.7 3,-.7 3,0.3 3,0.4 3,0.4 3,0.4 3,0.3 3,0.4 3,-.6 3,-.7 3,-.7 3,0 3,0.4 3,0.4 3,0.4 3,0.3 3,0.4 3,-.3 3,-.7 3,-.7 3,-.3 3,0.4 3,0.4 3,0.4 3,0.3" stroke="rgb(107,107,107)" stroke-width="1.8"/>
<path d="M428.3,227.9l3,-.1 3,-.7 3,-.7 3,-.5 3,0.4 3,0.4 3,0.3 3,0.4 3,0.4 3,0.2 3,-.7 3,-.7 3,-.7 3,0.3 3,0.4 3,0.4 3,0.3 3,0.4 3,0.4 3,-.7 3,-.6 3,-.7 3,0 3,0.4 3,0.4 3,0.3 3,0.4 3,0.4 3,-.4 3,-.7 3,-.6 3,-.3 3,0.4 3,0.4 3,0.3 3,0.4" stroke="rgb(103,103,103)" stroke-width="1.8"/>
<path d="M428.3,229.1l3,-.1 3,-.7 3,-.6 3,-.5 3,0.4 3,0.3 3,0.4 3,0.4 3,0.3 3,0.2 3,-.7 3,-.7 3,-.6 3,0.3 3,0.4 3,0.3 3,0.4 3,0.3 3,0.4 3,-.6 3,-.7 3,-.6 3,0 3,0.4 3,0.3 3,0.4 3,0.3 3,0.4 3,-.3 3,-.7 3,-.7 3,-.2 3,0.4 3,0.3 3,0.4 3,0.3" stroke="rgb(96,96,96)" stroke-width="1.8"/>
<path d="M428.3,230.4l3,-.1 3,-.7 3,-.7 3,-.4 3,0.4 3,0.3 3,0.4 3,0.3 3,0.4 3,0.1 3,-.6 3,-.7 3,-.6 3,0.3 3,0.3 3,0.4 3,0.3 3,0.4 3,0.3 3,-.5 3,-.7 3,-.7 3,0.1 3,0.3 3,0.4 3,0.3 3,0.4 3,0.4 3,-.4 3,-.6 3,-.7 3,-.2 3,0.3 3,0.4 3,0.3 3,0.4" stroke="rgb(102,102,102)" stroke-width="1.8"/>
<path d="M428.3,231.6l3,-.1 3,-.6 3,-.7 3,-.4 3,0.3 3,0.4 3,0.3 3,0.4 3,0.3 3,0.2 3,-.7 3,-.6 3,-.6 3,0.3 3,0.3 3,0.3 3,0.4 3,0.3 3,0.4 3,-.6 3,-.6 3,-.7 3,0.1 3,0.3 3,0.4 3,0.3 3,0.4 3,0.3 3,-.3 3,-.7 3,-.6 3,-.2 3,0.3 3,0.4 3,0.3 3,0.4" stroke="rgb(109,109,109)" stroke-width="1.8"/>
<path d="M428.3,232.9l3,-.1 3,-.7 3,-.6 3,-.4 3,0.3 3,0.4 3,0.3 3,0.3 3,0.4 3,0.1 3,-.6 3,-.6 3,-.7 3,0.3 3,0.4 3,0.3 3,0.4 3,0.3 3,0.3 3,-.5 3,-.7 3,-.6 3,0 3,0.4 3,0.3 3,0.4 3,0.3 3,0.3 3,-.3 3,-.6 3,-.6 3,-.2 3,0.3 3,0.3 3,0.4 3,0.3" stroke="rgb(97,97,97)" stroke-width="1.8"/>
<path d="M428.3,234.1l3,-.1 3,-.6 3,-.6 3,-.4 3,0.3 3,0.3 3,0.4 3,0.3 3,0.3 3,0.2 3,-.6 3,-.7 3,-.6 3,0.3 3,0.3 3,0.4 3,0.3 3,0.3 3,0.4 3,-.6 3,-.6 3,-.6 3,0 3,0.4 3,0.3 3,0.3 3,0.4 3,0.3 3,-.3 3,-.6 3,-.6 3,-.3 3,0.4 3,0.3 3,0.3 3,0.4" stroke="rgb(92,92,92)" stroke-width="1.8"/>
<path d="M428.3,235.4l3,-.1 3,-.6 3,-.7 3,-.4 3,0.4 3,0.3 3,0.3 3,0.4 3,0.3 3,0.1 3,-.6 3,-.6 3,-.6 3,0.3 3,0.3 3,0.3 3,0.4 3,0.3 3,0.3 3,-.5 3,-.6 3,-.6 3,0 3,0.3 3,0.4 3,0.3 3,0.3 3,0.4 3,-.3 3,-.7 3,-.6 3,-.2 3,0.3 3,0.4 3,0.3 3,0.3" stroke="rgb(100,100,100)" stroke-width="1.8"/>
<path d="M428.3,236.7l3,-.2 3,-.6 3,-.6 3,-.4 3,0.3 3,0.4 3,0.3 3,0.3 3,0.4 3,0.1 3,-.6 3,-.6 3,-.6 3,0.2 3,0.4 3,0.3 3,0.3 3,0.4 3,0.3 3,-.5 3,-.7 3,-.6 3,0.1 3,0.3 3,0.3 3,0.4 3,0.3 3,0.3 3,-.3 3,-.6 3,-.6 3,-.2 3,0.3 3,0.3 3,0.4 3,0.3" stroke="rgb(90,90,90)" stroke-width="1.8"/>
<path d="M428.3,237.9l3,-.1 3,-.6 3,-.6 3,-.4 3,0.3 3,0.3 3,0.4 3,0.3 3,0.3 3,0.2 3,-.6 3,-.7 3,-.6 3,0.3 3,0.3 3,0.4 3,0.3 3,0.3 3,0.4 3,-.6 3,-.6 3,-.6 3,0 3,0.4 3,0.3 3,0.3 3,0.4 3,0.3 3,-.3 3,-.6 3,-.6 3,-.3 3,0.4 3,0.3 3,0.3 3,0.4" stroke="rgb(93,93,93)" stroke-width="1.8"/>
</g></g>
<g clip-path="url(#ecb4)"><g filter="url(#spk1)" fill="none">
<rect x="535.2" y="151.3" width="104" height="83" fill="url(#egb4)"/>
<path d="M533.2,148.5l3,-.8 3,0.8 3,0.8 3,-.8 3,-.7 3,0.8 3,0.6 3,-.8 3,-.6 3,0.8 3,0.6 3,-.8 3,-.5 3,0.8 3,0.4 3,-.8 3,-.4 3,0.8 3,0.4 3,-.9 3,-.2 3,0.8 3,0.2 3,-.8 3,-.2 3,0.8 3,0.2 3,-.9 3,0 3,0.8 3,0 3,-.8 3,0 3,0.9 3,-.2 3,-.8" stroke="rgb(93,93,93)" stroke-width="1.8"/>
<path d="M533.2,149.8l3,-.8 3,0.8 3,0.7 3,-.8 3,-.7 3,0.8 3,0.7 3,-.8 3,-.6 3,0.8 3,0.5 3,-.8 3,-.5 3,0.8 3,0.5 3,-.8 3,-.4 3,0.8 3,0.3 3,-.8 3,-.3 3,0.9 3,0.2 3,-.8 3,-.2 3,0.8 3,0.1 3,-.8 3,-.1 3,0.9 3,0 3,-.9 3,0.1 3,0.8 3,-.1 3,-.8" stroke="rgb(91,91,91)" stroke-width="1.8"/>
<path d="M533.2,151.0l3,-.8 3,0.8 3,0.8 3,-.8 3,-.7 3,0.8 3,0.7 3,-.9 3,-.6 3,0.9 3,0.5 3,-.8 3,-.5 3,0.8 3,0.4 3,-.8 3,-.3 3,0.8 3,0.3 3,-.8 3,-.3 3,0.8 3,0.2 3,-.8 3,-.1 3,0.8 3,0.1 3,-.8 3,-.1 3,0.8 3,0 3,-.8 3,0.1 3,0.8 3,-.1 3,-.8" stroke="rgb(93,93,93)" stroke-width="1.8"/>
<path d="M533.2,152.3l3,-.8 3,0.8 3,0.8 3,-.8 3,-.7 3,0.8 3,0.6 3,-.8 3,-.6 3,0.8 3,0.6 3,-.8 3,-.5 3,0.8 3,0.4 3,-.8 3,-.4 3,0.8 3,0.4 3,-.9 3,-.2 3,0.8 3,0.2 3,-.8 3,-.2 3,0.8 3,0.1 3,-.8 3,0 3,0.8 3,0 3,-.8 3,0 3,0.8 3,-.1 3,-.8" stroke="rgb(86,86,86)" stroke-width="1.8"/>
<path d="M533.2,153.6l3,-.9 3,0.9 3,0.8 3,-.9 3,-.8 3,0.9 3,0.8 3,-.9 3,-.7 3,0.9 3,0.6 3,-.9 3,-.5 3,0.9 3,0.4 3,-.9 3,-.4 3,0.9 3,0.4 3,-.9 3,-.3 3,0.9 3,0.2 3,-.9 3,-.2 3,0.9 3,0.2 3,-.9 3,-.1 3,0.9 3,0 3,-.9 3,0.1 3,0.9 3,-.2 3,-.9" stroke="rgb(102,102,102)" stroke-width="1.8"/>
<path d="M533.2,154.8l3,-.9 3,0.9 3,1 3,-1 3,-.9 3,1 3,0.8 3,-1 3,-.7 3,1 3,0.6 3,-.9 3,-.6 3,0.9 3,0.6 3,-1 3,-.5 3,1 3,0.4 3,-1 3,-.3 3,1 3,0.2 3,-.9 3,-.2 3,0.9 3,0.2 3,-1 3,-.1 3,1 3,0 3,-1 3,0.1 3,1 3,-.2 3,-.9" stroke="rgb(103,103,103)" stroke-width="1.8"/>
<path d="M533.2,156.1l3,-1.1 3,1.1 3,1 3,-1.1 3,-.9 3,1.1 3,0.8 3,-1 3,-.8 3,1.1 3,0.7 3,-1.1 3,-.6 3,1 3,0.6 3,-1.1 3,-.5 3,1.1 3,0.4 3,-1 3,-.4 3,1.1 3,0.3 3,-1.1 3,-.2 3,1 3,0.2 3,-1.1 3,-.1 3,1.1 3,0 3,-1.1 3,0.1 3,1.1 3,-.2 3,-1" stroke="rgb(100,100,100)" stroke-width="1.8"/>
<path d="M533.2,157.4l3,-1.2 3,1.2 3,1.1 3,-1.2 3,-1 3,1.2 3,0.9 3,-1.2 3,-.8 3,1.1 3,0.8 3,-1.1 3,-.7 3,1.1 3,0.6 3,-1.1 3,-.6 3,1.2 3,0.5 3,-1.2 3,-.4 3,1.2 3,0.3 3,-1.2 3,-.2 3,1.1 3,0.2 3,-1.2 3,0 3,1.1 3,0 3,-1.1 3,0 3,1.2 3,-.2 3,-1.1" stroke="rgb(105,105,105)" stroke-width="1.8"/>
<path d="M533.2,158.6l3,-1.2 3,1.2 3,1.2 3,-1.2 3,-1.1 3,1.2 3,1 3,-1.2 3,-.9 3,1.2 3,0.8 3,-1.2 3,-.7 3,1.2 3,0.7 3,-1.3 3,-.6 3,1.3 3,0.5 3,-1.3 3,-.4 3,1.3 3,0.3 3,-1.2 3,-.3 3,1.2 3,0.2 3,-1.2 3,-.1 3,1.2 3,0 3,-1.2 3,0.1 3,1.2 3,-.2 3,-1.2" stroke="rgb(103,103,103)" stroke-width="1.8"/>
<path d="M533.2,159.9l3,-1.3 3,1.3 3,1.2 3,-1.3 3,-1.1 3,1.3 3,1.1 3,-1.4 3,-.9 3,1.3 3,0.9 3,-1.3 3,-.8 3,1.3 3,0.7 3,-1.3 3,-.7 3,1.4 3,0.5 3,-1.3 3,-.5 3,1.4 3,0.3 3,-1.3 3,-.3 3,1.3 3,0.2 3,-1.3 3,-.1 3,1.3 3,0 3,-1.3 3,0.1 3,1.3 3,-.2 3,-1.3" stroke="rgb(96,96,96)" stroke-width="1.8"/>
<path d="M533.2,161.2l3,-1.4 3,1.4 3,1.3 3,-1.4 3,-1.2 3,1.4 3,1.1 3,-1.4 3,-1 3,1.4 3,0.9 3,-1.4 3,-.8 3,1.4 3,0.7 3,-1.4 3,-.6 3,1.4 3,0.5 3,-1.4 3,-.5 3,1.5 3,0.3 3,-1.4 3,-.3 3,1.4 3,0.2 3,-1.4 3,-.1 3,1.4 3,0 3,-1.4 3,0.1 3,1.4 3,-.2 3,-1.4" stroke="rgb(95,95,95)" stroke-width="1.8"/>
<path d="M533.2,162.4l3,-1.4 3,1.4 3,1.4 3,-1.4 3,-1.3 3,1.4 3,1.2 3,-1.4 3,-1.1 3,1.4 3,1 3,-1.4 3,-.9 3,1.4 3,0.8 3,-1.4 3,-.7 3,1.4 3,0.6 3,-1.4 3,-.5 3,1.4 3,0.4 3,-1.4 3,-.3 3,1.4 3,0.2 3,-1.4 3,-.1 3,1.4 3,0 3,-1.4 3,0.1 3,1.4 3,-.2 3,-1.4" stroke="rgb(92,92,92)" stroke-width="1.8"/>
<path d="M533.2,163.7l3,-1.6 3,1.6 3,1.5 3,-1.6 3,-1.4 3,1.6 3,1.3 3,-1.6 3,-1.1 3,1.5 3,1.1 3,-1.6 3,-.9 3,1.5 3,0.9 3,-1.6 3,-.7 3,1.5 3,0.7 3,-1.6 3,-.5 3,1.5 3,0.5 3,-1.6 3,-.3 3,1.5 3,0.3 3,-1.6 3,-.1 3,1.6 3,0 3,-1.6 3,0.1 3,1.6 3,-.3 3,-1.5" stroke="rgb(93,93,93)" stroke-width="1.8"/>
<path d="M533.2,165.0l3,-1.7 3,1.7 3,1.5 3,-1.6 3,-1.5 3,1.7 3,1.3 3,-1.6 3,-1.3 3,1.7 3,1.1 3,-1.6 3,-1 3,1.6 3,0.9 3,-1.7 3,-.7 3,1.6 3,0.7 3,-1.7 3,-.5 3,1.6 3,0.5 3,-1.7 3,-.3 3,1.6 3,0.3 3,-1.7 3,-.1 3,1.7 3,0 3,-1.7 3,0.1 3,1.7 3,-.3 3,-1.6" stroke="rgb(108,108,108)" stroke-width="1.8"/>
<path d="M533.2,166.3l3,-1.8 3,1.8 3,1.6 3,-1.8 3,-1.5 3,1.8 3,1.4 3,-1.8 3,-1.3 3,1.8 3,1.1 3,-1.7 3,-1 3,1.7 3,0.9 3,-1.7 3,-.8 3,1.7 3,0.7 3,-1.7 3,-.6 3,1.7 3,0.5 3,-1.7 3,-.4 3,1.7 3,0.3 3,-1.8 3,-.1 3,1.8 3,0 3,-1.8 3,0.1 3,1.8 3,-.3 3,-1.7" stroke="rgb(109,109,109)" stroke-width="1.8"/>
<path d="M533.2,167.5l3,-1.8 3,1.8 3,1.7 3,-1.8 3,-1.6 3,1.8 3,1.5 3,-1.8 3,-1.4 3,1.9 3,1.2 3,-1.8 3,-1.1 3,1.8 3,0.9 3,-1.8 3,-.8 3,1.8 3,0.7 3,-1.8 3,-.6 3,1.8 3,0.5 3,-1.8 3,-.4 3,1.8 3,0.3 3,-1.8 3,-.1 3,1.8 3,0 3,-1.8 3,0.1 3,1.8 3,-.3 3,-1.8" stroke="rgb(68,68,68)" stroke-width="1.8"/>
<path d="M533.2,168.8l3,-1.9 3,1.9 3,1.7 3,-1.8 3,-1.7 3,1.9 3,1.5 3,-1.9 3,-1.4 3,1.9 3,1.3 3,-1.9 3,-1.1 3,1.9 3,1 3,-1.9 3,-.9 3,1.9 3,0.7 3,-1.8 3,-.7 3,1.9 3,0.5 3,-1.9 3,-.3 3,1.8 3,0.3 3,-1.9 3,-.1 3,1.9 3,0 3,-1.9 3,0.1 3,1.9 3,-.3 3,-1.8" stroke="rgb(35,35,35)" stroke-width="1.8"/>
<path d="M533.2,170.1l3,-2 3,2 3,1.8 3,-2 3,-1.7 3,2 3,1.6 3,-2 3,-1.4 3,1.9 3,1.3 3,-1.9 3,-1.2 3,1.9 3,1.1 3,-2 3,-.9 3,2 3,0.8 3,-2 3,-.7 3,2 3,0.5 3,-1.9 3,-.4 3,1.9 3,0.3 3,-2 3,-.1 3,2 3,0 3,-2 3,0.1 3,2 3,-.3 3,-1.9" stroke="rgb(34,34,34)" stroke-width="1.8"/>
<path d="M533.2,171.3l3,-2 3,2 3,1.9 3,-2 3,-1.8 3,2.1 3,1.6 3,-2.1 3,-1.4 3,2 3,1.3 3,-2 3,-1.2 3,2 3,1.1 3,-2 3,-1 3,2.1 3,0.8 3,-2.1 3,-.6 3,2 3,0.5 3,-2 3,-.4 3,2 3,0.3 3,-2 3,-.2 3,2.1 3,0 3,-2.1 3,0.2 3,2 3,-.3 3,-2" stroke="rgb(33,33,33)" stroke-width="1.8"/>
<path d="M533.2,172.6l3,-2.1 3,2.1 3,2 3,-2.2 3,-1.8 3,2.1 3,1.7 3,-2.1 3,-1.5 3,2.1 3,1.4 3,-2.1 3,-1.3 3,2.1 3,1.1 3,-2.1 3,-1 3,2.1 3,0.9 3,-2.1 3,-.7 3,2.1 3,0.6 3,-2.2 3,-.4 3,2.1 3,0.3 3,-2.1 3,-.1 3,2.1 3,0 3,-2.1 3,0.1 3,2.1 3,-.3 3,-2.1" stroke="rgb(32,32,32)" stroke-width="1.8"/>
<path d="M533.2,173.9l3,-2.2 3,2.2 3,2 3,-2.2 3,-1.9 3,2.2 3,1.8 3,-2.2 3,-1.6 3,2.1 3,1.5 3,-2.2 3,-1.3 3,2.2 3,1.2 3,-2.2 3,-1.1 3,2.2 3,0.9 3,-2.2 3,-.7 3,2.2 3,0.6 3,-2.2 3,-.5 3,2.2 3,0.3 3,-2.2 3,-.1 3,2.2 3,0 3,-2.2 3,0.1 3,2.2 3,-.3 3,-2.2" stroke="rgb(34,34,34)" stroke-width="1.8"/>
<path d="M533.2,175.1l3,-2.2 3,2.2 3,2.1 3,-2.2 3,-2 3,2.3 3,1.8 3,-2.3 3,-1.6 3,2.2 3,1.5 3,-2.2 3,-1.4 3,2.3 3,1.2 3,-2.3 3,-1 3,2.2 3,0.9 3,-2.2 3,-.8 3,2.3 3,0.6 3,-2.3 3,-.4 3,2.2 3,0.3 3,-2.2 3,-.2 3,2.3 3,0 3,-2.3 3,0.2 3,2.2 3,-.3 3,-2.2" stroke="rgb(32,32,32)" stroke-width="1.8"/>
<path d="M533.2,176.4l3,-2.4 3,2.4 3,2.2 3,-2.4 3,-2 3,2.3 3,1.9 3,-2.3 3,-1.7 3,2.3 3,1.6 3,-2.4 3,-1.4 3,2.4 3,1.2 3,-2.3 3,-1.1 3,2.3 3,0.9 3,-2.3 3,-.8 3,2.4 3,0.6 3,-2.4 3,-.4 3,2.3 3,0.3 3,-2.3 3,-.2 3,2.4 3,0 3,-2.4 3,0.2 3,2.3 3,-.3 3,-2.3" stroke="rgb(32,32,32)" stroke-width="1.8"/>
<path d="M533.2,177.7l3,-2.5 3,2.5 3,2.2 3,-2.4 3,-2.1 3,2.4 3,2 3,-2.5 3,-1.7 3,2.4 3,1.6 3,-2.4 3,-1.5 3,2.4 3,1.3 3,-2.4 3,-1.1 3,2.4 3,1 3,-2.5 3,-.8 3,2.5 3,0.6 3,-2.4 3,-.5 3,2.4 3,0.3 3,-2.4 3,-.1 3,2.4 3,0 3,-2.4 3,0.1 3,2.4 3,-.3 3,-2.4" stroke="rgb(30,30,30)" stroke-width="1.8"/>
<path d="M533.2,178.9l3,-2.5 3,2.5 3,2.3 3,-2.4 3,-2.2 3,2.5 3,2 3,-2.5 3,-1.8 3,2.5 3,1.6 3,-2.5 3,-1.5 3,2.5 3,1.4 3,-2.5 3,-1.2 3,2.5 3,1 3,-2.5 3,-.8 3,2.5 3,0.6 3,-2.5 3,-.5 3,2.5 3,0.4 3,-2.5 3,-.2 3,2.5 3,0 3,-2.5 3,0.2 3,2.5 3,-.4 3,-2.5" stroke="rgb(30,30,30)" stroke-width="1.8"/>
<path d="M533.2,180.2l3,-2.6 3,2.6 3,2.4 3,-2.6 3,-2.2 3,2.6 3,2 3,-2.6 3,-1.8 3,2.5 3,1.7 3,-2.5 3,-1.6 3,2.6 3,1.4 3,-2.6 3,-1.2 3,2.6 3,1 3,-2.6 3,-.8 3,2.5 3,0.7 3,-2.5 3,-.6 3,2.6 3,0.4 3,-2.6 3,-.2 3,2.6 3,0 3,-2.6 3,0.2 3,2.6 3,-.4 3,-2.6" stroke="rgb(30,30,30)" stroke-width="1.8"/>
<path d="M533.2,181.5l3,-2.7 3,2.7 3,2.4 3,-2.6 3,-2.3 3,2.6 3,2.1 3,-2.6 3,-1.9 3,2.6 3,1.8 3,-2.7 3,-1.6 3,2.7 3,1.4 3,-2.7 3,-1.2 3,2.7 3,1 3,-2.6 3,-.9 3,2.6 3,0.7 3,-2.6 3,-.5 3,2.6 3,0.4 3,-2.7 3,-.2 3,2.7 3,0 3,-2.7 3,0.2 3,2.7 3,-.4 3,-2.6" stroke="rgb(28,28,28)" stroke-width="1.8"/>
<path d="M533.2,182.7l3,-2.7 3,2.7 3,2.6 3,-2.8 3,-2.3 3,2.7 3,2.2 3,-2.7 3,-2 3,2.7 3,1.8 3,-2.7 3,-1.7 3,2.8 3,1.4 3,-2.7 3,-1.3 3,2.7 3,1.1 3,-2.7 3,-.9 3,2.7 3,0.8 3,-2.8 3,-.5 3,2.7 3,0.4 3,-2.8 3,-.1 3,2.7 3,0 3,-2.7 3,0.1 3,2.8 3,-.4 3,-2.7" stroke="rgb(44,44,44)" stroke-width="1.8"/>
<path d="M533.2,184.0l3,-2.8 3,2.8 3,2.6 3,-2.8 3,-2.4 3,2.8 3,2.2 3,-2.8 3,-2 3,2.8 3,1.8 3,-2.8 3,-1.7 3,2.8 3,1.5 3,-2.8 3,-1.3 3,2.8 3,1.2 3,-2.8 3,-1 3,2.8 3,0.8 3,-2.8 3,-.6 3,2.8 3,0.4 3,-2.8 3,-.2 3,2.8 3,0 3,-2.8 3,0.2 3,2.8 3,-.4 3,-2.8" stroke="rgb(90,90,90)" stroke-width="1.8"/>
<path d="M533.2,185.3l3,-2.9 3,2.9 3,2.6 3,-2.8 3,-2.5 3,2.8 3,2.3 3,-2.8 3,-2.1 3,2.8 3,1.9 3,-2.8 3,-1.7 3,2.8 3,1.5 3,-2.8 3,-1.3 3,2.8 3,1.1 3,-2.8 3,-.9 3,2.8 3,0.7 3,-2.8 3,-.5 3,2.8 3,0.4 3,-2.9 3,-.1 3,2.8 3,0 3,-2.8 3,0.1 3,2.9 3,-.4 3,-2.8" stroke="rgb(96,96,96)" stroke-width="1.8"/>
<path d="M533.2,186.5l3,-2.7 3,2.7 3,2.6 3,-2.8 3,-2.3 3,2.7 3,2.2 3,-2.7 3,-2 3,2.7 3,1.8 3,-2.7 3,-1.7 3,2.8 3,1.4 3,-2.7 3,-1.3 3,2.7 3,1.1 3,-2.7 3,-.9 3,2.7 3,0.7 3,-2.7 3,-.5 3,2.7 3,0.4 3,-2.7 3,-.2 3,2.7 3,0 3,-2.7 3,0.2 3,2.7 3,-.4 3,-2.7" stroke="rgb(68,68,68)" stroke-width="1.8"/>
<path d="M533.2,187.8l3,-2.6 3,2.6 3,2.4 3,-2.6 3,-2.3 3,2.7 3,2.1 3,-2.7 3,-1.9 3,2.6 3,1.8 3,-2.6 3,-1.6 3,2.6 3,1.4 3,-2.6 3,-1.2 3,2.6 3,1 3,-2.6 3,-.9 3,2.7 3,0.7 3,-2.7 3,-.5 3,2.6 3,0.4 3,-2.6 3,-.2 3,2.6 3,0 3,-2.6 3,0.2 3,2.6 3,-.4 3,-2.6" stroke="rgb(61,61,61)" stroke-width="1.8"/>
<path d="M533.2,189.0l3,-2.5 3,2.5 3,2.4 3,-2.5 3,-2.2 3,2.5 3,2 3,-2.5 3,-1.8 3,2.5 3,1.7 3,-2.6 3,-1.5 3,2.5 3,1.4 3,-2.5 3,-1.2 3,2.5 3,1 3,-2.5 3,-.8 3,2.5 3,0.7 3,-2.6 3,-.5 3,2.6 3,0.3 3,-2.5 3,-.2 3,2.5 3,0 3,-2.5 3,0.2 3,2.5 3,-.3 3,-2.6" stroke="rgb(87,87,87)" stroke-width="1.8"/>
<path d="M533.2,190.3l3,-2.4 3,2.4 3,2.3 3,-2.5 3,-2.1 3,2.5 3,1.9 3,-2.4 3,-1.8 3,2.4 3,1.7 3,-2.5 3,-1.4 3,2.4 3,1.3 3,-2.4 3,-1.2 3,2.5 3,0.9 3,-2.4 3,-.8 3,2.4 3,0.7 3,-2.5 3,-.4 3,2.4 3,0.3 3,-2.4 3,-.2 3,2.4 3,0 3,-2.4 3,0.2 3,2.4 3,-.3 3,-2.4" stroke="rgb(86,86,86)" stroke-width="1.8"/>
<path d="M533.2,191.6l3,-2.4 3,2.4 3,2.2 3,-2.4 3,-2 3,2.3 3,1.9 3,-2.3 3,-1.7 3,2.3 3,1.5 3,-2.3 3,-1.4 3,2.3 3,1.3 3,-2.3 3,-1.1 3,2.3 3,0.9 3,-2.3 3,-.8 3,2.4 3,0.6 3,-2.4 3,-.4 3,2.3 3,0.3 3,-2.3 3,-.2 3,2.4 3,0 3,-2.4 3,0.2 3,2.3 3,-.3 3,-2.3" stroke="rgb(63,63,63)" stroke-width="1.8"/>
<path d="M533.2,192.8l3,-2.2 3,2.2 3,2.1 3,-2.2 3,-2 3,2.3 3,1.8 3,-2.3 3,-1.6 3,2.2 3,1.5 3,-2.2 3,-1.4 3,2.3 3,1.2 3,-2.3 3,-1 3,2.2 3,0.9 3,-2.2 3,-.8 3,2.3 3,0.6 3,-2.3 3,-.4 3,2.2 3,0.3 3,-2.2 3,-.2 3,2.3 3,0 3,-2.3 3,0.2 3,2.2 3,-.3 3,-2.2" stroke="rgb(59,59,59)" stroke-width="1.8"/>
<path d="M533.2,194.1l3,-2 3,2 3,1.9 3,-2 3,-1.8 3,2 3,1.6 3,-2 3,-1.4 3,2 3,1.3 3,-2 3,-1.2 3,2 3,1.1 3,-2 3,-1 3,2 3,0.8 3,-2 3,-.6 3,2 3,0.5 3,-2 3,-.4 3,2 3,0.3 3,-2 3,-.2 3,2 3,0 3,-2 3,0.2 3,2 3,-.3 3,-2" stroke="rgb(116,116,116)" stroke-width="1.8"/>
<path d="M533.2,195.4l3,-1.8 3,1.8 3,1.6 3,-1.8 3,-1.5 3,1.8 3,1.4 3,-1.8 3,-1.3 3,1.8 3,1.2 3,-1.8 3,-1 3,1.7 3,1 3,-1.8 3,-.8 3,1.7 3,0.7 3,-1.7 3,-.6 3,1.7 3,0.5 3,-1.7 3,-.4 3,1.8 3,0.2 3,-1.8 3,-.1 3,1.8 3,0 3,-1.8 3,0.1 3,1.8 3,-.2 3,-1.8" stroke="rgb(228,228,228)" stroke-width="1.8"/>
<path d="M533.2,196.6l3,-1.5 3,1.5 3,1.4 3,-1.5 3,-1.3 3,1.5 3,1.2 3,-1.5 3,-1.1 3,1.5 3,1 3,-1.5 3,-.9 3,1.5 3,0.8 3,-1.5 3,-.7 3,1.5 3,0.6 3,-1.5 3,-.5 3,1.5 3,0.4 3,-1.5 3,-.3 3,1.5 3,0.2 3,-1.5 3,-.1 3,1.5 3,0 3,-1.5 3,0.1 3,1.5 3,-.2 3,-1.5" stroke="rgb(218,218,218)" stroke-width="1.8"/>
<path d="M533.2,197.9l3,-1.3 3,1.3 3,1.2 3,-1.3 3,-1.1 3,1.3 3,1 3,-1.3 3,-1 3,1.4 3,0.8 3,-1.3 3,-.8 3,1.3 3,0.8 3,-1.4 3,-.6 3,1.3 3,0.6 3,-1.4 3,-.4 3,1.3 3,0.4 3,-1.3 3,-.3 3,1.3 3,0.2 3,-1.3 3,-.1 3,1.3 3,0 3,-1.3 3,0.1 3,1.3 3,-.2 3,-1.3" stroke="rgb(196,196,196)" stroke-width="1.8"/>
<path d="M533.2,199.1l3,-1.2 3,1.2 3,1.3 3,-1.3 3,-1.2 3,1.3 3,1.1 3,-1.3 3,-1 3,1.3 3,0.9 3,-1.3 3,-.8 3,1.3 3,0.7 3,-1.3 3,-.6 3,1.3 3,0.5 3,-1.3 3,-.4 3,1.3 3,0.3 3,-1.3 3,-.2 3,1.3 3,0.1 3,-1.3 3,0 3,1.3 3,0 3,-1.3 3,0 3,1.3 3,-.1 3,-1.3" stroke="rgb(178,178,178)" stroke-width="1.8"/>
<path d="M533.2,200.4l3,-1.3 3,1.3 3,1.2 3,-1.3 3,-1.1 3,1.3 3,1 3,-1.3 3,-.9 3,1.3 3,0.8 3,-1.2 3,-.8 3,1.3 3,0.6 3,-1.2 3,-.6 3,1.3 3,0.5 3,-1.3 3,-.4 3,1.2 3,0.4 3,-1.3 3,-.2 3,1.2 3,0.2 3,-1.3 3,-.1 3,1.3 3,0 3,-1.3 3,0.1 3,1.3 3,-.2 3,-1.2" stroke="rgb(173,173,173)" stroke-width="1.8"/>
<path d="M533.2,201.7l3,-1.3 3,1.3 3,1.1 3,-1.2 3,-1.1 3,1.3 3,1 3,-1.3 3,-.9 3,1.2 3,0.9 3,-1.3 3,-.7 3,1.2 3,0.7 3,-1.3 3,-.5 3,1.2 3,0.5 3,-1.2 3,-.4 3,1.2 3,0.3 3,-1.2 3,-.3 3,1.3 3,0.1 3,-1.2 3,-.1 3,1.3 3,0 3,-1.3 3,0.1 3,1.2 3,-.1 3,-1.3" stroke="rgb(165,165,165)" stroke-width="1.8"/>
<path d="M533.2,202.9l3,-1.2 3,1.2 3,1.2 3,-1.2 3,-1.1 3,1.2 3,1 3,-1.2 3,-.9 3,1.2 3,0.8 3,-1.2 3,-.7 3,1.2 3,0.6 3,-1.2 3,-.5 3,1.2 3,0.5 3,-1.3 3,-.4 3,1.3 3,0.3 3,-1.2 3,-.3 3,1.2 3,0.2 3,-1.2 3,-.1 3,1.2 3,0 3,-1.2 3,0.1 3,1.2 3,-.2 3,-1.2" stroke="rgb(136,136,136)" stroke-width="1.8"/>
<path d="M533.2,204.2l3,-1.2 3,1.2 3,1.1 3,-1.2 3,-1 3,1.2 3,0.9 3,-1.1 3,-.9 3,1.2 3,0.8 3,-1.2 3,-.7 3,1.1 3,0.7 3,-1.2 3,-.6 3,1.2 3,0.5 3,-1.2 3,-.4 3,1.2 3,0.3 3,-1.2 3,-.2 3,1.2 3,0.1 3,-1.1 3,-.1 3,1.2 3,0 3,-1.2 3,0.1 3,1.1 3,-.1 3,-1.2" stroke="rgb(131,131,131)" stroke-width="1.8"/>
<path d="M533.2,205.5l3,-1.2 3,1.2 3,1.1 3,-1.2 3,-1 3,1.2 3,0.9 3,-1.2 3,-.8 3,1.1 3,0.8 3,-1.2 3,-.7 3,1.2 3,0.6 3,-1.1 3,-.6 3,1.2 3,0.5 3,-1.2 3,-.4 3,1.2 3,0.3 3,-1.2 3,-.2 3,1.1 3,0.2 3,-1.2 3,0 3,1.1 3,0 3,-1.1 3,0 3,1.2 3,-.2 3,-1.1" stroke="rgb(124,124,124)" stroke-width="1.8"/>
<path d="M533.2,206.7l3,-1.1 3,1.1 3,1.1 3,-1.1 3,-1 3,1.1 3,0.9 3,-1.1 3,-.8 3,1.1 3,0.8 3,-1.2 3,-.7 3,1.2 3,0.6 3,-1.2 3,-.5 3,1.1 3,0.5 3,-1.1 3,-.4 3,1.1 3,0.3 3,-1.1 3,-.2 3,1.1 3,0.1 3,-1.1 3,-.1 3,1.2 3,0 3,-1.2 3,0.1 3,1.1 3,-.1 3,-1.1" stroke="rgb(123,123,123)" stroke-width="1.8"/>
<path d="M533.2,208.0l3,-1.1 3,1.1 3,1 3,-1.1 3,-.9 3,1.1 3,0.9 3,-1.1 3,-.9 3,1.2 3,0.7 3,-1.1 3,-.7 3,1.1 3,0.6 3,-1.1 3,-.5 3,1.1 3,0.4 3,-1.1 3,-.3 3,1.1 3,0.3 3,-1.1 3,-.3 3,1.2 3,0.1 3,-1.1 3,-.1 3,1.1 3,0 3,-1.1 3,0.1 3,1.1 3,-.1 3,-1.2" stroke="rgb(110,110,110)" stroke-width="1.8"/>
<path d="M533.2,209.3l3,-1.1 3,1.1 3,1 3,-1.1 3,-.9 3,1 3,0.9 3,-1.1 3,-.8 3,1.1 3,0.7 3,-1 3,-.7 3,1.1 3,0.6 3,-1.1 3,-.5 3,1.1 3,0.4 3,-1.1 3,-.4 3,1.1 3,0.3 3,-1.1 3,-.2 3,1.1 3,0.2 3,-1.1 3,-.1 3,1.1 3,0 3,-1.1 3,0.1 3,1.1 3,-.2 3,-1.1" stroke="rgb(102,102,102)" stroke-width="1.8"/>
<path d="M533.2,210.5l3,-1 3,1 3,1 3,-1 3,-1 3,1.1 3,0.9 3,-1.1 3,-.8 3,1.1 3,0.7 3,-1.1 3,-.6 3,1 3,0.6 3,-1 3,-.5 3,1 3,0.4 3,-1 3,-.4 3,1.1 3,0.3 3,-1.1 3,-.2 3,1.1 3,0.1 3,-1.1 3,0 3,1 3,0 3,-1 3,0 3,1.1 3,-.1 3,-1.1" stroke="rgb(93,93,93)" stroke-width="1.8"/>
<path d="M533.2,211.8l3,-1 3,1 3,1 3,-1.1 3,-.9 3,1.1 3,0.8 3,-1 3,-.8 3,1 3,0.7 3,-1 3,-.6 3,1 3,0.6 3,-1.1 3,-.5 3,1.1 3,0.4 3,-1 3,-.4 3,1 3,0.3 3,-1 3,-.2 3,1 3,0.2 3,-1.1 3,-.1 3,1.1 3,0 3,-1.1 3,0.1 3,1.1 3,-.2 3,-1" stroke="rgb(84,84,84)" stroke-width="1.8"/>
<path d="M533.2,213.1l3,-1 3,1 3,0.9 3,-1 3,-.9 3,1 3,0.8 3,-1 3,-.7 3,1 3,0.7 3,-1 3,-.6 3,1 3,0.5 3,-1 3,-.5 3,1 3,0.4 3,-1 3,-.3 3,1 3,0.3 3,-1 3,-.2 3,1 3,0.1 3,-1 3,-.1 3,1 3,0 3,-1 3,0.1 3,1 3,-.1 3,-1" stroke="rgb(85,85,85)" stroke-width="1.8"/>
<path d="M533.2,214.3l3,-1 3,1 3,1 3,-1 3,-.9 3,1 3,0.8 3,-1 3,-.7 3,1 3,0.6 3,-1 3,-.6 3,1 3,0.6 3,-1 3,-.5 3,1 3,0.4 3,-1 3,-.3 3,1 3,0.2 3,-1 3,-.2 3,1 3,0.2 3,-1 3,-.1 3,1 3,0 3,-1 3,0.1 3,1 3,-.2 3,-1" stroke="rgb(80,80,80)" stroke-width="1.8"/>
<path d="M533.2,215.6l3,-1 3,1 3,0.9 3,-1 3,-.8 3,1 3,0.7 3,-.9 3,-.7 3,0.9 3,0.7 3,-1 3,-.6 3,1 3,0.5 3,-1 3,-.4 3,1 3,0.3 3,-.9 3,-.3 3,0.9 3,0.3 3,-1 3,-.2 3,1 3,0.1 3,-1 3,0 3,0.9 3,0 3,-.9 3,0 3,1 3,-.1 3,-1" stroke="rgb(81,81,81)" stroke-width="1.8"/>
<path d="M533.2,216.9l3,-1 3,1 3,0.8 3,-.9 3,-.8 3,0.9 3,0.8 3,-1 3,-.7 3,1 3,0.6 3,-.9 3,-.6 3,1 3,0.5 3,-1 3,-.4 3,0.9 3,0.4 3,-1 3,-.3 3,1 3,0.2 3,-.9 3,-.2 3,0.9 3,0.2 3,-1 3,0 3,0.9 3,0 3,-.9 3,0 3,1 3,-.2 3,-.9" stroke="rgb(77,77,77)" stroke-width="1.8"/>
<path d="M533.2,218.1l3,-.9 3,0.9 3,0.9 3,-.9 3,-.8 3,0.9 3,0.7 3,-.9 3,-.7 3,0.9 3,0.7 3,-1 3,-.5 3,0.9 3,0.5 3,-.9 3,-.4 3,0.9 3,0.3 3,-.9 3,-.3 3,0.9 3,0.3 3,-.9 3,-.2 3,0.9 3,0.1 3,-.9 3,-.1 3,1 3,0 3,-1 3,0.1 3,0.9 3,-.1 3,-.9" stroke="rgb(81,81,81)" stroke-width="1.8"/>
<path d="M533.2,219.4l3,-.9 3,0.9 3,0.8 3,-.9 3,-.7 3,0.9 3,0.7 3,-.9 3,-.7 3,0.9 3,0.6 3,-.9 3,-.5 3,0.9 3,0.4 3,-.8 3,-.5 3,0.9 3,0.4 3,-.9 3,-.3 3,0.9 3,0.2 3,-.9 3,-.1 3,0.8 3,0.2 3,-.9 3,-.1 3,0.9 3,0 3,-.9 3,0.1 3,0.9 3,-.2 3,-.8" stroke="rgb(76,76,76)" stroke-width="1.8"/>
<path d="M533.2,220.7l3,-.9 3,0.9 3,0.8 3,-.9 3,-.7 3,0.8 3,0.7 3,-.9 3,-.6 3,0.9 3,0.5 3,-.8 3,-.5 3,0.8 3,0.5 3,-.9 3,-.4 3,0.9 3,0.3 3,-.8 3,-.3 3,0.8 3,0.3 3,-.9 3,-.2 3,0.9 3,0.1 3,-.8 3,-.1 3,0.9 3,0 3,-.9 3,0.1 3,0.8 3,-.1 3,-.9" stroke="rgb(69,69,69)" stroke-width="1.8"/>
<path d="M533.2,221.9l3,-.8 3,0.8 3,0.8 3,-.8 3,-.8 3,0.9 3,0.6 3,-.8 3,-.6 3,0.8 3,0.6 3,-.8 3,-.5 3,0.8 3,0.4 3,-.8 3,-.4 3,0.8 3,0.4 3,-.9 3,-.2 3,0.8 3,0.2 3,-.8 3,-.2 3,0.9 3,0.1 3,-.9 3,0 3,0.8 3,0 3,-.8 3,0 3,0.9 3,-.1 3,-.9" stroke="rgb(73,73,73)" stroke-width="1.8"/>
<path d="M533.2,223.2l3,-.8 3,0.8 3,0.7 3,-.8 3,-.7 3,0.8 3,0.7 3,-.8 3,-.6 3,0.8 3,0.5 3,-.8 3,-.5 3,0.9 3,0.4 3,-.8 3,-.4 3,0.8 3,0.3 3,-.8 3,-.3 3,0.9 3,0.2 3,-.8 3,-.2 3,0.8 3,0.1 3,-.8 3,0 3,0.8 3,0 3,-.8 3,0 3,0.8 3,-.1 3,-.8" stroke="rgb(70,70,70)" stroke-width="1.8"/>
<path d="M533.2,224.5l3,-.8 3,0.8 3,0.7 3,-.8 3,-.7 3,0.8 3,0.6 3,-.8 3,-.5 3,0.8 3,0.5 3,-.8 3,-.5 3,0.8 3,0.4 3,-.8 3,-.3 3,0.8 3,0.3 3,-.8 3,-.3 3,0.8 3,0.2 3,-.8 3,-.1 3,0.8 3,0.1 3,-.8 3,-.1 3,0.8 3,0 3,-.8 3,0.1 3,0.8 3,-.1 3,-.8" stroke="rgb(71,71,71)" stroke-width="1.8"/>
<path d="M533.2,225.7l3,-.7 3,0.7 3,0.7 3,-.7 3,-.7 3,0.8 3,0.6 3,-.8 3,-.5 3,0.7 3,0.5 3,-.7 3,-.5 3,0.8 3,0.4 3,-.8 3,-.3 3,0.7 3,0.3 3,-.7 3,-.3 3,0.8 3,0.2 3,-.8 3,-.1 3,0.7 3,0.1 3,-.7 3,-.1 3,0.8 3,0 3,-.8 3,0.1 3,0.7 3,-.1 3,-.7" stroke="rgb(74,74,74)" stroke-width="1.8"/>
<path d="M533.2,227.0l3,-.8 3,0.8 3,0.7 3,-.8 3,-.6 3,0.7 3,0.6 3,-.7 3,-.6 3,0.8 3,0.5 3,-.8 3,-.4 3,0.7 3,0.4 3,-.7 3,-.4 3,0.8 3,0.3 3,-.8 3,-.2 3,0.7 3,0.2 3,-.7 3,-.2 3,0.8 3,0.1 3,-.8 3,0 3,0.7 3,0 3,-.7 3,0 3,0.8 3,-.1 3,-.8" stroke="rgb(65,65,65)" stroke-width="1.8"/>
<path d="M533.2,228.2l3,-.7 3,0.7 3,0.7 3,-.7 3,-.6 3,0.7 3,0.6 3,-.7 3,-.6 3,0.7 3,0.5 3,-.7 3,-.4 3,0.7 3,0.4 3,-.7 3,-.4 3,0.7 3,0.3 3,-.7 3,-.2 3,0.7 3,0.2 3,-.7 3,-.2 3,0.7 3,0.1 3,-.7 3,0 3,0.7 3,0 3,-.7 3,0 3,0.7 3,-.1 3,-.7" stroke="rgb(72,72,72)" stroke-width="1.8"/>
<path d="M533.2,229.5l3,-.7 3,0.7 3,0.7 3,-.7 3,-.6 3,0.7 3,0.5 3,-.7 3,-.5 3,0.7 3,0.5 3,-.7 3,-.4 3,0.7 3,0.3 3,-.7 3,-.3 3,0.7 3,0.3 3,-.7 3,-.2 3,0.6 3,0.2 3,-.7 3,-.1 3,0.7 3,0.1 3,-.7 3,-.1 3,0.7 3,0 3,-.7 3,0.1 3,0.7 3,-.1 3,-.7" stroke="rgb(59,59,59)" stroke-width="1.8"/>
<path d="M533.2,230.8l3,-.7 3,0.7 3,0.6 3,-.7 3,-.5 3,0.6 3,0.6 3,-.7 3,-.5 3,0.7 3,0.4 3,-.7 3,-.3 3,0.6 3,0.4 3,-.7 3,-.3 3,0.7 3,0.2 3,-.6 3,-.3 3,0.7 3,0.2 3,-.7 3,-.1 3,0.6 3,0.1 3,-.6 3,-.1 3,0.7 3,0 3,-.7 3,0.1 3,0.6 3,-.1 3,-.6" stroke="rgb(62,62,62)" stroke-width="1.8"/>
<path d="M533.2,232.0l3,-.6 3,0.6 3,0.6 3,-.6 3,-.5 3,0.6 3,0.5 3,-.6 3,-.5 3,0.6 3,0.5 3,-.7 3,-.4 3,0.7 3,0.3 3,-.6 3,-.3 3,0.6 3,0.3 3,-.7 3,-.2 3,0.7 3,0.1 3,-.6 3,-.1 3,0.6 3,0.1 3,-.7 3,0 3,0.6 3,0 3,-.6 3,0 3,0.7 3,-.1 3,-.6" stroke="rgb(64,64,64)" stroke-width="1.8"/>
<path d="M533.2,233.3l3,-.6 3,0.6 3,0.6 3,-.6 3,-.6 3,0.7 3,0.4 3,-.6 3,-.4 3,0.6 3,0.4 3,-.6 3,-.4 3,0.6 3,0.4 3,-.7 3,-.2 3,0.6 3,0.2 3,-.6 3,-.2 3,0.6 3,0.2 3,-.6 3,-.2 3,0.7 3,0 3,-.6 3,0 3,0.6 3,0 3,-.6 3,0 3,0.6 3,0 3,-.7" stroke="rgb(60,60,60)" stroke-width="1.8"/>
<path d="M533.2,234.6l3,-.6 3,0.6 3,0.5 3,-.6 3,-.5 3,0.6 3,0.5 3,-.6 3,-.5 3,0.7 3,0.4 3,-.6 3,-.4 3,0.6 3,0.3 3,-.6 3,-.3 3,0.6 3,0.3 3,-.6 3,-.2 3,0.6 3,0.1 3,-.6 3,-.1 3,0.6 3,0.1 3,-.6 3,0 3,0.6 3,0 3,-.6 3,0 3,0.6 3,-.1 3,-.6" stroke="rgb(57,57,57)" stroke-width="1.8"/>
<path d="M533.2,235.8l3,-.6 3,0.6 3,0.6 3,-.6 3,-.5 3,0.6 3,0.5 3,-.6 3,-.5 3,0.6 3,0.4 3,-.6 3,-.3 3,0.6 3,0.3 3,-.6 3,-.3 3,0.6 3,0.2 3,-.6 3,-.2 3,0.6 3,0.2 3,-.6 3,-.1 3,0.6 3,0.1 3,-.6 3,-.1 3,0.6 3,0 3,-.6 3,0.1 3,0.6 3,-.1 3,-.6" stroke="rgb(59,59,59)" stroke-width="1.8"/>
<path d="M533.2,237.1l3,-.6 3,0.6 3,0.6 3,-.6 3,-.6 3,0.6 3,0.5 3,-.6 3,-.4 3,0.6 3,0.4 3,-.6 3,-.4 3,0.6 3,0.4 3,-.7 3,-.2 3,0.6 3,0.2 3,-.6 3,-.2 3,0.6 3,0.2 3,-.6 3,-.2 3,0.7 3,0 3,-.6 3,0 3,0.6 3,0 3,-.6 3,0 3,0.6 3,0 3,-.7" stroke="rgb(59,59,59)" stroke-width="1.8"/>
<ellipse cx="529.92" cy="175.36" rx="4.52" ry="5.02" fill="#141414" opacity="0.7" filter="url(#eblur)"/>
<ellipse cx="543.43" cy="175.73" rx="4.3" ry="4.78" fill="#141414" opacity="0.75" filter="url(#eblur)"/>
<ellipse cx="554.34" cy="175.09" rx="4.17" ry="4.63" fill="#141414" opacity="0.71" filter="url(#eblur)"/>
<ellipse cx="565.3" cy="175.98" rx="4.68" ry="5.2" fill="#141414" opacity="0.7" filter="url(#eblur)"/>
<ellipse cx="576.93" cy="175.67" rx="4.6" ry="5.12" fill="#141414" opacity="0.79" filter="url(#eblur)"/>
<ellipse cx="589.7" cy="173.51" rx="4.45" ry="4.95" fill="#141414" opacity="0.79" filter="url(#eblur)"/>
<ellipse cx="601.86" cy="176.25" rx="4.2" ry="4.66" fill="#141414" opacity="0.77" filter="url(#eblur)"/>
<ellipse cx="610.59" cy="177.63" rx="4.9" ry="5.44" fill="#141414" opacity="0.72" filter="url(#eblur)"/>
<ellipse cx="623.59" cy="175.21" rx="4.42" ry="4.91" fill="#141414" opacity="0.71" filter="url(#eblur)"/>
<ellipse cx="635.41" cy="175.72" rx="4.72" ry="5.25" fill="#141414" opacity="0.69" filter="url(#eblur)"/>
<ellipse cx="649.42" cy="176.94" rx="4.7" ry="5.23" fill="#141414" opacity="0.74" filter="url(#eblur)"/>
</g></g>
<line x1="687" y1="30.5" x2="697" y2="30.5" stroke="#e23a3e" stroke-width="1.2"/>
<circle cx="692" cy="30.5" r="1.5" fill="#e23a3e"/>
<text x="699" y="35.5" font-size="14" text-anchor="start" fill="#000">Vehicle</text>
<line x1="763" y1="30.5" x2="773" y2="30.5" stroke="#3b8ad6" stroke-width="1.2"/>
<circle cx="768" cy="30.5" r="1.5" fill="#3b8ad6"/>
<text x="776" y="35.5" font-size="14" text-anchor="start" fill="#000">TEPP-46</text>
<path d="M678.7,48.3 L678.7,136.6 L741.7,136.6" fill="none" stroke="#444" stroke-width="1.2"/>
<line x1="676.2" y1="136.6" x2="678.7" y2="136.6" stroke="#444" stroke-width="1.2"/>
<text x="674.2" y="141.82" font-size="14.5" text-anchor="end" fill="#000">0</text>
<line x1="676.2" y1="114.52" x2="678.7" y2="114.52" stroke="#444" stroke-width="1.2"/>
<text x="674.2" y="119.74" font-size="14.5" text-anchor="end" fill="#000">20</text>
<line x1="676.2" y1="92.45" x2="678.7" y2="92.45" stroke="#444" stroke-width="1.2"/>
<text x="674.2" y="97.67" font-size="14.5" text-anchor="end" fill="#000">40</text>
<line x1="676.2" y1="70.38" x2="678.7" y2="70.38" stroke="#444" stroke-width="1.2"/>
<text x="674.2" y="75.59" font-size="14.5" text-anchor="end" fill="#000">60</text>
<line x1="676.2" y1="48.3" x2="678.7" y2="48.3" stroke="#444" stroke-width="1.2"/>
<text x="674.2" y="53.52" font-size="14.5" text-anchor="end" fill="#000">80</text>
<line x1="695.6" y1="136.6" x2="695.6" y2="139.1" stroke="#444" stroke-width="1.2"/>
<text x="695.6" y="153.5" font-size="14.5" text-anchor="middle" fill="#000">2w</text>
<line x1="724.5" y1="136.6" x2="724.5" y2="139.1" stroke="#444" stroke-width="1.2"/>
<text x="724.5" y="153.5" font-size="14.5" text-anchor="middle" fill="#000">4w</text>
<text x="655" y="92.45" font-size="14.8" text-anchor="middle" fill="#000" transform="rotate(-90 655 92.45)">EF%</text>
<circle cx="694.93" cy="122.25" r="1.6" fill="#e23a3e"/>
<circle cx="696.44" cy="122.8" r="1.6" fill="#e23a3e"/>
<circle cx="701.54" cy="116.73" r="1.6" fill="#e23a3e"/>
<circle cx="695.12" cy="114.52" r="1.6" fill="#e23a3e"/>
<circle cx="695.71" cy="113.42" r="1.6" fill="#e23a3e"/>
<circle cx="696.82" cy="117.84" r="1.6" fill="#e23a3e"/>
<circle cx="720.09" cy="113.42" r="1.6" fill="#e23a3e"/>
<circle cx="724.67" cy="110.11" r="1.6" fill="#e23a3e"/>
<circle cx="726.32" cy="107.9" r="1.6" fill="#e23a3e"/>
<circle cx="728.6" cy="105.69" r="1.6" fill="#e23a3e"/>
<circle cx="718.82" cy="101.28" r="1.6" fill="#e23a3e"/>
<circle cx="721.75" cy="97.97" r="1.6" fill="#e23a3e"/>
<path d="M695.6,117.93 L724.5,106.06" fill="none" stroke="#e23a3e" stroke-width="1.1"/>
<line x1="695.6" y1="119.58" x2="695.6" y2="116.27" stroke="#e23a3e" stroke-width="1"/>
<line x1="693.1" y1="116.27" x2="698.1" y2="116.27" stroke="#e23a3e" stroke-width="1"/>
<line x1="693.1" y1="119.58" x2="698.1" y2="119.58" stroke="#e23a3e" stroke-width="1"/>
<line x1="724.5" y1="109.37" x2="724.5" y2="102.75" stroke="#e23a3e" stroke-width="1"/>
<line x1="722" y1="102.75" x2="727" y2="102.75" stroke="#e23a3e" stroke-width="1"/>
<line x1="722" y1="109.37" x2="727" y2="109.37" stroke="#e23a3e" stroke-width="1"/>
<circle cx="689.87" cy="106.8" r="1.6" fill="#3b8ad6"/>
<circle cx="699.94" cy="110.11" r="1.6" fill="#3b8ad6"/>
<circle cx="698.31" cy="113.42" r="1.6" fill="#3b8ad6"/>
<circle cx="689.19" cy="115.63" r="1.6" fill="#3b8ad6"/>
<circle cx="702.35" cy="114.52" r="1.6" fill="#3b8ad6"/>
<circle cx="702.11" cy="118.94" r="1.6" fill="#3b8ad6"/>
<circle cx="726.65" cy="64.86" r="1.6" fill="#3b8ad6"/>
<circle cx="726.12" cy="77" r="1.6" fill="#3b8ad6"/>
<circle cx="719.7" cy="78.1" r="1.6" fill="#3b8ad6"/>
<circle cx="717.71" cy="81.41" r="1.6" fill="#3b8ad6"/>
<circle cx="724.9" cy="88.03" r="1.6" fill="#3b8ad6"/>
<circle cx="718.33" cy="92.45" r="1.6" fill="#3b8ad6"/>
<path d="M695.6,113.24 L724.5,80.31" fill="none" stroke="#3b8ad6" stroke-width="1.1"/>
<line x1="695.6" y1="114.89" x2="695.6" y2="111.58" stroke="#3b8ad6" stroke-width="1"/>
<line x1="693.1" y1="111.58" x2="698.1" y2="111.58" stroke="#3b8ad6" stroke-width="1"/>
<line x1="693.1" y1="114.89" x2="698.1" y2="114.89" stroke="#3b8ad6" stroke-width="1"/>
<line x1="724.5" y1="84.72" x2="724.5" y2="75.89" stroke="#3b8ad6" stroke-width="1"/>
<line x1="722" y1="75.89" x2="727" y2="75.89" stroke="#3b8ad6" stroke-width="1"/>
<line x1="722" y1="84.72" x2="727" y2="84.72" stroke="#3b8ad6" stroke-width="1"/>
<text x="725" y="64" font-size="13.5" text-anchor="middle" fill="#222">***</text>
<path d="M789.3,48.3 L789.3,136.6 L852.8,136.6" fill="none" stroke="#444" stroke-width="1.2"/>
<line x1="786.8" y1="136.6" x2="789.3" y2="136.6" stroke="#444" stroke-width="1.2"/>
<text x="784.8" y="141.82" font-size="14.5" text-anchor="end" fill="#000">0</text>
<line x1="786.8" y1="114.52" x2="789.3" y2="114.52" stroke="#444" stroke-width="1.2"/>
<text x="784.8" y="119.74" font-size="14.5" text-anchor="end" fill="#000">10</text>
<line x1="786.8" y1="92.45" x2="789.3" y2="92.45" stroke="#444" stroke-width="1.2"/>
<text x="784.8" y="97.67" font-size="14.5" text-anchor="end" fill="#000">20</text>
<line x1="786.8" y1="70.38" x2="789.3" y2="70.38" stroke="#444" stroke-width="1.2"/>
<text x="784.8" y="75.59" font-size="14.5" text-anchor="end" fill="#000">30</text>
<line x1="786.8" y1="48.3" x2="789.3" y2="48.3" stroke="#444" stroke-width="1.2"/>
<text x="784.8" y="53.52" font-size="14.5" text-anchor="end" fill="#000">40</text>
<line x1="806" y1="136.6" x2="806" y2="139.1" stroke="#444" stroke-width="1.2"/>
<text x="806" y="153.5" font-size="14.5" text-anchor="middle" fill="#000">2w</text>
<line x1="835.6" y1="136.6" x2="835.6" y2="139.1" stroke="#444" stroke-width="1.2"/>
<text x="835.6" y="153.5" font-size="14.5" text-anchor="middle" fill="#000">4w</text>
<text x="766" y="92.45" font-size="14.8" text-anchor="middle" fill="#000" transform="rotate(-90 766 92.45)">FS%</text>
<circle cx="801.66" cy="115.63" r="1.6" fill="#e23a3e"/>
<circle cx="802.39" cy="120.04" r="1.6" fill="#e23a3e"/>
<circle cx="799.42" cy="124.46" r="1.6" fill="#e23a3e"/>
<circle cx="805.5" cy="116.73" r="1.6" fill="#e23a3e"/>
<circle cx="805.17" cy="121.15" r="1.6" fill="#e23a3e"/>
<circle cx="840.39" cy="100.18" r="1.6" fill="#e23a3e"/>
<circle cx="835.87" cy="102.38" r="1.6" fill="#e23a3e"/>
<circle cx="837.56" cy="107.9" r="1.6" fill="#e23a3e"/>
<circle cx="835.6" cy="110.11" r="1.6" fill="#e23a3e"/>
<circle cx="837.87" cy="112.32" r="1.6" fill="#e23a3e"/>
<circle cx="835" cy="115.63" r="1.6" fill="#e23a3e"/>
<path d="M806,119.6 L835.6,108.09" fill="none" stroke="#e23a3e" stroke-width="1.1"/>
<line x1="806" y1="121.81" x2="806" y2="117.39" stroke="#e23a3e" stroke-width="1"/>
<line x1="803.5" y1="117.39" x2="808.5" y2="117.39" stroke="#e23a3e" stroke-width="1"/>
<line x1="803.5" y1="121.81" x2="808.5" y2="121.81" stroke="#e23a3e" stroke-width="1"/>
<line x1="835.6" y1="111.4" x2="835.6" y2="104.78" stroke="#e23a3e" stroke-width="1"/>
<line x1="833.1" y1="104.78" x2="838.1" y2="104.78" stroke="#e23a3e" stroke-width="1"/>
<line x1="833.1" y1="111.4" x2="838.1" y2="111.4" stroke="#e23a3e" stroke-width="1"/>
<circle cx="802.89" cy="110.11" r="1.6" fill="#3b8ad6"/>
<circle cx="812.97" cy="112.32" r="1.6" fill="#3b8ad6"/>
<circle cx="812.94" cy="114.52" r="1.6" fill="#3b8ad6"/>
<circle cx="810.76" cy="116.73" r="1.6" fill="#3b8ad6"/>
<circle cx="808.91" cy="118.94" r="1.6" fill="#3b8ad6"/>
<circle cx="833.01" cy="61.55" r="1.6" fill="#3b8ad6"/>
<circle cx="831.82" cy="79.2" r="1.6" fill="#3b8ad6"/>
<circle cx="832.65" cy="81.41" r="1.6" fill="#3b8ad6"/>
<circle cx="829.58" cy="88.03" r="1.6" fill="#3b8ad6"/>
<circle cx="839.33" cy="92.45" r="1.6" fill="#3b8ad6"/>
<path d="M806,114.52 L835.6,80.53" fill="none" stroke="#3b8ad6" stroke-width="1.1"/>
<line x1="806" y1="116.73" x2="806" y2="112.32" stroke="#3b8ad6" stroke-width="1"/>
<line x1="803.5" y1="112.32" x2="808.5" y2="112.32" stroke="#3b8ad6" stroke-width="1"/>
<line x1="803.5" y1="116.73" x2="808.5" y2="116.73" stroke="#3b8ad6" stroke-width="1"/>
<line x1="835.6" y1="86.05" x2="835.6" y2="75.01" stroke="#3b8ad6" stroke-width="1"/>
<line x1="833.1" y1="75.01" x2="838.1" y2="75.01" stroke="#3b8ad6" stroke-width="1"/>
<line x1="833.1" y1="86.05" x2="838.1" y2="86.05" stroke="#3b8ad6" stroke-width="1"/>
<text x="836" y="64" font-size="13.5" text-anchor="middle" fill="#222">***</text>
<path d="M678.7,164.4 L678.7,242.3 L741.7,242.3" fill="none" stroke="#444" stroke-width="1.2"/>
<line x1="676.2" y1="242.3" x2="678.7" y2="242.3" stroke="#444" stroke-width="1.2"/>
<text x="674.2" y="247.52" font-size="14.5" text-anchor="end" fill="#000">0</text>
<line x1="676.2" y1="226.72" x2="678.7" y2="226.72" stroke="#444" stroke-width="1.2"/>
<text x="674.2" y="231.94" font-size="14.5" text-anchor="end" fill="#000">1</text>
<line x1="676.2" y1="211.14" x2="678.7" y2="211.14" stroke="#444" stroke-width="1.2"/>
<text x="674.2" y="216.36" font-size="14.5" text-anchor="end" fill="#000">2</text>
<line x1="676.2" y1="195.56" x2="678.7" y2="195.56" stroke="#444" stroke-width="1.2"/>
<text x="674.2" y="200.78" font-size="14.5" text-anchor="end" fill="#000">3</text>
<line x1="676.2" y1="179.98" x2="678.7" y2="179.98" stroke="#444" stroke-width="1.2"/>
<text x="674.2" y="185.2" font-size="14.5" text-anchor="end" fill="#000">4</text>
<line x1="676.2" y1="164.4" x2="678.7" y2="164.4" stroke="#444" stroke-width="1.2"/>
<text x="674.2" y="169.62" font-size="14.5" text-anchor="end" fill="#000">5</text>
<line x1="695.6" y1="242.3" x2="695.6" y2="244.8" stroke="#444" stroke-width="1.2"/>
<text x="695.6" y="257" font-size="14.5" text-anchor="middle" fill="#000">2w</text>
<line x1="724.5" y1="242.3" x2="724.5" y2="244.8" stroke="#444" stroke-width="1.2"/>
<text x="724.5" y="257" font-size="14.5" text-anchor="middle" fill="#000">4w</text>
<text x="655" y="190" font-size="16" text-anchor="middle" fill="#000" transform="rotate(-90 655 190)">LVID;d</text>
<circle cx="694.21" cy="169.07" r="1.6" fill="#e23a3e"/>
<circle cx="700.45" cy="169.85" r="1.6" fill="#e23a3e"/>
<circle cx="694.01" cy="172.19" r="1.6" fill="#e23a3e"/>
<circle cx="702.01" cy="175.31" r="1.6" fill="#e23a3e"/>
<circle cx="700.46" cy="179.2" r="1.6" fill="#e23a3e"/>
<circle cx="688.61" cy="170.63" r="1.6" fill="#e23a3e"/>
<circle cx="720.44" cy="172.19" r="1.6" fill="#e23a3e"/>
<circle cx="730.24" cy="173.75" r="1.6" fill="#e23a3e"/>
<circle cx="724.08" cy="181.54" r="1.6" fill="#e23a3e"/>
<circle cx="731.23" cy="184.65" r="1.6" fill="#e23a3e"/>
<circle cx="723.06" cy="192.44" r="1.6" fill="#e23a3e"/>
<circle cx="718.52" cy="175.31" r="1.6" fill="#e23a3e"/>
<path d="M695.6,172.71 L724.5,179.98" fill="none" stroke="#e23a3e" stroke-width="1.1"/>
<line x1="695.6" y1="174.27" x2="695.6" y2="171.15" stroke="#e23a3e" stroke-width="1"/>
<line x1="693.1" y1="171.15" x2="698.1" y2="171.15" stroke="#e23a3e" stroke-width="1"/>
<line x1="693.1" y1="174.27" x2="698.1" y2="174.27" stroke="#e23a3e" stroke-width="1"/>
<line x1="724.5" y1="183.1" x2="724.5" y2="176.86" stroke="#e23a3e" stroke-width="1"/>
<line x1="722" y1="176.86" x2="727" y2="176.86" stroke="#e23a3e" stroke-width="1"/>
<line x1="722" y1="183.1" x2="727" y2="183.1" stroke="#e23a3e" stroke-width="1"/>
<circle cx="697.41" cy="176.86" r="1.6" fill="#3b8ad6"/>
<circle cx="699.5" cy="181.54" r="1.6" fill="#3b8ad6"/>
<circle cx="692.38" cy="186.21" r="1.6" fill="#3b8ad6"/>
<circle cx="689.82" cy="187.77" r="1.6" fill="#3b8ad6"/>
<circle cx="693.26" cy="175.31" r="1.6" fill="#3b8ad6"/>
<circle cx="731" cy="189.33" r="1.6" fill="#3b8ad6"/>
<circle cx="728.11" cy="192.44" r="1.6" fill="#3b8ad6"/>
<circle cx="719.15" cy="195.56" r="1.6" fill="#3b8ad6"/>
<circle cx="720.95" cy="197.12" r="1.6" fill="#3b8ad6"/>
<circle cx="718.91" cy="200.23" r="1.6" fill="#3b8ad6"/>
<path d="M695.6,181.54 L724.5,194.94" fill="none" stroke="#3b8ad6" stroke-width="1.1"/>
<line x1="695.6" y1="183.88" x2="695.6" y2="179.2" stroke="#3b8ad6" stroke-width="1"/>
<line x1="693.1" y1="179.2" x2="698.1" y2="179.2" stroke="#3b8ad6" stroke-width="1"/>
<line x1="693.1" y1="183.88" x2="698.1" y2="183.88" stroke="#3b8ad6" stroke-width="1"/>
<line x1="724.5" y1="196.81" x2="724.5" y2="193.07" stroke="#3b8ad6" stroke-width="1"/>
<line x1="722" y1="193.07" x2="727" y2="193.07" stroke="#3b8ad6" stroke-width="1"/>
<line x1="722" y1="196.81" x2="727" y2="196.81" stroke="#3b8ad6" stroke-width="1"/>
<text x="725" y="176" font-size="13.5" text-anchor="middle" fill="#222">***</text>
<path d="M789.3,164.4 L789.3,242.3 L852.8,242.3" fill="none" stroke="#444" stroke-width="1.2"/>
<line x1="786.8" y1="242.3" x2="789.3" y2="242.3" stroke="#444" stroke-width="1.2"/>
<text x="784.8" y="247.52" font-size="14.5" text-anchor="end" fill="#000">0</text>
<line x1="786.8" y1="226.72" x2="789.3" y2="226.72" stroke="#444" stroke-width="1.2"/>
<text x="784.8" y="231.94" font-size="14.5" text-anchor="end" fill="#000">1</text>
<line x1="786.8" y1="211.14" x2="789.3" y2="211.14" stroke="#444" stroke-width="1.2"/>
<text x="784.8" y="216.36" font-size="14.5" text-anchor="end" fill="#000">2</text>
<line x1="786.8" y1="195.56" x2="789.3" y2="195.56" stroke="#444" stroke-width="1.2"/>
<text x="784.8" y="200.78" font-size="14.5" text-anchor="end" fill="#000">3</text>
<line x1="786.8" y1="179.98" x2="789.3" y2="179.98" stroke="#444" stroke-width="1.2"/>
<text x="784.8" y="185.2" font-size="14.5" text-anchor="end" fill="#000">4</text>
<line x1="786.8" y1="164.4" x2="789.3" y2="164.4" stroke="#444" stroke-width="1.2"/>
<text x="784.8" y="169.62" font-size="14.5" text-anchor="end" fill="#000">5</text>
<line x1="806" y1="242.3" x2="806" y2="244.8" stroke="#444" stroke-width="1.2"/>
<text x="806" y="257" font-size="14.5" text-anchor="middle" fill="#000">2w</text>
<line x1="835.6" y1="242.3" x2="835.6" y2="244.8" stroke="#444" stroke-width="1.2"/>
<text x="835.6" y="257" font-size="14.5" text-anchor="middle" fill="#000">4w</text>
<text x="766" y="190" font-size="16" text-anchor="middle" fill="#000" transform="rotate(-90 766 190)">LVID;s</text>
<circle cx="799.84" cy="172.19" r="1.6" fill="#e23a3e"/>
<circle cx="810.16" cy="175.31" r="1.6" fill="#e23a3e"/>
<circle cx="801.49" cy="178.42" r="1.6" fill="#e23a3e"/>
<circle cx="806.83" cy="179.98" r="1.6" fill="#e23a3e"/>
<circle cx="805.26" cy="183.1" r="1.6" fill="#e23a3e"/>
<circle cx="801.67" cy="176.86" r="1.6" fill="#e23a3e"/>
<circle cx="838.85" cy="176.86" r="1.6" fill="#e23a3e"/>
<circle cx="830.43" cy="181.54" r="1.6" fill="#e23a3e"/>
<circle cx="837.61" cy="186.21" r="1.6" fill="#e23a3e"/>
<circle cx="830.23" cy="187.77" r="1.6" fill="#e23a3e"/>
<circle cx="834.49" cy="197.12" r="1.6" fill="#e23a3e"/>
<path d="M806,177.64 L835.6,185.9" fill="none" stroke="#e23a3e" stroke-width="1.1"/>
<line x1="806" y1="179.2" x2="806" y2="176.09" stroke="#e23a3e" stroke-width="1"/>
<line x1="803.5" y1="176.09" x2="808.5" y2="176.09" stroke="#e23a3e" stroke-width="1"/>
<line x1="803.5" y1="179.2" x2="808.5" y2="179.2" stroke="#e23a3e" stroke-width="1"/>
<line x1="835.6" y1="189.02" x2="835.6" y2="182.78" stroke="#e23a3e" stroke-width="1"/>
<line x1="833.1" y1="182.78" x2="838.1" y2="182.78" stroke="#e23a3e" stroke-width="1"/>
<line x1="833.1" y1="189.02" x2="838.1" y2="189.02" stroke="#e23a3e" stroke-width="1"/>
<circle cx="801.98" cy="176.86" r="1.6" fill="#3b8ad6"/>
<circle cx="802.78" cy="183.1" r="1.6" fill="#3b8ad6"/>
<circle cx="812.59" cy="186.21" r="1.6" fill="#3b8ad6"/>
<circle cx="810.25" cy="189.33" r="1.6" fill="#3b8ad6"/>
<circle cx="803.26" cy="195.56" r="1.6" fill="#3b8ad6"/>
<circle cx="840.99" cy="200.23" r="1.6" fill="#3b8ad6"/>
<circle cx="831.55" cy="206.47" r="1.6" fill="#3b8ad6"/>
<circle cx="834.12" cy="209.58" r="1.6" fill="#3b8ad6"/>
<circle cx="840.56" cy="211.14" r="1.6" fill="#3b8ad6"/>
<circle cx="837.59" cy="213.48" r="1.6" fill="#3b8ad6"/>
<path d="M806,186.21 L835.6,208.18" fill="none" stroke="#3b8ad6" stroke-width="1.1"/>
<line x1="806" y1="188.55" x2="806" y2="183.88" stroke="#3b8ad6" stroke-width="1"/>
<line x1="803.5" y1="183.88" x2="808.5" y2="183.88" stroke="#3b8ad6" stroke-width="1"/>
<line x1="803.5" y1="188.55" x2="808.5" y2="188.55" stroke="#3b8ad6" stroke-width="1"/>
<line x1="835.6" y1="210.52" x2="835.6" y2="205.84" stroke="#3b8ad6" stroke-width="1"/>
<line x1="833.1" y1="205.84" x2="838.1" y2="205.84" stroke="#3b8ad6" stroke-width="1"/>
<line x1="833.1" y1="210.52" x2="838.1" y2="210.52" stroke="#3b8ad6" stroke-width="1"/>
<text x="836" y="176" font-size="13.5" text-anchor="middle" fill="#222">***</text>
<text x="50" y="276" font-size="14.5" fill="#000">MCM<tspan font-size="9" dy="-6">+</tspan><tspan dy="6" font-style="italic">Jmjd4</tspan><tspan font-size="8" dy="-6" font-style="italic"> f/f</tspan></text>
<g clip-path="url(#hcc1)">
<rect x="39" y="281.7" width="102" height="91" fill="url(#p_veh)"/>
<path d="M91.97,377.7 Q125.04,327.2 146.11,276.7" fill="none" stroke="#90d0ec" stroke-width="1.52" opacity="0.7"/>
<path d="M136.9,377.7 Q163.23,327.2 177.56,276.7" fill="none" stroke="#90d0ec" stroke-width="0.82" opacity="0.7"/>
<path d="M135.28,377.7 Q167.57,327.2 187.87,276.7" fill="none" stroke="#90d0ec" stroke-width="0.99" opacity="0.7"/>
<path d="M51.79,377.7 Q78.79,327.2 93.8,276.7" fill="none" stroke="#90d0ec" stroke-width="1.01" opacity="0.7"/>
<path d="M35.2,377.7 Q66.6,327.2 86,276.7" fill="none" stroke="#90d0ec" stroke-width="1.35" opacity="0.7"/>
<path d="M86.23,377.7 Q114.83,327.2 131.43,276.7" fill="none" stroke="#90d0ec" stroke-width="0.93" opacity="0.7"/>
<ellipse cx="120.6" cy="336.3" rx="18" ry="28" fill="#8fd0ee" opacity="0.3" transform="rotate(35 120.6 336.3)"/>
</g>
<rect x="39" y="281.7" width="102" height="91" fill="none" stroke="#111" stroke-width="1.6"/>
<g clip-path="url(#hcc2)">
<rect x="39" y="375.3" width="102" height="90.5" fill="url(#p_tepp)"/>
<rect x="39" y="375.3" width="102" height="90.5" fill="url(#p_sham)" opacity="0.9" clip-path="url(#hcqc2)"/>
<path d="M43.01,470.8 L96.01,370.3" fill="none" stroke="#80c8ea" stroke-width="1.91" opacity="0.8"/>
<path d="M67.62,470.8 L117.54,370.3" fill="none" stroke="#80c8ea" stroke-width="0.9" opacity="0.8"/>
<path d="M111.77,470.8 L154.45,370.3" fill="none" stroke="#80c8ea" stroke-width="2.56" opacity="0.8"/>
<path d="M45.74,470.8 L93.94,370.3" fill="none" stroke="#80c8ea" stroke-width="2.18" opacity="0.8"/>
<path d="M53.21,470.8 L103.13,370.3" fill="none" stroke="#80c8ea" stroke-width="1.68" opacity="0.8"/>
<path d="M103.25,470.8 L152.56,370.3" fill="none" stroke="#80c8ea" stroke-width="2.52" opacity="0.8"/>
<path d="M67.65,470.8 L112.65,370.3" fill="none" stroke="#fff" stroke-width="1" opacity="0.85"/>
<path d="M72.08,470.8 L117.08,370.3" fill="none" stroke="#fff" stroke-width="1" opacity="0.85"/>
<path d="M43.03,470.8 L88.03,370.3" fill="none" stroke="#fff" stroke-width="1" opacity="0.85"/>
<path d="M78.91,470.8 L123.91,370.3" fill="none" stroke="#fff" stroke-width="1" opacity="0.85"/>
</g>
<rect x="39" y="375.3" width="102" height="90.5" fill="none" stroke="#111" stroke-width="1.6"/>
<rect x="39.8" y="282.5" width="63" height="18" fill="#fff"/>
<text x="42" y="298" font-size="15.5" text-anchor="start" fill="#000">Vehicle</text>
<rect x="39.8" y="376.1" width="62.5" height="17.5" fill="#fff"/>
<text x="42" y="391.5" font-size="15.5" text-anchor="start" fill="#000">TEPP-46</text>
<line x1="106" y1="457.5" x2="138" y2="457.5" stroke="#000" stroke-width="1.8"/>
<path d="M179,319.5 L179,412.8 L243.7,412.8" fill="none" stroke="#444" stroke-width="1.3"/>
<line x1="175" y1="412.8" x2="179" y2="412.8" stroke="#444" stroke-width="1.3"/>
<text x="173" y="418.02" font-size="14.5" text-anchor="end" fill="#000">0</text>
<line x1="175" y1="389.48" x2="179" y2="389.48" stroke="#444" stroke-width="1.3"/>
<text x="173" y="394.7" font-size="14.5" text-anchor="end" fill="#000">10</text>
<line x1="175" y1="366.15" x2="179" y2="366.15" stroke="#444" stroke-width="1.3"/>
<text x="173" y="371.37" font-size="14.5" text-anchor="end" fill="#000">20</text>
<line x1="175" y1="342.82" x2="179" y2="342.82" stroke="#444" stroke-width="1.3"/>
<text x="173" y="348.05" font-size="14.5" text-anchor="end" fill="#000">30</text>
<line x1="175" y1="319.5" x2="179" y2="319.5" stroke="#444" stroke-width="1.3"/>
<text x="173" y="324.72" font-size="14.5" text-anchor="end" fill="#000">40</text>
<line x1="197.5" y1="412.8" x2="197.5" y2="416.8" stroke="#444" stroke-width="1.3"/>
<line x1="225" y1="412.8" x2="225" y2="416.8" stroke="#444" stroke-width="1.3"/>
<text x="155" y="366.15" font-size="15" text-anchor="middle" fill="#000" transform="rotate(-90 155 366.15)">Fibrosis area%</text>
<rect x="188.3" y="336.61" width="18.3" height="76.19" fill="#c8def8" stroke="#666" stroke-width="1"/>
<circle cx="195.45" cy="330" r="1.9" fill="#000"/>
<circle cx="192.45" cy="332.33" r="1.9" fill="#000"/>
<circle cx="202.45" cy="334.66" r="1.9" fill="#000"/>
<circle cx="190.45" cy="335.83" r="1.9" fill="#000"/>
<circle cx="204.45" cy="338.16" r="1.9" fill="#000"/>
<circle cx="195.45" cy="340.49" r="1.9" fill="#000"/>
<circle cx="199.45" cy="341.66" r="1.9" fill="#000"/>
<circle cx="190.45" cy="339.33" r="1.9" fill="#000"/>
<circle cx="204.45" cy="336.99" r="1.9" fill="#000"/>
<line x1="197.45" y1="338" x2="197.45" y2="335.21" stroke="#222" stroke-width="1.1"/>
<line x1="193.45" y1="335.21" x2="201.45" y2="335.21" stroke="#222" stroke-width="1.1"/>
<line x1="193.45" y1="338" x2="201.45" y2="338" stroke="#222" stroke-width="1.1"/>
<rect x="216.1" y="385.92" width="17.7" height="26.88" fill="#f0cbf6" stroke="#666" stroke-width="1"/>
<circle cx="228.95" cy="382.48" r="1.9" fill="#000"/>
<circle cx="222.95" cy="383.64" r="1.9" fill="#000"/>
<circle cx="217.95" cy="384.81" r="1.9" fill="#000"/>
<circle cx="231.95" cy="385.98" r="1.9" fill="#000"/>
<circle cx="226.95" cy="387.14" r="1.9" fill="#000"/>
<circle cx="222.95" cy="388.31" r="1.9" fill="#000"/>
<circle cx="217.95" cy="389.48" r="1.9" fill="#000"/>
<circle cx="231.95" cy="386.68" r="1.9" fill="#000"/>
<circle cx="228.95" cy="384.81" r="1.9" fill="#000"/>
<line x1="224.95" y1="386.86" x2="224.95" y2="384.99" stroke="#222" stroke-width="1.1"/>
<line x1="220.95" y1="384.99" x2="228.95" y2="384.99" stroke="#222" stroke-width="1.1"/>
<line x1="220.95" y1="386.86" x2="228.95" y2="386.86" stroke="#222" stroke-width="1.1"/>
<line x1="197.6" y1="323.6" x2="224.9" y2="323.6" stroke="#222" stroke-width="1.4"/>
<text x="211.25" y="322" font-size="14.5" text-anchor="middle" fill="#222">***</text>
<text x="200.5" y="423.5" font-size="14.5" text-anchor="end" fill="#000" transform="rotate(-45 200.5 423.5)">Vehicle</text>
<text x="232.5" y="424" font-size="14.5" text-anchor="end" fill="#000" transform="rotate(-45 232.5 424)">TEPP-46</text>
<path d="M286.8,319.3 L286.8,412.3 L352,412.3" fill="none" stroke="#444" stroke-width="1.3"/>
<line x1="282.8" y1="412.3" x2="286.8" y2="412.3" stroke="#444" stroke-width="1.3"/>
<text x="280.8" y="417.52" font-size="14.5" text-anchor="end" fill="#000">0</text>
<line x1="282.8" y1="389.05" x2="286.8" y2="389.05" stroke="#444" stroke-width="1.3"/>
<text x="280.8" y="394.27" font-size="14.5" text-anchor="end" fill="#000">2</text>
<line x1="282.8" y1="365.8" x2="286.8" y2="365.8" stroke="#444" stroke-width="1.3"/>
<text x="280.8" y="371.02" font-size="14.5" text-anchor="end" fill="#000">4</text>
<line x1="282.8" y1="342.55" x2="286.8" y2="342.55" stroke="#444" stroke-width="1.3"/>
<text x="280.8" y="347.77" font-size="14.5" text-anchor="end" fill="#000">6</text>
<line x1="282.8" y1="319.3" x2="286.8" y2="319.3" stroke="#444" stroke-width="1.3"/>
<text x="280.8" y="324.52" font-size="14.5" text-anchor="end" fill="#000">8</text>
<line x1="306" y1="412.3" x2="306" y2="416.3" stroke="#444" stroke-width="1.3"/>
<line x1="333.6" y1="412.3" x2="333.6" y2="416.3" stroke="#444" stroke-width="1.3"/>
<text x="264" y="369.5" font-size="14.7" text-anchor="middle" fill="#000" transform="rotate(-90 264 369.5)">HW/BW(mg/g)</text>
<rect x="296.9" y="333.83" width="18.5" height="78.47" fill="#c8def8" stroke="#666" stroke-width="1"/>
<circle cx="305.15" cy="323.95" r="1.9" fill="#000"/>
<circle cx="301.15" cy="330.93" r="1.9" fill="#000"/>
<circle cx="310.15" cy="332.09" r="1.9" fill="#000"/>
<circle cx="302.15" cy="333.25" r="1.9" fill="#000"/>
<circle cx="309.15" cy="342.55" r="1.9" fill="#000"/>
<circle cx="305.15" cy="340.23" r="1.9" fill="#000"/>
<line x1="306.15" y1="336.74" x2="306.15" y2="330.93" stroke="#222" stroke-width="1.1"/>
<line x1="302.15" y1="330.93" x2="310.15" y2="330.93" stroke="#222" stroke-width="1.1"/>
<line x1="302.15" y1="336.74" x2="310.15" y2="336.74" stroke="#222" stroke-width="1.1"/>
<rect x="324.4" y="363.48" width="18.5" height="48.82" fill="#f0cbf6" stroke="#666" stroke-width="1"/>
<circle cx="328.65" cy="361.15" r="1.9" fill="#000"/>
<circle cx="333.65" cy="362.31" r="1.9" fill="#000"/>
<circle cx="338.65" cy="363.48" r="1.9" fill="#000"/>
<circle cx="331.65" cy="365.8" r="1.9" fill="#000"/>
<circle cx="336.65" cy="364.64" r="1.9" fill="#000"/>
<line x1="333.65" y1="364.41" x2="333.65" y2="362.55" stroke="#222" stroke-width="1.1"/>
<line x1="329.65" y1="362.55" x2="337.65" y2="362.55" stroke="#222" stroke-width="1.1"/>
<line x1="329.65" y1="364.41" x2="337.65" y2="364.41" stroke="#222" stroke-width="1.1"/>
<line x1="306.7" y1="318.8" x2="333.6" y2="318.8" stroke="#222" stroke-width="1.4"/>
<text x="320.15" y="317" font-size="14.5" text-anchor="middle" fill="#222">***</text>
<text x="312.5" y="425" font-size="14.5" text-anchor="end" fill="#000" transform="rotate(-45 312.5 425)">Vehicle</text>
<text x="342" y="426" font-size="14.5" text-anchor="end" fill="#000" transform="rotate(-45 342 426)">TEPP-46</text>
<text x="488" y="310.5" font-size="15" fill="#000">MCM<tspan font-size="9" dy="-5.5">+</tspan><tspan dy="5.5" font-style="italic">Jmjd4</tspan><tspan font-size="8" dy="-5.5" font-style="italic"> f/f</tspan></text>
<line x1="452.3" y1="314.8" x2="613.4" y2="314.8" stroke="#000" stroke-width="1.5"/>
<text x="487" y="331" font-size="15" text-anchor="middle" fill="#000">Vehicle</text>
<line x1="452.3" y1="336" x2="521" y2="336" stroke="#000" stroke-width="1.5"/>
<text x="578" y="331" font-size="15" text-anchor="middle" fill="#000">TEPP-46</text>
<line x1="544.6" y1="336" x2="613.4" y2="336" stroke="#000" stroke-width="1.5"/>
<rect x="441.4" y="341.8" width="184.1" height="22" fill="#efefef" stroke="#111" stroke-width="1.4"/>
<rect x="441.4" y="367" width="184.1" height="22" fill="#f0f0f0" stroke="#111" stroke-width="1.4"/>
<rect x="441.4" y="392.5" width="184.1" height="21.9" fill="#f4f4f4" stroke="#111" stroke-width="1.4"/>
<rect x="444" y="345" width="18" height="16" fill="#d8d8d8" opacity="0.6" filter="url(#bblur)"/>
<rect x="442.5" y="376.25" width="21" height="4.5" rx="2.25" fill="#000" opacity="0.95" filter="url(#bblur)"/>
<rect x="442" y="400.3" width="22" height="5" rx="2.5" fill="#000" opacity="0.95" filter="url(#bblur)"/>
<rect x="467" y="345" width="18" height="16" fill="#d8d8d8" opacity="0.6" filter="url(#bblur)"/>
<rect x="465.5" y="376.25" width="21" height="4.5" rx="2.25" fill="#000" opacity="0.95" filter="url(#bblur)"/>
<rect x="465" y="400.3" width="22" height="5" rx="2.5" fill="#000" opacity="0.95" filter="url(#bblur)"/>
<rect x="490.5" y="345" width="18" height="16" fill="#d8d8d8" opacity="0.6" filter="url(#bblur)"/>
<rect x="489" y="376.25" width="21" height="4.5" rx="2.25" fill="#000" opacity="0.95" filter="url(#bblur)"/>
<rect x="488.5" y="400.3" width="22" height="5" rx="2.5" fill="#000" opacity="0.95" filter="url(#bblur)"/>
<rect x="513" y="345" width="18" height="16" fill="#d8d8d8" opacity="0.6" filter="url(#bblur)"/>
<rect x="511.5" y="376.25" width="21" height="4.5" rx="2.25" fill="#000" opacity="0.95" filter="url(#bblur)"/>
<rect x="511" y="400.3" width="22" height="5" rx="2.5" fill="#000" opacity="0.95" filter="url(#bblur)"/>
<path d="M537,343 L559,343 L558,362.5 L538,362.5 Z" fill="#000" filter="url(#bblur)"/>
<rect x="537.5" y="376.25" width="21" height="4.5" rx="2.25" fill="#000" opacity="0.95" filter="url(#bblur)"/>
<rect x="537" y="400.3" width="22" height="5" rx="2.5" fill="#000" opacity="0.95" filter="url(#bblur)"/>
<path d="M559,343 L581,343 L580,362.5 L560,362.5 Z" fill="#000" filter="url(#bblur)"/>
<rect x="559.5" y="376.25" width="21" height="4.5" rx="2.25" fill="#000" opacity="0.95" filter="url(#bblur)"/>
<rect x="559" y="400.3" width="22" height="5" rx="2.5" fill="#000" opacity="0.95" filter="url(#bblur)"/>
<path d="M581.5,343 L603.5,343 L602.5,362.5 L582.5,362.5 Z" fill="#000" filter="url(#bblur)"/>
<rect x="582" y="376.25" width="21" height="4.5" rx="2.25" fill="#000" opacity="0.95" filter="url(#bblur)"/>
<rect x="581.5" y="400.3" width="22" height="5" rx="2.5" fill="#000" opacity="0.95" filter="url(#bblur)"/>
<path d="M603,343 L625,343 L624,362.5 L604,362.5 Z" fill="#000" filter="url(#bblur)"/>
<rect x="603.5" y="376.25" width="21" height="4.5" rx="2.25" fill="#000" opacity="0.95" filter="url(#bblur)"/>
<rect x="603" y="400.3" width="22" height="5" rx="2.5" fill="#000" opacity="0.95" filter="url(#bblur)"/>
<text x="438.5" y="357" font-size="14.5" text-anchor="end" fill="#000">tetramer</text>
<text x="438.5" y="383" font-size="14.5" text-anchor="end" fill="#000">dimer</text>
<text x="438.5" y="407.5" font-size="14.5" text-anchor="end" fill="#000">monomer</text>
<line x1="626" y1="344.5" x2="634" y2="344.5" stroke="#000" stroke-width="1.3"/>
<text x="635" y="349.5" font-size="14.5" text-anchor="start" fill="#000">250kDa</text>
<line x1="626" y1="372" x2="634" y2="372" stroke="#000" stroke-width="1.3"/>
<text x="635" y="377" font-size="14.5" text-anchor="start" fill="#000">70kDa</text>
<line x1="626" y1="407" x2="634" y2="407" stroke="#000" stroke-width="1.3"/>
<text x="635" y="412" font-size="14.5" text-anchor="start" fill="#000">35kDa</text>
<path d="M723.7,313 L723.7,413 L810,413" fill="none" stroke="#444" stroke-width="1.3"/>
<line x1="719.7" y1="413" x2="723.7" y2="413" stroke="#444" stroke-width="1.3"/>
<text x="717.7" y="418.22" font-size="14.5" text-anchor="end" fill="#000">0</text>
<line x1="719.7" y1="393" x2="723.7" y2="393" stroke="#444" stroke-width="1.3"/>
<text x="717.7" y="398.22" font-size="14.5" text-anchor="end" fill="#000">1</text>
<line x1="719.7" y1="373" x2="723.7" y2="373" stroke="#444" stroke-width="1.3"/>
<text x="717.7" y="378.22" font-size="14.5" text-anchor="end" fill="#000">2</text>
<line x1="719.7" y1="353" x2="723.7" y2="353" stroke="#444" stroke-width="1.3"/>
<text x="717.7" y="358.22" font-size="14.5" text-anchor="end" fill="#000">3</text>
<line x1="719.7" y1="333" x2="723.7" y2="333" stroke="#444" stroke-width="1.3"/>
<text x="717.7" y="338.22" font-size="14.5" text-anchor="end" fill="#000">4</text>
<line x1="719.7" y1="313" x2="723.7" y2="313" stroke="#444" stroke-width="1.3"/>
<text x="717.7" y="318.22" font-size="14.5" text-anchor="end" fill="#000">5</text>
<line x1="748" y1="413" x2="748" y2="417" stroke="#444" stroke-width="1.3"/>
<line x1="784.6" y1="413" x2="784.6" y2="417" stroke="#444" stroke-width="1.3"/>
<text x="700" y="363" font-size="15" text-anchor="middle" fill="#000" transform="rotate(-90 700 363)">tetramer/dimer</text>
<rect x="735.7" y="392.25" width="24.3" height="20.75" fill="#c8def8" stroke="#666" stroke-width="1"/>
<circle cx="745.85" cy="387" r="2.2" fill="#000"/>
<circle cx="750.85" cy="387" r="2.2" fill="#000"/>
<circle cx="742.85" cy="398" r="2.2" fill="#000"/>
<circle cx="751.85" cy="397" r="2.2" fill="#000"/>
<line x1="747.85" y1="395.25" x2="747.85" y2="389.25" stroke="#222" stroke-width="1.1"/>
<line x1="743.85" y1="389.25" x2="751.85" y2="389.25" stroke="#222" stroke-width="1.1"/>
<line x1="743.85" y1="395.25" x2="751.85" y2="395.25" stroke="#222" stroke-width="1.1"/>
<rect x="772.4" y="327.75" width="24.4" height="85.25" fill="#f0cbf6" stroke="#666" stroke-width="1"/>
<circle cx="784.6" cy="321" r="2.2" fill="#000"/>
<circle cx="779.6" cy="323" r="2.2" fill="#000"/>
<circle cx="789.6" cy="323" r="2.2" fill="#000"/>
<circle cx="784.6" cy="344" r="2.2" fill="#000"/>
<line x1="784.6" y1="333.75" x2="784.6" y2="321.75" stroke="#222" stroke-width="1.1"/>
<line x1="780.6" y1="321.75" x2="788.6" y2="321.75" stroke="#222" stroke-width="1.1"/>
<line x1="780.6" y1="333.75" x2="788.6" y2="333.75" stroke="#222" stroke-width="1.1"/>
<line x1="748" y1="313" x2="784.8" y2="313" stroke="#222" stroke-width="1.4"/>
<text x="766.4" y="313" font-size="14.5" text-anchor="middle" fill="#222">***</text>
<text x="758" y="426" font-size="14.5" text-anchor="end" fill="#000" transform="rotate(-45 758 426)">Vehicle</text>
<text x="795" y="426" font-size="14.5" text-anchor="end" fill="#000" transform="rotate(-45 795 426)">TEPP-46</text>
<g clip-path="url(#hch1)">
<rect x="49.9" y="733.8" width="92.4" height="81.5" fill="url(#p_sham)"/>
</g>
<rect x="49.9" y="733.8" width="92.4" height="81.5" fill="none" stroke="#111" stroke-width="1.6"/>
<g clip-path="url(#hch2)">
<rect x="49.9" y="817.5" width="92.4" height="81.8" fill="url(#p_tacv)"/>
<ellipse cx="122.78" cy="834.2" rx="5.36" ry="7.28" fill="#c4e4f2" opacity="0.55"/>
<ellipse cx="84.3" cy="831.52" rx="8.06" ry="8.87" fill="#c4e4f2" opacity="0.55"/>
<ellipse cx="80.23" cy="820.28" rx="12.04" ry="5.19" fill="#c4e4f2" opacity="0.55"/>
<ellipse cx="86.45" cy="824.84" rx="5.36" ry="4.98" fill="#c4e4f2" opacity="0.55"/>
<ellipse cx="137.48" cy="856.96" rx="13.56" ry="3.43" fill="#c4e4f2" opacity="0.55"/>
<ellipse cx="111.38" cy="822.38" rx="7.89" ry="7.24" fill="#c4e4f2" opacity="0.55"/>
<ellipse cx="124.88" cy="835.56" rx="7.93" ry="7.87" fill="#c4e4f2" opacity="0.55"/>
<ellipse cx="78.49" cy="856.09" rx="9.79" ry="6.86" fill="#c4e4f2" opacity="0.55"/>
<ellipse cx="134.01" cy="823.08" rx="8.23" ry="5.17" fill="#c4e4f2" opacity="0.55"/>
<path d="M58.04,904.3 Q68.04,858.4 76.29,812.5" fill="none" stroke="#90d0ec" stroke-width="1.09" opacity="0.6"/>
<path d="M91.69,904.3 Q101.69,858.4 96.52,812.5" fill="none" stroke="#90d0ec" stroke-width="1.77" opacity="0.6"/>
<path d="M117.27,904.3 Q127.27,858.4 111.31,812.5" fill="none" stroke="#90d0ec" stroke-width="1.19" opacity="0.6"/>
</g>
<rect x="49.9" y="817.5" width="92.4" height="81.8" fill="none" stroke="#111" stroke-width="1.6"/>
<g clip-path="url(#hch3)">
<rect x="49.9" y="901.8" width="92.4" height="81.5" fill="url(#p_tact)"/>
<path d="M97,988.3 Q103,942.55 107.63,896.8" fill="none" stroke="#86c8e8" stroke-width="1.52" opacity="0.75"/>
<path d="M138.66,988.3 Q144.66,942.55 145.36,896.8" fill="none" stroke="#86c8e8" stroke-width="1.23" opacity="0.75"/>
<path d="M62.9,988.3 Q68.9,942.55 66.64,896.8" fill="none" stroke="#86c8e8" stroke-width="1.71" opacity="0.75"/>
<path d="M95.42,988.3 Q101.42,942.55 107.38,896.8" fill="none" stroke="#86c8e8" stroke-width="1.72" opacity="0.75"/>
<path d="M61.09,988.3 Q67.09,942.55 63.68,896.8" fill="none" stroke="#86c8e8" stroke-width="1.61" opacity="0.75"/>
<path d="M91.05,988.3 Q97.05,942.55 94.41,896.8" fill="none" stroke="#86c8e8" stroke-width="0.99" opacity="0.75"/>
<rect x="49.9" y="901.8" width="92.4" height="81.5" fill="url(#p_sham)" clip-path="url(#hcqh3)"/>
</g>
<rect x="49.9" y="901.8" width="92.4" height="81.5" fill="none" stroke="#111" stroke-width="1.6"/>
<line x1="112.6" y1="976.5" x2="139" y2="976.5" stroke="#000" stroke-width="1.8"/>
<text x="46.5" y="774.5" font-size="15" text-anchor="middle" fill="#000" transform="rotate(-90 46.5 774.5)">Sham</text>
<text x="46.5" y="856" font-size="14.8" text-anchor="middle" fill="#000" transform="rotate(-90 46.5 856)">TAC-Vehicle</text>
<text x="46.5" y="948.5" font-size="14.9" text-anchor="middle" fill="#000" transform="rotate(-90 46.5 948.5)">TAC-TEPP-46</text>
<path d="M203.5,798 L203.5,917.6 L284,917.6" fill="none" stroke="#444" stroke-width="1.3"/>
<line x1="199.5" y1="917.6" x2="203.5" y2="917.6" stroke="#444" stroke-width="1.3"/>
<text x="197.5" y="922.82" font-size="14.5" text-anchor="end" fill="#000">0</text>
<line x1="199.5" y1="893.68" x2="203.5" y2="893.68" stroke="#444" stroke-width="1.3"/>
<text x="197.5" y="898.9" font-size="14.5" text-anchor="end" fill="#000">10</text>
<line x1="199.5" y1="869.76" x2="203.5" y2="869.76" stroke="#444" stroke-width="1.3"/>
<text x="197.5" y="874.98" font-size="14.5" text-anchor="end" fill="#000">20</text>
<line x1="199.5" y1="845.84" x2="203.5" y2="845.84" stroke="#444" stroke-width="1.3"/>
<text x="197.5" y="851.06" font-size="14.5" text-anchor="end" fill="#000">30</text>
<line x1="199.5" y1="821.92" x2="203.5" y2="821.92" stroke="#444" stroke-width="1.3"/>
<text x="197.5" y="827.14" font-size="14.5" text-anchor="end" fill="#000">40</text>
<line x1="199.5" y1="798" x2="203.5" y2="798" stroke="#444" stroke-width="1.3"/>
<text x="197.5" y="803.22" font-size="14.5" text-anchor="end" fill="#000">50</text>
<line x1="220.5" y1="917.6" x2="220.5" y2="921.6" stroke="#444" stroke-width="1.3"/>
<line x1="244.8" y1="917.6" x2="244.8" y2="921.6" stroke="#444" stroke-width="1.3"/>
<line x1="269" y1="917.6" x2="269" y2="921.6" stroke="#444" stroke-width="1.3"/>
<text x="178" y="857.8" font-size="15" text-anchor="middle" fill="#000" transform="rotate(-90 178 857.8)">Fibrosis area%</text>
<rect x="212.4" y="915.93" width="16.6" height="1.67" fill="#d0e0f8" stroke="#666" stroke-width="1"/>
<circle cx="215.7" cy="915.69" r="1.8" fill="#000"/>
<circle cx="218.7" cy="916.16" r="1.8" fill="#000"/>
<circle cx="221.7" cy="915.93" r="1.8" fill="#000"/>
<circle cx="224.7" cy="915.45" r="1.8" fill="#000"/>
<circle cx="226.7" cy="916.4" r="1.8" fill="#000"/>
<rect x="236.6" y="825.69" width="16.4" height="91.91" fill="#bcbcf8" stroke="#666" stroke-width="1"/>
<circle cx="239.8" cy="820.72" r="1.8" fill="#000"/>
<circle cx="249.8" cy="821.92" r="1.8" fill="#000"/>
<circle cx="242.8" cy="823.12" r="1.8" fill="#000"/>
<circle cx="247.8" cy="824.31" r="1.8" fill="#000"/>
<circle cx="238.8" cy="825.51" r="1.8" fill="#000"/>
<circle cx="250.8" cy="825.51" r="1.8" fill="#000"/>
<circle cx="240.8" cy="826.7" r="1.8" fill="#000"/>
<circle cx="245.8" cy="826.7" r="1.8" fill="#000"/>
<circle cx="238.8" cy="827.9" r="1.8" fill="#000"/>
<circle cx="249.8" cy="829.1" r="1.8" fill="#000"/>
<circle cx="243.8" cy="829.57" r="1.8" fill="#000"/>
<circle cx="247.8" cy="827.18" r="1.8" fill="#000"/>
<line x1="244.8" y1="826.64" x2="244.8" y2="824.73" stroke="#222" stroke-width="1.1"/>
<line x1="240.8" y1="824.73" x2="248.8" y2="824.73" stroke="#222" stroke-width="1.1"/>
<line x1="240.8" y1="826.64" x2="248.8" y2="826.64" stroke="#222" stroke-width="1.1"/>
<rect x="260.7" y="883.71" width="16.5" height="33.89" fill="#f0cbf6" stroke="#666" stroke-width="1"/>
<path d="M265.95,874.64 L268.15,878.54 L263.75,878.54 Z" fill="#000"/>
<path d="M271.95,873.44 L274.15,877.34 L269.75,877.34 Z" fill="#000"/>
<path d="M269.95,879.42 L272.15,883.32 L267.75,883.32 Z" fill="#000"/>
<path d="M264.95,886.6 L267.15,890.5 L262.75,890.5 Z" fill="#000"/>
<path d="M266.95,886.6 L269.15,890.5 L264.75,890.5 Z" fill="#000"/>
<path d="M272.95,887.79 L275.15,891.69 L270.75,891.69 Z" fill="#000"/>
<line x1="268.95" y1="886.58" x2="268.95" y2="880.84" stroke="#222" stroke-width="1.1"/>
<line x1="264.95" y1="880.84" x2="272.95" y2="880.84" stroke="#222" stroke-width="1.1"/>
<line x1="264.95" y1="886.58" x2="272.95" y2="886.58" stroke="#222" stroke-width="1.1"/>
<line x1="245" y1="805.3" x2="269.7" y2="805.3" stroke="#222" stroke-width="1.4"/>
<text x="257.35" y="803" font-size="14.5" text-anchor="middle" fill="#222">***</text>
<text x="201" y="936.5" font-size="15" text-anchor="end" fill="#000">TAC</text>
<text x="220" y="936.5" font-size="13" text-anchor="middle" fill="#000">-</text>
<text x="244.5" y="936.5" font-size="13" text-anchor="middle" fill="#000">+</text>
<text x="269.5" y="936.5" font-size="13" text-anchor="middle" fill="#000">+</text>
<text x="201" y="952" font-size="15" text-anchor="end" fill="#000">TEPP-46</text>
<text x="220" y="952" font-size="13" text-anchor="middle" fill="#000">-</text>
<text x="244.5" y="952" font-size="13" text-anchor="middle" fill="#000">-</text>
<text x="269.5" y="952" font-size="13" text-anchor="middle" fill="#000">+</text>
<path d="M343.4,798 L343.4,917.6 L426,917.6" fill="none" stroke="#444" stroke-width="1.3"/>
<line x1="339.4" y1="917.6" x2="343.4" y2="917.6" stroke="#444" stroke-width="1.3"/>
<text x="337.4" y="922.82" font-size="14.5" text-anchor="end" fill="#000">0</text>
<line x1="339.4" y1="893.68" x2="343.4" y2="893.68" stroke="#444" stroke-width="1.3"/>
<text x="337.4" y="898.9" font-size="14.5" text-anchor="end" fill="#000">2</text>
<line x1="339.4" y1="869.76" x2="343.4" y2="869.76" stroke="#444" stroke-width="1.3"/>
<text x="337.4" y="874.98" font-size="14.5" text-anchor="end" fill="#000">4</text>
<line x1="339.4" y1="845.84" x2="343.4" y2="845.84" stroke="#444" stroke-width="1.3"/>
<text x="337.4" y="851.06" font-size="14.5" text-anchor="end" fill="#000">6</text>
<line x1="339.4" y1="821.92" x2="343.4" y2="821.92" stroke="#444" stroke-width="1.3"/>
<text x="337.4" y="827.14" font-size="14.5" text-anchor="end" fill="#000">8</text>
<line x1="339.4" y1="798" x2="343.4" y2="798" stroke="#444" stroke-width="1.3"/>
<text x="337.4" y="803.22" font-size="14.5" text-anchor="end" fill="#000">10</text>
<line x1="361.5" y1="917.6" x2="361.5" y2="921.6" stroke="#444" stroke-width="1.3"/>
<line x1="385.5" y1="917.6" x2="385.5" y2="921.6" stroke="#444" stroke-width="1.3"/>
<line x1="410" y1="917.6" x2="410" y2="921.6" stroke="#444" stroke-width="1.3"/>
<text x="318" y="857.8" font-size="15" text-anchor="middle" fill="#000" transform="rotate(-90 318 857.8)">HW/BW(mg/g)</text>
<rect x="353" y="867.37" width="16.3" height="50.23" fill="#c8def8" stroke="#666" stroke-width="1"/>
<circle cx="356.15" cy="868.56" r="1.8" fill="#000"/>
<circle cx="358.15" cy="867.37" r="1.8" fill="#000"/>
<circle cx="360.15" cy="866.17" r="1.8" fill="#000"/>
<circle cx="362.15" cy="867.37" r="1.8" fill="#000"/>
<circle cx="364.15" cy="866.77" r="1.8" fill="#000"/>
<circle cx="366.15" cy="867.97" r="1.8" fill="#000"/>
<rect x="377" y="841.3" width="17" height="76.3" fill="#bcbcf8" stroke="#666" stroke-width="1"/>
<circle cx="384.5" cy="824.31" r="1.8" fill="#000"/>
<circle cx="381.5" cy="830.29" r="1.8" fill="#000"/>
<circle cx="389.5" cy="833.88" r="1.8" fill="#000"/>
<circle cx="379.5" cy="836.27" r="1.8" fill="#000"/>
<circle cx="391.5" cy="837.47" r="1.8" fill="#000"/>
<circle cx="382.5" cy="839.86" r="1.8" fill="#000"/>
<circle cx="387.5" cy="841.06" r="1.8" fill="#000"/>
<circle cx="380.5" cy="842.25" r="1.8" fill="#000"/>
<circle cx="390.5" cy="843.45" r="1.8" fill="#000"/>
<circle cx="383.5" cy="845.84" r="1.8" fill="#000"/>
<circle cx="388.5" cy="847.04" r="1.8" fill="#000"/>
<circle cx="380.5" cy="850.62" r="1.8" fill="#000"/>
<circle cx="386.5" cy="853.02" r="1.8" fill="#000"/>
<circle cx="384.5" cy="855.41" r="1.8" fill="#000"/>
<circle cx="385.5" cy="838.66" r="1.8" fill="#000"/>
<line x1="385.5" y1="843.69" x2="385.5" y2="838.9" stroke="#222" stroke-width="1.1"/>
<line x1="381.5" y1="838.9" x2="389.5" y2="838.9" stroke="#222" stroke-width="1.1"/>
<line x1="381.5" y1="843.69" x2="389.5" y2="843.69" stroke="#222" stroke-width="1.1"/>
<rect x="401.4" y="859.3" width="16.6" height="58.3" fill="#f0cbf6" stroke="#666" stroke-width="1"/>
<path d="M404.7,845.93 L406.9,849.83 L402.5,849.83 Z" fill="#000"/>
<path d="M408.7,847.13 L410.9,851.03 L406.5,851.03 Z" fill="#000"/>
<path d="M412.7,848.32 L414.9,852.22 L410.5,852.22 Z" fill="#000"/>
<path d="M415.7,849.52 L417.9,853.42 L413.5,853.42 Z" fill="#000"/>
<path d="M405.7,854.3 L407.9,858.2 L403.5,858.2 Z" fill="#000"/>
<path d="M411.7,855.5 L413.9,859.4 L409.5,859.4 Z" fill="#000"/>
<path d="M403.7,856.7 L405.9,860.6 L401.5,860.6 Z" fill="#000"/>
<path d="M414.7,860.28 L416.9,864.18 L412.5,864.18 Z" fill="#000"/>
<path d="M407.7,862.68 L409.9,866.58 L405.5,866.58 Z" fill="#000"/>
<path d="M412.7,865.07 L414.9,868.97 L410.5,868.97 Z" fill="#000"/>
<path d="M404.7,868.66 L406.9,872.56 L402.5,872.56 Z" fill="#000"/>
<path d="M414.7,869.85 L416.9,873.75 L412.5,873.75 Z" fill="#000"/>
<line x1="409.7" y1="861.69" x2="409.7" y2="856.9" stroke="#222" stroke-width="1.1"/>
<line x1="405.7" y1="856.9" x2="413.7" y2="856.9" stroke="#222" stroke-width="1.1"/>
<line x1="405.7" y1="861.69" x2="413.7" y2="861.69" stroke="#222" stroke-width="1.1"/>
<line x1="386" y1="810" x2="410.7" y2="810" stroke="#222" stroke-width="1.4"/>
<text x="398.35" y="807" font-size="14.5" text-anchor="middle" fill="#222">***</text>
<text x="342.8" y="936.5" font-size="15" text-anchor="end" fill="#000">TAC</text>
<text x="361.7" y="936.5" font-size="13" text-anchor="middle" fill="#000">-</text>
<text x="385.5" y="936.5" font-size="13" text-anchor="middle" fill="#000">+</text>
<text x="410.7" y="936.5" font-size="13" text-anchor="middle" fill="#000">+</text>
<text x="342.8" y="952" font-size="15" text-anchor="end" fill="#000">TEPP-46</text>
<text x="361.7" y="952" font-size="13" text-anchor="middle" fill="#000">-</text>
<text x="385.5" y="952" font-size="13" text-anchor="middle" fill="#000">-</text>
<text x="410.7" y="952" font-size="13" text-anchor="middle" fill="#000">+</text>
<text x="582.5" y="813.5" font-size="15" text-anchor="middle" fill="#000">TAC</text>
<line x1="499.8" y1="818" x2="664.6" y2="818" stroke="#000" stroke-width="1.5"/>
<text x="523.6" y="834" font-size="15" text-anchor="middle" fill="#000">Vehicle</text>
<line x1="499.8" y1="838.9" x2="547.8" y2="838.9" stroke="#000" stroke-width="1.5"/>
<text x="618" y="834" font-size="15" text-anchor="middle" fill="#000">TEPP-46</text>
<line x1="570.3" y1="838.9" x2="664" y2="838.9" stroke="#000" stroke-width="1.5"/>
<rect x="490.2" y="843" width="185" height="23.2" fill="#f0f0f0" stroke="#111" stroke-width="1.4"/>
<rect x="490.2" y="869.4" width="185" height="22.6" fill="#f2f2f2" stroke="#111" stroke-width="1.4"/>
<rect x="490.2" y="895.2" width="185" height="22.5" fill="#f4f4f4" stroke="#111" stroke-width="1.4"/>
<ellipse cx="502" cy="853" rx="9" ry="4" fill="#000" opacity="0.12" filter="url(#bblur)"/>
<rect x="491.5" y="876.75" width="21" height="5.5" rx="2.75" fill="#000" opacity="0.95" filter="url(#bblur)"/>
<rect x="493" y="884.5" width="18" height="3" fill="#000" opacity="0.1" filter="url(#bblur)"/>
<rect x="491.5" y="903.75" width="21" height="4.5" rx="2.25" fill="#000" opacity="0.9" filter="url(#bblur)"/>
<ellipse cx="524.6" cy="853" rx="9" ry="4" fill="#000" opacity="0.35" filter="url(#bblur)"/>
<rect x="514.1" y="876.75" width="21" height="5.5" rx="2.75" fill="#000" opacity="0.95" filter="url(#bblur)"/>
<rect x="515.6" y="884.5" width="18" height="3" fill="#000" opacity="0.1" filter="url(#bblur)"/>
<rect x="514.1" y="903.75" width="21" height="4.5" rx="2.25" fill="#000" opacity="0.9" filter="url(#bblur)"/>
<ellipse cx="548.7" cy="853" rx="9" ry="4" fill="#000" opacity="0.12" filter="url(#bblur)"/>
<rect x="538.2" y="876.75" width="21" height="5.5" rx="2.75" fill="#000" opacity="0.95" filter="url(#bblur)"/>
<rect x="539.7" y="884.5" width="18" height="3" fill="#000" opacity="0.1" filter="url(#bblur)"/>
<rect x="538.2" y="903.75" width="21" height="4.5" rx="2.25" fill="#000" opacity="0.9" filter="url(#bblur)"/>
<path d="M560.5,845 L581.5,845 L581,865 L561,865 Z" fill="#000" filter="url(#bblur)"/>
<rect x="560.5" y="876.75" width="21" height="5.5" rx="2.75" fill="#000" opacity="0.95" filter="url(#bblur)"/>
<rect x="562" y="884.5" width="18" height="3" fill="#000" opacity="0.1" filter="url(#bblur)"/>
<rect x="560.5" y="903.75" width="21" height="4.5" rx="2.25" fill="#000" opacity="0.9" filter="url(#bblur)"/>
<path d="M583.3,845 L604.3,845 L603.8,865 L583.8,865 Z" fill="#000" filter="url(#bblur)"/>
<rect x="583.3" y="876.75" width="21" height="5.5" rx="2.75" fill="#000" opacity="0.95" filter="url(#bblur)"/>
<rect x="584.8" y="884.5" width="18" height="3" fill="#000" opacity="0.1" filter="url(#bblur)"/>
<rect x="583.3" y="903.75" width="21" height="4.5" rx="2.25" fill="#000" opacity="0.9" filter="url(#bblur)"/>
<path d="M605.8,845 L626.8,845 L626.3,865 L606.3,865 Z" fill="#000" filter="url(#bblur)"/>
<rect x="605.8" y="876.75" width="21" height="5.5" rx="2.75" fill="#000" opacity="0.95" filter="url(#bblur)"/>
<rect x="607.3" y="884.5" width="18" height="3" fill="#000" opacity="0.1" filter="url(#bblur)"/>
<rect x="605.8" y="903.75" width="21" height="4.5" rx="2.25" fill="#000" opacity="0.9" filter="url(#bblur)"/>
<path d="M628.4,845 L649.4,845 L648.9,865 L628.9,865 Z" fill="#000" filter="url(#bblur)"/>
<rect x="628.4" y="876.75" width="21" height="5.5" rx="2.75" fill="#000" opacity="0.95" filter="url(#bblur)"/>
<rect x="629.9" y="884.5" width="18" height="3" fill="#000" opacity="0.1" filter="url(#bblur)"/>
<rect x="628.4" y="903.75" width="21" height="4.5" rx="2.25" fill="#000" opacity="0.9" filter="url(#bblur)"/>
<path d="M650.9,845 L671.9,845 L671.4,865 L651.4,865 Z" fill="#000" filter="url(#bblur)"/>
<rect x="650.9" y="876.75" width="21" height="5.5" rx="2.75" fill="#000" opacity="0.95" filter="url(#bblur)"/>
<rect x="652.4" y="884.5" width="18" height="3" fill="#000" opacity="0.1" filter="url(#bblur)"/>
<rect x="650.9" y="903.75" width="21" height="4.5" rx="2.25" fill="#000" opacity="0.9" filter="url(#bblur)"/>
<text x="487.6" y="861" font-size="14.5" text-anchor="end" fill="#000">tetramer</text>
<text x="487.6" y="886" font-size="14.5" text-anchor="end" fill="#000">dimer</text>
<text x="487.6" y="908.5" font-size="14.5" text-anchor="end" fill="#000">monomer</text>
<line x1="675.7" y1="847.5" x2="684" y2="847.5" stroke="#000" stroke-width="1.3"/>
<text x="684" y="852.5" font-size="14.5" text-anchor="start" fill="#000">250kDa</text>
<line x1="675.7" y1="874.5" x2="684" y2="874.5" stroke="#000" stroke-width="1.3"/>
<text x="684" y="879.5" font-size="14.5" text-anchor="start" fill="#000">70kDa</text>
<line x1="675.7" y1="910" x2="684" y2="910" stroke="#000" stroke-width="1.3"/>
<text x="684" y="915" font-size="14.5" text-anchor="start" fill="#000">35kDa</text>
<path d="M778.3,796.6 L778.3,917.2 L850.2,917.2" fill="none" stroke="#444" stroke-width="1.3"/>
<line x1="773.8" y1="917.2" x2="778.3" y2="917.2" stroke="#444" stroke-width="1.3"/>
<text x="770.3" y="922.42" font-size="14.5" text-anchor="end" fill="#000">0.0</text>
<line x1="773.8" y1="887.05" x2="778.3" y2="887.05" stroke="#444" stroke-width="1.3"/>
<text x="770.3" y="892.27" font-size="14.5" text-anchor="end" fill="#000">0.5</text>
<line x1="773.8" y1="856.9" x2="778.3" y2="856.9" stroke="#444" stroke-width="1.3"/>
<text x="770.3" y="862.12" font-size="14.5" text-anchor="end" fill="#000">1.0</text>
<line x1="773.8" y1="826.75" x2="778.3" y2="826.75" stroke="#444" stroke-width="1.3"/>
<text x="770.3" y="831.97" font-size="14.5" text-anchor="end" fill="#000">1.5</text>
<line x1="773.8" y1="796.6" x2="778.3" y2="796.6" stroke="#444" stroke-width="1.3"/>
<text x="770.3" y="801.82" font-size="14.5" text-anchor="end" fill="#000">2.0</text>
<line x1="798.4" y1="917.2" x2="798.4" y2="921.7" stroke="#444" stroke-width="1.3"/>
<line x1="829.3" y1="917.2" x2="829.3" y2="921.7" stroke="#444" stroke-width="1.3"/>
<text x="746" y="856.9" font-size="15" text-anchor="middle" fill="#000" transform="rotate(-90 746 856.9)">tetramer/dimer</text>
<rect x="788.4" y="896.5" width="20" height="20.7" fill="#c8def8" stroke="#666" stroke-width="1"/>
<circle cx="798.4" cy="894.29" r="2.2" fill="#000"/>
<circle cx="802.4" cy="896.1" r="2.2" fill="#000"/>
<circle cx="796.4" cy="899.11" r="2.2" fill="#000"/>
<line x1="798.4" y1="898.31" x2="798.4" y2="894.69" stroke="#222" stroke-width="1.1"/>
<line x1="794.4" y1="894.69" x2="802.4" y2="894.69" stroke="#222" stroke-width="1.1"/>
<line x1="794.4" y1="898.31" x2="802.4" y2="898.31" stroke="#222" stroke-width="1.1"/>
<rect x="819.3" y="823.37" width="20" height="93.83" fill="#f0cbf6" stroke="#666" stroke-width="1"/>
<circle cx="823.3" cy="815.9" r="2.2" fill="#000"/>
<circle cx="835.3" cy="815.9" r="2.2" fill="#000"/>
<circle cx="828.3" cy="823.74" r="2.2" fill="#000"/>
<circle cx="824.3" cy="829.76" r="2.2" fill="#000"/>
<circle cx="834.3" cy="831.57" r="2.2" fill="#000"/>
<line x1="829.3" y1="826.99" x2="829.3" y2="819.76" stroke="#222" stroke-width="1.1"/>
<line x1="825.3" y1="819.76" x2="833.3" y2="819.76" stroke="#222" stroke-width="1.1"/>
<line x1="825.3" y1="826.99" x2="833.3" y2="826.99" stroke="#222" stroke-width="1.1"/>
<line x1="798.8" y1="802.6" x2="829" y2="802.6" stroke="#222" stroke-width="1.4"/>
<text x="813.9" y="800" font-size="14.5" text-anchor="middle" fill="#222">***</text>
<text x="811" y="930" font-size="14.5" text-anchor="end" fill="#000" transform="rotate(-45 811 930)">Vehicle</text>
<text x="842" y="930" font-size="14.5" text-anchor="end" fill="#000" transform="rotate(-45 842 930)">TEPP-46</text>
<rect x="51" y="1015" width="774.5" height="299.5" rx="3" fill="none" stroke="#111" stroke-width="2"/>
<text x="146.6" y="1042" font-size="14.5" text-anchor="middle" fill="#000">Wt/Sham</text>
<text x="342.3" y="1042" font-size="14.5" text-anchor="middle" fill="#000"><tspan font-style="italic">Jmjd4</tspan> CKO/TAC</text>
<text x="539.9" y="1042" font-size="14.5" text-anchor="middle" fill="#000">TAC+<tspan font-style="italic">Jmjd4</tspan> OE</text>
<text x="732.5" y="1041.5" font-size="14.5" text-anchor="middle" fill="#000"><tspan font-style="italic">Jmjd4</tspan> CKO/TAC</text>
<text x="732.5" y="1054" font-size="14.5" text-anchor="middle" fill="#000">+TEPP46</text>
<line x1="243" y1="1057" x2="243" y2="1258" stroke="#222" stroke-width="1.4" stroke-dasharray="3.2 2"/>
<line x1="438" y1="1057" x2="438" y2="1258" stroke="#222" stroke-width="1.4" stroke-dasharray="3.2 2"/>
<line x1="632.6" y1="1057" x2="632.6" y2="1258" stroke="#222" stroke-width="1.4" stroke-dasharray="3.2 2"/>
<g transform="translate(0 0) scale(1)">
<line x1="116.5" y1="1079.7" x2="120.9" y2="1087.2" stroke="#333" stroke-width="1"/>
<line x1="119" y1="1094.8" x2="111.4" y2="1099.3" stroke="#333" stroke-width="1"/>
<line x1="127.2" y1="1089.8" x2="136.1" y2="1084.7" stroke="#333" stroke-width="1"/>
<line x1="145" y1="1084.7" x2="158.2" y2="1091.7" stroke="#333" stroke-width="1"/>
<line x1="158.2" y1="1091.7" x2="174.7" y2="1082.2" stroke="#333" stroke-width="1"/>
<line x1="174.7" y1="1082.2" x2="188.6" y2="1088.5" stroke="#333" stroke-width="1"/>
<line x1="123.6" y1="1096.8" x2="129.6" y2="1105.6" stroke="#333" stroke-width="1"/>
<line x1="126" y1="1095.2" x2="132" y2="1104" stroke="#333" stroke-width="1"/>
<line x1="156.8" y1="1092.5" x2="156.8" y2="1111.3" stroke="#333" stroke-width="1"/>
<line x1="159.6" y1="1091.7" x2="159.6" y2="1111.3" stroke="#333" stroke-width="1"/>
<line x1="173.3" y1="1083" x2="173.3" y2="1067" stroke="#333" stroke-width="1"/>
<line x1="176.1" y1="1082.2" x2="176.1" y2="1067" stroke="#333" stroke-width="1"/>
<text x="110.2" y="1078.55" font-size="9.3" text-anchor="middle" fill="#222">HO</text>
<text x="123.1" y="1096.05" font-size="9.3" text-anchor="middle" fill="#222">P</text>
<text x="103.2" y="1105.15" font-size="9.3" text-anchor="middle" fill="#222">HO</text>
<text x="132.9" y="1112.75" font-size="9.3" text-anchor="middle" fill="#222">O</text>
<text x="140.5" y="1085.55" font-size="9.3" text-anchor="middle" fill="#222">O</text>
<text x="174.7" y="1065.35" font-size="9.3" text-anchor="middle" fill="#222">O</text>
<text x="194.9" y="1095.65" font-size="9.3" text-anchor="middle" fill="#222">OH</text>
</g>
<g transform="translate(0 0) scale(1)">
<line x1="129.8" y1="1229.5" x2="142.2" y2="1222.2" stroke="#333" stroke-width="1"/>
<line x1="142.2" y1="1222.2" x2="159.7" y2="1231.4" stroke="#333" stroke-width="1"/>
<line x1="159.7" y1="1231.4" x2="171.2" y2="1224.8" stroke="#333" stroke-width="1"/>
<line x1="158.3" y1="1232" x2="158.3" y2="1246" stroke="#333" stroke-width="1"/>
<line x1="161.1" y1="1231.4" x2="161.1" y2="1246" stroke="#333" stroke-width="1"/>
<line x1="140.8" y1="1208" x2="140.8" y2="1222.5" stroke="#333" stroke-width="1"/>
<line x1="143.6" y1="1208" x2="143.6" y2="1222.5" stroke="#333" stroke-width="1"/>
<text x="142.2" y="1206.5" font-size="10" text-anchor="middle" fill="#222">O</text>
<text x="175.8" y="1225.3" font-size="10" text-anchor="middle" fill="#222">O</text>
<circle cx="180.2" cy="1217.2" r="0.5" fill="#222"/>
<text x="159.7" y="1254.7" font-size="10" text-anchor="middle" fill="#222">O</text>
<text x="111" y="1235.4" font-size="10" fill="#222">H<tspan font-size="7" dy="2.5">3</tspan><tspan dy="-2.5">C</tspan></text>
</g>
<g transform="translate(190 0) scale(1)">
<line x1="116.5" y1="1079.7" x2="120.9" y2="1087.2" stroke="#333" stroke-width="1"/>
<line x1="119" y1="1094.8" x2="111.4" y2="1099.3" stroke="#333" stroke-width="1"/>
<line x1="127.2" y1="1089.8" x2="136.1" y2="1084.7" stroke="#333" stroke-width="1"/>
<line x1="145" y1="1084.7" x2="158.2" y2="1091.7" stroke="#333" stroke-width="1"/>
<line x1="158.2" y1="1091.7" x2="174.7" y2="1082.2" stroke="#333" stroke-width="1"/>
<line x1="174.7" y1="1082.2" x2="188.6" y2="1088.5" stroke="#333" stroke-width="1"/>
<line x1="123.6" y1="1096.8" x2="129.6" y2="1105.6" stroke="#333" stroke-width="1"/>
<line x1="126" y1="1095.2" x2="132" y2="1104" stroke="#333" stroke-width="1"/>
<line x1="156.8" y1="1092.5" x2="156.8" y2="1111.3" stroke="#333" stroke-width="1"/>
<line x1="159.6" y1="1091.7" x2="159.6" y2="1111.3" stroke="#333" stroke-width="1"/>
<line x1="173.3" y1="1083" x2="173.3" y2="1067" stroke="#333" stroke-width="1"/>
<line x1="176.1" y1="1082.2" x2="176.1" y2="1067" stroke="#333" stroke-width="1"/>
<text x="110.2" y="1078.55" font-size="9.3" text-anchor="middle" fill="#222">HO</text>
<text x="123.1" y="1096.05" font-size="9.3" text-anchor="middle" fill="#222">P</text>
<text x="103.2" y="1105.15" font-size="9.3" text-anchor="middle" fill="#222">HO</text>
<text x="132.9" y="1112.75" font-size="9.3" text-anchor="middle" fill="#222">O</text>
<text x="140.5" y="1085.55" font-size="9.3" text-anchor="middle" fill="#222">O</text>
<text x="174.7" y="1065.35" font-size="9.3" text-anchor="middle" fill="#222">O</text>
<text x="194.9" y="1095.65" font-size="9.3" text-anchor="middle" fill="#222">OH</text>
</g>
<g transform="translate(190 0) scale(1)">
<line x1="129.8" y1="1229.5" x2="142.2" y2="1222.2" stroke="#333" stroke-width="1"/>
<line x1="142.2" y1="1222.2" x2="159.7" y2="1231.4" stroke="#333" stroke-width="1"/>
<line x1="159.7" y1="1231.4" x2="171.2" y2="1224.8" stroke="#333" stroke-width="1"/>
<line x1="158.3" y1="1232" x2="158.3" y2="1246" stroke="#333" stroke-width="1"/>
<line x1="161.1" y1="1231.4" x2="161.1" y2="1246" stroke="#333" stroke-width="1"/>
<line x1="140.8" y1="1208" x2="140.8" y2="1222.5" stroke="#333" stroke-width="1"/>
<line x1="143.6" y1="1208" x2="143.6" y2="1222.5" stroke="#333" stroke-width="1"/>
<text x="142.2" y="1206.5" font-size="10" text-anchor="middle" fill="#222">O</text>
<text x="175.8" y="1225.3" font-size="10" text-anchor="middle" fill="#222">O</text>
<circle cx="180.2" cy="1217.2" r="0.5" fill="#222"/>
<text x="159.7" y="1254.7" font-size="10" text-anchor="middle" fill="#222">O</text>
<text x="111" y="1235.4" font-size="10" fill="#222">H<tspan font-size="7" dy="2.5">3</tspan><tspan dy="-2.5">C</tspan></text>
</g>
<g transform="translate(380.4 0) scale(1)">
<line x1="116.5" y1="1079.7" x2="120.9" y2="1087.2" stroke="#333" stroke-width="1"/>
<line x1="119" y1="1094.8" x2="111.4" y2="1099.3" stroke="#333" stroke-width="1"/>
<line x1="127.2" y1="1089.8" x2="136.1" y2="1084.7" stroke="#333" stroke-width="1"/>
<line x1="145" y1="1084.7" x2="158.2" y2="1091.7" stroke="#333" stroke-width="1"/>
<line x1="158.2" y1="1091.7" x2="174.7" y2="1082.2" stroke="#333" stroke-width="1"/>
<line x1="174.7" y1="1082.2" x2="188.6" y2="1088.5" stroke="#333" stroke-width="1"/>
<line x1="123.6" y1="1096.8" x2="129.6" y2="1105.6" stroke="#333" stroke-width="1"/>
<line x1="126" y1="1095.2" x2="132" y2="1104" stroke="#333" stroke-width="1"/>
<line x1="156.8" y1="1092.5" x2="156.8" y2="1111.3" stroke="#333" stroke-width="1"/>
<line x1="159.6" y1="1091.7" x2="159.6" y2="1111.3" stroke="#333" stroke-width="1"/>
<line x1="173.3" y1="1083" x2="173.3" y2="1067" stroke="#333" stroke-width="1"/>
<line x1="176.1" y1="1082.2" x2="176.1" y2="1067" stroke="#333" stroke-width="1"/>
<text x="110.2" y="1078.55" font-size="9.3" text-anchor="middle" fill="#222">HO</text>
<text x="123.1" y="1096.05" font-size="9.3" text-anchor="middle" fill="#222">P</text>
<text x="103.2" y="1105.15" font-size="9.3" text-anchor="middle" fill="#222">HO</text>
<text x="132.9" y="1112.75" font-size="9.3" text-anchor="middle" fill="#222">O</text>
<text x="140.5" y="1085.55" font-size="9.3" text-anchor="middle" fill="#222">O</text>
<text x="174.7" y="1065.35" font-size="9.3" text-anchor="middle" fill="#222">O</text>
<text x="194.9" y="1095.65" font-size="9.3" text-anchor="middle" fill="#222">OH</text>
</g>
<g transform="translate(380.4 0) scale(1)">
<line x1="129.8" y1="1229.5" x2="142.2" y2="1222.2" stroke="#333" stroke-width="1"/>
<line x1="142.2" y1="1222.2" x2="159.7" y2="1231.4" stroke="#333" stroke-width="1"/>
<line x1="159.7" y1="1231.4" x2="171.2" y2="1224.8" stroke="#333" stroke-width="1"/>
<line x1="158.3" y1="1232" x2="158.3" y2="1246" stroke="#333" stroke-width="1"/>
<line x1="161.1" y1="1231.4" x2="161.1" y2="1246" stroke="#333" stroke-width="1"/>
<line x1="140.8" y1="1208" x2="140.8" y2="1222.5" stroke="#333" stroke-width="1"/>
<line x1="143.6" y1="1208" x2="143.6" y2="1222.5" stroke="#333" stroke-width="1"/>
<text x="142.2" y="1206.5" font-size="10" text-anchor="middle" fill="#222">O</text>
<text x="175.8" y="1225.3" font-size="10" text-anchor="middle" fill="#222">O</text>
<circle cx="180.2" cy="1217.2" r="0.5" fill="#222"/>
<text x="159.7" y="1254.7" font-size="10" text-anchor="middle" fill="#222">O</text>
<text x="111" y="1235.4" font-size="10" fill="#222">H<tspan font-size="7" dy="2.5">3</tspan><tspan dy="-2.5">C</tspan></text>
</g>
<g transform="translate(589.9 0) scale(1)">
<line x1="116.5" y1="1079.7" x2="120.9" y2="1087.2" stroke="#333" stroke-width="1"/>
<line x1="119" y1="1094.8" x2="111.4" y2="1099.3" stroke="#333" stroke-width="1"/>
<line x1="127.2" y1="1089.8" x2="136.1" y2="1084.7" stroke="#333" stroke-width="1"/>
<line x1="145" y1="1084.7" x2="158.2" y2="1091.7" stroke="#333" stroke-width="1"/>
<line x1="158.2" y1="1091.7" x2="174.7" y2="1082.2" stroke="#333" stroke-width="1"/>
<line x1="174.7" y1="1082.2" x2="188.6" y2="1088.5" stroke="#333" stroke-width="1"/>
<line x1="123.6" y1="1096.8" x2="129.6" y2="1105.6" stroke="#333" stroke-width="1"/>
<line x1="126" y1="1095.2" x2="132" y2="1104" stroke="#333" stroke-width="1"/>
<line x1="156.8" y1="1092.5" x2="156.8" y2="1111.3" stroke="#333" stroke-width="1"/>
<line x1="159.6" y1="1091.7" x2="159.6" y2="1111.3" stroke="#333" stroke-width="1"/>
<line x1="173.3" y1="1083" x2="173.3" y2="1067" stroke="#333" stroke-width="1"/>
<line x1="176.1" y1="1082.2" x2="176.1" y2="1067" stroke="#333" stroke-width="1"/>
<text x="110.2" y="1078.55" font-size="9.3" text-anchor="middle" fill="#222">HO</text>
<text x="123.1" y="1096.05" font-size="9.3" text-anchor="middle" fill="#222">P</text>
<text x="103.2" y="1105.15" font-size="9.3" text-anchor="middle" fill="#222">HO</text>
<text x="132.9" y="1112.75" font-size="9.3" text-anchor="middle" fill="#222">O</text>
<text x="140.5" y="1085.55" font-size="9.3" text-anchor="middle" fill="#222">O</text>
<text x="174.7" y="1065.35" font-size="9.3" text-anchor="middle" fill="#222">O</text>
<text x="194.9" y="1095.65" font-size="9.3" text-anchor="middle" fill="#222">OH</text>
</g>
<g transform="translate(589.9 0) scale(1)">
<line x1="129.8" y1="1229.5" x2="142.2" y2="1222.2" stroke="#333" stroke-width="1"/>
<line x1="142.2" y1="1222.2" x2="159.7" y2="1231.4" stroke="#333" stroke-width="1"/>
<line x1="159.7" y1="1231.4" x2="171.2" y2="1224.8" stroke="#333" stroke-width="1"/>
<line x1="158.3" y1="1232" x2="158.3" y2="1246" stroke="#333" stroke-width="1"/>
<line x1="161.1" y1="1231.4" x2="161.1" y2="1246" stroke="#333" stroke-width="1"/>
<line x1="140.8" y1="1208" x2="140.8" y2="1222.5" stroke="#333" stroke-width="1"/>
<line x1="143.6" y1="1208" x2="143.6" y2="1222.5" stroke="#333" stroke-width="1"/>
<text x="142.2" y="1206.5" font-size="10" text-anchor="middle" fill="#222">O</text>
<text x="175.8" y="1225.3" font-size="10" text-anchor="middle" fill="#222">O</text>
<circle cx="180.2" cy="1217.2" r="0.5" fill="#222"/>
<text x="159.7" y="1254.7" font-size="10" text-anchor="middle" fill="#222">O</text>
<text x="111" y="1235.4" font-size="10" fill="#222">H<tspan font-size="7" dy="2.5">3</tspan><tspan dy="-2.5">C</tspan></text>
</g>
<rect x="101.7" y="1125.4" width="24" height="24" fill="#00b0ef" stroke="#111" stroke-width="1.2"/>
<line x1="113.7" y1="1125.4" x2="113.7" y2="1149.4" stroke="#111" stroke-width="1.6"/>
<line x1="101.7" y1="1137.4" x2="125.7" y2="1137.4" stroke="#111" stroke-width="1.6"/>
<rect x="101.7" y="1154" width="24" height="24" fill="#00b0ef" stroke="#111" stroke-width="1.2"/>
<line x1="113.7" y1="1154" x2="113.7" y2="1178" stroke="#111" stroke-width="1.6"/>
<line x1="101.7" y1="1166" x2="125.7" y2="1166" stroke="#111" stroke-width="1.6"/>
<path d="M140.8,1124.5 L157.4,1124.5 L157.4,1171 L165.65,1171 L149.1,1189 L132.55,1171 L140.8,1171 Z" fill="#000"/>
<line x1="262.5" y1="1133.5" x2="279.5" y2="1150" stroke="#f01010" stroke-width="3.2"/>
<line x1="262.5" y1="1150" x2="279.5" y2="1133.5" stroke="#f01010" stroke-width="3.2"/>
<rect x="286" y="1127.5" width="24" height="24" fill="#00b0ef" stroke="#111" stroke-width="1.2"/>
<line x1="298" y1="1127.5" x2="298" y2="1151.5" stroke="#111" stroke-width="1.6"/>
<line x1="286" y1="1139.5" x2="310" y2="1139.5" stroke="#111" stroke-width="1.6"/>
<path d="M336.3,1125 L340.5,1125 L341,1172 L346.9,1172 L338.9,1188.5 L330.8,1172 L337.2,1172 Z" fill="#000"/>
<text x="292.4" y="1177" font-size="11.6" text-anchor="middle" fill="#000">Competitive</text>
<text x="292.4" y="1189.5" font-size="11.6" text-anchor="middle" fill="#000">inhibiton</text>
<circle cx="371.4" cy="1139.9" r="5.8" fill="#f6b350" stroke="#e8801e" stroke-width="1.1"/>
<circle cx="383.6" cy="1139.9" r="5.8" fill="#f6b350" stroke="#e8801e" stroke-width="1.1"/>
<circle cx="386.2" cy="1153" r="5.8" fill="#f6b350" stroke="#e8801e" stroke-width="1.1"/>
<circle cx="398.4" cy="1153" r="5.8" fill="#f6b350" stroke="#e8801e" stroke-width="1.1"/>
<circle cx="365" cy="1164" r="5.8" fill="#f6b350" stroke="#e8801e" stroke-width="1.1"/>
<circle cx="377.2" cy="1164" r="5.8" fill="#f6b350" stroke="#e8801e" stroke-width="1.1"/>
<circle cx="386.2" cy="1174.4" r="5.8" fill="#f6b350" stroke="#e8801e" stroke-width="1.1"/>
<circle cx="398.4" cy="1174.4" r="5.8" fill="#f6b350" stroke="#e8801e" stroke-width="1.1"/>
<rect x="468" y="1125.4" width="24" height="24" fill="#00b0ef" stroke="#111" stroke-width="1.2"/>
<line x1="480" y1="1125.4" x2="480" y2="1149.4" stroke="#111" stroke-width="1.6"/>
<line x1="468" y1="1137.4" x2="492" y2="1137.4" stroke="#111" stroke-width="1.6"/>
<rect x="468" y="1154" width="24" height="24" fill="#00b0ef" stroke="#111" stroke-width="1.2"/>
<line x1="480" y1="1154" x2="480" y2="1178" stroke="#111" stroke-width="1.6"/>
<line x1="468" y1="1166" x2="492" y2="1166" stroke="#111" stroke-width="1.6"/>
<path d="M521.9,1124.5 L538.5,1124.5 L538.5,1171 L546.75,1171 L530.2,1189 L513.65,1171 L521.9,1171 Z" fill="#000"/>
<line x1="561" y1="1131" x2="578" y2="1147.5" stroke="#f01010" stroke-width="3.2"/>
<line x1="561" y1="1147.5" x2="578" y2="1131" stroke="#f01010" stroke-width="3.2"/>
<circle cx="596.8" cy="1134" r="5.8" fill="#f6b350" stroke="#e8801e" stroke-width="1.1" stroke-dasharray="2 1.3"/>
<circle cx="609" cy="1134" r="5.8" fill="#f6b350" stroke="#e8801e" stroke-width="1.1" stroke-dasharray="2 1.3"/>
<circle cx="590.2" cy="1148" r="5.8" fill="#f6b350" stroke="#e8801e" stroke-width="1.1" stroke-dasharray="2 1.3"/>
<circle cx="602.4" cy="1148" r="5.8" fill="#f6b350" stroke="#e8801e" stroke-width="1.1" stroke-dasharray="2 1.3"/>
<text x="586.8" y="1173" font-size="11.6" text-anchor="middle" fill="#000">CMA</text>
<text x="586.8" y="1185.5" font-size="11.6" text-anchor="middle" fill="#000">degradation</text>
<circle cx="674.58" cy="1131.88" r="5.67" fill="#00b0ef" stroke="#111" stroke-width="1"/>
<circle cx="674.58" cy="1144.03" r="5.67" fill="#00b0ef" stroke="#111" stroke-width="1"/>
<circle cx="686.73" cy="1131.88" r="5.67" fill="#00b0ef" stroke="#111" stroke-width="1"/>
<circle cx="686.73" cy="1144.03" r="5.67" fill="#00b0ef" stroke="#111" stroke-width="1"/>
<circle cx="674.58" cy="1160.38" r="5.67" fill="#00b0ef" stroke="#111" stroke-width="1"/>
<circle cx="674.58" cy="1172.53" r="5.67" fill="#00b0ef" stroke="#111" stroke-width="1"/>
<circle cx="686.73" cy="1160.38" r="5.67" fill="#00b0ef" stroke="#111" stroke-width="1"/>
<circle cx="686.73" cy="1172.53" r="5.67" fill="#00b0ef" stroke="#111" stroke-width="1"/>
<rect x="697" y="1125.8" width="24" height="24" fill="#00b0ef" stroke="#111" stroke-width="1.2"/>
<line x1="709" y1="1125.8" x2="709" y2="1149.8" stroke="#111" stroke-width="1.6"/>
<line x1="697" y1="1137.8" x2="721" y2="1137.8" stroke="#111" stroke-width="1.6"/>
<rect x="697" y="1154.3" width="24" height="24" fill="#00b0ef" stroke="#111" stroke-width="1.2"/>
<line x1="709" y1="1154.3" x2="709" y2="1178.3" stroke="#111" stroke-width="1.6"/>
<line x1="697" y1="1166.3" x2="721" y2="1166.3" stroke="#111" stroke-width="1.6"/>
<path d="M730,1125 L747,1125 L747,1171.5 L754.55,1171.5 L738.5,1189 L722.45,1171.5 L730,1171.5 Z" fill="#000"/>
<circle cx="100.9" cy="1292.2" r="6.1" fill="#f6b350" stroke="#e8801e" stroke-width="1.1"/>
<circle cx="113.7" cy="1292.2" r="6.1" fill="#f6b350" stroke="#e8801e" stroke-width="1.1"/>
<text x="123.6" y="1297.2" font-size="14.3" text-anchor="start" fill="#000">PKM2 dimer</text>
<circle cx="246.07" cy="1286.08" r="5.47" fill="#00b0ef" stroke="#111" stroke-width="1"/>
<circle cx="246.07" cy="1297.83" r="5.47" fill="#00b0ef" stroke="#111" stroke-width="1"/>
<circle cx="257.82" cy="1286.08" r="5.47" fill="#00b0ef" stroke="#111" stroke-width="1"/>
<circle cx="257.82" cy="1297.83" r="5.47" fill="#00b0ef" stroke="#111" stroke-width="1"/>
<text x="268.2" y="1297.2" font-size="14.3" text-anchor="start" fill="#000">PKM2 tetramer</text>
<rect x="407" y="1280" width="23.8" height="23.8" fill="#00b0ef" stroke="#111" stroke-width="1.2"/>
<line x1="418.9" y1="1280" x2="418.9" y2="1303.8" stroke="#111" stroke-width="1.6"/>
<line x1="407" y1="1291.9" x2="430.8" y2="1291.9" stroke="#111" stroke-width="1.6"/>
<text x="435.6" y="1297.2" font-size="14.3" text-anchor="start" fill="#000">PKM1</text>
<g transform="translate(444.11 499.09) scale(0.73)">
<line x1="116.5" y1="1079.7" x2="120.9" y2="1087.2" stroke="#333" stroke-width="1"/>
<line x1="119" y1="1094.8" x2="111.4" y2="1099.3" stroke="#333" stroke-width="1"/>
<line x1="127.2" y1="1089.8" x2="136.1" y2="1084.7" stroke="#333" stroke-width="1"/>
<line x1="145" y1="1084.7" x2="158.2" y2="1091.7" stroke="#333" stroke-width="1"/>
<line x1="158.2" y1="1091.7" x2="174.7" y2="1082.2" stroke="#333" stroke-width="1"/>
<line x1="174.7" y1="1082.2" x2="188.6" y2="1088.5" stroke="#333" stroke-width="1"/>
<line x1="123.6" y1="1096.8" x2="129.6" y2="1105.6" stroke="#333" stroke-width="1"/>
<line x1="126" y1="1095.2" x2="132" y2="1104" stroke="#333" stroke-width="1"/>
<line x1="156.8" y1="1092.5" x2="156.8" y2="1111.3" stroke="#333" stroke-width="1"/>
<line x1="159.6" y1="1091.7" x2="159.6" y2="1111.3" stroke="#333" stroke-width="1"/>
<line x1="173.3" y1="1083" x2="173.3" y2="1067" stroke="#333" stroke-width="1"/>
<line x1="176.1" y1="1082.2" x2="176.1" y2="1067" stroke="#333" stroke-width="1"/>
<text x="110.2" y="1078.55" font-size="9.3" text-anchor="middle" fill="#222">HO</text>
<text x="123.1" y="1096.05" font-size="9.3" text-anchor="middle" fill="#222">P</text>
<text x="103.2" y="1105.15" font-size="9.3" text-anchor="middle" fill="#222">HO</text>
<text x="132.9" y="1112.75" font-size="9.3" text-anchor="middle" fill="#222">O</text>
<text x="140.5" y="1085.55" font-size="9.3" text-anchor="middle" fill="#222">O</text>
<text x="174.7" y="1065.35" font-size="9.3" text-anchor="middle" fill="#222">O</text>
<text x="194.9" y="1095.65" font-size="9.3" text-anchor="middle" fill="#222">OH</text>
</g>
<text x="600.8" y="1296.5" font-size="14.6" text-anchor="start" fill="#000">PEP</text>
<g transform="translate(595.69 420.83) scale(0.71)">
<line x1="129.8" y1="1229.5" x2="142.2" y2="1222.2" stroke="#333" stroke-width="1"/>
<line x1="142.2" y1="1222.2" x2="159.7" y2="1231.4" stroke="#333" stroke-width="1"/>
<line x1="159.7" y1="1231.4" x2="171.2" y2="1224.8" stroke="#333" stroke-width="1"/>
<line x1="158.3" y1="1232" x2="158.3" y2="1246" stroke="#333" stroke-width="1"/>
<line x1="161.1" y1="1231.4" x2="161.1" y2="1246" stroke="#333" stroke-width="1"/>
<line x1="140.8" y1="1208" x2="140.8" y2="1222.5" stroke="#333" stroke-width="1"/>
<line x1="143.6" y1="1208" x2="143.6" y2="1222.5" stroke="#333" stroke-width="1"/>
<text x="142.2" y="1206.5" font-size="10" text-anchor="middle" fill="#222">O</text>
<text x="175.8" y="1225.3" font-size="10" text-anchor="middle" fill="#222">O</text>
<circle cx="180.2" cy="1217.2" r="0.5" fill="#222"/>
<text x="159.7" y="1254.7" font-size="10" text-anchor="middle" fill="#222">O</text>
<text x="111" y="1235.4" font-size="10" fill="#222">H<tspan font-size="7" dy="2.5">3</tspan><tspan dy="-2.5">C</tspan></text>
</g>
<text x="728" y="1297" font-size="14.6" text-anchor="start" fill="#000">Pyruvate</text>
<text x="433.4" y="518.5" font-size="14.5" text-anchor="middle" fill="#000">TAC-6w</text>
<text x="363.5" y="568.5" font-size="15" text-anchor="middle" fill="#000" transform="rotate(-90 363.5 568.5)">Vehicle</text>
<text x="363.5" y="670.8" font-size="15" text-anchor="middle" fill="#000" transform="rotate(-90 363.5 670.8)">TEPP-46</text>
<g clip-path="url(#ecg1)"><g filter="url(#spk1)" fill="none">
<rect x="367" y="520" width="145" height="98.5" fill="url(#egg1)"/>
<path d="M365.0,517.4l3,-.5 3,0 3,0.3 3,0.2 3,0.3 3,-.4 3,-.4 3,0 3,0.3 3,0.2 3,0.3 3,-.4 3,-.4 3,0 3,0.3 3,0.3 3,0.2 3,-.4 3,-.5 3,0.1 3,0.3 3,0.3 3,0.2 3,-.4 3,-.5 3,0.2 3,0.2 3,0.3 3,0.2 3,-.4 3,-.5 3,0.2 3,0.2 3,0.3 3,0.2 3,-.4 3,-.5 3,0.2 3,0.2 3,0.3 3,0.2 3,-.4 3,-.5 3,0.2 3,0.2 3,0.3 3,0.2 3,-.5 3,-.4" stroke="rgb(128,128,128)" stroke-width="1.8"/>
<path d="M365.0,518.6l3,-.5 3,0.1 3,0.2 3,0.3 3,0.2 3,-.3 3,-.5 3,0.1 3,0.2 3,0.3 3,0.3 3,-.4 3,-.5 3,0.1 3,0.2 3,0.3 3,0.3 3,-.4 3,-.5 3,0.1 3,0.3 3,0.2 3,0.3 3,-.4 3,-.5 3,0.1 3,0.3 3,0.2 3,0.3 3,-.5 3,-.4 3,0.1 3,0.3 3,0.2 3,0.3 3,-.5 3,-.5 3,0.2 3,0.3 3,0.2 3,0.3 3,-.5 3,-.5 3,0.2 3,0.3 3,0.3 3,0.2 3,-.5 3,-.5" stroke="rgb(143,143,143)" stroke-width="1.8"/>
<path d="M365.0,519.9l3,-.5 3,0 3,0.3 3,0.2 3,0.3 3,-.3 3,-.5 3,0 3,0.3 3,0.3 3,0.2 3,-.4 3,-.4 3,0 3,0.3 3,0.3 3,0.2 3,-.4 3,-.5 3,0.2 3,0.2 3,0.3 3,0.2 3,-.4 3,-.5 3,0.2 3,0.2 3,0.3 3,0.2 3,-.4 3,-.5 3,0.2 3,0.2 3,0.3 3,0.2 3,-.4 3,-.5 3,0.2 3,0.2 3,0.3 3,0.2 3,-.4 3,-.5 3,0.2 3,0.2 3,0.3 3,0.2 3,-.5 3,-.4" stroke="rgb(138,138,138)" stroke-width="1.8"/>
<path d="M365.0,521.1l3,-.5 3,0.1 3,0.2 3,0.3 3,0.3 3,-.4 3,-.5 3,0.1 3,0.2 3,0.3 3,0.3 3,-.4 3,-.5 3,0.1 3,0.3 3,0.2 3,0.3 3,-.4 3,-.5 3,0.1 3,0.3 3,0.2 3,0.3 3,-.4 3,-.5 3,0.1 3,0.3 3,0.2 3,0.3 3,-.5 3,-.4 3,0.1 3,0.3 3,0.2 3,0.3 3,-.5 3,-.5 3,0.2 3,0.3 3,0.2 3,0.3 3,-.5 3,-.5 3,0.2 3,0.3 3,0.3 3,0.2 3,-.5 3,-.5" stroke="rgb(139,139,139)" stroke-width="1.8"/>
<path d="M365.0,522.4l3,-.5 3,0 3,0.3 3,0.3 3,0.2 3,-.3 3,-.5 3,0 3,0.3 3,0.3 3,0.2 3,-.4 3,-.5 3,0.1 3,0.3 3,0.3 3,0.3 3,-.5 3,-.5 3,0.1 3,0.3 3,0.3 3,0.3 3,-.5 3,-.5 3,0.2 3,0.2 3,0.3 3,0.3 3,-.5 3,-.5 3,0.2 3,0.2 3,0.3 3,0.3 3,-.5 3,-.5 3,0.2 3,0.2 3,0.3 3,0.3 3,-.5 3,-.5 3,0.2 3,0.3 3,0.2 3,0.3 3,-.6 3,-.5" stroke="rgb(147,147,147)" stroke-width="1.8"/>
<path d="M365.0,523.6l3,-.5 3,0 3,0.3 3,0.3 3,0.3 3,-.4 3,-.5 3,0.1 3,0.2 3,0.3 3,0.3 3,-.4 3,-.5 3,0.1 3,0.3 3,0.2 3,0.3 3,-.4 3,-.5 3,0.1 3,0.3 3,0.3 3,0.2 3,-.4 3,-.6 3,0.2 3,0.3 3,0.3 3,0.3 3,-.5 3,-.6 3,0.2 3,0.3 3,0.3 3,0.3 3,-.6 3,-.5 3,0.2 3,0.3 3,0.3 3,0.3 3,-.6 3,-.5 3,0.2 3,0.3 3,0.3 3,0.2 3,-.5 3,-.5" stroke="rgb(148,148,148)" stroke-width="1.8"/>
<path d="M365.0,524.9l3,-.6 3,0.1 3,0.3 3,0.3 3,0.3 3,-.4 3,-.6 3,0.1 3,0.3 3,0.3 3,0.3 3,-.4 3,-.6 3,0.1 3,0.3 3,0.3 3,0.3 3,-.5 3,-.5 3,0.1 3,0.3 3,0.3 3,0.3 3,-.5 3,-.5 3,0.1 3,0.3 3,0.3 3,0.3 3,-.5 3,-.6 3,0.2 3,0.3 3,0.3 3,0.3 3,-.5 3,-.6 3,0.2 3,0.3 3,0.4 3,0.2 3,-.5 3,-.6 3,0.3 3,0.3 3,0.3 3,0.2 3,-.5 3,-.6" stroke="rgb(145,145,145)" stroke-width="1.8"/>
<path d="M365.0,526.2l3,-.6 3,0 3,0.3 3,0.4 3,0.3 3,-.5 3,-.6 3,0.1 3,0.3 3,0.4 3,0.3 3,-.5 3,-.6 3,0.1 3,0.4 3,0.3 3,0.3 3,-.5 3,-.6 3,0.1 3,0.4 3,0.3 3,0.3 3,-.5 3,-.6 3,0.2 3,0.3 3,0.3 3,0.3 3,-.5 3,-.6 3,0.2 3,0.3 3,0.3 3,0.3 3,-.6 3,-.5 3,0.2 3,0.3 3,0.3 3,0.3 3,-.6 3,-.6 3,0.3 3,0.3 3,0.3 3,0.3 3,-.6 3,-.6" stroke="rgb(118,118,118)" stroke-width="1.8"/>
<path d="M365.0,527.4l3,-.6 3,0.1 3,0.3 3,0.3 3,0.4 3,-.5 3,-.6 3,0.1 3,0.3 3,0.3 3,0.4 3,-.5 3,-.6 3,0.1 3,0.3 3,0.3 3,0.4 3,-.5 3,-.7 3,0.2 3,0.3 3,0.4 3,0.3 3,-.6 3,-.6 3,0.2 3,0.3 3,0.4 3,0.3 3,-.6 3,-.6 3,0.2 3,0.3 3,0.4 3,0.3 3,-.6 3,-.6 3,0.2 3,0.4 3,0.3 3,0.3 3,-.6 3,-.6 3,0.2 3,0.4 3,0.3 3,0.3 3,-.6 3,-.7" stroke="rgb(102,102,102)" stroke-width="1.8"/>
<path d="M365.0,528.7l3,-.7 3,0.1 3,0.3 3,0.4 3,0.3 3,-.4 3,-.7 3,0.1 3,0.3 3,0.4 3,0.4 3,-.6 3,-.6 3,0.1 3,0.4 3,0.3 3,0.4 3,-.6 3,-.6 3,0.1 3,0.4 3,0.3 3,0.4 3,-.6 3,-.7 3,0.2 3,0.4 3,0.3 3,0.4 3,-.6 3,-.7 3,0.2 3,0.4 3,0.3 3,0.4 3,-.6 3,-.7 3,0.3 3,0.3 3,0.4 3,0.3 3,-.7 3,-.6 3,0.3 3,0.3 3,0.4 3,0.3 3,-.7 3,-.6" stroke="rgb(83,83,83)" stroke-width="1.8"/>
<path d="M365.0,529.9l3,-.6 3,0 3,0.4 3,0.4 3,0.3 3,-.5 3,-.7 3,0.1 3,0.4 3,0.4 3,0.3 3,-.5 3,-.7 3,0.1 3,0.4 3,0.4 3,0.3 3,-.5 3,-.7 3,0.2 3,0.3 3,0.4 3,0.4 3,-.6 3,-.7 3,0.2 3,0.3 3,0.4 3,0.4 3,-.7 3,-.6 3,0.2 3,0.3 3,0.4 3,0.4 3,-.7 3,-.7 3,0.3 3,0.4 3,0.3 3,0.4 3,-.7 3,-.7 3,0.3 3,0.4 3,0.3 3,0.3 3,-.6 3,-.7" stroke="rgb(60,60,60)" stroke-width="1.8"/>
<path d="M365.0,531.2l3,-.7 3,0.1 3,0.3 3,0.4 3,0.4 3,-.5 3,-.7 3,0.1 3,0.3 3,0.4 3,0.4 3,-.5 3,-.8 3,0.2 3,0.4 3,0.3 3,0.4 3,-.6 3,-.7 3,0.2 3,0.4 3,0.4 3,0.3 3,-.6 3,-.7 3,0.2 3,0.4 3,0.4 3,0.4 3,-.7 3,-.7 3,0.2 3,0.4 3,0.4 3,0.4 3,-.7 3,-.7 3,0.2 3,0.4 3,0.4 3,0.4 3,-.8 3,-.7 3,0.3 3,0.4 3,0.4 3,0.3 3,-.7 3,-.7" stroke="rgb(52,52,52)" stroke-width="1.8"/>
<path d="M365.0,532.5l3,-.8 3,0.1 3,0.4 3,0.4 3,0.4 3,-.6 3,-.7 3,0.1 3,0.4 3,0.4 3,0.4 3,-.6 3,-.7 3,0.1 3,0.4 3,0.4 3,0.4 3,-.6 3,-.7 3,0.1 3,0.4 3,0.4 3,0.4 3,-.6 3,-.8 3,0.2 3,0.4 3,0.4 3,0.4 3,-.7 3,-.7 3,0.3 3,0.4 3,0.3 3,0.4 3,-.7 3,-.7 3,0.3 3,0.4 3,0.4 3,0.3 3,-.7 3,-.7 3,0.3 3,0.4 3,0.4 3,0.3 3,-.7 3,-.8" stroke="rgb(63,63,63)" stroke-width="1.8"/>
<path d="M365.0,533.7l3,-.7 3,0 3,0.4 3,0.4 3,0.5 3,-.6 3,-.8 3,0.1 3,0.4 3,0.5 3,0.4 3,-.6 3,-.8 3,0.1 3,0.5 3,0.4 3,0.4 3,-.6 3,-.8 3,0.2 3,0.4 3,0.4 3,0.4 3,-.7 3,-.7 3,0.2 3,0.4 3,0.4 3,0.4 3,-.7 3,-.8 3,0.3 3,0.4 3,0.4 3,0.4 3,-.7 3,-.8 3,0.3 3,0.4 3,0.4 3,0.4 3,-.8 3,-.7 3,0.3 3,0.4 3,0.4 3,0.4 3,-.8 3,-.7" stroke="rgb(73,73,73)" stroke-width="1.8"/>
<path d="M365.0,535.0l3,-.8 3,0.1 3,0.4 3,0.4 3,0.4 3,-.5 3,-.8 3,0.1 3,0.4 3,0.4 3,0.5 3,-.7 3,-.8 3,0.2 3,0.4 3,0.4 3,0.5 3,-.7 3,-.8 3,0.2 3,0.4 3,0.5 3,0.4 3,-.7 3,-.8 3,0.2 3,0.4 3,0.5 3,0.4 3,-.7 3,-.8 3,0.2 3,0.5 3,0.4 3,0.4 3,-.8 3,-.8 3,0.3 3,0.5 3,0.4 3,0.4 3,-.8 3,-.8 3,0.4 3,0.4 3,0.4 3,0.4 3,-.8 3,-.8" stroke="rgb(60,60,60)" stroke-width="1.8"/>
<path d="M365.0,536.2l3,-.8 3,0.1 3,0.4 3,0.5 3,0.4 3,-.6 3,-.8 3,0.1 3,0.4 3,0.5 3,0.4 3,-.6 3,-.8 3,0.1 3,0.5 3,0.4 3,0.5 3,-.7 3,-.9 3,0.2 3,0.5 3,0.4 3,0.5 3,-.8 3,-.8 3,0.2 3,0.5 3,0.4 3,0.5 3,-.8 3,-.8 3,0.3 3,0.4 3,0.5 3,0.4 3,-.8 3,-.8 3,0.3 3,0.4 3,0.5 3,0.4 3,-.8 3,-.9 3,0.4 3,0.4 3,0.5 3,0.4 3,-.9 3,-.8" stroke="rgb(50,50,50)" stroke-width="1.8"/>
<path d="M365.0,537.5l3,-.8 3,0 3,0.5 3,0.4 3,0.5 3,-.6 3,-.9 3,0.1 3,0.5 3,0.5 3,0.4 3,-.6 3,-.9 3,0.2 3,0.4 3,0.5 3,0.4 3,-.7 3,-.8 3,0.2 3,0.4 3,0.5 3,0.5 3,-.8 3,-.9 3,0.3 3,0.4 3,0.5 3,0.5 3,-.8 3,-.9 3,0.3 3,0.5 3,0.4 3,0.5 3,-.9 3,-.8 3,0.3 3,0.5 3,0.4 3,0.5 3,-.9 3,-.8 3,0.3 3,0.5 3,0.5 3,0.3 3,-.8 3,-.9" stroke="rgb(52,52,52)" stroke-width="1.8"/>
<path d="M365.0,538.8l3,-.9 3,0.1 3,0.4 3,0.5 3,0.5 3,-.7 3,-.8 3,0.1 3,0.4 3,0.5 3,0.5 3,-.7 3,-.9 3,0.2 3,0.5 3,0.4 3,0.5 3,-.7 3,-.9 3,0.2 3,0.5 3,0.5 3,0.4 3,-.7 3,-.9 3,0.2 3,0.5 3,0.5 3,0.4 3,-.8 3,-.9 3,0.3 3,0.5 3,0.5 3,0.5 3,-.9 3,-.9 3,0.4 3,0.4 3,0.5 3,0.4 3,-.8 3,-.9 3,0.4 3,0.4 3,0.5 3,0.4 3,-.9 3,-.9" stroke="rgb(62,62,62)" stroke-width="1.8"/>
<path d="M365.0,540.0l3,-.9 3,0.1 3,0.5 3,0.5 3,0.5 3,-.7 3,-.9 3,0.1 3,0.5 3,0.5 3,0.5 3,-.7 3,-.9 3,0.1 3,0.5 3,0.5 3,0.5 3,-.8 3,-.9 3,0.2 3,0.5 3,0.5 3,0.5 3,-.8 3,-.9 3,0.3 3,0.4 3,0.5 3,0.5 3,-.8 3,-.9 3,0.3 3,0.5 3,0.5 3,0.4 3,-.9 3,-.9 3,0.4 3,0.5 3,0.5 3,0.4 3,-.9 3,-.9 3,0.4 3,0.5 3,0.5 3,0.4 3,-.9 3,-.9" stroke="rgb(71,71,71)" stroke-width="1.8"/>
<path d="M365.0,541.3l3,-1 3,0.1 3,0.5 3,0.5 3,0.5 3,-.6 3,-1 3,0.1 3,0.5 3,0.6 3,0.5 3,-.8 3,-.9 3,0.2 3,0.5 3,0.5 3,0.5 3,-.8 3,-.9 3,0.2 3,0.5 3,0.5 3,0.5 3,-.8 3,-1 3,0.3 3,0.5 3,0.5 3,0.5 3,-.9 3,-.9 3,0.3 3,0.5 3,0.5 3,0.5 3,-.9 3,-.9 3,0.3 3,0.5 3,0.5 3,0.5 3,-.9 3,-1 3,0.4 3,0.5 3,0.6 3,0.4 3,-1 3,-.9" stroke="rgb(53,53,53)" stroke-width="1.8"/>
<path d="M365.0,542.6l3,-1 3,0.1 3,0.5 3,0.5 3,0.5 3,-.7 3,-1 3,0.2 3,0.5 3,0.5 3,0.5 3,-.7 3,-1 3,0.2 3,0.5 3,0.5 3,0.6 3,-.8 3,-1 3,0.2 3,0.5 3,0.6 3,0.5 3,-.9 3,-.9 3,0.2 3,0.6 3,0.5 3,0.5 3,-.9 3,-1 3,0.3 3,0.6 3,0.5 3,0.5 3,-.9 3,-1 3,0.4 3,0.5 3,0.5 3,0.5 3,-1 3,-.9 3,0.4 3,0.5 3,0.5 3,0.5 3,-1 3,-1" stroke="rgb(45,45,45)" stroke-width="1.8"/>
<path d="M365.0,543.8l3,-1 3,0.1 3,0.5 3,0.6 3,0.5 3,-.7 3,-1 3,0.1 3,0.5 3,0.6 3,0.5 3,-.8 3,-1 3,0.2 3,0.6 3,0.5 3,0.5 3,-.8 3,-1 3,0.2 3,0.6 3,0.5 3,0.6 3,-.9 3,-1 3,0.3 3,0.5 3,0.5 3,0.6 3,-1 3,-1 3,0.4 3,0.5 3,0.6 3,0.5 3,-1 3,-1 3,0.4 3,0.5 3,0.6 3,0.5 3,-1 3,-1 3,0.4 3,0.6 3,0.5 3,0.4 3,-1 3,-1" stroke="rgb(56,56,56)" stroke-width="1.8"/>
<path d="M365.0,545.1l3,-1.1 3,0.1 3,0.6 3,0.5 3,0.6 3,-.8 3,-1 3,0.1 3,0.6 3,0.6 3,0.5 3,-.8 3,-1 3,0.2 3,0.5 3,0.6 3,0.5 3,-.8 3,-1.1 3,0.3 3,0.5 3,0.6 3,0.5 3,-.9 3,-1 3,0.3 3,0.6 3,0.5 3,0.6 3,-1 3,-1 3,0.3 3,0.6 3,0.5 3,0.6 3,-1 3,-1.1 3,0.4 3,0.6 3,0.5 3,0.6 3,-1.1 3,-1 3,0.5 3,0.5 3,0.6 3,0.4 3,-1 3,-1" stroke="rgb(62,62,62)" stroke-width="1.8"/>
<path d="M365.0,546.3l3,-1 3,0.1 3,0.5 3,0.6 3,0.6 3,-.8 3,-1.1 3,0.2 3,0.5 3,0.6 3,0.6 3,-.8 3,-1.1 3,0.2 3,0.6 3,0.5 3,0.6 3,-.9 3,-1 3,0.2 3,0.6 3,0.6 3,0.5 3,-.9 3,-1.1 3,0.3 3,0.6 3,0.6 3,0.5 3,-.9 3,-1.1 3,0.4 3,0.5 3,0.6 3,0.6 3,-1.1 3,-1 3,0.4 3,0.5 3,0.6 3,0.5 3,-1 3,-1.1 3,0.5 3,0.6 3,0.5 3,0.5 3,-1 3,-1.1" stroke="rgb(80,80,80)" stroke-width="1.8"/>
<path d="M365.0,547.6l3,-1.1 3,0.1 3,0.6 3,0.6 3,0.6 3,-.8 3,-1.1 3,0.1 3,0.6 3,0.6 3,0.6 3,-.9 3,-1.1 3,0.2 3,0.6 3,0.6 3,0.6 3,-.9 3,-1.1 3,0.3 3,0.5 3,0.6 3,0.6 3,-1 3,-1 3,0.3 3,0.6 3,0.5 3,0.6 3,-1 3,-1.1 3,0.4 3,0.6 3,0.6 3,0.5 3,-1 3,-1.1 3,0.4 3,0.6 3,0.6 3,0.5 3,-1.1 3,-1 3,0.4 3,0.6 3,0.6 3,0.5 3,-1.1 3,-1.1" stroke="rgb(88,88,88)" stroke-width="1.8"/>
<path d="M365.0,548.9l3,-1.2 3,0.1 3,0.6 3,0.6 3,0.6 3,-.8 3,-1.1 3,0.1 3,0.6 3,0.7 3,0.6 3,-.9 3,-1.1 3,0.2 3,0.6 3,0.6 3,0.6 3,-1 3,-1.1 3,0.3 3,0.6 3,0.6 3,0.6 3,-1 3,-1.1 3,0.3 3,0.6 3,0.6 3,0.6 3,-1 3,-1.1 3,0.3 3,0.6 3,0.6 3,0.6 3,-1.1 3,-1.1 3,0.4 3,0.6 3,0.7 3,0.5 3,-1.1 3,-1.1 3,0.5 3,0.6 3,0.6 3,0.5 3,-1.1 3,-1.2" stroke="rgb(62,62,62)" stroke-width="1.8"/>
<path d="M365.0,550.1l3,-1.1 3,0.1 3,0.6 3,0.6 3,0.6 3,-.8 3,-1.2 3,0.2 3,0.6 3,0.6 3,0.6 3,-.9 3,-1.1 3,0.2 3,0.6 3,0.6 3,0.7 3,-1 3,-1.1 3,0.2 3,0.6 3,0.7 3,0.6 3,-1 3,-1.2 3,0.3 3,0.7 3,0.6 3,0.6 3,-1.1 3,-1.1 3,0.4 3,0.6 3,0.6 3,0.6 3,-1.1 3,-1.2 3,0.5 3,0.6 3,0.6 3,0.6 3,-1.2 3,-1.1 3,0.5 3,0.6 3,0.6 3,0.6 3,-1.2 3,-1.1" stroke="rgb(30,30,30)" stroke-width="1.8"/>
<path d="M365.0,551.4l3,-1.2 3,0.1 3,0.6 3,0.7 3,0.6 3,-.9 3,-1.2 3,0.2 3,0.6 3,0.7 3,0.6 3,-.9 3,-1.2 3,0.2 3,0.7 3,0.6 3,0.7 3,-1 3,-1.2 3,0.2 3,0.7 3,0.6 3,0.7 3,-1.1 3,-1.2 3,0.4 3,0.6 3,0.7 3,0.6 3,-1.1 3,-1.2 3,0.4 3,0.6 3,0.7 3,0.6 3,-1.2 3,-1.2 3,0.5 3,0.7 3,0.6 3,0.6 3,-1.2 3,-1.2 3,0.5 3,0.7 3,0.6 3,0.6 3,-1.2 3,-1.2" stroke="rgb(24,24,24)" stroke-width="1.8"/>
<path d="M365.0,552.7l3,-1.3 3,0.1 3,0.7 3,0.7 3,0.6 3,-.9 3,-1.3 3,0.2 3,0.7 3,0.7 3,0.7 3,-1 3,-1.3 3,0.2 3,0.7 3,0.7 3,0.7 3,-1.1 3,-1.2 3,0.3 3,0.6 3,0.7 3,0.7 3,-1.1 3,-1.3 3,0.4 3,0.7 3,0.6 3,0.7 3,-1.2 3,-1.2 3,0.4 3,0.7 3,0.7 3,0.7 3,-1.3 3,-1.3 3,0.5 3,0.7 3,0.7 3,0.6 3,-1.2 3,-1.3 3,0.5 3,0.7 3,0.7 3,0.6 3,-1.3 3,-1.3" stroke="rgb(18,18,18)" stroke-width="1.8"/>
<path d="M365.0,553.9l3,-1.3 3,0.1 3,0.7 3,0.7 3,0.8 3,-1 3,-1.4 3,0.2 3,0.7 3,0.8 3,0.7 3,-1.1 3,-1.3 3,0.2 3,0.8 3,0.7 3,0.7 3,-1.1 3,-1.4 3,0.4 3,0.7 3,0.7 3,0.7 3,-1.2 3,-1.3 3,0.4 3,0.7 3,0.7 3,0.8 3,-1.3 3,-1.3 3,0.4 3,0.7 3,0.8 3,0.7 3,-1.3 3,-1.4 3,0.5 3,0.8 3,0.7 3,0.7 3,-1.4 3,-1.3 3,0.6 3,0.7 3,0.7 3,0.6 3,-1.3 3,-1.4" stroke="rgb(16,16,16)" stroke-width="1.8"/>
<path d="M365.0,555.2l3,-1.4 3,0.1 3,0.8 3,0.7 3,0.8 3,-1.1 3,-1.4 3,0.2 3,0.8 3,0.7 3,0.8 3,-1.1 3,-1.4 3,0.3 3,0.7 3,0.8 3,0.7 3,-1.1 3,-1.5 3,0.4 3,0.7 3,0.8 3,0.7 3,-1.2 3,-1.4 3,0.4 3,0.8 3,0.7 3,0.8 3,-1.3 3,-1.4 3,0.4 3,0.8 3,0.7 3,0.8 3,-1.4 3,-1.4 3,0.6 3,0.7 3,0.8 3,0.7 3,-1.4 3,-1.4 3,0.6 3,0.7 3,0.8 3,0.6 3,-1.4 3,-1.4" stroke="rgb(13,13,13)" stroke-width="1.8"/>
<path d="M365.0,556.5l3,-1.5 3,0.1 3,0.8 3,0.8 3,0.8 3,-1.1 3,-1.5 3,0.2 3,0.8 3,0.8 3,0.8 3,-1.1 3,-1.5 3,0.3 3,0.8 3,0.7 3,0.8 3,-1.2 3,-1.5 3,0.4 3,0.8 3,0.8 3,0.8 3,-1.3 3,-1.5 3,0.4 3,0.8 3,0.8 3,0.8 3,-1.4 3,-1.5 3,0.5 3,0.8 3,0.8 3,0.8 3,-1.4 3,-1.5 3,0.6 3,0.8 3,0.8 3,0.7 3,-1.5 3,-1.5 3,0.7 3,0.8 3,0.8 3,0.6 3,-1.4 3,-1.5" stroke="rgb(13,13,13)" stroke-width="1.8"/>
<path d="M365.0,557.7l3,-1.5 3,0.1 3,0.8 3,0.9 3,0.8 3,-1.1 3,-1.6 3,0.2 3,0.9 3,0.8 3,0.8 3,-1.2 3,-1.5 3,0.3 3,0.8 3,0.8 3,0.9 3,-1.3 3,-1.6 3,0.4 3,0.8 3,0.9 3,0.8 3,-1.4 3,-1.5 3,0.4 3,0.9 3,0.8 3,0.8 3,-1.4 3,-1.6 3,0.6 3,0.8 3,0.8 3,0.8 3,-1.5 3,-1.5 3,0.6 3,0.8 3,0.8 3,0.8 3,-1.5 3,-1.6 3,0.7 3,0.8 3,0.9 3,0.7 3,-1.6 3,-1.5" stroke="rgb(13,13,13)" stroke-width="1.8"/>
<path d="M365.0,559.0l3,-1.6 3,0.1 3,0.9 3,0.9 3,0.8 3,-1.1 3,-1.7 3,0.3 3,0.8 3,0.9 3,0.9 3,-1.3 3,-1.6 3,0.3 3,0.8 3,0.9 3,0.9 3,-1.4 3,-1.6 3,0.4 3,0.9 3,0.8 3,0.9 3,-1.4 3,-1.6 3,0.4 3,0.9 3,0.9 3,0.8 3,-1.5 3,-1.6 3,0.6 3,0.8 3,0.9 3,0.9 3,-1.6 3,-1.6 3,0.6 3,0.9 3,0.8 3,0.8 3,-1.6 3,-1.6 3,0.7 3,0.9 3,0.9 3,0.7 3,-1.6 3,-1.6" stroke="rgb(13,13,13)" stroke-width="1.8"/>
<path d="M365.0,560.3l3,-1.7 3,0.1 3,0.9 3,0.9 3,0.9 3,-1.2 3,-1.7 3,0.3 3,0.9 3,0.9 3,0.9 3,-1.3 3,-1.7 3,0.3 3,0.9 3,0.9 3,0.9 3,-1.4 3,-1.7 3,0.4 3,0.9 3,0.9 3,0.9 3,-1.4 3,-1.7 3,0.5 3,0.9 3,0.9 3,0.9 3,-1.6 3,-1.7 3,0.6 3,0.9 3,0.9 3,0.9 3,-1.7 3,-1.6 3,0.6 3,0.9 3,0.9 3,0.9 3,-1.7 3,-1.7 3,0.7 3,0.9 3,0.9 3,0.8 3,-1.7 3,-1.6" stroke="rgb(14,14,14)" stroke-width="1.8"/>
<path d="M365.0,561.5l3,-1.7 3,0.1 3,1 3,0.9 3,1 3,-1.3 3,-1.8 3,0.3 3,0.9 3,0.9 3,1 3,-1.4 3,-1.7 3,0.3 3,0.9 3,1 3,0.9 3,-1.4 3,-1.8 3,0.4 3,1 3,0.9 3,0.9 3,-1.5 3,-1.7 3,0.5 3,0.9 3,0.9 3,1 3,-1.6 3,-1.8 3,0.6 3,0.9 3,1 3,0.9 3,-1.7 3,-1.7 3,0.6 3,1 3,0.9 3,0.9 3,-1.8 3,-1.7 3,0.8 3,0.9 3,0.9 3,0.8 3,-1.7 3,-1.8" stroke="rgb(14,14,14)" stroke-width="1.8"/>
<path d="M365.0,562.8l3,-1.8 3,0.2 3,0.9 3,1 3,1 3,-1.3 3,-1.8 3,0.2 3,1 3,0.9 3,1 3,-1.4 3,-1.8 3,0.3 3,1 3,1 3,0.9 3,-1.5 3,-1.8 3,0.5 3,0.9 3,1 3,1 3,-1.6 3,-1.8 3,0.5 3,1 3,0.9 3,1 3,-1.7 3,-1.8 3,0.6 3,1 3,1 3,0.9 3,-1.7 3,-1.9 3,0.7 3,1 3,1 3,0.9 3,-1.8 3,-1.8 3,0.8 3,1 3,0.9 3,0.8 3,-1.8 3,-1.8" stroke="rgb(13,13,13)" stroke-width="1.8"/>
<path d="M365.0,564.1l3,-1.9 3,0.2 3,1 3,1 3,1 3,-1.4 3,-1.8 3,0.2 3,1 3,1 3,1 3,-1.4 3,-1.9 3,0.3 3,1 3,1 3,1.1 3,-1.6 3,-1.9 3,0.5 3,1 3,1 3,1 3,-1.7 3,-1.8 3,0.5 3,1 3,1 3,1 3,-1.7 3,-1.9 3,0.6 3,1 3,1 3,1.1 3,-1.9 3,-1.9 3,0.8 3,1 3,1 3,0.9 3,-1.9 3,-1.8 3,0.8 3,1 3,1 3,0.9 3,-1.9 3,-1.9" stroke="rgb(13,13,13)" stroke-width="1.8"/>
<path d="M365.0,565.4l3,-2 3,0.2 3,1 3,1.1 3,1 3,-1.4 3,-1.9 3,0.2 3,1.1 3,1 3,1 3,-1.5 3,-1.9 3,0.3 3,1.1 3,1 3,1.1 3,-1.6 3,-2 3,0.5 3,1 3,1.1 3,1 3,-1.7 3,-1.9 3,0.5 3,1.1 3,1 3,1 3,-1.8 3,-1.9 3,0.6 3,1.1 3,1 3,1.1 3,-1.9 3,-2 3,0.8 3,1 3,1.1 3,0.9 3,-1.9 3,-1.9 3,0.8 3,1.1 3,1 3,0.9 3,-2 3,-1.9" stroke="rgb(12,12,12)" stroke-width="1.8"/>
<path d="M365.0,566.6l3,-2 3,0.2 3,1.1 3,1 3,1.1 3,-1.4 3,-2 3,0.2 3,1.1 3,1.1 3,1.1 3,-1.6 3,-2 3,0.4 3,1 3,1.1 3,1.1 3,-1.7 3,-2 3,0.5 3,1.1 3,1 3,1.1 3,-1.7 3,-2 3,0.5 3,1.1 3,1.1 3,1.1 3,-1.9 3,-2 3,0.7 3,1 3,1.1 3,1.1 3,-2 3,-2 3,0.8 3,1.1 3,1.1 3,1 3,-2 3,-2 3,0.8 3,1.1 3,1.1 3,0.9 3,-2 3,-2" stroke="rgb(13,13,13)" stroke-width="1.8"/>
<path d="M365.0,567.9l3,-2.1 3,0.2 3,1.1 3,1.1 3,1.1 3,-1.5 3,-2 3,0.2 3,1.1 3,1.2 3,1.1 3,-1.6 3,-2.1 3,0.4 3,1.1 3,1.1 3,1.1 3,-1.7 3,-2.1 3,0.5 3,1.1 3,1.1 3,1.1 3,-1.8 3,-2.1 3,0.6 3,1.2 3,1.1 3,1.1 3,-1.9 3,-2.1 3,0.7 3,1.1 3,1.1 3,1.1 3,-2 3,-2.1 3,0.8 3,1.1 3,1.1 3,1.1 3,-2.1 3,-2.1 3,1 3,1.1 3,1.1 3,0.9 3,-2.1 3,-2" stroke="rgb(12,12,12)" stroke-width="1.8"/>
<path d="M365.0,569.2l3,-2.2 3,0.2 3,1.2 3,1.1 3,1.2 3,-1.6 3,-2.1 3,0.2 3,1.2 3,1.1 3,1.2 3,-1.7 3,-2.1 3,0.4 3,1.1 3,1.2 3,1.1 3,-1.7 3,-2.2 3,0.5 3,1.2 3,1.1 3,1.2 3,-1.9 3,-2.2 3,0.7 3,1.1 3,1.2 3,1.1 3,-2 3,-2.1 3,0.7 3,1.1 3,1.2 3,1.1 3,-2.1 3,-2.1 3,0.8 3,1.2 3,1.1 3,1.1 3,-2.1 3,-2.2 3,1 3,1.1 3,1.2 3,0.9 3,-2.1 3,-2.1" stroke="rgb(12,12,12)" stroke-width="1.8"/>
<path d="M365.0,570.4l3,-2.2 3,0.2 3,1.2 3,1.2 3,1.2 3,-1.6 3,-2.2 3,0.2 3,1.2 3,1.2 3,1.2 3,-1.7 3,-2.2 3,0.4 3,1.2 3,1.2 3,1.1 3,-1.8 3,-2.2 3,0.5 3,1.2 3,1.2 3,1.2 3,-2 3,-2.2 3,0.7 3,1.2 3,1.1 3,1.2 3,-2 3,-2.2 3,0.7 3,1.2 3,1.2 3,1.2 3,-2.2 3,-2.2 3,0.8 3,1.2 3,1.2 3,1.1 3,-2.2 3,-2.2 3,1 3,1.2 3,1.2 3,1 3,-2.3 3,-2.2" stroke="rgb(12,12,12)" stroke-width="1.8"/>
<path d="M365.0,571.7l3,-2.3 3,0.2 3,1.2 3,1.3 3,1.2 3,-1.7 3,-2.2 3,0.3 3,1.2 3,1.2 3,1.2 3,-1.7 3,-2.3 3,0.4 3,1.2 3,1.2 3,1.3 3,-1.9 3,-2.3 3,0.5 3,1.3 3,1.2 3,1.2 3,-2 3,-2.3 3,0.7 3,1.2 3,1.2 3,1.2 3,-2.1 3,-2.2 3,0.7 3,1.2 3,1.3 3,1.2 3,-2.2 3,-2.3 3,0.9 3,1.2 3,1.2 3,1.1 3,-2.2 3,-2.3 3,1 3,1.2 3,1.2 3,1.1 3,-2.3 3,-2.3" stroke="rgb(12,12,12)" stroke-width="1.8"/>
<path d="M365.0,573.0l3,-2.4 3,0.2 3,1.3 3,1.2 3,1.3 3,-1.7 3,-2.3 3,0.3 3,1.2 3,1.3 3,1.2 3,-1.8 3,-2.3 3,0.4 3,1.3 3,1.2 3,1.3 3,-2 3,-2.3 3,0.6 3,1.2 3,1.3 3,1.2 3,-2 3,-2.4 3,0.7 3,1.3 3,1.2 3,1.3 3,-2.2 3,-2.3 3,0.7 3,1.3 3,1.3 3,1.2 3,-2.3 3,-2.3 3,0.9 3,1.2 3,1.3 3,1.2 3,-2.4 3,-2.3 3,1 3,1.3 3,1.2 3,1.1 3,-2.3 3,-2.4" stroke="rgb(12,12,12)" stroke-width="1.8"/>
<path d="M365.0,574.2l3,-2.4 3,0.2 3,1.3 3,1.3 3,1.3 3,-1.7 3,-2.4 3,0.3 3,1.3 3,1.3 3,1.3 3,-1.9 3,-2.4 3,0.4 3,1.3 3,1.3 3,1.3 3,-2 3,-2.4 3,0.6 3,1.3 3,1.3 3,1.2 3,-2.1 3,-2.4 3,0.7 3,1.3 3,1.3 3,1.3 3,-2.3 3,-2.4 3,0.9 3,1.2 3,1.3 3,1.3 3,-2.3 3,-2.4 3,0.9 3,1.3 3,1.3 3,1.2 3,-2.4 3,-2.4 3,1 3,1.3 3,1.3 3,1.1 3,-2.4 3,-2.4" stroke="rgb(13,13,13)" stroke-width="1.8"/>
<path d="M365.0,575.5l3,-2.5 3,0.2 3,1.4 3,1.3 3,1.3 3,-1.8 3,-2.4 3,0.3 3,1.3 3,1.3 3,1.4 3,-1.9 3,-2.5 3,0.4 3,1.4 3,1.3 3,1.3 3,-2 3,-2.5 3,0.6 3,1.3 3,1.3 3,1.4 3,-2.2 3,-2.5 3,0.7 3,1.4 3,1.3 3,1.3 3,-2.3 3,-2.5 3,0.9 3,1.3 3,1.3 3,1.4 3,-2.5 3,-2.4 3,0.9 3,1.3 3,1.4 3,1.2 3,-2.5 3,-2.4 3,1.1 3,1.3 3,1.3 3,1.1 3,-2.4 3,-2.5" stroke="rgb(12,12,12)" stroke-width="1.8"/>
<path d="M365.0,576.8l3,-2.5 3,0.2 3,1.3 3,1.4 3,1.3 3,-1.8 3,-2.5 3,0.3 3,1.4 3,1.3 3,1.4 3,-2 3,-2.5 3,0.4 3,1.4 3,1.4 3,1.3 3,-2.1 3,-2.5 3,0.6 3,1.4 3,1.3 3,1.4 3,-2.3 3,-2.5 3,0.7 3,1.4 3,1.4 3,1.3 3,-2.3 3,-2.6 3,0.9 3,1.3 3,1.4 3,1.4 3,-2.5 3,-2.6 3,1 3,1.4 3,1.4 3,1.2 3,-2.5 3,-2.5 3,1.1 3,1.3 3,1.4 3,1.1 3,-2.5 3,-2.5" stroke="rgb(15,15,15)" stroke-width="1.8"/>
<path d="M365.0,578.1l3,-2.6 3,0.2 3,1.4 3,1.4 3,1.4 3,-1.9 3,-2.6 3,0.3 3,1.4 3,1.4 3,1.4 3,-2 3,-2.6 3,0.5 3,1.4 3,1.4 3,1.4 3,-2.2 3,-2.6 3,0.6 3,1.4 3,1.4 3,1.4 3,-2.3 3,-2.6 3,0.7 3,1.5 3,1.4 3,1.4 3,-2.5 3,-2.6 3,0.9 3,1.4 3,1.4 3,1.4 3,-2.6 3,-2.6 3,1 3,1.4 3,1.4 3,1.4 3,-2.6 3,-2.7 3,1.2 3,1.4 3,1.4 3,1.2 3,-2.6 3,-2.6" stroke="rgb(54,54,54)" stroke-width="1.8"/>
<path d="M365.0,579.3l3,-2.6 3,0.2 3,1.4 3,1.4 3,1.5 3,-2 3,-2.6 3,0.3 3,1.5 3,1.4 3,1.4 3,-2.1 3,-2.6 3,0.5 3,1.4 3,1.4 3,1.5 3,-2.2 3,-2.7 3,0.6 3,1.5 3,1.4 3,1.4 3,-2.3 3,-2.7 3,0.8 3,1.4 3,1.4 3,1.5 3,-2.5 3,-2.7 3,0.9 3,1.4 3,1.5 3,1.4 3,-2.6 3,-2.7 3,1.1 3,1.4 3,1.4 3,1.4 3,-2.7 3,-2.7 3,1.2 3,1.4 3,1.5 3,1.2 3,-2.7 3,-2.7" stroke="rgb(87,87,87)" stroke-width="1.8"/>
<path d="M365.0,580.6l3,-2.7 3,0.2 3,1.5 3,1.4 3,1.4 3,-1.9 3,-2.7 3,0.4 3,1.4 3,1.4 3,1.5 3,-2.1 3,-2.7 3,0.5 3,1.5 3,1.4 3,1.4 3,-2.2 3,-2.6 3,0.6 3,1.4 3,1.4 3,1.5 3,-2.4 3,-2.6 3,0.7 3,1.5 3,1.4 3,1.4 3,-2.5 3,-2.6 3,0.9 3,1.4 3,1.4 3,1.5 3,-2.7 3,-2.6 3,1 3,1.4 3,1.5 3,1.3 3,-2.6 3,-2.7 3,1.2 3,1.4 3,1.4 3,1.2 3,-2.6 3,-2.7" stroke="rgb(80,80,80)" stroke-width="1.8"/>
<path d="M365.0,581.8l3,-2.6 3,0.2 3,1.4 3,1.4 3,1.4 3,-1.9 3,-2.6 3,0.4 3,1.4 3,1.4 3,1.4 3,-2.1 3,-2.6 3,0.5 3,1.4 3,1.4 3,1.4 3,-2.1 3,-2.7 3,0.6 3,1.5 3,1.4 3,1.4 3,-2.3 3,-2.7 3,0.8 3,1.4 3,1.4 3,1.4 3,-2.4 3,-2.6 3,0.8 3,1.5 3,1.4 3,1.4 3,-2.6 3,-2.6 3,1 3,1.4 3,1.4 3,1.3 3,-2.6 3,-2.6 3,1.1 3,1.4 3,1.5 3,1.2 3,-2.7 3,-2.6" stroke="rgb(47,47,47)" stroke-width="1.8"/>
<path d="M365.0,583.1l3,-2.6 3,0.2 3,1.4 3,1.4 3,1.4 3,-1.9 3,-2.6 3,0.3 3,1.4 3,1.4 3,1.4 3,-2 3,-2.6 3,0.5 3,1.4 3,1.4 3,1.4 3,-2.2 3,-2.6 3,0.6 3,1.4 3,1.4 3,1.4 3,-2.3 3,-2.6 3,0.8 3,1.4 3,1.4 3,1.4 3,-2.5 3,-2.6 3,0.9 3,1.4 3,1.4 3,1.4 3,-2.6 3,-2.5 3,1 3,1.4 3,1.4 3,1.3 3,-2.6 3,-2.6 3,1.1 3,1.4 3,1.4 3,1.2 3,-2.6 3,-2.6" stroke="rgb(46,46,46)" stroke-width="1.8"/>
<path d="M365.0,584.3l3,-2.6 3,0.3 3,1.3 3,1.4 3,1.4 3,-1.9 3,-2.5 3,0.3 3,1.4 3,1.4 3,1.3 3,-2 3,-2.5 3,0.4 3,1.4 3,1.4 3,1.4 3,-2.1 3,-2.6 3,0.6 3,1.4 3,1.4 3,1.3 3,-2.2 3,-2.6 3,0.7 3,1.4 3,1.4 3,1.4 3,-2.4 3,-2.6 3,0.9 3,1.4 3,1.3 3,1.4 3,-2.5 3,-2.6 3,1 3,1.4 3,1.4 3,1.3 3,-2.6 3,-2.6 3,1.2 3,1.4 3,1.3 3,1.2 3,-2.6 3,-2.5" stroke="rgb(73,73,73)" stroke-width="1.8"/>
<path d="M365.0,585.6l3,-2.6 3,0.2 3,1.4 3,1.4 3,1.3 3,-1.8 3,-2.6 3,0.4 3,1.3 3,1.4 3,1.4 3,-2 3,-2.5 3,0.4 3,1.4 3,1.3 3,1.4 3,-2.1 3,-2.5 3,0.6 3,1.3 3,1.4 3,1.4 3,-2.3 3,-2.5 3,0.7 3,1.4 3,1.3 3,1.4 3,-2.4 3,-2.5 3,0.9 3,1.3 3,1.4 3,1.4 3,-2.5 3,-2.6 3,1 3,1.4 3,1.3 3,1.3 3,-2.5 3,-2.6 3,1.1 3,1.4 3,1.4 3,1.1 3,-2.5 3,-2.6" stroke="rgb(92,92,92)" stroke-width="1.8"/>
<path d="M365.0,586.8l3,-2.5 3,0.2 3,1.3 3,1.4 3,1.3 3,-1.8 3,-2.5 3,0.3 3,1.4 3,1.3 3,1.4 3,-2 3,-2.5 3,0.5 3,1.3 3,1.4 3,1.3 3,-2 3,-2.6 3,0.6 3,1.4 3,1.3 3,1.4 3,-2.2 3,-2.5 3,0.7 3,1.3 3,1.4 3,1.3 3,-2.3 3,-2.5 3,0.8 3,1.4 3,1.3 3,1.4 3,-2.5 3,-2.5 3,1 3,1.3 3,1.4 3,1.2 3,-2.5 3,-2.5 3,1.1 3,1.4 3,1.3 3,1.1 3,-2.5 3,-2.5" stroke="rgb(65,65,65)" stroke-width="1.8"/>
<path d="M365.0,588.1l3,-2.5 3,0.2 3,1.3 3,1.3 3,1.4 3,-1.8 3,-2.5 3,0.3 3,1.3 3,1.4 3,1.3 3,-1.9 3,-2.5 3,0.5 3,1.3 3,1.3 3,1.4 3,-2.1 3,-2.5 3,0.6 3,1.3 3,1.4 3,1.3 3,-2.2 3,-2.5 3,0.7 3,1.4 3,1.3 3,1.4 3,-2.4 3,-2.4 3,0.8 3,1.3 3,1.4 3,1.3 3,-2.4 3,-2.5 3,0.9 3,1.4 3,1.3 3,1.3 3,-2.5 3,-2.5 3,1.1 3,1.3 3,1.4 3,1.1 3,-2.5 3,-2.5" stroke="rgb(41,41,41)" stroke-width="1.8"/>
<path d="M365.0,589.3l3,-2.5 3,0.2 3,1.4 3,1.3 3,1.3 3,-1.8 3,-2.4 3,0.3 3,1.3 3,1.3 3,1.3 3,-1.9 3,-2.4 3,0.4 3,1.4 3,1.3 3,1.3 3,-2 3,-2.5 3,0.6 3,1.3 3,1.3 3,1.3 3,-2.1 3,-2.5 3,0.7 3,1.3 3,1.4 3,1.3 3,-2.3 3,-2.5 3,0.9 3,1.3 3,1.3 3,1.3 3,-2.4 3,-2.4 3,0.9 3,1.3 3,1.3 3,1.3 3,-2.5 3,-2.4 3,1.1 3,1.3 3,1.3 3,1.1 3,-2.5 3,-2.4" stroke="rgb(56,56,56)" stroke-width="1.8"/>
<path d="M365.0,590.5l3,-2.4 3,0.2 3,1.3 3,1.3 3,1.3 3,-1.7 3,-2.5 3,0.4 3,1.3 3,1.3 3,1.3 3,-1.9 3,-2.4 3,0.4 3,1.3 3,1.3 3,1.3 3,-2 3,-2.4 3,0.5 3,1.3 3,1.4 3,1.3 3,-2.2 3,-2.4 3,0.7 3,1.3 3,1.3 3,1.3 3,-2.3 3,-2.4 3,0.8 3,1.3 3,1.3 3,1.3 3,-2.3 3,-2.5 3,1 3,1.3 3,1.3 3,1.2 3,-2.4 3,-2.4 3,1 3,1.3 3,1.3 3,1.1 3,-2.4 3,-2.4" stroke="rgb(73,73,73)" stroke-width="1.8"/>
<path d="M365.0,591.8l3,-2.4 3,0.2 3,1.3 3,1.3 3,1.2 3,-1.7 3,-2.4 3,0.3 3,1.3 3,1.3 3,1.3 3,-1.9 3,-2.4 3,0.5 3,1.3 3,1.2 3,1.3 3,-1.9 3,-2.4 3,0.5 3,1.3 3,1.3 3,1.3 3,-2.1 3,-2.4 3,0.7 3,1.2 3,1.3 3,1.3 3,-2.2 3,-2.4 3,0.8 3,1.3 3,1.3 3,1.3 3,-2.4 3,-2.4 3,0.9 3,1.3 3,1.3 3,1.2 3,-2.4 3,-2.4 3,1.1 3,1.3 3,1.3 3,1 3,-2.3 3,-2.4" stroke="rgb(77,77,77)" stroke-width="1.8"/>
<path d="M365.0,593.0l3,-2.3 3,0.2 3,1.2 3,1.3 3,1.3 3,-1.7 3,-2.4 3,0.3 3,1.3 3,1.2 3,1.3 3,-1.8 3,-2.4 3,0.4 3,1.3 3,1.3 3,1.3 3,-2 3,-2.4 3,0.6 3,1.3 3,1.2 3,1.3 3,-2.1 3,-2.3 3,0.6 3,1.3 3,1.3 3,1.2 3,-2.2 3,-2.3 3,0.8 3,1.2 3,1.3 3,1.3 3,-2.3 3,-2.4 3,0.9 3,1.3 3,1.3 3,1.1 3,-2.3 3,-2.4 3,1.1 3,1.2 3,1.3 3,1.1 3,-2.4 3,-2.4" stroke="rgb(52,52,52)" stroke-width="1.8"/>
<path d="M365.0,594.3l3,-2.3 3,0.1 3,1.3 3,1.2 3,1.3 3,-1.7 3,-2.3 3,0.3 3,1.2 3,1.3 3,1.2 3,-1.8 3,-2.3 3,0.4 3,1.3 3,1.2 3,1.3 3,-2 3,-2.3 3,0.6 3,1.2 3,1.3 3,1.2 3,-2 3,-2.4 3,0.7 3,1.3 3,1.2 3,1.3 3,-2.2 3,-2.3 3,0.7 3,1.3 3,1.3 3,1.2 3,-2.3 3,-2.3 3,0.9 3,1.2 3,1.3 3,1.2 3,-2.4 3,-2.3 3,1 3,1.3 3,1.2 3,1.1 3,-2.3 3,-2.4" stroke="rgb(47,47,47)" stroke-width="1.8"/>
<path d="M365.0,595.5l3,-2.3 3,0.2 3,1.2 3,1.3 3,1.2 3,-1.7 3,-2.3 3,0.4 3,1.2 3,1.2 3,1.3 3,-1.8 3,-2.3 3,0.4 3,1.2 3,1.3 3,1.2 3,-1.9 3,-2.3 3,0.5 3,1.3 3,1.2 3,1.2 3,-2 3,-2.3 3,0.7 3,1.2 3,1.3 3,1.2 3,-2.2 3,-2.3 3,0.8 3,1.3 3,1.2 3,1.2 3,-2.2 3,-2.3 3,0.9 3,1.2 3,1.2 3,1.2 3,-2.3 3,-2.3 3,1 3,1.2 3,1.3 3,1 3,-2.3 3,-2.3" stroke="rgb(61,61,61)" stroke-width="1.8"/>
<path d="M365.0,596.8l3,-2.3 3,0.2 3,1.2 3,1.2 3,1.2 3,-1.6 3,-2.3 3,0.3 3,1.2 3,1.3 3,1.2 3,-1.8 3,-2.2 3,0.4 3,1.2 3,1.2 3,1.2 3,-1.9 3,-2.2 3,0.5 3,1.2 3,1.2 3,1.3 3,-2 3,-2.3 3,0.6 3,1.3 3,1.2 3,1.2 3,-2.1 3,-2.3 3,0.8 3,1.2 3,1.2 3,1.3 3,-2.3 3,-2.3 3,0.9 3,1.2 3,1.3 3,1.1 3,-2.3 3,-2.2 3,1 3,1.2 3,1.2 3,1 3,-2.2 3,-2.3" stroke="rgb(85,85,85)" stroke-width="1.8"/>
<path d="M365.0,598.0l3,-2.2 3,0.2 3,1.2 3,1.2 3,1.2 3,-1.7 3,-2.2 3,0.3 3,1.2 3,1.2 3,1.2 3,-1.7 3,-2.3 3,0.4 3,1.2 3,1.2 3,1.3 3,-1.9 3,-2.2 3,0.5 3,1.2 3,1.2 3,1.2 3,-2 3,-2.2 3,0.6 3,1.2 3,1.2 3,1.2 3,-2.1 3,-2.2 3,0.8 3,1.2 3,1.2 3,1.2 3,-2.2 3,-2.3 3,0.9 3,1.2 3,1.2 3,1.1 3,-2.2 3,-2.2 3,0.9 3,1.2 3,1.2 3,1.1 3,-2.3 3,-2.2" stroke="rgb(61,61,61)" stroke-width="1.8"/>
<path d="M365.0,599.3l3,-2.2 3,0.1 3,1.2 3,1.2 3,1.2 3,-1.6 3,-2.2 3,0.3 3,1.2 3,1.1 3,1.2 3,-1.7 3,-2.2 3,0.4 3,1.2 3,1.2 3,1.2 3,-1.9 3,-2.2 3,0.5 3,1.2 3,1.2 3,1.2 3,-1.9 3,-2.2 3,0.6 3,1.2 3,1.2 3,1.2 3,-2.1 3,-2.2 3,0.7 3,1.2 3,1.2 3,1.2 3,-2.2 3,-2.2 3,0.9 3,1.2 3,1.1 3,1.2 3,-2.3 3,-2.2 3,1 3,1.2 3,1.2 3,1 3,-2.2 3,-2.2" stroke="rgb(51,51,51)" stroke-width="1.8"/>
<path d="M365.0,600.5l3,-2.2 3,0.2 3,1.2 3,1.1 3,1.2 3,-1.6 3,-2.1 3,0.2 3,1.2 3,1.2 3,1.2 3,-1.7 3,-2.2 3,0.4 3,1.2 3,1.1 3,1.2 3,-1.8 3,-2.2 3,0.5 3,1.2 3,1.2 3,1.1 3,-1.9 3,-2.2 3,0.7 3,1.1 3,1.2 3,1.2 3,-2.1 3,-2.1 3,0.7 3,1.2 3,1.1 3,1.2 3,-2.1 3,-2.2 3,0.8 3,1.2 3,1.2 3,1.1 3,-2.2 3,-2.2 3,1 3,1.1 3,1.2 3,1 3,-2.2 3,-2.2" stroke="rgb(108,108,108)" stroke-width="1.8"/>
<path d="M365.0,601.8l3,-2.2 3,0.2 3,1.1 3,1.2 3,1.1 3,-1.5 3,-2.2 3,0.3 3,1.2 3,1.1 3,1.2 3,-1.7 3,-2.1 3,0.4 3,1.1 3,1.2 3,1.1 3,-1.8 3,-2.1 3,0.5 3,1.1 3,1.2 3,1.2 3,-1.9 3,-2.2 3,0.6 3,1.2 3,1.1 3,1.2 3,-2 3,-2.2 3,0.8 3,1.1 3,1.2 3,1.1 3,-2.1 3,-2.1 3,0.8 3,1.2 3,1.1 3,1.1 3,-2.1 3,-2.2 3,0.9 3,1.2 3,1.2 3,0.9 3,-2.1 3,-2.2" stroke="rgb(234,234,234)" stroke-width="1.8"/>
<path d="M365.0,603.0l3,-2.1 3,0.1 3,1.2 3,1.1 3,1.2 3,-1.6 3,-2.1 3,0.3 3,1.1 3,1.2 3,1.1 3,-1.6 3,-2.2 3,0.4 3,1.2 3,1.1 3,1.1 3,-1.7 3,-2.1 3,0.5 3,1.1 3,1.1 3,1.2 3,-1.9 3,-2.1 3,0.6 3,1.1 3,1.2 3,1.1 3,-2 3,-2.1 3,0.7 3,1.2 3,1.1 3,1.2 3,-2.1 3,-2.1 3,0.8 3,1.1 3,1.2 3,1 3,-2.1 3,-2.1 3,0.9 3,1.2 3,1.1 3,1 3,-2.2 3,-2.1" stroke="rgb(242,242,242)" stroke-width="1.8"/>
<path d="M365.0,604.2l3,-2 3,0.1 3,1.1 3,1.2 3,1.1 3,-1.5 3,-2.1 3,0.3 3,1.1 3,1.1 3,1.1 3,-1.6 3,-2.1 3,0.4 3,1.1 3,1.1 3,1.2 3,-1.8 3,-2 3,0.4 3,1.2 3,1.1 3,1.1 3,-1.8 3,-2.1 3,0.6 3,1.1 3,1.1 3,1.1 3,-1.9 3,-2.1 3,0.7 3,1.1 3,1.2 3,1.1 3,-2.1 3,-2 3,0.8 3,1.1 3,1.1 3,1 3,-2 3,-2.1 3,0.9 3,1.1 3,1.1 3,1 3,-2.1 3,-2.1" stroke="rgb(227,227,227)" stroke-width="1.8"/>
<path d="M365.0,605.5l3,-2 3,0.1 3,1.1 3,1.1 3,1.1 3,-1.5 3,-2 3,0.3 3,1 3,1.1 3,1.1 3,-1.6 3,-2 3,0.4 3,1.1 3,1.1 3,1.1 3,-1.7 3,-2 3,0.4 3,1.1 3,1.1 3,1.1 3,-1.8 3,-2 3,0.6 3,1.1 3,1 3,1.1 3,-1.9 3,-2 3,0.7 3,1.1 3,1.1 3,1.1 3,-2 3,-2 3,0.7 3,1.1 3,1.1 3,1 3,-2 3,-2 3,0.9 3,1.1 3,1 3,1 3,-2.1 3,-2" stroke="rgb(222,222,222)" stroke-width="1.8"/>
<path d="M365.0,606.7l3,-1.9 3,0.1 3,1.1 3,1 3,1.1 3,-1.4 3,-2 3,0.3 3,1 3,1.1 3,1 3,-1.5 3,-2 3,0.4 3,1 3,1.1 3,1.1 3,-1.7 3,-1.9 3,0.4 3,1.1 3,1 3,1.1 3,-1.7 3,-2 3,0.6 3,1 3,1.1 3,1 3,-1.8 3,-2 3,0.7 3,1 3,1.1 3,1.1 3,-2 3,-1.9 3,0.7 3,1.1 3,1 3,1 3,-1.9 3,-2 3,0.9 3,1 3,1.1 3,0.9 3,-2 3,-2" stroke="rgb(211,211,211)" stroke-width="1.8"/>
<path d="M365.0,608.0l3,-1.9 3,0.1 3,1 3,1.1 3,1 3,-1.4 3,-1.9 3,0.2 3,1.1 3,1 3,1 3,-1.5 3,-1.9 3,0.4 3,1 3,1 3,1 3,-1.5 3,-1.9 3,0.4 3,1 3,1.1 3,1 3,-1.7 3,-1.9 3,0.5 3,1.1 3,1 3,1 3,-1.8 3,-1.9 3,0.7 3,1 3,1 3,1 3,-1.8 3,-1.9 3,0.7 3,1 3,1.1 3,0.9 3,-1.9 3,-1.9 3,0.8 3,1.1 3,1 3,0.9 3,-1.9 3,-2" stroke="rgb(191,191,191)" stroke-width="1.8"/>
<path d="M365.0,609.2l3,-1.8 3,0.1 3,1 3,1 3,1 3,-1.4 3,-1.8 3,0.2 3,1 3,1 3,1 3,-1.4 3,-1.9 3,0.4 3,1 3,1 3,0.9 3,-1.5 3,-1.8 3,0.4 3,1 3,1 3,1 3,-1.7 3,-1.8 3,0.5 3,1 3,1 3,1 3,-1.7 3,-1.9 3,0.7 3,1 3,0.9 3,1 3,-1.8 3,-1.8 3,0.7 3,1 3,1 3,0.9 3,-1.8 3,-1.9 3,0.8 3,1 3,1 3,0.8 3,-1.8 3,-1.8" stroke="rgb(193,193,193)" stroke-width="1.8"/>
<path d="M365.0,610.4l3,-1.8 3,0.2 3,1 3,0.9 3,1 3,-1.3 3,-1.8 3,0.2 3,1 3,0.9 3,1 3,-1.4 3,-1.8 3,0.4 3,0.9 3,1 3,0.9 3,-1.4 3,-1.8 3,0.4 3,0.9 3,1 3,1 3,-1.6 3,-1.8 3,0.5 3,1 3,0.9 3,1 3,-1.7 3,-1.7 3,0.6 3,0.9 3,1 3,0.9 3,-1.7 3,-1.8 3,0.7 3,0.9 3,1 3,0.9 3,-1.8 3,-1.8 3,0.8 3,1 3,0.9 3,0.8 3,-1.7 3,-1.8" stroke="rgb(162,162,162)" stroke-width="1.8"/>
<path d="M365.0,611.7l3,-1.8 3,0.2 3,0.9 3,0.9 3,1 3,-1.3 3,-1.7 3,0.2 3,0.9 3,1 3,0.9 3,-1.3 3,-1.8 3,0.3 3,1 3,0.9 3,0.9 3,-1.4 3,-1.7 3,0.4 3,0.9 3,0.9 3,1 3,-1.6 3,-1.7 3,0.5 3,0.9 3,1 3,0.9 3,-1.6 3,-1.7 3,0.5 3,1 3,0.9 3,0.9 3,-1.7 3,-1.7 3,0.7 3,0.9 3,0.9 3,0.9 3,-1.7 3,-1.8 3,0.8 3,0.9 3,1 3,0.7 3,-1.7 3,-1.7" stroke="rgb(153,153,153)" stroke-width="1.8"/>
<path d="M365.0,612.9l3,-1.7 3,0.2 3,0.9 3,0.9 3,0.9 3,-1.2 3,-1.7 3,0.2 3,0.9 3,0.9 3,0.9 3,-1.3 3,-1.7 3,0.3 3,0.9 3,0.9 3,0.9 3,-1.4 3,-1.6 3,0.4 3,0.9 3,0.9 3,0.9 3,-1.5 3,-1.7 3,0.5 3,0.9 3,0.9 3,0.9 3,-1.6 3,-1.6 3,0.5 3,0.9 3,0.9 3,0.9 3,-1.6 3,-1.7 3,0.7 3,0.9 3,0.9 3,0.8 3,-1.7 3,-1.6 3,0.7 3,0.9 3,0.9 3,0.7 3,-1.6 3,-1.7" stroke="rgb(146,146,146)" stroke-width="1.8"/>
<path d="M365.0,614.1l3,-1.6 3,0.2 3,0.8 3,0.9 3,0.9 3,-1.2 3,-1.6 3,0.2 3,0.9 3,0.8 3,0.9 3,-1.3 3,-1.6 3,0.3 3,0.9 3,0.9 3,0.8 3,-1.3 3,-1.6 3,0.4 3,0.8 3,0.9 3,0.9 3,-1.5 3,-1.6 3,0.5 3,0.8 3,0.9 3,0.9 3,-1.5 3,-1.6 3,0.5 3,0.9 3,0.8 3,0.9 3,-1.6 3,-1.6 3,0.6 3,0.9 3,0.9 3,0.8 3,-1.6 3,-1.6 3,0.7 3,0.8 3,0.9 3,0.7 3,-1.6 3,-1.6" stroke="rgb(152,152,152)" stroke-width="1.8"/>
<path d="M365.0,615.4l3,-1.6 3,0.2 3,0.8 3,0.8 3,0.9 3,-1.2 3,-1.5 3,0.2 3,0.8 3,0.9 3,0.8 3,-1.2 3,-1.6 3,0.3 3,0.9 3,0.8 3,0.8 3,-1.3 3,-1.5 3,0.3 3,0.9 3,0.8 3,0.9 3,-1.4 3,-1.6 3,0.5 3,0.8 3,0.8 3,0.9 3,-1.5 3,-1.5 3,0.5 3,0.8 3,0.9 3,0.8 3,-1.5 3,-1.6 3,0.6 3,0.9 3,0.8 3,0.8 3,-1.6 3,-1.5 3,0.7 3,0.8 3,0.8 3,0.7 3,-1.5 3,-1.6" stroke="rgb(152,152,152)" stroke-width="1.8"/>
<path d="M365.0,616.6l3,-1.5 3,0.2 3,0.8 3,0.8 3,0.8 3,-1.1 3,-1.5 3,0.2 3,0.8 3,0.8 3,0.8 3,-1.2 3,-1.5 3,0.3 3,0.8 3,0.8 3,0.8 3,-1.2 3,-1.5 3,0.3 3,0.8 3,0.8 3,0.8 3,-1.3 3,-1.5 3,0.5 3,0.8 3,0.8 3,0.8 3,-1.4 3,-1.5 3,0.5 3,0.8 3,0.8 3,0.8 3,-1.5 3,-1.5 3,0.6 3,0.8 3,0.8 3,0.8 3,-1.5 3,-1.5 3,0.6 3,0.8 3,0.8 3,0.7 3,-1.5 3,-1.5" stroke="rgb(127,127,127)" stroke-width="1.8"/>
<path d="M365.0,617.9l3,-1.5 3,0.1 3,0.8 3,0.8 3,0.8 3,-1.1 3,-1.4 3,0.2 3,0.7 3,0.8 3,0.8 3,-1.1 3,-1.5 3,0.3 3,0.8 3,0.7 3,0.8 3,-1.2 3,-1.4 3,0.3 3,0.8 3,0.8 3,0.7 3,-1.2 3,-1.5 3,0.4 3,0.8 3,0.8 3,0.8 3,-1.4 3,-1.4 3,0.5 3,0.7 3,0.8 3,0.8 3,-1.4 3,-1.5 3,0.6 3,0.8 3,0.7 3,0.8 3,-1.5 3,-1.4 3,0.6 3,0.8 3,0.8 3,0.6 3,-1.4 3,-1.5" stroke="rgb(127,127,127)" stroke-width="1.8"/>
<path d="M365.0,619.1l3,-1.4 3,0.1 3,0.8 3,0.7 3,0.8 3,-1 3,-1.5 3,0.2 3,0.8 3,0.8 3,0.7 3,-1.1 3,-1.4 3,0.2 3,0.8 3,0.8 3,0.8 3,-1.2 3,-1.5 3,0.4 3,0.7 3,0.8 3,0.8 3,-1.3 3,-1.4 3,0.4 3,0.8 3,0.7 3,0.8 3,-1.3 3,-1.5 3,0.5 3,0.8 3,0.8 3,0.7 3,-1.4 3,-1.4 3,0.6 3,0.7 3,0.8 3,0.7 3,-1.4 3,-1.5 3,0.7 3,0.8 3,0.7 3,0.7 3,-1.5 3,-1.4" stroke="rgb(136,136,136)" stroke-width="1.8"/>
<path d="M365.0,620.4l3,-1.5 3,0.1 3,0.8 3,0.8 3,0.8 3,-1.1 3,-1.4 3,0.2 3,0.7 3,0.8 3,0.8 3,-1.1 3,-1.5 3,0.3 3,0.8 3,0.7 3,0.8 3,-1.2 3,-1.4 3,0.3 3,0.8 3,0.8 3,0.7 3,-1.2 3,-1.5 3,0.5 3,0.7 3,0.8 3,0.8 3,-1.4 3,-1.4 3,0.5 3,0.8 3,0.7 3,0.8 3,-1.4 3,-1.5 3,0.6 3,0.8 3,0.8 3,0.7 3,-1.5 3,-1.4 3,0.6 3,0.8 3,0.8 3,0.6 3,-1.4 3,-1.4" stroke="rgb(131,131,131)" stroke-width="1.8"/>
<path d="M365.0,621.6l3,-1.4 3,0.1 3,0.8 3,0.7 3,0.8 3,-1 3,-1.5 3,0.2 3,0.8 3,0.8 3,0.7 3,-1.1 3,-1.4 3,0.3 3,0.7 3,0.8 3,0.8 3,-1.2 3,-1.5 3,0.4 3,0.8 3,0.7 3,0.8 3,-1.3 3,-1.4 3,0.4 3,0.8 3,0.8 3,0.7 3,-1.3 3,-1.5 3,0.5 3,0.8 3,0.8 3,0.8 3,-1.5 3,-1.4 3,0.6 3,0.7 3,0.8 3,0.7 3,-1.4 3,-1.4 3,0.6 3,0.8 3,0.7 3,0.7 3,-1.5 3,-1.4" stroke="rgb(133,133,133)" stroke-width="1.8"/>
</g></g>
<g clip-path="url(#ecg2)"><g filter="url(#spk1)" fill="none">
<rect x="367" y="619.7" width="145" height="98.5" fill="url(#egg2)"/>
<path d="M365.0,617.3l3,-.1 3,-.5 3,-.1 3,0.2 3,0.3 3,0.2 3,-.2 3,-.4 3,-.1 3,0.2 3,0.3 3,0.3 3,-.3 3,-.5 3,0 3,0.2 3,0.3 3,0.3 3,-.3 3,-.5 3,0 3,0.3 3,0.2 3,0.3 3,-.3 3,-.5 3,0 3,0.3 3,0.2 3,0.3 3,-.3 3,-.5 3,0 3,0.3 3,0.2 3,0.3 3,-.3 3,-.5 3,0 3,0.3 3,0.2 3,0.3 3,-.4 3,-.4 3,0 3,0.3 3,0.2 3,0.3 3,-.4" stroke="rgb(92,92,92)" stroke-width="1.8"/>
<path d="M365.0,618.6l3,-.2 3,-.5 3,-.1 3,0.3 3,0.2 3,0.3 3,-.2 3,-.5 3,-.1 3,0.3 3,0.2 3,0.3 3,-.2 3,-.5 3,-.1 3,0.3 3,0.3 3,0.2 3,-.2 3,-.5 3,0 3,0.2 3,0.3 3,0.2 3,-.3 3,-.4 3,0 3,0.2 3,0.3 3,0.2 3,-.3 3,-.5 3,0.1 3,0.2 3,0.3 3,0.2 3,-.3 3,-.5 3,0.1 3,0.2 3,0.3 3,0.2 3,-.3 3,-.5 3,0.1 3,0.2 3,0.3 3,0.3 3,-.4" stroke="rgb(88,88,88)" stroke-width="1.8"/>
<path d="M365.0,619.8l3,-.1 3,-.5 3,-.1 3,0.2 3,0.3 3,0.3 3,-.3 3,-.4 3,-.1 3,0.2 3,0.3 3,0.3 3,-.3 3,-.4 3,-.1 3,0.3 3,0.2 3,0.3 3,-.3 3,-.5 3,0 3,0.3 3,0.2 3,0.3 3,-.3 3,-.5 3,0 3,0.3 3,0.2 3,0.3 3,-.3 3,-.5 3,0 3,0.3 3,0.2 3,0.3 3,-.3 3,-.5 3,0 3,0.3 3,0.2 3,0.3 3,-.4 3,-.4 3,0 3,0.3 3,0.3 3,0.2 3,-.4" stroke="rgb(90,90,90)" stroke-width="1.8"/>
<path d="M365.0,621.1l3,-.2 3,-.5 3,-.1 3,0.3 3,0.2 3,0.3 3,-.2 3,-.5 3,-.1 3,0.3 3,0.3 3,0.2 3,-.2 3,-.5 3,-.1 3,0.3 3,0.3 3,0.2 3,-.2 3,-.5 3,0 3,0.2 3,0.3 3,0.2 3,-.2 3,-.5 3,0 3,0.2 3,0.3 3,0.2 3,-.3 3,-.4 3,0 3,0.2 3,0.3 3,0.2 3,-.3 3,-.5 3,0.1 3,0.2 3,0.3 3,0.3 3,-.4 3,-.5 3,0.1 3,0.2 3,0.3 3,0.3 3,-.4" stroke="rgb(90,90,90)" stroke-width="1.8"/>
<path d="M365.0,622.5l3,-.3 3,-.6 3,-.1 3,0.3 3,0.3 3,0.4 3,-.3 3,-.6 3,-.1 3,0.3 3,0.4 3,0.3 3,-.3 3,-.6 3,-.1 3,0.3 3,0.4 3,0.3 3,-.3 3,-.7 3,0 3,0.3 3,0.4 3,0.3 3,-.4 3,-.6 3,0 3,0.4 3,0.3 3,0.3 3,-.4 3,-.6 3,0 3,0.4 3,0.3 3,0.3 3,-.4 3,-.6 3,0 3,0.4 3,0.3 3,0.3 3,-.4 3,-.6 3,0.1 3,0.3 3,0.3 3,0.4 3,-.5" stroke="rgb(89,89,89)" stroke-width="1.8"/>
<path d="M365.0,623.8l3,-.3 3,-.7 3,-.2 3,0.4 3,0.4 3,0.4 3,-.3 3,-.7 3,-.2 3,0.4 3,0.5 3,0.4 3,-.4 3,-.8 3,-.1 3,0.5 3,0.4 3,0.4 3,-.4 3,-.8 3,0 3,0.4 3,0.4 3,0.4 3,-.5 3,-.7 3,0 3,0.4 3,0.4 3,0.4 3,-.5 3,-.7 3,0 3,0.4 3,0.4 3,0.4 3,-.5 3,-.8 3,0.1 3,0.4 3,0.4 3,0.4 3,-.5 3,-.8 3,0.1 3,0.4 3,0.4 3,0.4 3,-.6" stroke="rgb(89,89,89)" stroke-width="1.8"/>
<path d="M365.0,625.2l3,-.3 3,-.9 3,-.2 3,0.5 3,0.4 3,0.5 3,-.4 3,-.9 3,-.1 3,0.5 3,0.5 3,0.4 3,-.4 3,-.9 3,-.1 3,0.5 3,0.5 3,0.5 3,-.5 3,-.9 3,-.1 3,0.5 3,0.5 3,0.5 3,-.6 3,-.9 3,0 3,0.5 3,0.5 3,0.5 3,-.6 3,-.9 3,0 3,0.5 3,0.5 3,0.5 3,-.6 3,-.9 3,0.1 3,0.4 3,0.5 3,0.5 3,-.6 3,-.9 3,0.1 3,0.5 3,0.4 3,0.5 3,-.7" stroke="rgb(84,84,84)" stroke-width="1.8"/>
<path d="M365.0,626.6l3,-.4 3,-1.1 3,-.2 3,0.6 3,0.5 3,0.6 3,-.5 3,-1 3,-.2 3,0.6 3,0.6 3,0.5 3,-.5 3,-1 3,-.2 3,0.6 3,0.6 3,0.5 3,-.5 3,-1.1 3,0 3,0.5 3,0.6 3,0.6 3,-.7 3,-1 3,0 3,0.5 3,0.6 3,0.6 3,-.7 3,-1 3,0 3,0.6 3,0.5 3,0.6 3,-.7 3,-1.1 3,0.1 3,0.6 3,0.5 3,0.6 3,-.8 3,-1 3,0.1 3,0.6 3,0.6 3,0.5 3,-.8" stroke="rgb(86,86,86)" stroke-width="1.8"/>
<path d="M365.0,627.9l3,-.4 3,-1.2 3,-.2 3,0.6 3,0.6 3,0.7 3,-.5 3,-1.2 3,-.2 3,0.6 3,0.7 3,0.6 3,-.6 3,-1.2 3,-.1 3,0.6 3,0.7 3,0.6 3,-.6 3,-1.2 3,-.1 3,0.7 3,0.6 3,0.6 3,-.7 3,-1.1 3,-.1 3,0.7 3,0.6 3,0.7 3,-.8 3,-1.2 3,0.1 3,0.6 3,0.6 3,0.7 3,-.8 3,-1.2 3,0.1 3,0.6 3,0.7 3,0.6 3,-.9 3,-1.2 3,0.2 3,0.6 3,0.7 3,0.6 3,-.9" stroke="rgb(80,80,80)" stroke-width="1.8"/>
<path d="M365.0,629.3l3,-.5 3,-1.3 3,-.3 3,0.7 3,0.7 3,0.7 3,-.5 3,-1.4 3,-.2 3,0.7 3,0.7 3,0.8 3,-.7 3,-1.3 3,-.2 3,0.8 3,0.7 3,0.7 3,-.7 3,-1.3 3,-.1 3,0.7 3,0.7 3,0.7 3,-.8 3,-1.3 3,0 3,0.7 3,0.7 3,0.7 3,-.8 3,-1.3 3,0 3,0.7 3,0.7 3,0.8 3,-1 3,-1.3 3,0.1 3,0.8 3,0.7 3,0.7 3,-1 3,-1.3 3,0.2 3,0.7 3,0.7 3,0.7 3,-1" stroke="rgb(83,83,83)" stroke-width="1.8"/>
<path d="M365.0,630.7l3,-.6 3,-1.4 3,-.4 3,0.8 3,0.8 3,0.8 3,-.6 3,-1.5 3,-.2 3,0.8 3,0.7 3,0.8 3,-.7 3,-1.4 3,-.2 3,0.8 3,0.8 3,0.8 3,-.8 3,-1.5 3,-.1 3,0.8 3,0.8 3,0.8 3,-.9 3,-1.4 3,-.1 3,0.8 3,0.8 3,0.8 3,-.9 3,-1.5 3,0.1 3,0.8 3,0.8 3,0.7 3,-1 3,-1.4 3,0.1 3,0.8 3,0.8 3,0.8 3,-1.1 3,-1.5 3,0.2 3,0.8 3,0.8 3,0.8 3,-1.2" stroke="rgb(82,82,82)" stroke-width="1.8"/>
<path d="M365.0,632.1l3,-.7 3,-1.6 3,-.3 3,0.9 3,0.8 3,0.9 3,-.7 3,-1.6 3,-.3 3,0.9 3,0.8 3,0.9 3,-.8 3,-1.6 3,-.2 3,0.9 3,0.9 3,0.8 3,-.8 3,-1.6 3,-.1 3,0.8 3,0.9 3,0.9 3,-1 3,-1.6 3,0 3,0.9 3,0.8 3,0.9 3,-1 3,-1.6 3,0 3,0.9 3,0.9 3,0.8 3,-1.1 3,-1.6 3,0.2 3,0.8 3,0.9 3,0.9 3,-1.2 3,-1.6 3,0.2 3,0.9 3,0.8 3,0.9 3,-1.3" stroke="rgb(65,65,65)" stroke-width="1.8"/>
<path d="M365.0,633.4l3,-.6 3,-1.8 3,-.4 3,1 3,0.9 3,1 3,-.8 3,-1.7 3,-.3 3,0.9 3,0.9 3,1 3,-.9 3,-1.7 3,-.2 3,0.9 3,1 3,0.9 3,-.9 3,-1.8 3,-.1 3,1 3,0.9 3,0.9 3,-1 3,-1.7 3,0 3,0.9 3,0.9 3,1 3,-1.1 3,-1.8 3,0.1 3,0.9 3,1 3,0.9 3,-1.2 3,-1.7 3,0.1 3,1 3,0.9 3,0.9 3,-1.2 3,-1.8 3,0.3 3,0.9 3,0.9 3,1 3,-1.4" stroke="rgb(68,68,68)" stroke-width="1.8"/>
<path d="M365.0,634.8l3,-.7 3,-1.9 3,-.4 3,1 3,1 3,1 3,-.8 3,-1.9 3,-.3 3,1 3,1 3,1.1 3,-.9 3,-1.9 3,-.3 3,1.1 3,1 3,1 3,-1 3,-1.9 3,-.1 3,1 3,1 3,1 3,-1.1 3,-1.9 3,0 3,1 3,1 3,1.1 3,-1.2 3,-1.9 3,0 3,1.1 3,1 3,1 3,-1.3 3,-1.9 3,0.2 3,1 3,1 3,1 3,-1.4 3,-1.9 3,0.3 3,1 3,1 3,1.1 3,-1.5" stroke="rgb(61,61,61)" stroke-width="1.8"/>
<path d="M365.0,636.2l3,-.8 3,-2 3,-.5 3,1.1 3,1.1 3,1.1 3,-.9 3,-2 3,-.3 3,1.1 3,1 3,1.1 3,-.9 3,-2.1 3,-.2 3,1.1 3,1.1 3,1.1 3,-1.1 3,-2 3,-.2 3,1.1 3,1.1 3,1.1 3,-1.2 3,-2 3,0 3,1.1 3,1.1 3,1 3,-1.2 3,-2.1 3,0.1 3,1.1 3,1.1 3,1.1 3,-1.4 3,-2 3,0.1 3,1.1 3,1.1 3,1.1 3,-1.5 3,-2 3,0.3 3,1.1 3,1.1 3,1.1 3,-1.6" stroke="rgb(60,60,60)" stroke-width="1.8"/>
<path d="M365.0,637.5l3,-.8 3,-2.1 3,-.5 3,1.1 3,1.2 3,1.1 3,-.9 3,-2.1 3,-.4 3,1.2 3,1.1 3,1.2 3,-1.1 3,-2.1 3,-.2 3,1.1 3,1.2 3,1.1 3,-1.1 3,-2.1 3,-.2 3,1.2 3,1.1 3,1.1 3,-1.2 3,-2.1 3,0 3,1.1 3,1.1 3,1.2 3,-1.4 3,-2.1 3,0.1 3,1.1 3,1.2 3,1.1 3,-1.4 3,-2.2 3,0.2 3,1.2 3,1.1 3,1.2 3,-1.6 3,-2.1 3,0.3 3,1.1 3,1.2 3,1.1 3,-1.7" stroke="rgb(57,57,57)" stroke-width="1.8"/>
<path d="M365.0,638.7l3,-.8 3,-2.1 3,-.4 3,1.1 3,1.1 3,1.2 3,-.9 3,-2.2 3,-.3 3,1.1 3,1.2 3,1.1 3,-1 3,-2.1 3,-.3 3,1.2 3,1.1 3,1.2 3,-1.2 3,-2.1 3,-.1 3,1.1 3,1.2 3,1.1 3,-1.2 3,-2.2 3,0 3,1.2 3,1.1 3,1.1 3,-1.3 3,-2.1 3,0 3,1.2 3,1.1 3,1.2 3,-1.5 3,-2.1 3,0.2 3,1.1 3,1.2 3,1.1 3,-1.6 3,-2.1 3,0.3 3,1.2 3,1.1 3,1.2 3,-1.7" stroke="rgb(53,53,53)" stroke-width="1.8"/>
<path d="M365.0,640.0l3,-.8 3,-2.1 3,-.5 3,1.2 3,1.1 3,1.1 3,-.9 3,-2.1 3,-.4 3,1.2 3,1.1 3,1.2 3,-1 3,-2.2 3,-.2 3,1.1 3,1.2 3,1.1 3,-1.1 3,-2.1 3,-.2 3,1.2 3,1.1 3,1.2 3,-1.3 3,-2.1 3,0 3,1.1 3,1.2 3,1.1 3,-1.4 3,-2.1 3,0.1 3,1.1 3,1.2 3,1.1 3,-1.4 3,-2.2 3,0.2 3,1.2 3,1.1 3,1.2 3,-1.6 3,-2.1 3,0.3 3,1.1 3,1.2 3,1.1 3,-1.7" stroke="rgb(51,51,51)" stroke-width="1.8"/>
<path d="M365.0,641.3l3,-.8 3,-2.2 3,-.5 3,1.2 3,1.2 3,1.1 3,-.9 3,-2.2 3,-.3 3,1.1 3,1.2 3,1.1 3,-1 3,-2.1 3,-.3 3,1.2 3,1.1 3,1.2 3,-1.2 3,-2.1 3,-.1 3,1.1 3,1.2 3,1.1 3,-1.2 3,-2.2 3,0 3,1.2 3,1.1 3,1.2 3,-1.4 3,-2.1 3,0 3,1.2 3,1.1 3,1.2 3,-1.5 3,-2.1 3,0.2 3,1.1 3,1.2 3,1.1 3,-1.5 3,-2.2 3,0.3 3,1.2 3,1.1 3,1.2 3,-1.7" stroke="rgb(47,47,47)" stroke-width="1.8"/>
<path d="M365.0,642.5l3,-.8 3,-2.1 3,-.5 3,1.2 3,1.1 3,1.2 3,-1 3,-2.1 3,-.4 3,1.2 3,1.2 3,1.1 3,-1 3,-2.2 3,-.2 3,1.1 3,1.2 3,1.1 3,-1.1 3,-2.2 3,-.1 3,1.2 3,1.1 3,1.2 3,-1.3 3,-2.1 3,-.1 3,1.2 3,1.2 3,1.1 3,-1.3 3,-2.2 3,0.1 3,1.1 3,1.2 3,1.2 3,-1.5 3,-2.2 3,0.2 3,1.2 3,1.1 3,1.2 3,-1.6 3,-2.1 3,0.3 3,1.1 3,1.2 3,1.1 3,-1.7" stroke="rgb(46,46,46)" stroke-width="1.8"/>
<path d="M365.0,643.8l3,-.8 3,-2.2 3,-.5 3,1.2 3,1.2 3,1.1 3,-.9 3,-2.2 3,-.3 3,1.1 3,1.2 3,1.2 3,-1.1 3,-2.1 3,-.3 3,1.2 3,1.1 3,1.2 3,-1.1 3,-2.2 3,-.1 3,1.1 3,1.2 3,1.2 3,-1.3 3,-2.2 3,0 3,1.2 3,1.1 3,1.2 3,-1.4 3,-2.2 3,0.1 3,1.2 3,1.2 3,1.1 3,-1.5 3,-2.1 3,0.2 3,1.1 3,1.2 3,1.2 3,-1.6 3,-2.2 3,0.3 3,1.2 3,1.1 3,1.2 3,-1.7" stroke="rgb(47,47,47)" stroke-width="1.8"/>
<path d="M365.0,645.1l3,-.9 3,-2.1 3,-.5 3,1.2 3,1.1 3,1.2 3,-.9 3,-2.2 3,-.4 3,1.2 3,1.2 3,1.1 3,-1 3,-2.2 3,-.2 3,1.1 3,1.2 3,1.2 3,-1.2 3,-2.2 3,-.1 3,1.2 3,1.1 3,1.2 3,-1.3 3,-2.1 3,-.1 3,1.2 3,1.2 3,1.2 3,-1.4 3,-2.2 3,0.1 3,1.1 3,1.2 3,1.2 3,-1.5 3,-2.2 3,0.2 3,1.2 3,1.2 3,1.1 3,-1.6 3,-2.2 3,0.4 3,1.1 3,1.2 3,1.2 3,-1.7" stroke="rgb(47,47,47)" stroke-width="1.8"/>
<path d="M365.0,646.3l3,-.8 3,-2.2 3,-.5 3,1.2 3,1.2 3,1.2 3,-1 3,-2.2 3,-.3 3,1.1 3,1.2 3,1.2 3,-1.1 3,-2.1 3,-.3 3,1.2 3,1.2 3,1.1 3,-1.1 3,-2.2 3,-.2 3,1.2 3,1.2 3,1.2 3,-1.3 3,-2.2 3,0 3,1.2 3,1.1 3,1.2 3,-1.4 3,-2.2 3,0.1 3,1.2 3,1.2 3,1.2 3,-1.5 3,-2.2 3,0.2 3,1.1 3,1.2 3,1.2 3,-1.6 3,-2.2 3,0.3 3,1.2 3,1.2 3,1.1 3,-1.7" stroke="rgb(49,49,49)" stroke-width="1.8"/>
<path d="M365.0,647.6l3,-.9 3,-2.1 3,-.5 3,1.2 3,1.1 3,1.2 3,-.9 3,-2.2 3,-.4 3,1.2 3,1.2 3,1.2 3,-1.1 3,-2.2 3,-.2 3,1.1 3,1.2 3,1.2 3,-1.2 3,-2.2 3,-.1 3,1.2 3,1.2 3,1.1 3,-1.2 3,-2.2 3,-.1 3,1.2 3,1.2 3,1.2 3,-1.4 3,-2.2 3,0.1 3,1.2 3,1.1 3,1.2 3,-1.5 3,-2.2 3,0.2 3,1.2 3,1.2 3,1.2 3,-1.7 3,-2.2 3,0.3 3,1.2 3,1.2 3,1.2 3,-1.7" stroke="rgb(51,51,51)" stroke-width="1.8"/>
<path d="M365.0,648.8l3,-.8 3,-2.2 3,-.5 3,1.2 3,1.2 3,1.2 3,-1 3,-2.2 3,-.3 3,1.1 3,1.2 3,1.2 3,-1 3,-2.2 3,-.3 3,1.2 3,1.2 3,1.2 3,-1.2 3,-2.2 3,-.2 3,1.2 3,1.2 3,1.2 3,-1.3 3,-2.2 3,0 3,1.2 3,1.2 3,1.1 3,-1.4 3,-2.2 3,0.1 3,1.2 3,1.2 3,1.2 3,-1.5 3,-2.2 3,0.2 3,1.1 3,1.2 3,1.2 3,-1.6 3,-2.2 3,0.3 3,1.2 3,1.2 3,1.2 3,-1.8" stroke="rgb(53,53,53)" stroke-width="1.8"/>
<path d="M365.0,650.1l3,-.8 3,-2.3 3,-.4 3,1.2 3,1.2 3,1.1 3,-.9 3,-2.2 3,-.4 3,1.2 3,1.2 3,1.2 3,-1.1 3,-2.2 3,-.3 3,1.2 3,1.2 3,1.2 3,-1.2 3,-2.2 3,-.1 3,1.2 3,1.2 3,1.2 3,-1.3 3,-2.2 3,-.1 3,1.2 3,1.2 3,1.2 3,-1.4 3,-2.2 3,0.1 3,1.2 3,1.2 3,1.1 3,-1.5 3,-2.2 3,0.2 3,1.2 3,1.2 3,1.2 3,-1.7 3,-2.2 3,0.3 3,1.2 3,1.2 3,1.2 3,-1.7" stroke="rgb(58,58,58)" stroke-width="1.8"/>
<path d="M365.0,651.4l3,-.9 3,-2.2 3,-.5 3,1.2 3,1.2 3,1.2 3,-1 3,-2.2 3,-.4 3,1.2 3,1.2 3,1.2 3,-1 3,-2.3 3,-.2 3,1.2 3,1.2 3,1.2 3,-1.2 3,-2.2 3,-.2 3,1.2 3,1.2 3,1.2 3,-1.3 3,-2.2 3,0 3,1.2 3,1.2 3,1.2 3,-1.4 3,-2.3 3,0.1 3,1.2 3,1.2 3,1.2 3,-1.5 3,-2.3 3,0.2 3,1.2 3,1.2 3,1.2 3,-1.6 3,-2.2 3,0.3 3,1.2 3,1.2 3,1.2 3,-1.8" stroke="rgb(61,61,61)" stroke-width="1.8"/>
<path d="M365.0,652.6l3,-.8 3,-2.3 3,-.4 3,1.2 3,1.2 3,1.2 3,-1 3,-2.2 3,-.4 3,1.2 3,1.2 3,1.2 3,-1.1 3,-2.2 3,-.3 3,1.2 3,1.2 3,1.3 3,-1.2 3,-2.3 3,-.1 3,1.2 3,1.2 3,1.2 3,-1.3 3,-2.3 3,0 3,1.2 3,1.2 3,1.2 3,-1.4 3,-2.2 3,0.1 3,1.2 3,1.2 3,1.2 3,-1.6 3,-2.2 3,0.2 3,1.2 3,1.2 3,1.2 3,-1.6 3,-2.3 3,0.3 3,1.2 3,1.2 3,1.3 3,-1.8" stroke="rgb(63,63,63)" stroke-width="1.8"/>
<path d="M365.0,653.9l3,-.9 3,-2.2 3,-.5 3,1.2 3,1.2 3,1.2 3,-.9 3,-2.3 3,-.4 3,1.2 3,1.3 3,1.2 3,-1.1 3,-2.3 3,-.2 3,1.2 3,1.2 3,1.2 3,-1.2 3,-2.2 3,-.2 3,1.2 3,1.2 3,1.3 3,-1.4 3,-2.2 3,0 3,1.2 3,1.2 3,1.2 3,-1.4 3,-2.3 3,0.1 3,1.2 3,1.2 3,1.2 3,-1.5 3,-2.3 3,0.2 3,1.3 3,1.2 3,1.2 3,-1.7 3,-2.2 3,0.3 3,1.2 3,1.2 3,1.2 3,-1.8" stroke="rgb(74,74,74)" stroke-width="1.8"/>
<path d="M365.0,655.2l3,-.9 3,-2.3 3,-.5 3,1.3 3,1.2 3,1.2 3,-1 3,-2.2 3,-.4 3,1.2 3,1.2 3,1.2 3,-1.1 3,-2.2 3,-.3 3,1.2 3,1.3 3,1.2 3,-1.2 3,-2.3 3,-.1 3,1.2 3,1.2 3,1.2 3,-1.3 3,-2.3 3,0 3,1.2 3,1.2 3,1.3 3,-1.5 3,-2.2 3,0 3,1.3 3,1.2 3,1.2 3,-1.6 3,-2.2 3,0.2 3,1.2 3,1.2 3,1.2 3,-1.6 3,-2.3 3,0.3 3,1.2 3,1.3 3,1.2 3,-1.8" stroke="rgb(77,77,77)" stroke-width="1.8"/>
<path d="M365.0,656.4l3,-.8 3,-2.3 3,-.5 3,1.2 3,1.2 3,1.3 3,-1 3,-2.3 3,-.4 3,1.3 3,1.2 3,1.2 3,-1.1 3,-2.3 3,-.2 3,1.2 3,1.2 3,1.2 3,-1.2 3,-2.2 3,-.2 3,1.2 3,1.3 3,1.2 3,-1.3 3,-2.3 3,0 3,1.2 3,1.2 3,1.2 3,-1.4 3,-2.3 3,0.1 3,1.2 3,1.2 3,1.3 3,-1.6 3,-2.3 3,0.2 3,1.3 3,1.2 3,1.2 3,-1.7 3,-2.2 3,0.3 3,1.2 3,1.2 3,1.2 3,-1.8" stroke="rgb(86,86,86)" stroke-width="1.8"/>
<path d="M365.0,657.7l3,-.9 3,-2.3 3,-.5 3,1.3 3,1.2 3,1.2 3,-1 3,-2.2 3,-.4 3,1.2 3,1.2 3,1.3 3,-1.1 3,-2.3 3,-.3 3,1.2 3,1.3 3,1.2 3,-1.2 3,-2.3 3,-.1 3,1.2 3,1.2 3,1.2 3,-1.3 3,-2.3 3,0 3,1.2 3,1.3 3,1.2 3,-1.5 3,-2.3 3,0.1 3,1.3 3,1.2 3,1.2 3,-1.5 3,-2.3 3,0.2 3,1.2 3,1.2 3,1.3 3,-1.7 3,-2.3 3,0.3 3,1.2 3,1.3 3,1.2 3,-1.8" stroke="rgb(82,82,82)" stroke-width="1.8"/>
<path d="M365.0,658.9l3,-.8 3,-2.3 3,-.5 3,1.2 3,1.2 3,1.3 3,-1 3,-2.3 3,-.4 3,1.3 3,1.2 3,1.2 3,-1.1 3,-2.3 3,-.2 3,1.2 3,1.2 3,1.3 3,-1.3 3,-2.3 3,-.1 3,1.2 3,1.3 3,1.2 3,-1.3 3,-2.3 3,-.1 3,1.3 3,1.2 3,1.2 3,-1.4 3,-2.3 3,0.1 3,1.2 3,1.3 3,1.2 3,-1.6 3,-2.3 3,0.2 3,1.3 3,1.2 3,1.2 3,-1.7 3,-2.3 3,0.4 3,1.2 3,1.2 3,1.3 3,-1.8" stroke="rgb(84,84,84)" stroke-width="1.8"/>
<path d="M365.0,660.2l3,-.9 3,-2.3 3,-.5 3,1.3 3,1.2 3,1.2 3,-.9 3,-2.4 3,-.3 3,1.2 3,1.2 3,1.3 3,-1.1 3,-2.3 3,-.3 3,1.2 3,1.3 3,1.2 3,-1.2 3,-2.3 3,-.2 3,1.3 3,1.2 3,1.3 3,-1.4 3,-2.3 3,0 3,1.2 3,1.3 3,1.2 3,-1.5 3,-2.3 3,0.1 3,1.3 3,1.2 3,1.3 3,-1.6 3,-2.3 3,0.2 3,1.2 3,1.3 3,1.2 3,-1.7 3,-2.3 3,0.3 3,1.3 3,1.2 3,1.2 3,-1.8" stroke="rgb(83,83,83)" stroke-width="1.8"/>
<path d="M365.0,661.5l3,-.9 3,-2.3 3,-.5 3,1.2 3,1.3 3,1.2 3,-1 3,-2.3 3,-.4 3,1.3 3,1.2 3,1.2 3,-1.1 3,-2.3 3,-.2 3,1.2 3,1.2 3,1.3 3,-1.2 3,-2.4 3,-.1 3,1.2 3,1.3 3,1.2 3,-1.3 3,-2.3 3,-.1 3,1.3 3,1.2 3,1.3 3,-1.5 3,-2.3 3,0.1 3,1.2 3,1.3 3,1.2 3,-1.6 3,-2.3 3,0.2 3,1.3 3,1.2 3,1.3 3,-1.8 3,-2.3 3,0.4 3,1.2 3,1.3 3,1.2 3,-1.8" stroke="rgb(76,76,76)" stroke-width="1.8"/>
<path d="M365.0,662.7l3,-.9 3,-2.3 3,-.5 3,1.3 3,1.2 3,1.3 3,-1 3,-2.4 3,-.3 3,1.2 3,1.3 3,1.2 3,-1.1 3,-2.3 3,-.3 3,1.2 3,1.3 3,1.3 3,-1.3 3,-2.3 3,-.2 3,1.3 3,1.2 3,1.3 3,-1.4 3,-2.3 3,0 3,1.2 3,1.3 3,1.2 3,-1.4 3,-2.4 3,0.1 3,1.3 3,1.2 3,1.3 3,-1.6 3,-2.3 3,0.2 3,1.2 3,1.3 3,1.2 3,-1.7 3,-2.3 3,0.3 3,1.3 3,1.2 3,1.3 3,-1.9" stroke="rgb(76,76,76)" stroke-width="1.8"/>
<path d="M365.0,664.0l3,-.9 3,-2.3 3,-.5 3,1.2 3,1.3 3,1.2 3,-1 3,-2.3 3,-.4 3,1.3 3,1.2 3,1.3 3,-1.2 3,-2.3 3,-.3 3,1.3 3,1.3 3,1.2 3,-1.2 3,-2.4 3,-.1 3,1.2 3,1.3 3,1.3 3,-1.4 3,-2.3 3,-.1 3,1.3 3,1.2 3,1.3 3,-1.5 3,-2.3 3,0.1 3,1.2 3,1.3 3,1.2 3,-1.6 3,-2.3 3,0.2 3,1.3 3,1.2 3,1.3 3,-1.7 3,-2.4 3,0.4 3,1.2 3,1.3 3,1.2 3,-1.8" stroke="rgb(80,80,80)" stroke-width="1.8"/>
<path d="M365.0,665.3l3,-.9 3,-2.4 3,-.5 3,1.3 3,1.2 3,1.3 3,-1 3,-2.4 3,-.4 3,1.3 3,1.3 3,1.2 3,-1.1 3,-2.3 3,-.3 3,1.3 3,1.2 3,1.3 3,-1.3 3,-2.3 3,-.2 3,1.3 3,1.3 3,1.2 3,-1.4 3,-2.3 3,0 3,1.2 3,1.3 3,1.3 3,-1.5 3,-2.4 3,0.1 3,1.3 3,1.2 3,1.3 3,-1.6 3,-2.4 3,0.3 3,1.2 3,1.3 3,1.2 3,-1.7 3,-2.3 3,0.3 3,1.3 3,1.2 3,1.3 3,-1.9" stroke="rgb(69,69,69)" stroke-width="1.8"/>
<path d="M365.0,666.5l3,-.9 3,-2.3 3,-.6 3,1.3 3,1.3 3,1.3 3,-1.1 3,-2.3 3,-.4 3,1.3 3,1.2 3,1.3 3,-1.1 3,-2.4 3,-.3 3,1.3 3,1.3 3,1.2 3,-1.2 3,-2.4 3,-.1 3,1.2 3,1.3 3,1.3 3,-1.4 3,-2.4 3,0 3,1.3 3,1.3 3,1.2 3,-1.5 3,-2.3 3,0.1 3,1.2 3,1.3 3,1.3 3,-1.7 3,-2.3 3,0.2 3,1.3 3,1.2 3,1.3 3,-1.7 3,-2.4 3,0.3 3,1.3 3,1.3 3,1.3 3,-1.9" stroke="rgb(70,70,70)" stroke-width="1.8"/>
<path d="M365.0,667.8l3,-.9 3,-2.4 3,-.5 3,1.3 3,1.2 3,1.3 3,-1 3,-2.4 3,-.4 3,1.3 3,1.3 3,1.3 3,-1.2 3,-2.3 3,-.3 3,1.3 3,1.2 3,1.3 3,-1.3 3,-2.3 3,-.2 3,1.3 3,1.3 3,1.2 3,-1.3 3,-2.4 3,0 3,1.2 3,1.3 3,1.3 3,-1.5 3,-2.4 3,0.1 3,1.3 3,1.3 3,1.2 3,-1.6 3,-2.4 3,0.2 3,1.3 3,1.3 3,1.3 3,-1.8 3,-2.3 3,0.3 3,1.3 3,1.2 3,1.3 3,-1.9" stroke="rgb(67,67,67)" stroke-width="1.8"/>
<path d="M365.0,669.0l3,-.9 3,-2.3 3,-.6 3,1.3 3,1.3 3,1.3 3,-1 3,-2.4 3,-.4 3,1.3 3,1.2 3,1.3 3,-1.1 3,-2.4 3,-.3 3,1.3 3,1.3 3,1.3 3,-1.3 3,-2.4 3,-.1 3,1.2 3,1.3 3,1.3 3,-1.4 3,-2.4 3,0 3,1.3 3,1.3 3,1.3 3,-1.6 3,-2.3 3,0.1 3,1.2 3,1.3 3,1.3 3,-1.6 3,-2.4 3,0.2 3,1.3 3,1.3 3,1.2 3,-1.7 3,-2.4 3,0.3 3,1.3 3,1.3 3,1.3 3,-1.9" stroke="rgb(66,66,66)" stroke-width="1.8"/>
<path d="M365.0,670.3l3,-.9 3,-2.4 3,-.5 3,1.3 3,1.3 3,1.2 3,-1 3,-2.4 3,-.4 3,1.3 3,1.3 3,1.3 3,-1.2 3,-2.4 3,-.2 3,1.3 3,1.2 3,1.3 3,-1.2 3,-2.4 3,-.2 3,1.3 3,1.3 3,1.3 3,-1.4 3,-2.4 3,0 3,1.2 3,1.3 3,1.3 3,-1.5 3,-2.4 3,0.1 3,1.3 3,1.3 3,1.3 3,-1.7 3,-2.4 3,0.2 3,1.3 3,1.3 3,1.3 3,-1.8 3,-2.4 3,0.4 3,1.3 3,1.3 3,1.2 3,-1.8" stroke="rgb(60,60,60)" stroke-width="1.8"/>
<path d="M365.0,671.5l3,-.9 3,-2.3 3,-.5 3,1.2 3,1.3 3,1.3 3,-1 3,-2.4 3,-.4 3,1.3 3,1.2 3,1.3 3,-1.1 3,-2.4 3,-.3 3,1.3 3,1.3 3,1.2 3,-1.2 3,-2.4 3,-.1 3,1.3 3,1.2 3,1.3 3,-1.4 3,-2.3 3,-.1 3,1.3 3,1.3 3,1.2 3,-1.5 3,-2.3 3,0.1 3,1.2 3,1.3 3,1.3 3,-1.6 3,-2.4 3,0.2 3,1.3 3,1.3 3,1.2 3,-1.7 3,-2.4 3,0.4 3,1.2 3,1.3 3,1.3 3,-1.9" stroke="rgb(58,58,58)" stroke-width="1.8"/>
<path d="M365.0,672.7l3,-.9 3,-2.2 3,-.5 3,1.2 3,1.2 3,1.2 3,-.9 3,-2.3 3,-.4 3,1.2 3,1.3 3,1.2 3,-1.1 3,-2.3 3,-.2 3,1.2 3,1.2 3,1.2 3,-1.2 3,-2.2 3,-.2 3,1.2 3,1.2 3,1.3 3,-1.4 3,-2.2 3,-.1 3,1.3 3,1.2 3,1.2 3,-1.4 3,-2.3 3,0.1 3,1.2 3,1.2 3,1.2 3,-1.5 3,-2.3 3,0.2 3,1.2 3,1.3 3,1.2 3,-1.7 3,-2.2 3,0.3 3,1.2 3,1.2 3,1.2 3,-1.8" stroke="rgb(56,56,56)" stroke-width="1.8"/>
<path d="M365.0,673.9l3,-.8 3,-2.2 3,-.5 3,1.2 3,1.2 3,1.1 3,-.9 3,-2.2 3,-.4 3,1.2 3,1.2 3,1.2 3,-1.1 3,-2.2 3,-.2 3,1.2 3,1.1 3,1.2 3,-1.2 3,-2.1 3,-.2 3,1.2 3,1.2 3,1.1 3,-1.2 3,-2.2 3,0 3,1.1 3,1.2 3,1.2 3,-1.4 3,-2.2 3,0.1 3,1.2 3,1.1 3,1.2 3,-1.5 3,-2.2 3,0.2 3,1.2 3,1.2 3,1.2 3,-1.7 3,-2.1 3,0.3 3,1.2 3,1.1 3,1.2 3,-1.7" stroke="rgb(40,40,40)" stroke-width="1.8"/>
<path d="M365.0,675.1l3,-.8 3,-2.1 3,-.5 3,1.2 3,1.1 3,1.1 3,-.9 3,-2.1 3,-.3 3,1.1 3,1.1 3,1.1 3,-1 3,-2.1 3,-.2 3,1.1 3,1.2 3,1.1 3,-1.1 3,-2.1 3,-.2 3,1.2 3,1.1 3,1.1 3,-1.2 3,-2.1 3,0 3,1.1 3,1.1 3,1.2 3,-1.4 3,-2.1 3,0.1 3,1.1 3,1.2 3,1.1 3,-1.4 3,-2.1 3,0.2 3,1.1 3,1.1 3,1.1 3,-1.5 3,-2.1 3,0.3 3,1.1 3,1.1 3,1.2 3,-1.7" stroke="rgb(111,111,111)" stroke-width="1.8"/>
<path d="M365.0,676.2l3,-.7 3,-2 3,-.5 3,1.1 3,1.1 3,1.1 3,-.9 3,-2 3,-.3 3,1.1 3,1 3,1.1 3,-.9 3,-2.1 3,-.2 3,1.1 3,1.1 3,1.1 3,-1.1 3,-2 3,-.1 3,1 3,1.1 3,1.1 3,-1.2 3,-2 3,0 3,1.1 3,1 3,1.1 3,-1.2 3,-2.1 3,0.1 3,1.1 3,1.1 3,1.1 3,-1.4 3,-2 3,0.2 3,1 3,1.1 3,1.1 3,-1.5 3,-2 3,0.3 3,1.1 3,1.1 3,1 3,-1.5" stroke="rgb(255,255,255)" stroke-width="1.8"/>
<path d="M365.0,677.4l3,-.7 3,-1.9 3,-.4 3,1 3,1 3,1.1 3,-.9 3,-1.9 3,-.3 3,1 3,1.1 3,1 3,-.9 3,-1.9 3,-.3 3,1.1 3,1 3,1 3,-1 3,-1.9 3,-.1 3,1 3,1 3,1.1 3,-1.2 3,-1.9 3,0 3,1 3,1.1 3,1 3,-1.2 3,-1.9 3,0 3,1.1 3,1 3,1 3,-1.3 3,-1.9 3,0.2 3,1 3,1 3,1.1 3,-1.4 3,-2 3,0.3 3,1 3,1.1 3,1 3,-1.5" stroke="rgb(227,227,227)" stroke-width="1.8"/>
<path d="M365.0,678.6l3,-.7 3,-1.8 3,-.4 3,1 3,1 3,0.9 3,-.7 3,-1.9 3,-.3 3,1 3,1 3,1 3,-.9 3,-1.8 3,-.2 3,0.9 3,1 3,1 3,-1 3,-1.8 3,-.1 3,1 3,1 3,0.9 3,-1 3,-1.9 3,0 3,1 3,1 3,1 3,-1.2 3,-1.8 3,0.1 3,0.9 3,1 3,1 3,-1.3 3,-1.8 3,0.2 3,1 3,1 3,0.9 3,-1.3 3,-1.8 3,0.2 3,1 3,1 3,1 3,-1.5" stroke="rgb(234,234,234)" stroke-width="1.8"/>
<path d="M365.0,679.8l3,-.7 3,-1.7 3,-.4 3,0.9 3,1 3,0.9 3,-.7 3,-1.8 3,-.3 3,1 3,0.9 3,1 3,-.9 3,-1.7 3,-.2 3,0.9 3,0.9 3,1 3,-.9 3,-1.8 3,-.1 3,0.9 3,1 3,0.9 3,-1 3,-1.7 3,-.1 3,1 3,0.9 3,0.9 3,-1.1 3,-1.7 3,0.1 3,0.9 3,0.9 3,1 3,-1.2 3,-1.8 3,0.2 3,0.9 3,1 3,0.9 3,-1.3 3,-1.7 3,0.2 3,1 3,0.9 3,0.9 3,-1.3" stroke="rgb(231,231,231)" stroke-width="1.8"/>
<path d="M365.0,681.0l3,-.6 3,-1.7 3,-.4 3,0.9 3,0.9 3,0.9 3,-.7 3,-1.7 3,-.3 3,0.9 3,1 3,0.9 3,-.8 3,-1.8 3,-.1 3,0.9 3,0.9 3,0.9 3,-.9 3,-1.7 3,-.1 3,0.9 3,0.9 3,0.9 3,-1 3,-1.7 3,0 3,0.9 3,0.9 3,1 3,-1.1 3,-1.7 3,0 3,1 3,0.9 3,0.9 3,-1.2 3,-1.7 3,0.2 3,0.9 3,0.9 3,0.9 3,-1.2 3,-1.7 3,0.2 3,0.9 3,0.9 3,1 3,-1.4" stroke="rgb(218,218,218)" stroke-width="1.8"/>
<path d="M365.0,682.2l3,-.6 3,-1.7 3,-.3 3,0.9 3,0.9 3,0.9 3,-.7 3,-1.7 3,-.3 3,0.9 3,0.9 3,0.9 3,-.8 3,-1.7 3,-.2 3,0.9 3,0.9 3,0.9 3,-.9 3,-1.6 3,-.1 3,0.9 3,0.9 3,0.9 3,-1 3,-1.7 3,0 3,0.9 3,0.9 3,0.9 3,-1.1 3,-1.7 3,0.1 3,0.9 3,0.9 3,0.9 3,-1.1 3,-1.7 3,0.1 3,0.9 3,1 3,0.9 3,-1.3 3,-1.7 3,0.3 3,0.9 3,0.9 3,0.9 3,-1.3" stroke="rgb(195,195,195)" stroke-width="1.8"/>
<path d="M365.0,683.5l3,-.7 3,-1.6 3,-.4 3,0.9 3,0.9 3,0.9 3,-.7 3,-1.7 3,-.2 3,0.9 3,0.8 3,0.9 3,-.8 3,-1.6 3,-.2 3,0.9 3,0.9 3,0.9 3,-.9 3,-1.7 3,-.1 3,0.9 3,0.9 3,0.9 3,-1 3,-1.6 3,0 3,0.8 3,0.9 3,0.9 3,-1 3,-1.7 3,0.1 3,0.9 3,0.9 3,0.9 3,-1.2 3,-1.6 3,0.1 3,0.9 3,0.9 3,0.9 3,-1.2 3,-1.7 3,0.2 3,0.9 3,0.9 3,0.9 3,-1.3" stroke="rgb(195,195,195)" stroke-width="1.8"/>
<path d="M365.0,684.7l3,-.6 3,-1.6 3,-.4 3,0.9 3,0.9 3,0.8 3,-.7 3,-1.6 3,-.3 3,0.9 3,0.9 3,0.9 3,-.8 3,-1.6 3,-.2 3,0.8 3,0.9 3,0.9 3,-.9 3,-1.6 3,-.1 3,0.9 3,0.8 3,0.9 3,-.9 3,-1.7 3,0 3,0.9 3,0.9 3,0.9 3,-1.1 3,-1.6 3,0.1 3,0.8 3,0.9 3,0.9 3,-1.1 3,-1.7 3,0.2 3,0.9 3,0.8 3,0.9 3,-1.2 3,-1.6 3,0.2 3,0.9 3,0.9 3,0.8 3,-1.2" stroke="rgb(178,178,178)" stroke-width="1.8"/>
<path d="M365.0,685.9l3,-.6 3,-1.6 3,-.3 3,0.8 3,0.9 3,0.9 3,-.7 3,-1.6 3,-.3 3,0.9 3,0.8 3,0.9 3,-.8 3,-1.6 3,-.2 3,0.9 3,0.9 3,0.8 3,-.8 3,-1.6 3,-.1 3,0.8 3,0.9 3,0.9 3,-1 3,-1.6 3,0 3,0.9 3,0.8 3,0.9 3,-1 3,-1.6 3,0 3,0.9 3,0.9 3,0.8 3,-1.1 3,-1.6 3,0.2 3,0.8 3,0.9 3,0.8 3,-1.1 3,-1.6 3,0.2 3,0.8 3,0.9 3,0.9 3,-1.3" stroke="rgb(190,190,190)" stroke-width="1.8"/>
<path d="M365.0,687.2l3,-.6 3,-1.6 3,-.3 3,0.8 3,0.9 3,0.8 3,-.7 3,-1.6 3,-.2 3,0.8 3,0.9 3,0.8 3,-.7 3,-1.6 3,-.2 3,0.9 3,0.8 3,0.9 3,-.9 3,-1.6 3,-.1 3,0.9 3,0.8 3,0.9 3,-.9 3,-1.6 3,0 3,0.8 3,0.9 3,0.8 3,-1 3,-1.6 3,0.1 3,0.8 3,0.9 3,0.8 3,-1 3,-1.6 3,0.1 3,0.9 3,0.8 3,0.9 3,-1.2 3,-1.6 3,0.3 3,0.8 3,0.9 3,0.8 3,-1.2" stroke="rgb(173,173,173)" stroke-width="1.8"/>
<path d="M365.0,688.4l3,-.6 3,-1.5 3,-.4 3,0.9 3,0.8 3,0.8 3,-.6 3,-1.6 3,-.2 3,0.8 3,0.8 3,0.9 3,-.8 3,-1.5 3,-.2 3,0.8 3,0.9 3,0.8 3,-.8 3,-1.6 3,-.1 3,0.8 3,0.9 3,0.8 3,-.9 3,-1.5 3,-.1 3,0.9 3,0.8 3,0.8 3,-.9 3,-1.6 3,0.1 3,0.8 3,0.8 3,0.9 3,-1.1 3,-1.5 3,0.1 3,0.8 3,0.9 3,0.8 3,-1.1 3,-1.6 3,0.2 3,0.9 3,0.8 3,0.8 3,-1.2" stroke="rgb(161,161,161)" stroke-width="1.8"/>
<path d="M365.0,689.6l3,-.5 3,-1.6 3,-.3 3,0.8 3,0.8 3,0.9 3,-.7 3,-1.5 3,-.3 3,0.8 3,0.9 3,0.8 3,-.7 3,-1.6 3,-.1 3,0.8 3,0.8 3,0.8 3,-.8 3,-1.5 3,-.1 3,0.8 3,0.8 3,0.9 3,-.9 3,-1.6 3,0 3,0.8 3,0.9 3,0.8 3,-1 3,-1.5 3,0 3,0.9 3,0.8 3,0.8 3,-1 3,-1.6 3,0.2 3,0.8 3,0.8 3,0.8 3,-1.1 3,-1.5 3,0.2 3,0.8 3,0.8 3,0.9 3,-1.2" stroke="rgb(165,165,165)" stroke-width="1.8"/>
<path d="M365.0,690.9l3,-.6 3,-1.5 3,-.3 3,0.8 3,0.8 3,0.8 3,-.6 3,-1.6 3,-.2 3,0.8 3,0.8 3,0.8 3,-.7 3,-1.5 3,-.2 3,0.8 3,0.8 3,0.9 3,-.8 3,-1.6 3,0 3,0.8 3,0.8 3,0.8 3,-.9 3,-1.5 3,0 3,0.8 3,0.8 3,0.8 3,-.9 3,-1.6 3,0.1 3,0.8 3,0.8 3,0.8 3,-1 3,-1.5 3,0.1 3,0.8 3,0.9 3,0.8 3,-1.1 3,-1.6 3,0.3 3,0.8 3,0.8 3,0.8 3,-1.2" stroke="rgb(157,157,157)" stroke-width="1.8"/>
<path d="M365.0,692.1l3,-.6 3,-1.4 3,-.4 3,0.8 3,0.8 3,0.8 3,-.6 3,-1.5 3,-.2 3,0.8 3,0.8 3,0.8 3,-.8 3,-1.4 3,-.2 3,0.8 3,0.8 3,0.8 3,-.8 3,-1.5 3,-.1 3,0.8 3,0.8 3,0.8 3,-.9 3,-1.4 3,-.1 3,0.8 3,0.8 3,0.8 3,-.9 3,-1.5 3,0.1 3,0.8 3,0.8 3,0.8 3,-1.1 3,-1.4 3,0.1 3,0.8 3,0.8 3,0.8 3,-1.1 3,-1.5 3,0.2 3,0.8 3,0.8 3,0.8 3,-1.2" stroke="rgb(153,153,153)" stroke-width="1.8"/>
<path d="M365.0,693.3l3,-.5 3,-1.5 3,-.3 3,0.8 3,0.8 3,0.8 3,-.7 3,-1.4 3,-.3 3,0.8 3,0.8 3,0.8 3,-.7 3,-1.5 3,-.1 3,0.7 3,0.8 3,0.8 3,-.8 3,-1.4 3,-.1 3,0.8 3,0.8 3,0.7 3,-.8 3,-1.5 3,0 3,0.8 3,0.8 3,0.8 3,-1 3,-1.4 3,0 3,0.8 3,0.8 3,0.8 3,-1 3,-1.5 3,0.2 3,0.8 3,0.7 3,0.8 3,-1.1 3,-1.4 3,0.2 3,0.8 3,0.8 3,0.7 3,-1.1" stroke="rgb(139,139,139)" stroke-width="1.8"/>
<path d="M365.0,694.6l3,-.6 3,-1.4 3,-.3 3,0.8 3,0.7 3,0.8 3,-.6 3,-1.4 3,-.3 3,0.8 3,0.8 3,0.7 3,-.7 3,-1.4 3,-.2 3,0.8 3,0.8 3,0.7 3,-.7 3,-1.4 3,-.1 3,0.7 3,0.8 3,0.8 3,-.9 3,-1.4 3,0 3,0.8 3,0.7 3,0.8 3,-.9 3,-1.4 3,0 3,0.8 3,0.8 3,0.7 3,-1 3,-1.4 3,0.1 3,0.8 3,0.8 3,0.8 3,-1.1 3,-1.4 3,0.2 3,0.7 3,0.8 3,0.8 3,-1.2" stroke="rgb(148,148,148)" stroke-width="1.8"/>
<path d="M365.0,695.8l3,-.5 3,-1.4 3,-.3 3,0.7 3,0.8 3,0.7 3,-.6 3,-1.4 3,-.2 3,0.7 3,0.8 3,0.8 3,-.7 3,-1.4 3,-.2 3,0.8 3,0.7 3,0.8 3,-.8 3,-1.4 3,-.1 3,0.8 3,0.7 3,0.8 3,-.8 3,-1.4 3,0 3,0.7 3,0.8 3,0.7 3,-.9 3,-1.4 3,0.1 3,0.7 3,0.8 3,0.8 3,-1 3,-1.4 3,0.1 3,0.8 3,0.7 3,0.8 3,-1.1 3,-1.4 3,0.2 3,0.8 3,0.7 3,0.8 3,-1.1" stroke="rgb(144,144,144)" stroke-width="1.8"/>
<path d="M365.0,697.0l3,-.5 3,-1.4 3,-.3 3,0.8 3,0.7 3,0.8 3,-.6 3,-1.4 3,-.2 3,0.7 3,0.7 3,0.8 3,-.7 3,-1.4 3,-.1 3,0.7 3,0.8 3,0.7 3,-.7 3,-1.4 3,-.1 3,0.7 3,0.8 3,0.7 3,-.8 3,-1.4 3,0 3,0.8 3,0.7 3,0.8 3,-.9 3,-1.4 3,0.1 3,0.7 3,0.7 3,0.8 3,-1 3,-1.3 3,0.1 3,0.7 3,0.8 3,0.7 3,-1 3,-1.4 3,0.2 3,0.7 3,0.8 3,0.7 3,-1.1" stroke="rgb(135,135,135)" stroke-width="1.8"/>
<path d="M365.0,698.3l3,-.5 3,-1.4 3,-.3 3,0.7 3,0.8 3,0.7 3,-.6 3,-1.3 3,-.3 3,0.8 3,0.7 3,0.7 3,-.6 3,-1.4 3,-.1 3,0.7 3,0.7 3,0.7 3,-.7 3,-1.3 3,-.1 3,0.7 3,0.7 3,0.8 3,-.8 3,-1.4 3,0 3,0.7 3,0.8 3,0.7 3,-.9 3,-1.3 3,0 3,0.8 3,0.7 3,0.7 3,-.9 3,-1.4 3,0.1 3,0.8 3,0.7 3,0.7 3,-1 3,-1.3 3,0.2 3,0.7 3,0.7 3,0.8 3,-1.1" stroke="rgb(120,120,120)" stroke-width="1.8"/>
<path d="M365.0,699.5l3,-.5 3,-1.3 3,-.3 3,0.7 3,0.7 3,0.7 3,-.5 3,-1.4 3,-.2 3,0.7 3,0.7 3,0.7 3,-.6 3,-1.3 3,-.2 3,0.7 3,0.8 3,0.7 3,-.7 3,-1.4 3,-.1 3,0.8 3,0.7 3,0.7 3,-.8 3,-1.3 3,0 3,0.7 3,0.7 3,0.7 3,-.8 3,-1.4 3,0.1 3,0.7 3,0.7 3,0.7 3,-.9 3,-1.3 3,0.1 3,0.7 3,0.8 3,0.7 3,-1 3,-1.3 3,0.1 3,0.8 3,0.7 3,0.7 3,-1.1" stroke="rgb(122,122,122)" stroke-width="1.8"/>
<path d="M365.0,700.7l3,-.5 3,-1.3 3,-.3 3,0.8 3,0.7 3,0.7 3,-.6 3,-1.3 3,-.2 3,0.7 3,0.7 3,0.7 3,-.6 3,-1.4 3,-.1 3,0.7 3,0.7 3,0.7 3,-.7 3,-1.3 3,-.1 3,0.7 3,0.7 3,0.7 3,-.7 3,-1.3 3,-.1 3,0.7 3,0.7 3,0.8 3,-.9 3,-1.3 3,0.1 3,0.7 3,0.7 3,0.7 3,-.9 3,-1.3 3,0.1 3,0.7 3,0.7 3,0.7 3,-1 3,-1.3 3,0.2 3,0.7 3,0.7 3,0.7 3,-1" stroke="rgb(123,123,123)" stroke-width="1.8"/>
<path d="M365.0,702.0l3,-.5 3,-1.3 3,-.3 3,0.7 3,0.7 3,0.7 3,-.6 3,-1.2 3,-.3 3,0.7 3,0.7 3,0.7 3,-.6 3,-1.3 3,-.1 3,0.7 3,0.6 3,0.7 3,-.6 3,-1.3 3,-.1 3,0.7 3,0.7 3,0.7 3,-.8 3,-1.3 3,0 3,0.7 3,0.7 3,0.7 3,-.8 3,-1.3 3,0 3,0.7 3,0.7 3,0.7 3,-.9 3,-1.3 3,0.2 3,0.6 3,0.7 3,0.7 3,-.9 3,-1.3 3,0.2 3,0.7 3,0.7 3,0.7 3,-1.1" stroke="rgb(112,112,112)" stroke-width="1.8"/>
<path d="M365.0,703.2l3,-.5 3,-1.2 3,-.3 3,0.7 3,0.6 3,0.7 3,-.5 3,-1.3 3,-.2 3,0.7 3,0.7 3,0.6 3,-.6 3,-1.2 3,-.2 3,0.7 3,0.7 3,0.7 3,-.7 3,-1.3 3,0 3,0.6 3,0.7 3,0.7 3,-.7 3,-1.3 3,0 3,0.7 3,0.6 3,0.7 3,-.8 3,-1.2 3,0 3,0.7 3,0.7 3,0.6 3,-.8 3,-1.3 3,0.1 3,0.7 3,0.7 3,0.7 3,-1 3,-1.2 3,0.2 3,0.6 3,0.7 3,0.7 3,-1" stroke="rgb(107,107,107)" stroke-width="1.8"/>
<path d="M365.0,704.4l3,-.4 3,-1.3 3,-.2 3,0.6 3,0.7 3,0.7 3,-.6 3,-1.2 3,-.2 3,0.7 3,0.6 3,0.7 3,-.6 3,-1.2 3,-.2 3,0.7 3,0.6 3,0.7 3,-.7 3,-1.2 3,-.1 3,0.7 3,0.7 3,0.6 3,-.7 3,-1.2 3,0 3,0.6 3,0.7 3,0.6 3,-.7 3,-1.3 3,0.1 3,0.6 3,0.7 3,0.7 3,-.9 3,-1.2 3,0.1 3,0.7 3,0.6 3,0.7 3,-.9 3,-1.3 3,0.2 3,0.7 3,0.6 3,0.7 3,-1" stroke="rgb(105,105,105)" stroke-width="1.8"/>
<path d="M365.0,705.7l3,-.5 3,-1.2 3,-.3 3,0.7 3,0.6 3,0.7 3,-.5 3,-1.2 3,-.2 3,0.6 3,0.7 3,0.6 3,-.6 3,-1.2 3,-.1 3,0.6 3,0.7 3,0.6 3,-.6 3,-1.2 3,-.1 3,0.7 3,0.6 3,0.7 3,-.8 3,-1.2 3,0 3,0.7 3,0.6 3,0.7 3,-.8 3,-1.2 3,0 3,0.7 3,0.6 3,0.7 3,-.8 3,-1.2 3,0.1 3,0.6 3,0.7 3,0.6 3,-.9 3,-1.2 3,0.2 3,0.6 3,0.7 3,0.6 3,-.9" stroke="rgb(101,101,101)" stroke-width="1.8"/>
<path d="M365.0,706.9l3,-.5 3,-1.1 3,-.3 3,0.6 3,0.7 3,0.6 3,-.5 3,-1.2 3,-.2 3,0.7 3,0.6 3,0.6 3,-.5 3,-1.2 3,-.1 3,0.6 3,0.6 3,0.7 3,-.7 3,-1.2 3,0 3,0.6 3,0.6 3,0.7 3,-.7 3,-1.2 3,0 3,0.6 3,0.7 3,0.6 3,-.7 3,-1.2 3,0 3,0.7 3,0.6 3,0.6 3,-.8 3,-1.2 3,0.1 3,0.7 3,0.6 3,0.6 3,-.8 3,-1.2 3,0.2 3,0.6 3,0.6 3,0.7 3,-1" stroke="rgb(100,100,100)" stroke-width="1.8"/>
<path d="M365.0,708.1l3,-.4 3,-1.2 3,-.2 3,0.6 3,0.6 3,0.7 3,-.5 3,-1.2 3,-.2 3,0.6 3,0.6 3,0.7 3,-.6 3,-1.1 3,-.2 3,0.6 3,0.7 3,0.6 3,-.6 3,-1.2 3,-.1 3,0.7 3,0.6 3,0.6 3,-.7 3,-1.1 3,0 3,0.6 3,0.6 3,0.6 3,-.7 3,-1.2 3,0.1 3,0.6 3,0.6 3,0.7 3,-.8 3,-1.2 3,0.1 3,0.6 3,0.7 3,0.6 3,-.9 3,-1.1 3,0.1 3,0.7 3,0.6 3,0.6 3,-.9" stroke="rgb(95,95,95)" stroke-width="1.8"/>
<path d="M365.0,709.4l3,-.5 3,-1.1 3,-.2 3,0.6 3,0.6 3,0.6 3,-.5 3,-1.1 3,-.2 3,0.6 3,0.6 3,0.6 3,-.5 3,-1.2 3,-.1 3,0.6 3,0.6 3,0.6 3,-.6 3,-1.1 3,-.1 3,0.6 3,0.6 3,0.6 3,-.6 3,-1.1 3,-.1 3,0.6 3,0.7 3,0.6 3,-.8 3,-1.1 3,0.1 3,0.6 3,0.6 3,0.6 3,-.8 3,-1.1 3,0.1 3,0.6 3,0.6 3,0.6 3,-.8 3,-1.2 3,0.2 3,0.6 3,0.6 3,0.6 3,-.9" stroke="rgb(84,84,84)" stroke-width="1.8"/>
<path d="M365.0,710.6l3,-.4 3,-1.1 3,-.3 3,0.6 3,0.6 3,0.6 3,-.5 3,-1.1 3,-.2 3,0.6 3,0.6 3,0.6 3,-.5 3,-1.1 3,-.1 3,0.6 3,0.6 3,0.6 3,-.6 3,-1.1 3,-.1 3,0.6 3,0.6 3,0.6 3,-.7 3,-1.1 3,0 3,0.6 3,0.6 3,0.6 3,-.7 3,-1.1 3,0 3,0.6 3,0.6 3,0.6 3,-.7 3,-1.2 3,0.1 3,0.6 3,0.6 3,0.6 3,-.8 3,-1.1 3,0.2 3,0.6 3,0.6 3,0.6 3,-.9" stroke="rgb(80,80,80)" stroke-width="1.8"/>
<path d="M365.0,711.8l3,-.4 3,-1.1 3,-.2 3,0.6 3,0.6 3,0.5 3,-.4 3,-1.1 3,-.2 3,0.6 3,0.6 3,0.6 3,-.6 3,-1 3,-.2 3,0.6 3,0.6 3,0.6 3,-.6 3,-1.1 3,0 3,0.5 3,0.6 3,0.6 3,-.6 3,-1.1 3,0 3,0.6 3,0.5 3,0.6 3,-.7 3,-1 3,0 3,0.6 3,0.6 3,0.5 3,-.7 3,-1.1 3,0.1 3,0.6 3,0.6 3,0.6 3,-.8 3,-1.1 3,0.1 3,0.6 3,0.6 3,0.6 3,-.9" stroke="rgb(79,79,79)" stroke-width="1.8"/>
<path d="M365.0,713.1l3,-.4 3,-1.1 3,-.2 3,0.5 3,0.6 3,0.6 3,-.5 3,-1 3,-.2 3,0.6 3,0.5 3,0.6 3,-.5 3,-1.1 3,-.1 3,0.6 3,0.5 3,0.6 3,-.5 3,-1.1 3,-.1 3,0.6 3,0.6 3,0.5 3,-.6 3,-1 3,-.1 3,0.6 3,0.6 3,0.6 3,-.7 3,-1.1 3,0.1 3,0.5 3,0.6 3,0.6 3,-.8 3,-1 3,0.1 3,0.6 3,0.5 3,0.6 3,-.8 3,-1 3,0.1 3,0.6 3,0.5 3,0.6 3,-.8" stroke="rgb(77,77,77)" stroke-width="1.8"/>
<path d="M365.0,714.3l3,-.4 3,-1 3,-.3 3,0.6 3,0.6 3,0.5 3,-.4 3,-1.1 3,-.1 3,0.5 3,0.6 3,0.5 3,-.5 3,-1 3,-.1 3,0.5 3,0.6 3,0.5 3,-.5 3,-1 3,-.1 3,0.6 3,0.5 3,0.6 3,-.6 3,-1.1 3,0 3,0.6 3,0.5 3,0.6 3,-.7 3,-1 3,0 3,0.6 3,0.5 3,0.6 3,-.7 3,-1 3,0.1 3,0.5 3,0.6 3,0.5 3,-.7 3,-1.1 3,0.2 3,0.5 3,0.6 3,0.5 3,-.8" stroke="rgb(63,63,63)" stroke-width="1.8"/>
<path d="M365.0,715.5l3,-.4 3,-1 3,-.2 3,0.6 3,0.5 3,0.5 3,-.4 3,-1 3,-.2 3,0.6 3,0.5 3,0.6 3,-.5 3,-1 3,-.1 3,0.5 3,0.5 3,0.6 3,-.6 3,-1 3,0 3,0.5 3,0.6 3,0.5 3,-.6 3,-1 3,0 3,0.5 3,0.6 3,0.5 3,-.6 3,-1 3,0 3,0.6 3,0.5 3,0.5 3,-.7 3,-1 3,0.1 3,0.6 3,0.5 3,0.6 3,-.8 3,-1 3,0.1 3,0.6 3,0.5 3,0.6 3,-.8" stroke="rgb(67,67,67)" stroke-width="1.8"/>
<path d="M365.0,716.8l3,-.4 3,-1 3,-.2 3,0.5 3,0.5 3,0.6 3,-.4 3,-1 3,-.2 3,0.5 3,0.6 3,0.5 3,-.5 3,-1 3,-.1 3,0.6 3,0.5 3,0.5 3,-.5 3,-1 3,-.1 3,0.6 3,0.5 3,0.5 3,-.5 3,-1 3,0 3,0.5 3,0.5 3,0.5 3,-.6 3,-1 3,0.1 3,0.5 3,0.5 3,0.6 3,-.7 3,-1 3,0.1 3,0.5 3,0.6 3,0.5 3,-.7 3,-1 3,0.1 3,0.5 3,0.6 3,0.5 3,-.8" stroke="rgb(57,57,57)" stroke-width="1.8"/>
<path d="M365.0,718.0l3,-.4 3,-.9 3,-.2 3,0.5 3,0.5 3,0.5 3,-.4 3,-1 3,-.1 3,0.5 3,0.5 3,0.5 3,-.4 3,-1 3,-.1 3,0.5 3,0.5 3,0.5 3,-.5 3,-.9 3,-.1 3,0.5 3,0.5 3,0.6 3,-.6 3,-1 3,0 3,0.5 3,0.6 3,0.5 3,-.6 3,-1 3,0 3,0.6 3,0.5 3,0.5 3,-.7 3,-.9 3,0.1 3,0.5 3,0.5 3,0.5 3,-.7 3,-1 3,0.2 3,0.5 3,0.5 3,0.5 3,-.7" stroke="rgb(58,58,58)" stroke-width="1.8"/>
<path d="M365.0,719.2l3,-.3 3,-1 3,-.2 3,0.5 3,0.5 3,0.6 3,-.5 3,-.9 3,-.2 3,0.5 3,0.6 3,0.5 3,-.5 3,-.9 3,-.2 3,0.6 3,0.5 3,0.5 3,-.5 3,-1 3,0 3,0.5 3,0.5 3,0.5 3,-.5 3,-1 3,0 3,0.5 3,0.5 3,0.5 3,-.6 3,-.9 3,0 3,0.5 3,0.5 3,0.5 3,-.6 3,-1 3,0.1 3,0.5 3,0.5 3,0.6 3,-.7 3,-1 3,0.1 3,0.6 3,0.5 3,0.5 3,-.8" stroke="rgb(55,55,55)" stroke-width="1.8"/>
<path d="M365.0,720.5l3,-.4 3,-.9 3,-.2 3,0.5 3,0.5 3,0.5 3,-.4 3,-1 3,-.1 3,0.5 3,0.5 3,0.5 3,-.4 3,-1 3,-.1 3,0.5 3,0.5 3,0.6 3,-.6 3,-.9 3,-.1 3,0.5 3,0.6 3,0.5 3,-.6 3,-1 3,0 3,0.6 3,0.5 3,0.5 3,-.6 3,-1 3,0.1 3,0.5 3,0.5 3,0.5 3,-.7 3,-.9 3,0.1 3,0.5 3,0.5 3,0.5 3,-.7 3,-.9 3,0.1 3,0.5 3,0.5 3,0.5 3,-.7" stroke="rgb(56,56,56)" stroke-width="1.8"/>
<path d="M365.0,721.8l3,-.4 3,-1 3,-.2 3,0.5 3,0.6 3,0.5 3,-.4 3,-1 3,-.2 3,0.6 3,0.5 3,0.5 3,-.5 3,-.9 3,-.1 3,0.5 3,0.5 3,0.5 3,-.5 3,-1 3,0 3,0.5 3,0.5 3,0.5 3,-.5 3,-1 3,0 3,0.5 3,0.5 3,0.5 3,-.6 3,-.9 3,0 3,0.5 3,0.5 3,0.6 3,-.7 3,-1 3,0.1 3,0.5 3,0.6 3,0.5 3,-.7 3,-1 3,0.1 3,0.6 3,0.5 3,0.5 3,-.8" stroke="rgb(52,52,52)" stroke-width="1.8"/>
<ellipse cx="363.13" cy="642.55" rx="8.08" ry="8.08" fill="#050505" opacity="0.95" filter="url(#eblur)"/>
<ellipse cx="382.65" cy="641.76" rx="7.37" ry="7.37" fill="#050505" opacity="0.98" filter="url(#eblur)"/>
<ellipse cx="399.06" cy="638.82" rx="7.68" ry="7.68" fill="#050505" opacity="0.93" filter="url(#eblur)"/>
<ellipse cx="417.5" cy="639.98" rx="7.21" ry="7.21" fill="#050505" opacity="0.9" filter="url(#eblur)"/>
<ellipse cx="435.91" cy="638.44" rx="7.64" ry="7.64" fill="#050505" opacity="0.88" filter="url(#eblur)"/>
<ellipse cx="452.87" cy="640.78" rx="7.29" ry="7.29" fill="#050505" opacity="0.85" filter="url(#eblur)"/>
<ellipse cx="470.39" cy="640.33" rx="7.31" ry="7.31" fill="#050505" opacity="0.93" filter="url(#eblur)"/>
<ellipse cx="491.13" cy="640.1" rx="8.19" ry="8.19" fill="#050505" opacity="0.96" filter="url(#eblur)"/>
<ellipse cx="508.79" cy="641.22" rx="6.8" ry="6.8" fill="#050505" opacity="0.91" filter="url(#eblur)"/>
<ellipse cx="525.93" cy="641.27" rx="7.44" ry="7.44" fill="#050505" opacity="0.99" filter="url(#eblur)"/>
<ellipse cx="356.68" cy="659.85" rx="5.07" ry="7.1" fill="#080808" opacity="0.79" filter="url(#eblur)"/>
<ellipse cx="374.63" cy="659.91" rx="5.26" ry="7.36" fill="#080808" opacity="0.81" filter="url(#eblur)"/>
<ellipse cx="392.31" cy="660.98" rx="4.79" ry="6.71" fill="#080808" opacity="0.83" filter="url(#eblur)"/>
<ellipse cx="410.18" cy="659.6" rx="5.47" ry="7.66" fill="#080808" opacity="0.82" filter="url(#eblur)"/>
<ellipse cx="428.97" cy="660.72" rx="4.81" ry="6.73" fill="#080808" opacity="0.84" filter="url(#eblur)"/>
<ellipse cx="444.79" cy="658.65" rx="5.13" ry="7.19" fill="#080808" opacity="0.81" filter="url(#eblur)"/>
<ellipse cx="465.83" cy="658.34" rx="4.98" ry="6.98" fill="#080808" opacity="0.77" filter="url(#eblur)"/>
<ellipse cx="483.85" cy="660.07" rx="5.1" ry="7.14" fill="#080808" opacity="0.84" filter="url(#eblur)"/>
<ellipse cx="499.29" cy="663.02" rx="4.73" ry="6.62" fill="#080808" opacity="0.85" filter="url(#eblur)"/>
<ellipse cx="517.23" cy="659.41" rx="4.62" ry="6.47" fill="#080808" opacity="0.9" filter="url(#eblur)"/>
</g></g>
<line x1="783.5" y1="503" x2="795.5" y2="503" stroke="#e23a3e" stroke-width="1.2"/>
<circle cx="789.5" cy="503" r="1.6" fill="#e23a3e"/>
<text x="797" y="508" font-size="14.3" text-anchor="start" fill="#000">Vehicle</text>
<line x1="783.5" y1="515" x2="795.5" y2="515" stroke="#3b8ad6" stroke-width="1.2"/>
<circle cx="789.5" cy="515" r="1.6" fill="#3b8ad6"/>
<text x="797" y="520" font-size="14.3" text-anchor="start" fill="#000">TEPP-46</text>
<path d="M576.3,516.4 L576.3,604.9 L648,604.9" fill="none" stroke="#444" stroke-width="1.2"/>
<line x1="573.8" y1="604.9" x2="576.3" y2="604.9" stroke="#444" stroke-width="1.2"/>
<text x="571.8" y="610.05" font-size="14.3" text-anchor="end" fill="#000">0</text>
<line x1="573.8" y1="582.77" x2="576.3" y2="582.77" stroke="#444" stroke-width="1.2"/>
<text x="571.8" y="587.92" font-size="14.3" text-anchor="end" fill="#000">20</text>
<line x1="573.8" y1="560.65" x2="576.3" y2="560.65" stroke="#444" stroke-width="1.2"/>
<text x="571.8" y="565.8" font-size="14.3" text-anchor="end" fill="#000">40</text>
<line x1="573.8" y1="538.52" x2="576.3" y2="538.52" stroke="#444" stroke-width="1.2"/>
<text x="571.8" y="543.67" font-size="14.3" text-anchor="end" fill="#000">60</text>
<line x1="573.8" y1="516.4" x2="576.3" y2="516.4" stroke="#444" stroke-width="1.2"/>
<text x="571.8" y="521.55" font-size="14.3" text-anchor="end" fill="#000">80</text>
<line x1="585.6" y1="604.9" x2="585.6" y2="607.4" stroke="#444" stroke-width="1.2"/>
<text x="585.6" y="620" font-size="11.5" text-anchor="middle" fill="#000">0</text>
<line x1="603.3" y1="604.9" x2="603.3" y2="607.4" stroke="#444" stroke-width="1.2"/>
<text x="603.3" y="620" font-size="11.5" text-anchor="middle" fill="#000">2w</text>
<line x1="620.6" y1="604.9" x2="620.6" y2="607.4" stroke="#444" stroke-width="1.2"/>
<text x="620.6" y="620" font-size="11.5" text-anchor="middle" fill="#000">4w</text>
<line x1="637.9" y1="604.9" x2="637.9" y2="607.4" stroke="#444" stroke-width="1.2"/>
<text x="637.9" y="620" font-size="11.5" text-anchor="middle" fill="#000">6w</text>
<text x="553" y="560.65" font-size="14.5" text-anchor="middle" fill="#000" transform="rotate(-90 553 560.65)">EF%</text>
<circle cx="589.83" cy="538.77" r="1.5" fill="#e23a3e"/>
<circle cx="589.48" cy="538.17" r="1.5" fill="#e23a3e"/>
<circle cx="584.7" cy="540.47" r="1.5" fill="#e23a3e"/>
<circle cx="584.25" cy="540.58" r="1.5" fill="#e23a3e"/>
<circle cx="585.11" cy="539.22" r="1.5" fill="#e23a3e"/>
<circle cx="584.46" cy="537.71" r="1.5" fill="#e23a3e"/>
<circle cx="608.25" cy="530.64" r="1.5" fill="#e23a3e"/>
<circle cx="602.17" cy="539.19" r="1.5" fill="#e23a3e"/>
<circle cx="598.57" cy="537.05" r="1.5" fill="#e23a3e"/>
<circle cx="599.23" cy="533.12" r="1.5" fill="#e23a3e"/>
<circle cx="605.48" cy="527.67" r="1.5" fill="#e23a3e"/>
<circle cx="608.23" cy="532.89" r="1.5" fill="#e23a3e"/>
<circle cx="603.26" cy="534.8" r="1.5" fill="#e23a3e"/>
<circle cx="603.22" cy="534.06" r="1.5" fill="#e23a3e"/>
<circle cx="603.8" cy="531.9" r="1.5" fill="#e23a3e"/>
<circle cx="605.78" cy="536.86" r="1.5" fill="#e23a3e"/>
<circle cx="600.52" cy="532.82" r="1.5" fill="#e23a3e"/>
<circle cx="604.39" cy="531.38" r="1.5" fill="#e23a3e"/>
<circle cx="621.16" cy="551.59" r="1.5" fill="#e23a3e"/>
<circle cx="621.83" cy="560.79" r="1.5" fill="#e23a3e"/>
<circle cx="617.41" cy="555.24" r="1.5" fill="#e23a3e"/>
<circle cx="617.3" cy="566.06" r="1.5" fill="#e23a3e"/>
<circle cx="619.08" cy="555.82" r="1.5" fill="#e23a3e"/>
<circle cx="624.87" cy="559.6" r="1.5" fill="#e23a3e"/>
<circle cx="619.07" cy="563.39" r="1.5" fill="#e23a3e"/>
<circle cx="621.57" cy="560.61" r="1.5" fill="#e23a3e"/>
<circle cx="618.67" cy="555.59" r="1.5" fill="#e23a3e"/>
<circle cx="616.63" cy="562.23" r="1.5" fill="#e23a3e"/>
<circle cx="616.26" cy="554.91" r="1.5" fill="#e23a3e"/>
<circle cx="623.74" cy="552.22" r="1.5" fill="#e23a3e"/>
<circle cx="623.37" cy="551.67" r="1.5" fill="#e23a3e"/>
<circle cx="619.35" cy="551.69" r="1.5" fill="#e23a3e"/>
<circle cx="622.43" cy="567.36" r="1.5" fill="#e23a3e"/>
<circle cx="639.66" cy="565.14" r="1.5" fill="#e23a3e"/>
<circle cx="641.89" cy="574.01" r="1.5" fill="#e23a3e"/>
<circle cx="642.48" cy="559.89" r="1.5" fill="#e23a3e"/>
<circle cx="636.97" cy="567.45" r="1.5" fill="#e23a3e"/>
<circle cx="642.79" cy="566.15" r="1.5" fill="#e23a3e"/>
<circle cx="642.51" cy="564.08" r="1.5" fill="#e23a3e"/>
<circle cx="638.81" cy="573.23" r="1.5" fill="#e23a3e"/>
<circle cx="641.73" cy="567.25" r="1.5" fill="#e23a3e"/>
<circle cx="637.81" cy="574.34" r="1.5" fill="#e23a3e"/>
<circle cx="636.66" cy="550" r="1.5" fill="#e23a3e"/>
<circle cx="635.37" cy="572.05" r="1.5" fill="#e23a3e"/>
<circle cx="641.66" cy="567.94" r="1.5" fill="#e23a3e"/>
<circle cx="634.52" cy="583.4" r="1.5" fill="#e23a3e"/>
<circle cx="633.59" cy="580.91" r="1.5" fill="#e23a3e"/>
<circle cx="640.95" cy="575.35" r="1.5" fill="#e23a3e"/>
<circle cx="640.64" cy="561.16" r="1.5" fill="#e23a3e"/>
<circle cx="637.73" cy="561.39" r="1.5" fill="#e23a3e"/>
<circle cx="641.27" cy="565.63" r="1.5" fill="#e23a3e"/>
<path d="M585.6,539.15 L603.3,533.53 L620.6,557.92 L637.9,568.3" fill="none" stroke="#e23a3e" stroke-width="1.1"/>
<line x1="585.6" y1="539.71" x2="585.6" y2="538.6" stroke="#e23a3e" stroke-width="1"/>
<line x1="583.1" y1="538.6" x2="588.1" y2="538.6" stroke="#e23a3e" stroke-width="1"/>
<line x1="583.1" y1="539.71" x2="588.1" y2="539.71" stroke="#e23a3e" stroke-width="1"/>
<line x1="603.3" y1="535.19" x2="603.3" y2="531.87" stroke="#e23a3e" stroke-width="1"/>
<line x1="600.8" y1="531.87" x2="605.8" y2="531.87" stroke="#e23a3e" stroke-width="1"/>
<line x1="600.8" y1="535.19" x2="605.8" y2="535.19" stroke="#e23a3e" stroke-width="1"/>
<line x1="620.6" y1="559.58" x2="620.6" y2="556.26" stroke="#e23a3e" stroke-width="1"/>
<line x1="618.1" y1="556.26" x2="623.1" y2="556.26" stroke="#e23a3e" stroke-width="1"/>
<line x1="618.1" y1="559.58" x2="623.1" y2="559.58" stroke="#e23a3e" stroke-width="1"/>
<line x1="637.9" y1="570.51" x2="637.9" y2="566.09" stroke="#e23a3e" stroke-width="1"/>
<line x1="635.4" y1="566.09" x2="640.4" y2="566.09" stroke="#e23a3e" stroke-width="1"/>
<line x1="635.4" y1="570.51" x2="640.4" y2="570.51" stroke="#e23a3e" stroke-width="1"/>
<circle cx="583.17" cy="540.29" r="1.5" fill="#3b8ad6"/>
<circle cx="584.66" cy="538.82" r="1.5" fill="#3b8ad6"/>
<circle cx="590.19" cy="539.36" r="1.5" fill="#3b8ad6"/>
<circle cx="589.66" cy="539.92" r="1.5" fill="#3b8ad6"/>
<circle cx="581.94" cy="538.51" r="1.5" fill="#3b8ad6"/>
<circle cx="599.25" cy="537.92" r="1.5" fill="#3b8ad6"/>
<circle cx="599.24" cy="537.42" r="1.5" fill="#3b8ad6"/>
<circle cx="598.55" cy="542.26" r="1.5" fill="#3b8ad6"/>
<circle cx="602.77" cy="532.48" r="1.5" fill="#3b8ad6"/>
<circle cx="599.71" cy="533.06" r="1.5" fill="#3b8ad6"/>
<circle cx="606.97" cy="539.1" r="1.5" fill="#3b8ad6"/>
<circle cx="604.85" cy="541.03" r="1.5" fill="#3b8ad6"/>
<circle cx="599.57" cy="538.19" r="1.5" fill="#3b8ad6"/>
<circle cx="620.99" cy="541.04" r="1.5" fill="#3b8ad6"/>
<circle cx="618.84" cy="547.65" r="1.5" fill="#3b8ad6"/>
<circle cx="620.54" cy="546.41" r="1.5" fill="#3b8ad6"/>
<circle cx="617.8" cy="547.32" r="1.5" fill="#3b8ad6"/>
<circle cx="617.26" cy="544.28" r="1.5" fill="#3b8ad6"/>
<circle cx="617.44" cy="538.06" r="1.5" fill="#3b8ad6"/>
<circle cx="619.38" cy="543.71" r="1.5" fill="#3b8ad6"/>
<circle cx="622.7" cy="555.04" r="1.5" fill="#3b8ad6"/>
<circle cx="621.1" cy="550.02" r="1.5" fill="#3b8ad6"/>
<circle cx="616.06" cy="549.04" r="1.5" fill="#3b8ad6"/>
<circle cx="622.71" cy="553.78" r="1.5" fill="#3b8ad6"/>
<circle cx="624.34" cy="550.47" r="1.5" fill="#3b8ad6"/>
<circle cx="640.64" cy="555.21" r="1.5" fill="#3b8ad6"/>
<circle cx="640.81" cy="542.85" r="1.5" fill="#3b8ad6"/>
<circle cx="632.98" cy="553.95" r="1.5" fill="#3b8ad6"/>
<circle cx="637.54" cy="538.73" r="1.5" fill="#3b8ad6"/>
<circle cx="633.53" cy="540.05" r="1.5" fill="#3b8ad6"/>
<circle cx="640.54" cy="551.04" r="1.5" fill="#3b8ad6"/>
<circle cx="634.65" cy="550.18" r="1.5" fill="#3b8ad6"/>
<circle cx="640.01" cy="552.28" r="1.5" fill="#3b8ad6"/>
<circle cx="635.43" cy="561.05" r="1.5" fill="#3b8ad6"/>
<circle cx="639.87" cy="557.98" r="1.5" fill="#3b8ad6"/>
<circle cx="636.04" cy="545.68" r="1.5" fill="#3b8ad6"/>
<circle cx="633.32" cy="560.04" r="1.5" fill="#3b8ad6"/>
<path d="M585.6,539.38 L603.3,537.68 L620.6,547.24 L637.9,550.75" fill="none" stroke="#3b8ad6" stroke-width="1.1"/>
<line x1="585.6" y1="539.93" x2="585.6" y2="538.83" stroke="#3b8ad6" stroke-width="1"/>
<line x1="583.1" y1="538.83" x2="588.1" y2="538.83" stroke="#3b8ad6" stroke-width="1"/>
<line x1="583.1" y1="539.93" x2="588.1" y2="539.93" stroke="#3b8ad6" stroke-width="1"/>
<line x1="603.3" y1="539.01" x2="603.3" y2="536.36" stroke="#3b8ad6" stroke-width="1"/>
<line x1="600.8" y1="536.36" x2="605.8" y2="536.36" stroke="#3b8ad6" stroke-width="1"/>
<line x1="600.8" y1="539.01" x2="605.8" y2="539.01" stroke="#3b8ad6" stroke-width="1"/>
<line x1="620.6" y1="548.89" x2="620.6" y2="545.58" stroke="#3b8ad6" stroke-width="1"/>
<line x1="618.1" y1="545.58" x2="623.1" y2="545.58" stroke="#3b8ad6" stroke-width="1"/>
<line x1="618.1" y1="548.89" x2="623.1" y2="548.89" stroke="#3b8ad6" stroke-width="1"/>
<line x1="637.9" y1="553.52" x2="637.9" y2="547.99" stroke="#3b8ad6" stroke-width="1"/>
<line x1="635.4" y1="547.99" x2="640.4" y2="547.99" stroke="#3b8ad6" stroke-width="1"/>
<line x1="635.4" y1="553.52" x2="640.4" y2="553.52" stroke="#3b8ad6" stroke-width="1"/>
<text x="638" y="531" font-size="14" text-anchor="middle" fill="#222">***</text>
<path d="M709,516.4 L709,604.9 L781.5,604.9" fill="none" stroke="#444" stroke-width="1.2"/>
<line x1="706.5" y1="604.9" x2="709" y2="604.9" stroke="#444" stroke-width="1.2"/>
<text x="704.5" y="610.05" font-size="14.3" text-anchor="end" fill="#000">0</text>
<line x1="706.5" y1="587.2" x2="709" y2="587.2" stroke="#444" stroke-width="1.2"/>
<text x="704.5" y="592.35" font-size="14.3" text-anchor="end" fill="#000">10</text>
<line x1="706.5" y1="569.5" x2="709" y2="569.5" stroke="#444" stroke-width="1.2"/>
<text x="704.5" y="574.65" font-size="14.3" text-anchor="end" fill="#000">20</text>
<line x1="706.5" y1="551.8" x2="709" y2="551.8" stroke="#444" stroke-width="1.2"/>
<text x="704.5" y="556.95" font-size="14.3" text-anchor="end" fill="#000">30</text>
<line x1="706.5" y1="534.1" x2="709" y2="534.1" stroke="#444" stroke-width="1.2"/>
<text x="704.5" y="539.25" font-size="14.3" text-anchor="end" fill="#000">40</text>
<line x1="706.5" y1="516.4" x2="709" y2="516.4" stroke="#444" stroke-width="1.2"/>
<text x="704.5" y="521.55" font-size="14.3" text-anchor="end" fill="#000">50</text>
<line x1="718.3" y1="604.9" x2="718.3" y2="607.4" stroke="#444" stroke-width="1.2"/>
<text x="718.3" y="620" font-size="11.5" text-anchor="middle" fill="#000">0</text>
<line x1="735.5" y1="604.9" x2="735.5" y2="607.4" stroke="#444" stroke-width="1.2"/>
<text x="735.5" y="620" font-size="11.5" text-anchor="middle" fill="#000">2w</text>
<line x1="752.7" y1="604.9" x2="752.7" y2="607.4" stroke="#444" stroke-width="1.2"/>
<text x="752.7" y="620" font-size="11.5" text-anchor="middle" fill="#000">4w</text>
<line x1="770" y1="604.9" x2="770" y2="607.4" stroke="#444" stroke-width="1.2"/>
<text x="770" y="620" font-size="11.5" text-anchor="middle" fill="#000">6w</text>
<text x="686" y="560.65" font-size="14.5" text-anchor="middle" fill="#000" transform="rotate(-90 686 560.65)">FS%</text>
<circle cx="722.2" cy="552.97" r="1.5" fill="#e23a3e"/>
<circle cx="721.1" cy="550.82" r="1.5" fill="#e23a3e"/>
<circle cx="719.57" cy="550.6" r="1.5" fill="#e23a3e"/>
<circle cx="720.89" cy="552.66" r="1.5" fill="#e23a3e"/>
<circle cx="719.98" cy="554.03" r="1.5" fill="#e23a3e"/>
<circle cx="721.89" cy="551.84" r="1.5" fill="#e23a3e"/>
<circle cx="737.49" cy="540.66" r="1.5" fill="#e23a3e"/>
<circle cx="737.33" cy="543.72" r="1.5" fill="#e23a3e"/>
<circle cx="732.95" cy="548.04" r="1.5" fill="#e23a3e"/>
<circle cx="739.67" cy="546.71" r="1.5" fill="#e23a3e"/>
<circle cx="734.36" cy="544.29" r="1.5" fill="#e23a3e"/>
<circle cx="736.65" cy="556.76" r="1.5" fill="#e23a3e"/>
<circle cx="738.75" cy="545.99" r="1.5" fill="#e23a3e"/>
<circle cx="740.14" cy="535.3" r="1.5" fill="#e23a3e"/>
<circle cx="740.39" cy="549.67" r="1.5" fill="#e23a3e"/>
<circle cx="730.56" cy="544.05" r="1.5" fill="#e23a3e"/>
<circle cx="733.63" cy="533.97" r="1.5" fill="#e23a3e"/>
<circle cx="733.62" cy="539.15" r="1.5" fill="#e23a3e"/>
<circle cx="751.61" cy="566.35" r="1.5" fill="#e23a3e"/>
<circle cx="749.15" cy="571.99" r="1.5" fill="#e23a3e"/>
<circle cx="753.23" cy="578.23" r="1.5" fill="#e23a3e"/>
<circle cx="748.5" cy="556" r="1.5" fill="#e23a3e"/>
<circle cx="750.73" cy="569.62" r="1.5" fill="#e23a3e"/>
<circle cx="757.14" cy="569.95" r="1.5" fill="#e23a3e"/>
<circle cx="755.12" cy="562.54" r="1.5" fill="#e23a3e"/>
<circle cx="752.32" cy="566.94" r="1.5" fill="#e23a3e"/>
<circle cx="748.78" cy="570.91" r="1.5" fill="#e23a3e"/>
<circle cx="757.26" cy="577.05" r="1.5" fill="#e23a3e"/>
<circle cx="754.74" cy="572.04" r="1.5" fill="#e23a3e"/>
<circle cx="749.76" cy="572" r="1.5" fill="#e23a3e"/>
<circle cx="751.05" cy="574.8" r="1.5" fill="#e23a3e"/>
<circle cx="754.12" cy="575.8" r="1.5" fill="#e23a3e"/>
<circle cx="754.52" cy="576.51" r="1.5" fill="#e23a3e"/>
<circle cx="767.61" cy="580" r="1.5" fill="#e23a3e"/>
<circle cx="774.51" cy="583.36" r="1.5" fill="#e23a3e"/>
<circle cx="768.22" cy="576.3" r="1.5" fill="#e23a3e"/>
<circle cx="767.54" cy="572.03" r="1.5" fill="#e23a3e"/>
<circle cx="773.45" cy="576.95" r="1.5" fill="#e23a3e"/>
<circle cx="766.53" cy="579.03" r="1.5" fill="#e23a3e"/>
<circle cx="771.81" cy="568.19" r="1.5" fill="#e23a3e"/>
<circle cx="767" cy="574.57" r="1.5" fill="#e23a3e"/>
<circle cx="770.98" cy="589.59" r="1.5" fill="#e23a3e"/>
<circle cx="767.77" cy="584.24" r="1.5" fill="#e23a3e"/>
<circle cx="768.79" cy="577.82" r="1.5" fill="#e23a3e"/>
<circle cx="774.41" cy="585.38" r="1.5" fill="#e23a3e"/>
<circle cx="769.67" cy="573.84" r="1.5" fill="#e23a3e"/>
<circle cx="769.37" cy="591.53" r="1.5" fill="#e23a3e"/>
<circle cx="771.17" cy="592.64" r="1.5" fill="#e23a3e"/>
<circle cx="767.81" cy="572.28" r="1.5" fill="#e23a3e"/>
<circle cx="766.74" cy="575.1" r="1.5" fill="#e23a3e"/>
<circle cx="768.85" cy="590.47" r="1.5" fill="#e23a3e"/>
<path d="M718.3,552.15 L735.5,544.03 L752.7,570.72 L770,580.19" fill="none" stroke="#e23a3e" stroke-width="1.1"/>
<line x1="718.3" y1="553.04" x2="718.3" y2="551.27" stroke="#e23a3e" stroke-width="1"/>
<line x1="715.8" y1="551.27" x2="720.8" y2="551.27" stroke="#e23a3e" stroke-width="1"/>
<line x1="715.8" y1="553.04" x2="720.8" y2="553.04" stroke="#e23a3e" stroke-width="1"/>
<line x1="735.5" y1="545.8" x2="735.5" y2="542.26" stroke="#e23a3e" stroke-width="1"/>
<line x1="733" y1="542.26" x2="738" y2="542.26" stroke="#e23a3e" stroke-width="1"/>
<line x1="733" y1="545.8" x2="738" y2="545.8" stroke="#e23a3e" stroke-width="1"/>
<line x1="752.7" y1="572.49" x2="752.7" y2="568.95" stroke="#e23a3e" stroke-width="1"/>
<line x1="750.2" y1="568.95" x2="755.2" y2="568.95" stroke="#e23a3e" stroke-width="1"/>
<line x1="750.2" y1="572.49" x2="755.2" y2="572.49" stroke="#e23a3e" stroke-width="1"/>
<line x1="770" y1="581.96" x2="770" y2="578.42" stroke="#e23a3e" stroke-width="1"/>
<line x1="767.5" y1="578.42" x2="772.5" y2="578.42" stroke="#e23a3e" stroke-width="1"/>
<line x1="767.5" y1="581.96" x2="772.5" y2="581.96" stroke="#e23a3e" stroke-width="1"/>
<circle cx="722.3" cy="553.14" r="1.5" fill="#3b8ad6"/>
<circle cx="720.77" cy="554.05" r="1.5" fill="#3b8ad6"/>
<circle cx="720.89" cy="550.17" r="1.5" fill="#3b8ad6"/>
<circle cx="715.18" cy="552.21" r="1.5" fill="#3b8ad6"/>
<circle cx="713.9" cy="553.91" r="1.5" fill="#3b8ad6"/>
<circle cx="738.65" cy="545.43" r="1.5" fill="#3b8ad6"/>
<circle cx="736.57" cy="561.55" r="1.5" fill="#3b8ad6"/>
<circle cx="736.7" cy="550.32" r="1.5" fill="#3b8ad6"/>
<circle cx="735.21" cy="551.03" r="1.5" fill="#3b8ad6"/>
<circle cx="738.5" cy="551.53" r="1.5" fill="#3b8ad6"/>
<circle cx="733.88" cy="550.04" r="1.5" fill="#3b8ad6"/>
<circle cx="733.2" cy="556.45" r="1.5" fill="#3b8ad6"/>
<circle cx="734.03" cy="555.2" r="1.5" fill="#3b8ad6"/>
<circle cx="750.68" cy="557.07" r="1.5" fill="#3b8ad6"/>
<circle cx="753.97" cy="556.46" r="1.5" fill="#3b8ad6"/>
<circle cx="756.6" cy="559.38" r="1.5" fill="#3b8ad6"/>
<circle cx="748.41" cy="557.76" r="1.5" fill="#3b8ad6"/>
<circle cx="748.38" cy="559.23" r="1.5" fill="#3b8ad6"/>
<circle cx="752.82" cy="551.66" r="1.5" fill="#3b8ad6"/>
<circle cx="754.48" cy="553.09" r="1.5" fill="#3b8ad6"/>
<circle cx="749.6" cy="560.25" r="1.5" fill="#3b8ad6"/>
<circle cx="750.4" cy="550.89" r="1.5" fill="#3b8ad6"/>
<circle cx="748.29" cy="550.06" r="1.5" fill="#3b8ad6"/>
<circle cx="748.07" cy="554.25" r="1.5" fill="#3b8ad6"/>
<circle cx="752.65" cy="562.97" r="1.5" fill="#3b8ad6"/>
<circle cx="771.81" cy="560.53" r="1.5" fill="#3b8ad6"/>
<circle cx="771.53" cy="564.23" r="1.5" fill="#3b8ad6"/>
<circle cx="766.58" cy="575.15" r="1.5" fill="#3b8ad6"/>
<circle cx="766.04" cy="559.54" r="1.5" fill="#3b8ad6"/>
<circle cx="774.31" cy="563.48" r="1.5" fill="#3b8ad6"/>
<circle cx="770.39" cy="550.22" r="1.5" fill="#3b8ad6"/>
<circle cx="769.08" cy="554.79" r="1.5" fill="#3b8ad6"/>
<circle cx="771.91" cy="582.73" r="1.5" fill="#3b8ad6"/>
<circle cx="772.28" cy="564.72" r="1.5" fill="#3b8ad6"/>
<circle cx="770.25" cy="567.07" r="1.5" fill="#3b8ad6"/>
<circle cx="765.78" cy="569.11" r="1.5" fill="#3b8ad6"/>
<circle cx="773.27" cy="567.75" r="1.5" fill="#3b8ad6"/>
<path d="M718.3,552.7 L735.5,552.7 L752.7,556.09 L770,564.94" fill="none" stroke="#3b8ad6" stroke-width="1.1"/>
<line x1="718.3" y1="554.11" x2="718.3" y2="551.28" stroke="#3b8ad6" stroke-width="1"/>
<line x1="715.8" y1="551.28" x2="720.8" y2="551.28" stroke="#3b8ad6" stroke-width="1"/>
<line x1="715.8" y1="554.11" x2="720.8" y2="554.11" stroke="#3b8ad6" stroke-width="1"/>
<line x1="735.5" y1="554.47" x2="735.5" y2="550.93" stroke="#3b8ad6" stroke-width="1"/>
<line x1="733" y1="550.93" x2="738" y2="550.93" stroke="#3b8ad6" stroke-width="1"/>
<line x1="733" y1="554.47" x2="738" y2="554.47" stroke="#3b8ad6" stroke-width="1"/>
<line x1="752.7" y1="557.86" x2="752.7" y2="554.32" stroke="#3b8ad6" stroke-width="1"/>
<line x1="750.2" y1="554.32" x2="755.2" y2="554.32" stroke="#3b8ad6" stroke-width="1"/>
<line x1="750.2" y1="557.86" x2="755.2" y2="557.86" stroke="#3b8ad6" stroke-width="1"/>
<line x1="770" y1="567.6" x2="770" y2="562.29" stroke="#3b8ad6" stroke-width="1"/>
<line x1="767.5" y1="562.29" x2="772.5" y2="562.29" stroke="#3b8ad6" stroke-width="1"/>
<line x1="767.5" y1="567.6" x2="772.5" y2="567.6" stroke="#3b8ad6" stroke-width="1"/>
<text x="770" y="543" font-size="14" text-anchor="middle" fill="#222">***</text>
<path d="M576.3,635 L576.3,725 L648,725" fill="none" stroke="#444" stroke-width="1.2"/>
<line x1="573.8" y1="725" x2="576.3" y2="725" stroke="#444" stroke-width="1.2"/>
<text x="571.8" y="730.15" font-size="14.3" text-anchor="end" fill="#000">0</text>
<line x1="573.8" y1="710" x2="576.3" y2="710" stroke="#444" stroke-width="1.2"/>
<text x="571.8" y="715.15" font-size="14.3" text-anchor="end" fill="#000">1</text>
<line x1="573.8" y1="695" x2="576.3" y2="695" stroke="#444" stroke-width="1.2"/>
<text x="571.8" y="700.15" font-size="14.3" text-anchor="end" fill="#000">2</text>
<line x1="573.8" y1="680" x2="576.3" y2="680" stroke="#444" stroke-width="1.2"/>
<text x="571.8" y="685.15" font-size="14.3" text-anchor="end" fill="#000">3</text>
<line x1="573.8" y1="665" x2="576.3" y2="665" stroke="#444" stroke-width="1.2"/>
<text x="571.8" y="670.15" font-size="14.3" text-anchor="end" fill="#000">4</text>
<line x1="573.8" y1="650" x2="576.3" y2="650" stroke="#444" stroke-width="1.2"/>
<text x="571.8" y="655.15" font-size="14.3" text-anchor="end" fill="#000">5</text>
<line x1="573.8" y1="635" x2="576.3" y2="635" stroke="#444" stroke-width="1.2"/>
<text x="571.8" y="640.15" font-size="14.3" text-anchor="end" fill="#000">6</text>
<line x1="585.6" y1="725" x2="585.6" y2="727.5" stroke="#444" stroke-width="1.2"/>
<text x="585.6" y="740" font-size="11.5" text-anchor="middle" fill="#000">0</text>
<line x1="603.3" y1="725" x2="603.3" y2="727.5" stroke="#444" stroke-width="1.2"/>
<text x="603.3" y="740" font-size="11.5" text-anchor="middle" fill="#000">2w</text>
<line x1="620.6" y1="725" x2="620.6" y2="727.5" stroke="#444" stroke-width="1.2"/>
<text x="620.6" y="740" font-size="11.5" text-anchor="middle" fill="#000">4w</text>
<line x1="637.9" y1="725" x2="637.9" y2="727.5" stroke="#444" stroke-width="1.2"/>
<text x="637.9" y="740" font-size="11.5" text-anchor="middle" fill="#000">6w</text>
<text x="553" y="680" font-size="14.5" text-anchor="middle" fill="#000" transform="rotate(-90 553 680)">LVID;d</text>
<circle cx="582.71" cy="678.31" r="1.5" fill="#e23a3e"/>
<circle cx="581.67" cy="677.66" r="1.5" fill="#e23a3e"/>
<circle cx="589.88" cy="680.72" r="1.5" fill="#e23a3e"/>
<circle cx="585.83" cy="675.54" r="1.5" fill="#e23a3e"/>
<circle cx="589.55" cy="679.79" r="1.5" fill="#e23a3e"/>
<circle cx="585.74" cy="679.84" r="1.5" fill="#e23a3e"/>
<circle cx="599.53" cy="683.57" r="1.5" fill="#e23a3e"/>
<circle cx="600.7" cy="687.33" r="1.5" fill="#e23a3e"/>
<circle cx="602.54" cy="677.64" r="1.5" fill="#e23a3e"/>
<circle cx="604.71" cy="674.78" r="1.5" fill="#e23a3e"/>
<circle cx="606.01" cy="678.83" r="1.5" fill="#e23a3e"/>
<circle cx="605.81" cy="691.43" r="1.5" fill="#e23a3e"/>
<circle cx="604.81" cy="683.6" r="1.5" fill="#e23a3e"/>
<circle cx="600.83" cy="685.1" r="1.5" fill="#e23a3e"/>
<circle cx="602.6" cy="680.57" r="1.5" fill="#e23a3e"/>
<circle cx="602.08" cy="691.82" r="1.5" fill="#e23a3e"/>
<circle cx="603.2" cy="691.88" r="1.5" fill="#e23a3e"/>
<circle cx="600.95" cy="684.29" r="1.5" fill="#e23a3e"/>
<circle cx="620.98" cy="669.64" r="1.5" fill="#e23a3e"/>
<circle cx="620.19" cy="676.61" r="1.5" fill="#e23a3e"/>
<circle cx="615.96" cy="662.33" r="1.5" fill="#e23a3e"/>
<circle cx="623.83" cy="680.54" r="1.5" fill="#e23a3e"/>
<circle cx="621.46" cy="675.25" r="1.5" fill="#e23a3e"/>
<circle cx="623.63" cy="676.37" r="1.5" fill="#e23a3e"/>
<circle cx="622.97" cy="680.44" r="1.5" fill="#e23a3e"/>
<circle cx="622.91" cy="668.87" r="1.5" fill="#e23a3e"/>
<circle cx="625.53" cy="683.37" r="1.5" fill="#e23a3e"/>
<circle cx="619.37" cy="681.78" r="1.5" fill="#e23a3e"/>
<circle cx="619.54" cy="677.65" r="1.5" fill="#e23a3e"/>
<circle cx="615.64" cy="678.34" r="1.5" fill="#e23a3e"/>
<circle cx="622.24" cy="668.75" r="1.5" fill="#e23a3e"/>
<circle cx="621.41" cy="678.63" r="1.5" fill="#e23a3e"/>
<circle cx="621.36" cy="672.49" r="1.5" fill="#e23a3e"/>
<circle cx="642.88" cy="671.34" r="1.5" fill="#e23a3e"/>
<circle cx="634.87" cy="653.14" r="1.5" fill="#e23a3e"/>
<circle cx="635.17" cy="666.66" r="1.5" fill="#e23a3e"/>
<circle cx="640.24" cy="663.74" r="1.5" fill="#e23a3e"/>
<circle cx="641.02" cy="683.51" r="1.5" fill="#e23a3e"/>
<circle cx="637.73" cy="659.12" r="1.5" fill="#e23a3e"/>
<circle cx="633.45" cy="673.19" r="1.5" fill="#e23a3e"/>
<circle cx="636.6" cy="657.21" r="1.5" fill="#e23a3e"/>
<circle cx="641.16" cy="661.18" r="1.5" fill="#e23a3e"/>
<circle cx="637.9" cy="660.8" r="1.5" fill="#e23a3e"/>
<circle cx="637.51" cy="654.72" r="1.5" fill="#e23a3e"/>
<circle cx="636.79" cy="662.55" r="1.5" fill="#e23a3e"/>
<circle cx="639.18" cy="675.64" r="1.5" fill="#e23a3e"/>
<circle cx="638.88" cy="664.83" r="1.5" fill="#e23a3e"/>
<circle cx="639.83" cy="664.7" r="1.5" fill="#e23a3e"/>
<circle cx="641.55" cy="678.75" r="1.5" fill="#e23a3e"/>
<circle cx="640.41" cy="660.06" r="1.5" fill="#e23a3e"/>
<circle cx="636.65" cy="651.17" r="1.5" fill="#e23a3e"/>
<path d="M585.6,678.64 L603.3,684.24 L620.6,675.41 L637.9,664.57" fill="none" stroke="#e23a3e" stroke-width="1.1"/>
<line x1="585.6" y1="679.39" x2="585.6" y2="677.89" stroke="#e23a3e" stroke-width="1"/>
<line x1="583.1" y1="677.89" x2="588.1" y2="677.89" stroke="#e23a3e" stroke-width="1"/>
<line x1="583.1" y1="679.39" x2="588.1" y2="679.39" stroke="#e23a3e" stroke-width="1"/>
<line x1="603.3" y1="685.74" x2="603.3" y2="682.74" stroke="#e23a3e" stroke-width="1"/>
<line x1="600.8" y1="682.74" x2="605.8" y2="682.74" stroke="#e23a3e" stroke-width="1"/>
<line x1="600.8" y1="685.74" x2="605.8" y2="685.74" stroke="#e23a3e" stroke-width="1"/>
<line x1="620.6" y1="676.91" x2="620.6" y2="673.91" stroke="#e23a3e" stroke-width="1"/>
<line x1="618.1" y1="673.91" x2="623.1" y2="673.91" stroke="#e23a3e" stroke-width="1"/>
<line x1="618.1" y1="676.91" x2="623.1" y2="676.91" stroke="#e23a3e" stroke-width="1"/>
<line x1="637.9" y1="666.82" x2="637.9" y2="662.32" stroke="#e23a3e" stroke-width="1"/>
<line x1="635.4" y1="662.32" x2="640.4" y2="662.32" stroke="#e23a3e" stroke-width="1"/>
<line x1="635.4" y1="666.82" x2="640.4" y2="666.82" stroke="#e23a3e" stroke-width="1"/>
<circle cx="585.61" cy="677.4" r="1.5" fill="#3b8ad6"/>
<circle cx="590.22" cy="678.52" r="1.5" fill="#3b8ad6"/>
<circle cx="584.34" cy="670.65" r="1.5" fill="#3b8ad6"/>
<circle cx="586.96" cy="675.75" r="1.5" fill="#3b8ad6"/>
<circle cx="586.96" cy="688.45" r="1.5" fill="#3b8ad6"/>
<circle cx="601.96" cy="678.74" r="1.5" fill="#3b8ad6"/>
<circle cx="601.76" cy="673.22" r="1.5" fill="#3b8ad6"/>
<circle cx="605.85" cy="680.11" r="1.5" fill="#3b8ad6"/>
<circle cx="604.66" cy="682.64" r="1.5" fill="#3b8ad6"/>
<circle cx="602.87" cy="683.77" r="1.5" fill="#3b8ad6"/>
<circle cx="603.44" cy="675.54" r="1.5" fill="#3b8ad6"/>
<circle cx="600.54" cy="676.35" r="1.5" fill="#3b8ad6"/>
<circle cx="606.19" cy="674.76" r="1.5" fill="#3b8ad6"/>
<circle cx="615.8" cy="674.63" r="1.5" fill="#3b8ad6"/>
<circle cx="622.03" cy="667.21" r="1.5" fill="#3b8ad6"/>
<circle cx="620.15" cy="674.9" r="1.5" fill="#3b8ad6"/>
<circle cx="617.81" cy="670.97" r="1.5" fill="#3b8ad6"/>
<circle cx="621.47" cy="672.59" r="1.5" fill="#3b8ad6"/>
<circle cx="621.43" cy="668.91" r="1.5" fill="#3b8ad6"/>
<circle cx="616.47" cy="674.73" r="1.5" fill="#3b8ad6"/>
<circle cx="620.5" cy="677.07" r="1.5" fill="#3b8ad6"/>
<circle cx="617.25" cy="675.58" r="1.5" fill="#3b8ad6"/>
<circle cx="623.59" cy="677.75" r="1.5" fill="#3b8ad6"/>
<circle cx="618.87" cy="676.55" r="1.5" fill="#3b8ad6"/>
<circle cx="618.88" cy="677.48" r="1.5" fill="#3b8ad6"/>
<circle cx="635.05" cy="679.6" r="1.5" fill="#3b8ad6"/>
<circle cx="633.38" cy="677.65" r="1.5" fill="#3b8ad6"/>
<circle cx="634.77" cy="672.09" r="1.5" fill="#3b8ad6"/>
<circle cx="634.42" cy="677.46" r="1.5" fill="#3b8ad6"/>
<circle cx="639.14" cy="683.39" r="1.5" fill="#3b8ad6"/>
<circle cx="641.37" cy="679.16" r="1.5" fill="#3b8ad6"/>
<circle cx="635.11" cy="674.35" r="1.5" fill="#3b8ad6"/>
<circle cx="634.02" cy="686.72" r="1.5" fill="#3b8ad6"/>
<circle cx="638.24" cy="671.2" r="1.5" fill="#3b8ad6"/>
<circle cx="634.06" cy="679.47" r="1.5" fill="#3b8ad6"/>
<circle cx="636.95" cy="686.13" r="1.5" fill="#3b8ad6"/>
<circle cx="640.51" cy="684.39" r="1.5" fill="#3b8ad6"/>
<path d="M585.6,678.15 L603.3,678.14 L620.6,674.03 L637.9,679.3" fill="none" stroke="#3b8ad6" stroke-width="1.1"/>
<line x1="585.6" y1="679.65" x2="585.6" y2="676.65" stroke="#3b8ad6" stroke-width="1"/>
<line x1="583.1" y1="676.65" x2="588.1" y2="676.65" stroke="#3b8ad6" stroke-width="1"/>
<line x1="583.1" y1="679.65" x2="588.1" y2="679.65" stroke="#3b8ad6" stroke-width="1"/>
<line x1="603.3" y1="679.64" x2="603.3" y2="676.64" stroke="#3b8ad6" stroke-width="1"/>
<line x1="600.8" y1="676.64" x2="605.8" y2="676.64" stroke="#3b8ad6" stroke-width="1"/>
<line x1="600.8" y1="679.64" x2="605.8" y2="679.64" stroke="#3b8ad6" stroke-width="1"/>
<line x1="620.6" y1="675.53" x2="620.6" y2="672.53" stroke="#3b8ad6" stroke-width="1"/>
<line x1="618.1" y1="672.53" x2="623.1" y2="672.53" stroke="#3b8ad6" stroke-width="1"/>
<line x1="618.1" y1="675.53" x2="623.1" y2="675.53" stroke="#3b8ad6" stroke-width="1"/>
<line x1="637.9" y1="680.8" x2="637.9" y2="677.8" stroke="#3b8ad6" stroke-width="1"/>
<line x1="635.4" y1="677.8" x2="640.4" y2="677.8" stroke="#3b8ad6" stroke-width="1"/>
<line x1="635.4" y1="680.8" x2="640.4" y2="680.8" stroke="#3b8ad6" stroke-width="1"/>
<path d="M709,635 L709,725 L781.5,725" fill="none" stroke="#444" stroke-width="1.2"/>
<line x1="706.5" y1="725" x2="709" y2="725" stroke="#444" stroke-width="1.2"/>
<text x="704.5" y="730.15" font-size="14.3" text-anchor="end" fill="#000">0</text>
<line x1="706.5" y1="710" x2="709" y2="710" stroke="#444" stroke-width="1.2"/>
<text x="704.5" y="715.15" font-size="14.3" text-anchor="end" fill="#000">1</text>
<line x1="706.5" y1="695" x2="709" y2="695" stroke="#444" stroke-width="1.2"/>
<text x="704.5" y="700.15" font-size="14.3" text-anchor="end" fill="#000">2</text>
<line x1="706.5" y1="680" x2="709" y2="680" stroke="#444" stroke-width="1.2"/>
<text x="704.5" y="685.15" font-size="14.3" text-anchor="end" fill="#000">3</text>
<line x1="706.5" y1="665" x2="709" y2="665" stroke="#444" stroke-width="1.2"/>
<text x="704.5" y="670.15" font-size="14.3" text-anchor="end" fill="#000">4</text>
<line x1="706.5" y1="650" x2="709" y2="650" stroke="#444" stroke-width="1.2"/>
<text x="704.5" y="655.15" font-size="14.3" text-anchor="end" fill="#000">5</text>
<line x1="706.5" y1="635" x2="709" y2="635" stroke="#444" stroke-width="1.2"/>
<text x="704.5" y="640.15" font-size="14.3" text-anchor="end" fill="#000">6</text>
<line x1="718.3" y1="725" x2="718.3" y2="727.5" stroke="#444" stroke-width="1.2"/>
<text x="718.3" y="740" font-size="11.5" text-anchor="middle" fill="#000">0</text>
<line x1="735.5" y1="725" x2="735.5" y2="727.5" stroke="#444" stroke-width="1.2"/>
<text x="735.5" y="740" font-size="11.5" text-anchor="middle" fill="#000">2w</text>
<line x1="752.7" y1="725" x2="752.7" y2="727.5" stroke="#444" stroke-width="1.2"/>
<text x="752.7" y="740" font-size="11.5" text-anchor="middle" fill="#000">4w</text>
<line x1="770" y1="725" x2="770" y2="727.5" stroke="#444" stroke-width="1.2"/>
<text x="770" y="740" font-size="11.5" text-anchor="middle" fill="#000">6w</text>
<text x="686" y="680" font-size="14.5" text-anchor="middle" fill="#000" transform="rotate(-90 686 680)">LVID;s</text>
<circle cx="719.58" cy="692.15" r="1.5" fill="#e23a3e"/>
<circle cx="718.04" cy="689.05" r="1.5" fill="#e23a3e"/>
<circle cx="718.86" cy="694.73" r="1.5" fill="#e23a3e"/>
<circle cx="716.94" cy="693.8" r="1.5" fill="#e23a3e"/>
<circle cx="715.28" cy="693.31" r="1.5" fill="#e23a3e"/>
<circle cx="718.24" cy="689.45" r="1.5" fill="#e23a3e"/>
<circle cx="733.55" cy="697" r="1.5" fill="#e23a3e"/>
<circle cx="733.8" cy="697.77" r="1.5" fill="#e23a3e"/>
<circle cx="732.37" cy="706.86" r="1.5" fill="#e23a3e"/>
<circle cx="739.63" cy="703.35" r="1.5" fill="#e23a3e"/>
<circle cx="734.76" cy="706.09" r="1.5" fill="#e23a3e"/>
<circle cx="732.5" cy="700.35" r="1.5" fill="#e23a3e"/>
<circle cx="730.82" cy="695.69" r="1.5" fill="#e23a3e"/>
<circle cx="732.64" cy="699.28" r="1.5" fill="#e23a3e"/>
<circle cx="739.18" cy="703.63" r="1.5" fill="#e23a3e"/>
<circle cx="733.87" cy="690.44" r="1.5" fill="#e23a3e"/>
<circle cx="737.17" cy="704.43" r="1.5" fill="#e23a3e"/>
<circle cx="732.81" cy="693.34" r="1.5" fill="#e23a3e"/>
<circle cx="754.21" cy="677.39" r="1.5" fill="#e23a3e"/>
<circle cx="752.2" cy="684.11" r="1.5" fill="#e23a3e"/>
<circle cx="755.06" cy="676" r="1.5" fill="#e23a3e"/>
<circle cx="752.98" cy="694.12" r="1.5" fill="#e23a3e"/>
<circle cx="751.45" cy="690.17" r="1.5" fill="#e23a3e"/>
<circle cx="750.5" cy="688.28" r="1.5" fill="#e23a3e"/>
<circle cx="753.64" cy="683.26" r="1.5" fill="#e23a3e"/>
<circle cx="756.02" cy="687.37" r="1.5" fill="#e23a3e"/>
<circle cx="754.62" cy="673.34" r="1.5" fill="#e23a3e"/>
<circle cx="752.5" cy="688.85" r="1.5" fill="#e23a3e"/>
<circle cx="750.99" cy="687.75" r="1.5" fill="#e23a3e"/>
<circle cx="756.61" cy="695.06" r="1.5" fill="#e23a3e"/>
<circle cx="756.16" cy="682.48" r="1.5" fill="#e23a3e"/>
<circle cx="749.16" cy="680.13" r="1.5" fill="#e23a3e"/>
<circle cx="754.49" cy="691.64" r="1.5" fill="#e23a3e"/>
<circle cx="772.72" cy="694.28" r="1.5" fill="#e23a3e"/>
<circle cx="771.76" cy="695.81" r="1.5" fill="#e23a3e"/>
<circle cx="774.64" cy="665.43" r="1.5" fill="#e23a3e"/>
<circle cx="773.79" cy="669.93" r="1.5" fill="#e23a3e"/>
<circle cx="767.46" cy="676" r="1.5" fill="#e23a3e"/>
<circle cx="774.97" cy="670.29" r="1.5" fill="#e23a3e"/>
<circle cx="768.28" cy="673.53" r="1.5" fill="#e23a3e"/>
<circle cx="768.8" cy="673.9" r="1.5" fill="#e23a3e"/>
<circle cx="774.76" cy="698.6" r="1.5" fill="#e23a3e"/>
<circle cx="766.67" cy="673.16" r="1.5" fill="#e23a3e"/>
<circle cx="768.95" cy="670.94" r="1.5" fill="#e23a3e"/>
<circle cx="771.26" cy="665.78" r="1.5" fill="#e23a3e"/>
<circle cx="767.73" cy="667.8" r="1.5" fill="#e23a3e"/>
<circle cx="767.67" cy="687.4" r="1.5" fill="#e23a3e"/>
<circle cx="772.94" cy="676.18" r="1.5" fill="#e23a3e"/>
<circle cx="771.13" cy="696.15" r="1.5" fill="#e23a3e"/>
<circle cx="772.44" cy="662.17" r="1.5" fill="#e23a3e"/>
<circle cx="772.9" cy="695.64" r="1.5" fill="#e23a3e"/>
<path d="M718.3,692.08 L735.5,699.85 L752.7,685.33 L770,678.5" fill="none" stroke="#e23a3e" stroke-width="1.1"/>
<line x1="718.3" y1="692.83" x2="718.3" y2="691.33" stroke="#e23a3e" stroke-width="1"/>
<line x1="715.8" y1="691.33" x2="720.8" y2="691.33" stroke="#e23a3e" stroke-width="1"/>
<line x1="715.8" y1="692.83" x2="720.8" y2="692.83" stroke="#e23a3e" stroke-width="1"/>
<line x1="735.5" y1="701.35" x2="735.5" y2="698.35" stroke="#e23a3e" stroke-width="1"/>
<line x1="733" y1="698.35" x2="738" y2="698.35" stroke="#e23a3e" stroke-width="1"/>
<line x1="733" y1="701.35" x2="738" y2="701.35" stroke="#e23a3e" stroke-width="1"/>
<line x1="752.7" y1="687.58" x2="752.7" y2="683.08" stroke="#e23a3e" stroke-width="1"/>
<line x1="750.2" y1="683.08" x2="755.2" y2="683.08" stroke="#e23a3e" stroke-width="1"/>
<line x1="750.2" y1="687.58" x2="755.2" y2="687.58" stroke="#e23a3e" stroke-width="1"/>
<line x1="770" y1="681.5" x2="770" y2="675.5" stroke="#e23a3e" stroke-width="1"/>
<line x1="767.5" y1="675.5" x2="772.5" y2="675.5" stroke="#e23a3e" stroke-width="1"/>
<line x1="767.5" y1="681.5" x2="772.5" y2="681.5" stroke="#e23a3e" stroke-width="1"/>
<circle cx="716.43" cy="692.17" r="1.5" fill="#3b8ad6"/>
<circle cx="720.32" cy="689.84" r="1.5" fill="#3b8ad6"/>
<circle cx="721.76" cy="698.82" r="1.5" fill="#3b8ad6"/>
<circle cx="714.65" cy="690.55" r="1.5" fill="#3b8ad6"/>
<circle cx="716.75" cy="701.69" r="1.5" fill="#3b8ad6"/>
<circle cx="739.86" cy="703.5" r="1.5" fill="#3b8ad6"/>
<circle cx="734.02" cy="696.47" r="1.5" fill="#3b8ad6"/>
<circle cx="736.82" cy="708.33" r="1.5" fill="#3b8ad6"/>
<circle cx="738.69" cy="697.53" r="1.5" fill="#3b8ad6"/>
<circle cx="733.29" cy="699.18" r="1.5" fill="#3b8ad6"/>
<circle cx="738.33" cy="700.45" r="1.5" fill="#3b8ad6"/>
<circle cx="730.54" cy="698.43" r="1.5" fill="#3b8ad6"/>
<circle cx="733.9" cy="699.73" r="1.5" fill="#3b8ad6"/>
<circle cx="749.37" cy="690.18" r="1.5" fill="#3b8ad6"/>
<circle cx="751.16" cy="689.94" r="1.5" fill="#3b8ad6"/>
<circle cx="749.83" cy="693.9" r="1.5" fill="#3b8ad6"/>
<circle cx="747.95" cy="693.84" r="1.5" fill="#3b8ad6"/>
<circle cx="755.73" cy="688.73" r="1.5" fill="#3b8ad6"/>
<circle cx="749.43" cy="690.62" r="1.5" fill="#3b8ad6"/>
<circle cx="753.43" cy="694.09" r="1.5" fill="#3b8ad6"/>
<circle cx="753.24" cy="696.14" r="1.5" fill="#3b8ad6"/>
<circle cx="756.19" cy="696.15" r="1.5" fill="#3b8ad6"/>
<circle cx="756.17" cy="696.46" r="1.5" fill="#3b8ad6"/>
<circle cx="753.92" cy="699.26" r="1.5" fill="#3b8ad6"/>
<circle cx="749.39" cy="694.58" r="1.5" fill="#3b8ad6"/>
<circle cx="772.61" cy="702.43" r="1.5" fill="#3b8ad6"/>
<circle cx="765.98" cy="690.35" r="1.5" fill="#3b8ad6"/>
<circle cx="774.29" cy="698.62" r="1.5" fill="#3b8ad6"/>
<circle cx="768.08" cy="690.4" r="1.5" fill="#3b8ad6"/>
<circle cx="767.53" cy="693.9" r="1.5" fill="#3b8ad6"/>
<circle cx="767.17" cy="696.45" r="1.5" fill="#3b8ad6"/>
<circle cx="768.96" cy="698.94" r="1.5" fill="#3b8ad6"/>
<circle cx="772.92" cy="685.91" r="1.5" fill="#3b8ad6"/>
<circle cx="773.55" cy="685" r="1.5" fill="#3b8ad6"/>
<circle cx="772.46" cy="707.9" r="1.5" fill="#3b8ad6"/>
<circle cx="772.29" cy="693.88" r="1.5" fill="#3b8ad6"/>
<circle cx="767.44" cy="685.1" r="1.5" fill="#3b8ad6"/>
<path d="M718.3,694.61 L735.5,700.45 L752.7,693.66 L770,694.07" fill="none" stroke="#3b8ad6" stroke-width="1.1"/>
<line x1="718.3" y1="696.11" x2="718.3" y2="693.11" stroke="#3b8ad6" stroke-width="1"/>
<line x1="715.8" y1="693.11" x2="720.8" y2="693.11" stroke="#3b8ad6" stroke-width="1"/>
<line x1="715.8" y1="696.11" x2="720.8" y2="696.11" stroke="#3b8ad6" stroke-width="1"/>
<line x1="735.5" y1="701.95" x2="735.5" y2="698.95" stroke="#3b8ad6" stroke-width="1"/>
<line x1="733" y1="698.95" x2="738" y2="698.95" stroke="#3b8ad6" stroke-width="1"/>
<line x1="733" y1="701.95" x2="738" y2="701.95" stroke="#3b8ad6" stroke-width="1"/>
<line x1="752.7" y1="695.16" x2="752.7" y2="692.16" stroke="#3b8ad6" stroke-width="1"/>
<line x1="750.2" y1="692.16" x2="755.2" y2="692.16" stroke="#3b8ad6" stroke-width="1"/>
<line x1="750.2" y1="695.16" x2="755.2" y2="695.16" stroke="#3b8ad6" stroke-width="1"/>
<line x1="770" y1="695.57" x2="770" y2="692.57" stroke="#3b8ad6" stroke-width="1"/>
<line x1="767.5" y1="692.57" x2="772.5" y2="692.57" stroke="#3b8ad6" stroke-width="1"/>
<line x1="767.5" y1="695.57" x2="772.5" y2="695.57" stroke="#3b8ad6" stroke-width="1"/>
<text x="770" y="645" font-size="14" text-anchor="middle" fill="#222">***</text>
</svg></body></html>
